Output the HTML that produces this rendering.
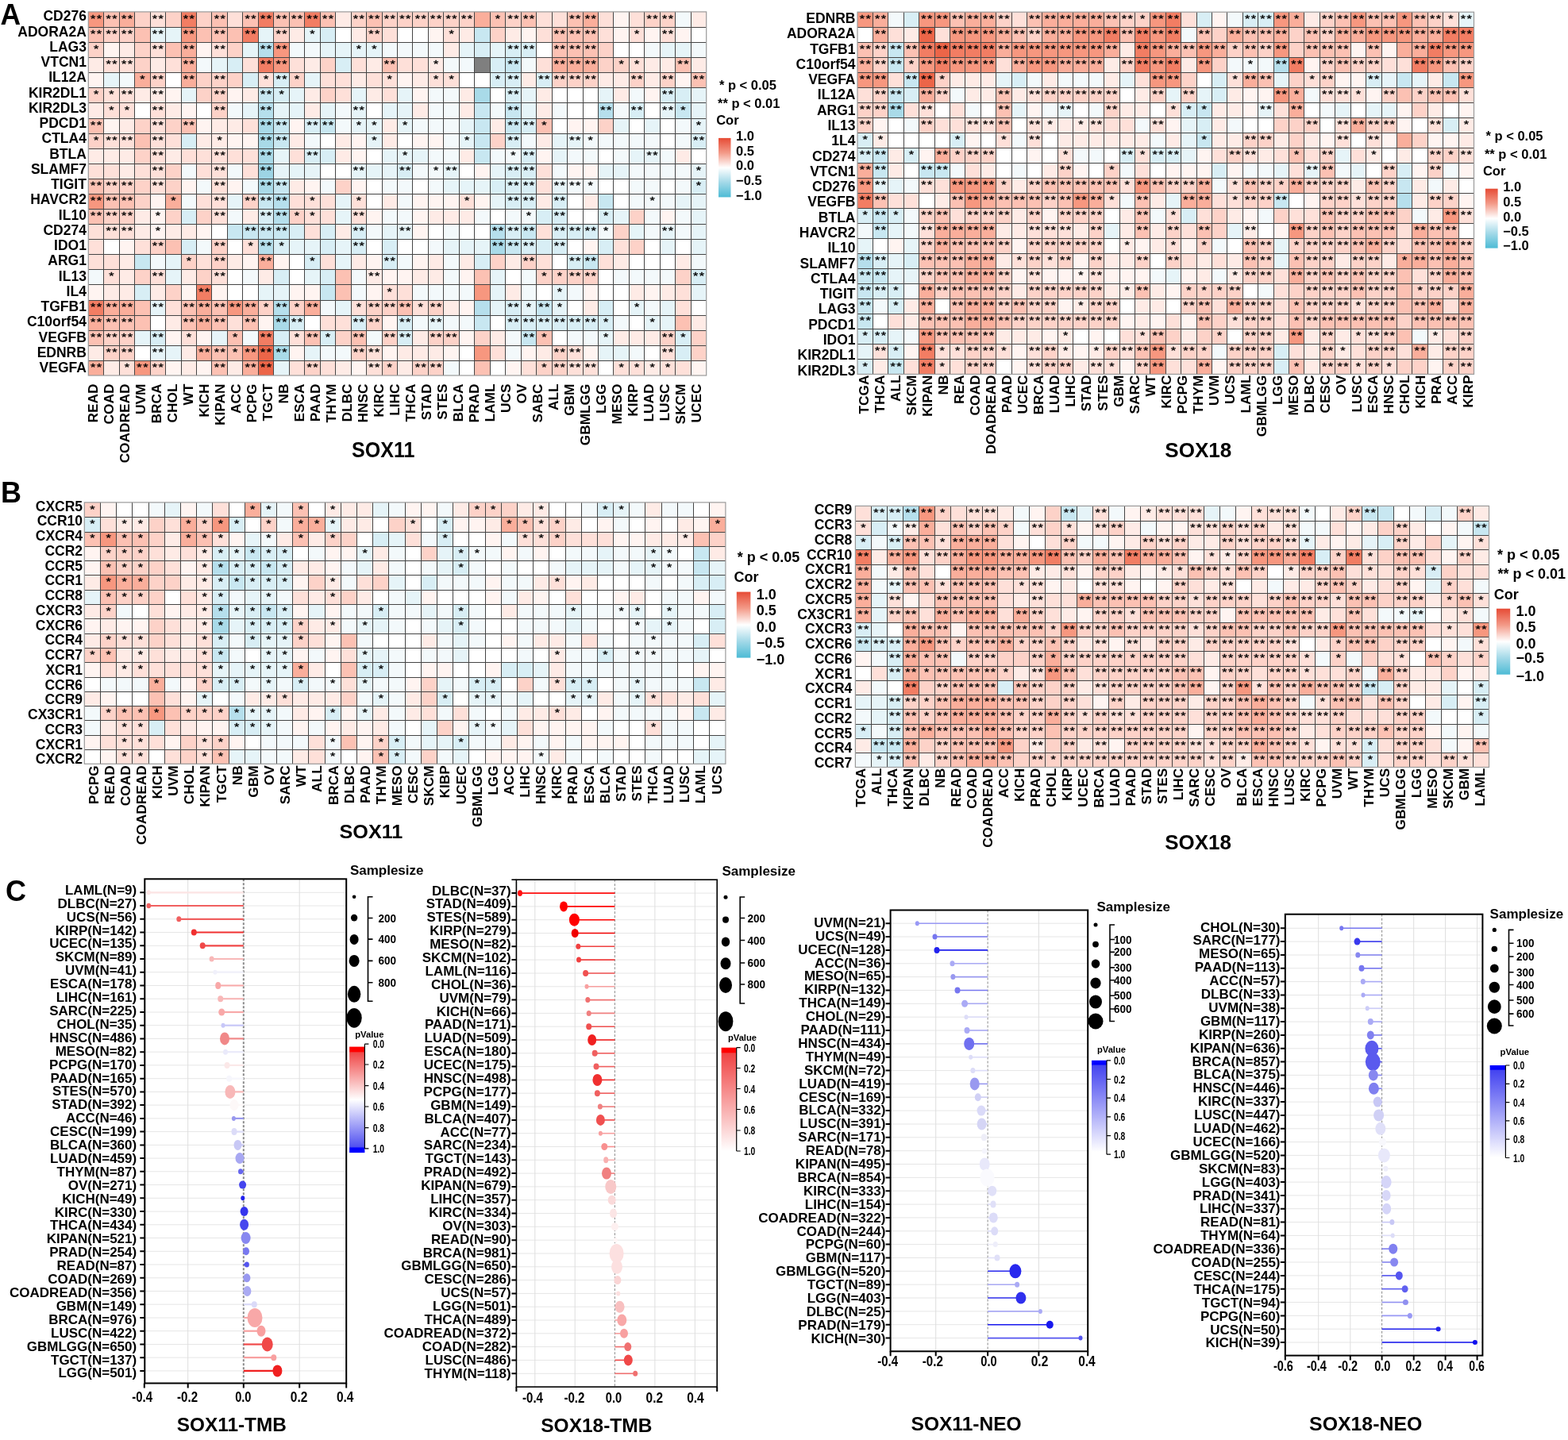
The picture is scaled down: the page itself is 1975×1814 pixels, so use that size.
<!DOCTYPE html>
<html><head><meta charset="utf-8"><title>Figure</title>
<style>html,body{margin:0;padding:0;background:#fff;}body{width:1975px;height:1814px;overflow:hidden;}svg{display:block;}text{font-family:'Liberation Sans', Arial, sans-serif;fill:#000;}</style>
</head><body>
<svg width="1975" height="1814" viewBox="0 0 1975 1814">
<rect width="1975" height="1814" fill="#fff"/>
<text x="0.5" y="30.5" font-size="36" font-weight="bold" textLength="25.6" lengthAdjust="spacingAndGlyphs">A</text>
<text x="1.0" y="633.0" font-size="36" font-weight="bold">B</text>
<text x="7.0" y="1134.5" font-size="36" font-weight="bold">C</text>
<g shape-rendering="crispEdges"><path fill="#F7977F" d="M111.3 14.9h19.8v19.4h-19.8zM228.1 34.0h19.8v19.4h-19.8zM344.8 53.1h19.8v19.4h-19.8zM344.8 72.2h19.8v19.4h-19.8zM111.3 244.0h19.8v19.4h-19.8zM597.8 358.5h19.8v19.4h-19.8zM286.4 377.6h19.8v19.4h-19.8zM305.9 434.8h19.8v19.4h-19.8zM597.8 434.8h19.8v19.4h-19.8zM169.7 453.9h19.8v19.4h-19.8z"/><path fill="#FCC1B3" d="M130.8 14.9h19.8v19.4h-19.8zM267.0 14.9h19.8v19.4h-19.8zM305.9 14.9h19.8v19.4h-19.8zM344.8 14.9h19.8v19.4h-19.8zM364.3 14.9h19.8v19.4h-19.8zM403.2 14.9h19.8v19.4h-19.8zM461.6 14.9h19.8v19.4h-19.8zM617.3 14.9h19.8v19.4h-19.8zM656.2 14.9h19.8v19.4h-19.8zM714.6 14.9h19.8v19.4h-19.8zM111.3 34.0h19.8v19.4h-19.8zM169.7 34.0h19.8v19.4h-19.8zM247.5 34.0h19.8v19.4h-19.8zM267.0 34.0h19.8v19.4h-19.8zM286.4 34.0h19.8v19.4h-19.8zM695.1 34.0h19.8v19.4h-19.8zM714.6 34.0h19.8v19.4h-19.8zM734.0 34.0h19.8v19.4h-19.8zM208.6 53.1h19.8v19.4h-19.8zM695.1 53.1h19.8v19.4h-19.8zM714.6 53.1h19.8v19.4h-19.8zM734.0 53.1h19.8v19.4h-19.8zM481.0 72.2h19.8v19.4h-19.8zM850.8 72.2h19.8v19.4h-19.8zM870.2 91.3h19.8v19.4h-19.8zM111.3 148.5h19.8v19.4h-19.8zM228.1 148.5h19.8v19.4h-19.8zM675.6 148.5h19.8v19.4h-19.8zM169.7 167.6h19.8v19.4h-19.8zM111.3 224.9h19.8v19.4h-19.8zM130.8 244.0h19.8v19.4h-19.8zM150.2 244.0h19.8v19.4h-19.8zM111.3 263.0h19.8v19.4h-19.8zM208.6 301.2h19.8v19.4h-19.8zM422.7 339.4h19.8v19.4h-19.8zM597.8 339.4h19.8v19.4h-19.8zM422.7 358.5h19.8v19.4h-19.8zM169.7 377.6h19.8v19.4h-19.8zM228.1 377.6h19.8v19.4h-19.8zM267.0 377.6h19.8v19.4h-19.8zM500.5 377.6h19.8v19.4h-19.8zM130.8 396.7h19.8v19.4h-19.8zM150.2 396.7h19.8v19.4h-19.8zM169.7 396.7h19.8v19.4h-19.8zM228.1 396.7h19.8v19.4h-19.8zM267.0 396.7h19.8v19.4h-19.8zM305.9 396.7h19.8v19.4h-19.8zM850.8 396.7h19.8v19.4h-19.8zM111.3 415.7h19.8v19.4h-19.8zM286.4 415.7h19.8v19.4h-19.8zM383.7 415.7h19.8v19.4h-19.8zM442.1 415.7h19.8v19.4h-19.8zM675.6 415.7h19.8v19.4h-19.8zM267.0 434.8h19.8v19.4h-19.8zM286.4 434.8h19.8v19.4h-19.8zM267.0 453.9h19.8v19.4h-19.8zM597.8 453.9h19.8v19.4h-19.8z"/><path fill="#FAAE9B" d="M150.2 14.9h19.8v19.4h-19.8zM597.8 14.9h19.8v19.4h-19.8zM734.0 14.9h19.8v19.4h-19.8zM228.1 53.1h19.8v19.4h-19.8zM228.1 72.2h19.8v19.4h-19.8zM695.1 72.2h19.8v19.4h-19.8zM714.6 72.2h19.8v19.4h-19.8zM734.0 72.2h19.8v19.4h-19.8zM169.7 91.3h19.8v19.4h-19.8zM228.1 91.3h19.8v19.4h-19.8zM208.6 244.0h19.8v19.4h-19.8zM325.4 320.3h19.8v19.4h-19.8zM130.8 377.6h19.8v19.4h-19.8zM150.2 377.6h19.8v19.4h-19.8zM247.5 377.6h19.8v19.4h-19.8zM305.9 377.6h19.8v19.4h-19.8zM383.7 377.6h19.8v19.4h-19.8zM111.3 396.7h19.8v19.4h-19.8zM247.5 396.7h19.8v19.4h-19.8zM247.5 434.8h19.8v19.4h-19.8zM111.3 453.9h19.8v19.4h-19.8zM305.9 453.9h19.8v19.4h-19.8z"/><path fill="#FDD2C8" d="M169.7 14.9h19.8v19.4h-19.8zM208.6 14.9h19.8v19.4h-19.8zM247.5 14.9h19.8v19.4h-19.8zM442.1 14.9h19.8v19.4h-19.8zM481.0 14.9h19.8v19.4h-19.8zM500.5 14.9h19.8v19.4h-19.8zM520.0 14.9h19.8v19.4h-19.8zM539.4 14.9h19.8v19.4h-19.8zM558.9 14.9h19.8v19.4h-19.8zM578.3 14.9h19.8v19.4h-19.8zM636.7 14.9h19.8v19.4h-19.8zM811.9 14.9h19.8v19.4h-19.8zM831.3 14.9h19.8v19.4h-19.8zM130.8 34.0h19.8v19.4h-19.8zM150.2 34.0h19.8v19.4h-19.8zM344.8 34.0h19.8v19.4h-19.8zM461.6 34.0h19.8v19.4h-19.8zM617.3 34.0h19.8v19.4h-19.8zM111.3 53.1h19.8v19.4h-19.8zM169.7 53.1h19.8v19.4h-19.8zM286.4 53.1h19.8v19.4h-19.8zM753.5 53.1h19.8v19.4h-19.8zM169.7 72.2h19.8v19.4h-19.8zM403.2 72.2h19.8v19.4h-19.8zM753.5 72.2h19.8v19.4h-19.8zM772.9 72.2h19.8v19.4h-19.8zM189.1 91.3h19.8v19.4h-19.8zM247.5 91.3h19.8v19.4h-19.8zM267.0 91.3h19.8v19.4h-19.8zM286.4 91.3h19.8v19.4h-19.8zM364.3 91.3h19.8v19.4h-19.8zM695.1 91.3h19.8v19.4h-19.8zM714.6 91.3h19.8v19.4h-19.8zM734.0 91.3h19.8v19.4h-19.8zM792.4 91.3h19.8v19.4h-19.8zM831.3 91.3h19.8v19.4h-19.8zM111.3 110.3h19.8v19.4h-19.8zM247.5 110.3h19.8v19.4h-19.8zM267.0 110.3h19.8v19.4h-19.8zM403.2 110.3h19.8v19.4h-19.8zM267.0 129.4h19.8v19.4h-19.8zM169.7 148.5h19.8v19.4h-19.8zM208.6 148.5h19.8v19.4h-19.8zM753.5 148.5h19.8v19.4h-19.8zM111.3 167.6h19.8v19.4h-19.8zM617.3 167.6h19.8v19.4h-19.8zM169.7 186.7h19.8v19.4h-19.8zM208.6 205.8h19.8v19.4h-19.8zM130.8 224.9h19.8v19.4h-19.8zM150.2 224.9h19.8v19.4h-19.8zM169.7 224.9h19.8v19.4h-19.8zM208.6 224.9h19.8v19.4h-19.8zM422.7 224.9h19.8v19.4h-19.8zM169.7 244.0h19.8v19.4h-19.8zM305.9 244.0h19.8v19.4h-19.8zM130.8 263.0h19.8v19.4h-19.8zM150.2 263.0h19.8v19.4h-19.8zM208.6 263.0h19.8v19.4h-19.8zM247.5 263.0h19.8v19.4h-19.8zM364.3 263.0h19.8v19.4h-19.8zM792.4 263.0h19.8v19.4h-19.8zM772.9 282.1h19.8v19.4h-19.8zM189.1 301.2h19.8v19.4h-19.8zM267.0 301.2h19.8v19.4h-19.8zM792.4 301.2h19.8v19.4h-19.8zM228.1 320.3h19.8v19.4h-19.8zM267.0 320.3h19.8v19.4h-19.8zM617.3 320.3h19.8v19.4h-19.8zM656.2 320.3h19.8v19.4h-19.8zM169.7 339.4h19.8v19.4h-19.8zM247.5 339.4h19.8v19.4h-19.8zM675.6 339.4h19.8v19.4h-19.8zM695.1 339.4h19.8v19.4h-19.8zM714.6 339.4h19.8v19.4h-19.8zM734.0 339.4h19.8v19.4h-19.8zM850.8 339.4h19.8v19.4h-19.8zM208.6 358.5h19.8v19.4h-19.8zM325.4 377.6h19.8v19.4h-19.8zM364.3 377.6h19.8v19.4h-19.8zM461.6 377.6h19.8v19.4h-19.8zM481.0 377.6h19.8v19.4h-19.8zM539.4 377.6h19.8v19.4h-19.8zM461.6 396.7h19.8v19.4h-19.8zM130.8 415.7h19.8v19.4h-19.8zM150.2 415.7h19.8v19.4h-19.8zM422.7 415.7h19.8v19.4h-19.8zM481.0 415.7h19.8v19.4h-19.8zM539.4 415.7h19.8v19.4h-19.8zM558.9 415.7h19.8v19.4h-19.8zM597.8 415.7h19.8v19.4h-19.8zM831.3 415.7h19.8v19.4h-19.8zM870.2 415.7h19.8v19.4h-19.8zM130.8 434.8h19.8v19.4h-19.8zM150.2 434.8h19.8v19.4h-19.8zM442.1 434.8h19.8v19.4h-19.8zM695.1 434.8h19.8v19.4h-19.8zM870.2 434.8h19.8v19.4h-19.8zM189.1 453.9h19.8v19.4h-19.8zM383.7 453.9h19.8v19.4h-19.8zM481.0 453.9h19.8v19.4h-19.8zM520.0 453.9h19.8v19.4h-19.8zM539.4 453.9h19.8v19.4h-19.8zM675.6 453.9h19.8v19.4h-19.8zM695.1 453.9h19.8v19.4h-19.8z"/><path fill="#FEE0D9" d="M189.1 14.9h19.8v19.4h-19.8zM286.4 14.9h19.8v19.4h-19.8zM675.6 14.9h19.8v19.4h-19.8zM695.1 14.9h19.8v19.4h-19.8zM753.5 14.9h19.8v19.4h-19.8zM792.4 14.9h19.8v19.4h-19.8zM481.0 34.0h19.8v19.4h-19.8zM558.9 34.0h19.8v19.4h-19.8zM675.6 34.0h19.8v19.4h-19.8zM753.5 34.0h19.8v19.4h-19.8zM792.4 34.0h19.8v19.4h-19.8zM831.3 34.0h19.8v19.4h-19.8zM189.1 53.1h19.8v19.4h-19.8zM267.0 53.1h19.8v19.4h-19.8zM130.8 72.2h19.8v19.4h-19.8zM150.2 72.2h19.8v19.4h-19.8zM208.6 72.2h19.8v19.4h-19.8zM305.9 72.2h19.8v19.4h-19.8zM364.3 72.2h19.8v19.4h-19.8zM442.1 72.2h19.8v19.4h-19.8zM500.5 72.2h19.8v19.4h-19.8zM520.0 72.2h19.8v19.4h-19.8zM675.6 72.2h19.8v19.4h-19.8zM792.4 72.2h19.8v19.4h-19.8zM325.4 91.3h19.8v19.4h-19.8zM403.2 91.3h19.8v19.4h-19.8zM422.7 91.3h19.8v19.4h-19.8zM461.6 91.3h19.8v19.4h-19.8zM481.0 91.3h19.8v19.4h-19.8zM539.4 91.3h19.8v19.4h-19.8zM558.9 91.3h19.8v19.4h-19.8zM130.8 110.3h19.8v19.4h-19.8zM150.2 110.3h19.8v19.4h-19.8zM422.7 110.3h19.8v19.4h-19.8zM481.0 110.3h19.8v19.4h-19.8zM130.8 129.4h19.8v19.4h-19.8zM150.2 129.4h19.8v19.4h-19.8zM189.1 129.4h19.8v19.4h-19.8zM189.1 148.5h19.8v19.4h-19.8zM305.9 148.5h19.8v19.4h-19.8zM130.8 167.6h19.8v19.4h-19.8zM150.2 167.6h19.8v19.4h-19.8zM189.1 167.6h19.8v19.4h-19.8zM208.6 167.6h19.8v19.4h-19.8zM189.1 186.7h19.8v19.4h-19.8zM228.1 186.7h19.8v19.4h-19.8zM247.5 186.7h19.8v19.4h-19.8zM267.0 186.7h19.8v19.4h-19.8zM286.4 186.7h19.8v19.4h-19.8zM305.9 186.7h19.8v19.4h-19.8zM364.3 186.7h19.8v19.4h-19.8zM111.3 205.8h19.8v19.4h-19.8zM130.8 205.8h19.8v19.4h-19.8zM169.7 205.8h19.8v19.4h-19.8zM189.1 205.8h19.8v19.4h-19.8zM247.5 205.8h19.8v19.4h-19.8zM267.0 205.8h19.8v19.4h-19.8zM305.9 205.8h19.8v19.4h-19.8zM675.6 205.8h19.8v19.4h-19.8zM189.1 224.9h19.8v19.4h-19.8zM267.0 224.9h19.8v19.4h-19.8zM675.6 224.9h19.8v19.4h-19.8zM247.5 244.0h19.8v19.4h-19.8zM267.0 244.0h19.8v19.4h-19.8zM364.3 244.0h19.8v19.4h-19.8zM383.7 244.0h19.8v19.4h-19.8zM403.2 244.0h19.8v19.4h-19.8zM442.1 244.0h19.8v19.4h-19.8zM578.3 244.0h19.8v19.4h-19.8zM267.0 263.0h19.8v19.4h-19.8zM383.7 263.0h19.8v19.4h-19.8zM403.2 263.0h19.8v19.4h-19.8zM442.1 263.0h19.8v19.4h-19.8zM111.3 282.1h19.8v19.4h-19.8zM130.8 282.1h19.8v19.4h-19.8zM150.2 282.1h19.8v19.4h-19.8zM383.7 282.1h19.8v19.4h-19.8zM675.6 282.1h19.8v19.4h-19.8zM111.3 301.2h19.8v19.4h-19.8zM169.7 301.2h19.8v19.4h-19.8zM305.9 301.2h19.8v19.4h-19.8zM772.9 301.2h19.8v19.4h-19.8zM111.3 320.3h19.8v19.4h-19.8zM130.8 320.3h19.8v19.4h-19.8zM247.5 320.3h19.8v19.4h-19.8zM403.2 320.3h19.8v19.4h-19.8zM675.6 320.3h19.8v19.4h-19.8zM753.5 320.3h19.8v19.4h-19.8zM130.8 339.4h19.8v19.4h-19.8zM189.1 339.4h19.8v19.4h-19.8zM267.0 339.4h19.8v19.4h-19.8zM481.0 358.5h19.8v19.4h-19.8zM500.5 358.5h19.8v19.4h-19.8zM850.8 358.5h19.8v19.4h-19.8zM208.6 377.6h19.8v19.4h-19.8zM442.1 377.6h19.8v19.4h-19.8zM520.0 377.6h19.8v19.4h-19.8zM850.8 377.6h19.8v19.4h-19.8zM286.4 396.7h19.8v19.4h-19.8zM403.2 396.7h19.8v19.4h-19.8zM422.7 396.7h19.8v19.4h-19.8zM228.1 415.7h19.8v19.4h-19.8zM364.3 415.7h19.8v19.4h-19.8zM461.6 434.8h19.8v19.4h-19.8zM617.3 434.8h19.8v19.4h-19.8zM714.6 434.8h19.8v19.4h-19.8zM831.3 434.8h19.8v19.4h-19.8zM150.2 453.9h19.8v19.4h-19.8zM364.3 453.9h19.8v19.4h-19.8zM403.2 453.9h19.8v19.4h-19.8zM461.6 453.9h19.8v19.4h-19.8zM656.2 453.9h19.8v19.4h-19.8zM714.6 453.9h19.8v19.4h-19.8zM734.0 453.9h19.8v19.4h-19.8zM772.9 453.9h19.8v19.4h-19.8zM792.4 453.9h19.8v19.4h-19.8zM831.3 453.9h19.8v19.4h-19.8zM850.8 453.9h19.8v19.4h-19.8z"/><path fill="#F27D63" d="M228.1 14.9h19.8v19.4h-19.8zM325.4 14.9h19.8v19.4h-19.8zM383.7 14.9h19.8v19.4h-19.8zM305.9 34.0h19.8v19.4h-19.8zM325.4 72.2h19.8v19.4h-19.8zM247.5 358.5h19.8v19.4h-19.8zM111.3 377.6h19.8v19.4h-19.8zM325.4 415.7h19.8v19.4h-19.8z"/><path fill="#FEEBE6" d="M422.7 14.9h19.8v19.4h-19.8zM870.2 14.9h19.8v19.4h-19.8zM364.3 34.0h19.8v19.4h-19.8zM442.1 34.0h19.8v19.4h-19.8zM578.3 34.0h19.8v19.4h-19.8zM636.7 34.0h19.8v19.4h-19.8zM150.2 53.1h19.8v19.4h-19.8zM558.9 53.1h19.8v19.4h-19.8zM111.3 72.2h19.8v19.4h-19.8zM189.1 72.2h19.8v19.4h-19.8zM383.7 72.2h19.8v19.4h-19.8zM461.6 72.2h19.8v19.4h-19.8zM539.4 72.2h19.8v19.4h-19.8zM811.9 72.2h19.8v19.4h-19.8zM831.3 72.2h19.8v19.4h-19.8zM870.2 72.2h19.8v19.4h-19.8zM442.1 91.3h19.8v19.4h-19.8zM520.0 91.3h19.8v19.4h-19.8zM656.2 91.3h19.8v19.4h-19.8zM753.5 91.3h19.8v19.4h-19.8zM772.9 91.3h19.8v19.4h-19.8zM811.9 91.3h19.8v19.4h-19.8zM169.7 110.3h19.8v19.4h-19.8zM189.1 110.3h19.8v19.4h-19.8zM305.9 110.3h19.8v19.4h-19.8zM383.7 110.3h19.8v19.4h-19.8zM461.6 110.3h19.8v19.4h-19.8zM578.3 110.3h19.8v19.4h-19.8zM675.6 110.3h19.8v19.4h-19.8zM772.9 110.3h19.8v19.4h-19.8zM111.3 129.4h19.8v19.4h-19.8zM208.6 129.4h19.8v19.4h-19.8zM383.7 129.4h19.8v19.4h-19.8zM520.0 129.4h19.8v19.4h-19.8zM578.3 129.4h19.8v19.4h-19.8zM675.6 129.4h19.8v19.4h-19.8zM150.2 148.5h19.8v19.4h-19.8zM267.0 148.5h19.8v19.4h-19.8zM286.4 148.5h19.8v19.4h-19.8zM481.0 148.5h19.8v19.4h-19.8zM617.3 148.5h19.8v19.4h-19.8zM247.5 167.6h19.8v19.4h-19.8zM267.0 167.6h19.8v19.4h-19.8zM364.3 167.6h19.8v19.4h-19.8zM422.7 167.6h19.8v19.4h-19.8zM481.0 167.6h19.8v19.4h-19.8zM675.6 167.6h19.8v19.4h-19.8zM111.3 186.7h19.8v19.4h-19.8zM130.8 186.7h19.8v19.4h-19.8zM150.2 186.7h19.8v19.4h-19.8zM208.6 186.7h19.8v19.4h-19.8zM422.7 186.7h19.8v19.4h-19.8zM578.3 186.7h19.8v19.4h-19.8zM850.8 186.7h19.8v19.4h-19.8zM150.2 205.8h19.8v19.4h-19.8zM364.3 224.9h19.8v19.4h-19.8zM481.0 244.0h19.8v19.4h-19.8zM675.6 244.0h19.8v19.4h-19.8zM734.0 244.0h19.8v19.4h-19.8zM169.7 263.0h19.8v19.4h-19.8zM305.9 263.0h19.8v19.4h-19.8zM539.4 263.0h19.8v19.4h-19.8zM558.9 263.0h19.8v19.4h-19.8zM578.3 263.0h19.8v19.4h-19.8zM169.7 282.1h19.8v19.4h-19.8zM208.6 282.1h19.8v19.4h-19.8zM228.1 282.1h19.8v19.4h-19.8zM422.7 282.1h19.8v19.4h-19.8zM150.2 320.3h19.8v19.4h-19.8zM286.4 320.3h19.8v19.4h-19.8zM442.1 320.3h19.8v19.4h-19.8zM539.4 320.3h19.8v19.4h-19.8zM578.3 320.3h19.8v19.4h-19.8zM636.7 320.3h19.8v19.4h-19.8zM772.9 320.3h19.8v19.4h-19.8zM850.8 320.3h19.8v19.4h-19.8zM150.2 339.4h19.8v19.4h-19.8zM228.1 339.4h19.8v19.4h-19.8zM325.4 339.4h19.8v19.4h-19.8zM461.6 339.4h19.8v19.4h-19.8zM520.0 339.4h19.8v19.4h-19.8zM539.4 339.4h19.8v19.4h-19.8zM130.8 358.5h19.8v19.4h-19.8zM150.2 358.5h19.8v19.4h-19.8zM189.1 358.5h19.8v19.4h-19.8zM636.7 358.5h19.8v19.4h-19.8zM792.4 358.5h19.8v19.4h-19.8zM831.3 358.5h19.8v19.4h-19.8zM558.9 377.6h19.8v19.4h-19.8zM734.0 377.6h19.8v19.4h-19.8zM208.6 396.7h19.8v19.4h-19.8zM870.2 396.7h19.8v19.4h-19.8zM520.0 415.7h19.8v19.4h-19.8zM617.3 415.7h19.8v19.4h-19.8zM772.9 415.7h19.8v19.4h-19.8zM792.4 415.7h19.8v19.4h-19.8zM811.9 415.7h19.8v19.4h-19.8zM111.3 434.8h19.8v19.4h-19.8zM228.1 434.8h19.8v19.4h-19.8zM500.5 434.8h19.8v19.4h-19.8zM520.0 434.8h19.8v19.4h-19.8zM539.4 434.8h19.8v19.4h-19.8zM675.6 434.8h19.8v19.4h-19.8zM130.8 453.9h19.8v19.4h-19.8zM228.1 453.9h19.8v19.4h-19.8zM286.4 453.9h19.8v19.4h-19.8zM422.7 453.9h19.8v19.4h-19.8zM500.5 453.9h19.8v19.4h-19.8zM811.9 453.9h19.8v19.4h-19.8z"/><path fill="#FFF4F1" d="M772.9 14.9h19.8v19.4h-19.8zM539.4 34.0h19.8v19.4h-19.8zM656.2 34.0h19.8v19.4h-19.8zM772.9 34.0h19.8v19.4h-19.8zM811.9 34.0h19.8v19.4h-19.8zM850.8 34.0h19.8v19.4h-19.8zM130.8 53.1h19.8v19.4h-19.8zM247.5 53.1h19.8v19.4h-19.8zM111.3 91.3h19.8v19.4h-19.8zM500.5 91.3h19.8v19.4h-19.8zM850.8 91.3h19.8v19.4h-19.8zM208.6 110.3h19.8v19.4h-19.8zM286.4 110.3h19.8v19.4h-19.8zM520.0 110.3h19.8v19.4h-19.8zM811.9 110.3h19.8v19.4h-19.8zM228.1 129.4h19.8v19.4h-19.8zM130.8 148.5h19.8v19.4h-19.8zM247.5 148.5h19.8v19.4h-19.8zM364.3 148.5h19.8v19.4h-19.8zM714.6 148.5h19.8v19.4h-19.8zM734.0 148.5h19.8v19.4h-19.8zM286.4 167.6h19.8v19.4h-19.8zM305.9 167.6h19.8v19.4h-19.8zM442.1 167.6h19.8v19.4h-19.8zM520.0 167.6h19.8v19.4h-19.8zM539.4 167.6h19.8v19.4h-19.8zM442.1 186.7h19.8v19.4h-19.8zM675.6 186.7h19.8v19.4h-19.8zM597.8 205.8h19.8v19.4h-19.8zM714.6 205.8h19.8v19.4h-19.8zM734.0 205.8h19.8v19.4h-19.8zM228.1 224.9h19.8v19.4h-19.8zM286.4 224.9h19.8v19.4h-19.8zM383.7 224.9h19.8v19.4h-19.8zM442.1 224.9h19.8v19.4h-19.8zM189.1 244.0h19.8v19.4h-19.8zM520.0 244.0h19.8v19.4h-19.8zM539.4 244.0h19.8v19.4h-19.8zM558.9 244.0h19.8v19.4h-19.8zM597.8 244.0h19.8v19.4h-19.8zM189.1 263.0h19.8v19.4h-19.8zM461.6 263.0h19.8v19.4h-19.8zM520.0 263.0h19.8v19.4h-19.8zM831.3 263.0h19.8v19.4h-19.8zM189.1 282.1h19.8v19.4h-19.8zM247.5 282.1h19.8v19.4h-19.8zM520.0 282.1h19.8v19.4h-19.8zM150.2 301.2h19.8v19.4h-19.8zM734.0 301.2h19.8v19.4h-19.8zM305.9 320.3h19.8v19.4h-19.8zM344.8 320.3h19.8v19.4h-19.8zM461.6 320.3h19.8v19.4h-19.8zM520.0 320.3h19.8v19.4h-19.8zM481.0 339.4h19.8v19.4h-19.8zM500.5 339.4h19.8v19.4h-19.8zM578.3 339.4h19.8v19.4h-19.8zM111.3 358.5h19.8v19.4h-19.8zM228.1 358.5h19.8v19.4h-19.8zM267.0 358.5h19.8v19.4h-19.8zM364.3 358.5h19.8v19.4h-19.8zM383.7 358.5h19.8v19.4h-19.8zM461.6 358.5h19.8v19.4h-19.8zM734.0 358.5h19.8v19.4h-19.8zM811.9 358.5h19.8v19.4h-19.8zM578.3 377.6h19.8v19.4h-19.8zM325.4 396.7h19.8v19.4h-19.8zM481.0 396.7h19.8v19.4h-19.8zM208.6 415.7h19.8v19.4h-19.8zM247.5 415.7h19.8v19.4h-19.8zM578.3 415.7h19.8v19.4h-19.8zM364.3 434.8h19.8v19.4h-19.8zM481.0 434.8h19.8v19.4h-19.8zM558.9 434.8h19.8v19.4h-19.8zM656.2 434.8h19.8v19.4h-19.8zM734.0 434.8h19.8v19.4h-19.8zM208.6 453.9h19.8v19.4h-19.8zM247.5 453.9h19.8v19.4h-19.8zM442.1 453.9h19.8v19.4h-19.8zM636.7 453.9h19.8v19.4h-19.8zM870.2 453.9h19.8v19.4h-19.8z"/><path fill="#F3F9FB" d="M850.8 14.9h19.8v19.4h-19.8zM364.3 53.1h19.8v19.4h-19.8zM383.7 53.1h19.8v19.4h-19.8zM481.0 53.1h19.8v19.4h-19.8zM500.5 53.1h19.8v19.4h-19.8zM520.0 53.1h19.8v19.4h-19.8zM539.4 53.1h19.8v19.4h-19.8zM811.9 53.1h19.8v19.4h-19.8zM870.2 53.1h19.8v19.4h-19.8zM247.5 72.2h19.8v19.4h-19.8zM558.9 72.2h19.8v19.4h-19.8zM578.3 72.2h19.8v19.4h-19.8zM656.2 72.2h19.8v19.4h-19.8zM150.2 91.3h19.8v19.4h-19.8zM539.4 110.3h19.8v19.4h-19.8zM558.9 110.3h19.8v19.4h-19.8zM792.4 110.3h19.8v19.4h-19.8zM286.4 129.4h19.8v19.4h-19.8zM422.7 129.4h19.8v19.4h-19.8zM539.4 129.4h19.8v19.4h-19.8zM558.9 129.4h19.8v19.4h-19.8zM617.3 129.4h19.8v19.4h-19.8zM695.1 129.4h19.8v19.4h-19.8zM772.9 129.4h19.8v19.4h-19.8zM422.7 148.5h19.8v19.4h-19.8zM520.0 148.5h19.8v19.4h-19.8zM539.4 148.5h19.8v19.4h-19.8zM558.9 148.5h19.8v19.4h-19.8zM850.8 148.5h19.8v19.4h-19.8zM383.7 167.6h19.8v19.4h-19.8zM558.9 167.6h19.8v19.4h-19.8zM656.2 167.6h19.8v19.4h-19.8zM734.0 167.6h19.8v19.4h-19.8zM753.5 167.6h19.8v19.4h-19.8zM772.9 167.6h19.8v19.4h-19.8zM792.4 167.6h19.8v19.4h-19.8zM811.9 167.6h19.8v19.4h-19.8zM850.8 167.6h19.8v19.4h-19.8zM539.4 186.7h19.8v19.4h-19.8zM558.9 186.7h19.8v19.4h-19.8zM617.3 186.7h19.8v19.4h-19.8zM636.7 186.7h19.8v19.4h-19.8zM714.6 186.7h19.8v19.4h-19.8zM734.0 186.7h19.8v19.4h-19.8zM772.9 186.7h19.8v19.4h-19.8zM831.3 186.7h19.8v19.4h-19.8zM228.1 205.8h19.8v19.4h-19.8zM286.4 205.8h19.8v19.4h-19.8zM520.0 205.8h19.8v19.4h-19.8zM539.4 205.8h19.8v19.4h-19.8zM695.1 205.8h19.8v19.4h-19.8zM792.4 205.8h19.8v19.4h-19.8zM811.9 205.8h19.8v19.4h-19.8zM831.3 205.8h19.8v19.4h-19.8zM850.8 205.8h19.8v19.4h-19.8zM247.5 224.9h19.8v19.4h-19.8zM305.9 224.9h19.8v19.4h-19.8zM403.2 224.9h19.8v19.4h-19.8zM481.0 224.9h19.8v19.4h-19.8zM500.5 224.9h19.8v19.4h-19.8zM539.4 224.9h19.8v19.4h-19.8zM714.6 224.9h19.8v19.4h-19.8zM734.0 224.9h19.8v19.4h-19.8zM792.4 224.9h19.8v19.4h-19.8zM811.9 224.9h19.8v19.4h-19.8zM850.8 224.9h19.8v19.4h-19.8zM228.1 244.0h19.8v19.4h-19.8zM500.5 244.0h19.8v19.4h-19.8zM792.4 244.0h19.8v19.4h-19.8zM811.9 244.0h19.8v19.4h-19.8zM831.3 244.0h19.8v19.4h-19.8zM286.4 263.0h19.8v19.4h-19.8zM481.0 263.0h19.8v19.4h-19.8zM500.5 263.0h19.8v19.4h-19.8zM597.8 263.0h19.8v19.4h-19.8zM636.7 263.0h19.8v19.4h-19.8zM656.2 263.0h19.8v19.4h-19.8zM811.9 263.0h19.8v19.4h-19.8zM850.8 263.0h19.8v19.4h-19.8zM461.6 282.1h19.8v19.4h-19.8zM558.9 282.1h19.8v19.4h-19.8zM753.5 282.1h19.8v19.4h-19.8zM811.9 282.1h19.8v19.4h-19.8zM850.8 282.1h19.8v19.4h-19.8zM247.5 301.2h19.8v19.4h-19.8zM539.4 301.2h19.8v19.4h-19.8zM189.1 320.3h19.8v19.4h-19.8zM500.5 320.3h19.8v19.4h-19.8zM558.9 320.3h19.8v19.4h-19.8zM870.2 320.3h19.8v19.4h-19.8zM111.3 339.4h19.8v19.4h-19.8zM305.9 339.4h19.8v19.4h-19.8zM442.1 339.4h19.8v19.4h-19.8zM558.9 339.4h19.8v19.4h-19.8zM656.2 339.4h19.8v19.4h-19.8zM772.9 339.4h19.8v19.4h-19.8zM792.4 339.4h19.8v19.4h-19.8zM811.9 339.4h19.8v19.4h-19.8zM831.3 339.4h19.8v19.4h-19.8zM442.1 358.5h19.8v19.4h-19.8zM520.0 358.5h19.8v19.4h-19.8zM539.4 358.5h19.8v19.4h-19.8zM558.9 358.5h19.8v19.4h-19.8zM578.3 358.5h19.8v19.4h-19.8zM656.2 358.5h19.8v19.4h-19.8zM714.6 358.5h19.8v19.4h-19.8zM403.2 377.6h19.8v19.4h-19.8zM811.9 377.6h19.8v19.4h-19.8zM520.0 396.7h19.8v19.4h-19.8zM558.9 396.7h19.8v19.4h-19.8zM578.3 396.7h19.8v19.4h-19.8zM772.9 396.7h19.8v19.4h-19.8zM305.9 415.7h19.8v19.4h-19.8zM461.6 415.7h19.8v19.4h-19.8zM636.7 415.7h19.8v19.4h-19.8zM714.6 415.7h19.8v19.4h-19.8zM734.0 415.7h19.8v19.4h-19.8zM403.2 434.8h19.8v19.4h-19.8zM422.7 434.8h19.8v19.4h-19.8zM636.7 434.8h19.8v19.4h-19.8zM792.4 434.8h19.8v19.4h-19.8zM558.9 453.9h19.8v19.4h-19.8z"/><path fill="#E6F4F8" d="M189.1 34.0h19.8v19.4h-19.8zM208.6 34.0h19.8v19.4h-19.8zM325.4 34.0h19.8v19.4h-19.8zM383.7 34.0h19.8v19.4h-19.8zM305.9 53.1h19.8v19.4h-19.8zM403.2 53.1h19.8v19.4h-19.8zM422.7 53.1h19.8v19.4h-19.8zM442.1 53.1h19.8v19.4h-19.8zM461.6 53.1h19.8v19.4h-19.8zM578.3 53.1h19.8v19.4h-19.8zM617.3 53.1h19.8v19.4h-19.8zM831.3 53.1h19.8v19.4h-19.8zM850.8 53.1h19.8v19.4h-19.8zM267.0 72.2h19.8v19.4h-19.8zM130.8 91.3h19.8v19.4h-19.8zM383.7 91.3h19.8v19.4h-19.8zM228.1 110.3h19.8v19.4h-19.8zM364.3 110.3h19.8v19.4h-19.8zM442.1 110.3h19.8v19.4h-19.8zM500.5 110.3h19.8v19.4h-19.8zM656.2 110.3h19.8v19.4h-19.8zM753.5 110.3h19.8v19.4h-19.8zM870.2 110.3h19.8v19.4h-19.8zM305.9 129.4h19.8v19.4h-19.8zM344.8 129.4h19.8v19.4h-19.8zM364.3 129.4h19.8v19.4h-19.8zM403.2 129.4h19.8v19.4h-19.8zM442.1 129.4h19.8v19.4h-19.8zM481.0 129.4h19.8v19.4h-19.8zM500.5 129.4h19.8v19.4h-19.8zM656.2 129.4h19.8v19.4h-19.8zM831.3 129.4h19.8v19.4h-19.8zM870.2 129.4h19.8v19.4h-19.8zM442.1 148.5h19.8v19.4h-19.8zM461.6 148.5h19.8v19.4h-19.8zM500.5 148.5h19.8v19.4h-19.8zM578.3 148.5h19.8v19.4h-19.8zM772.9 148.5h19.8v19.4h-19.8zM811.9 148.5h19.8v19.4h-19.8zM870.2 148.5h19.8v19.4h-19.8zM461.6 167.6h19.8v19.4h-19.8zM578.3 167.6h19.8v19.4h-19.8zM695.1 167.6h19.8v19.4h-19.8zM714.6 167.6h19.8v19.4h-19.8zM344.8 186.7h19.8v19.4h-19.8zM481.0 186.7h19.8v19.4h-19.8zM500.5 186.7h19.8v19.4h-19.8zM520.0 186.7h19.8v19.4h-19.8zM695.1 186.7h19.8v19.4h-19.8zM792.4 186.7h19.8v19.4h-19.8zM811.9 186.7h19.8v19.4h-19.8zM344.8 205.8h19.8v19.4h-19.8zM364.3 205.8h19.8v19.4h-19.8zM383.7 205.8h19.8v19.4h-19.8zM442.1 205.8h19.8v19.4h-19.8zM461.6 205.8h19.8v19.4h-19.8zM481.0 205.8h19.8v19.4h-19.8zM558.9 205.8h19.8v19.4h-19.8zM617.3 205.8h19.8v19.4h-19.8zM753.5 205.8h19.8v19.4h-19.8zM772.9 205.8h19.8v19.4h-19.8zM870.2 205.8h19.8v19.4h-19.8zM558.9 224.9h19.8v19.4h-19.8zM578.3 224.9h19.8v19.4h-19.8zM597.8 224.9h19.8v19.4h-19.8zM695.1 224.9h19.8v19.4h-19.8zM286.4 244.0h19.8v19.4h-19.8zM422.7 244.0h19.8v19.4h-19.8zM617.3 244.0h19.8v19.4h-19.8zM850.8 244.0h19.8v19.4h-19.8zM870.2 244.0h19.8v19.4h-19.8zM422.7 263.0h19.8v19.4h-19.8zM772.9 263.0h19.8v19.4h-19.8zM870.2 263.0h19.8v19.4h-19.8zM481.0 282.1h19.8v19.4h-19.8zM500.5 282.1h19.8v19.4h-19.8zM792.4 282.1h19.8v19.4h-19.8zM831.3 282.1h19.8v19.4h-19.8zM870.2 282.1h19.8v19.4h-19.8zM364.3 301.2h19.8v19.4h-19.8zM383.7 301.2h19.8v19.4h-19.8zM422.7 301.2h19.8v19.4h-19.8zM558.9 301.2h19.8v19.4h-19.8zM578.3 301.2h19.8v19.4h-19.8zM597.8 301.2h19.8v19.4h-19.8zM831.3 301.2h19.8v19.4h-19.8zM870.2 301.2h19.8v19.4h-19.8zM208.6 320.3h19.8v19.4h-19.8zM422.7 320.3h19.8v19.4h-19.8zM208.6 339.4h19.8v19.4h-19.8zM383.7 339.4h19.8v19.4h-19.8zM617.3 339.4h19.8v19.4h-19.8zM325.4 358.5h19.8v19.4h-19.8zM344.8 358.5h19.8v19.4h-19.8zM617.3 358.5h19.8v19.4h-19.8zM695.1 358.5h19.8v19.4h-19.8zM870.2 358.5h19.8v19.4h-19.8zM189.1 377.6h19.8v19.4h-19.8zM422.7 377.6h19.8v19.4h-19.8zM617.3 377.6h19.8v19.4h-19.8zM656.2 377.6h19.8v19.4h-19.8zM695.1 377.6h19.8v19.4h-19.8zM792.4 377.6h19.8v19.4h-19.8zM831.3 377.6h19.8v19.4h-19.8zM539.4 396.7h19.8v19.4h-19.8zM811.9 396.7h19.8v19.4h-19.8zM831.3 396.7h19.8v19.4h-19.8zM169.7 415.7h19.8v19.4h-19.8zM267.0 415.7h19.8v19.4h-19.8zM753.5 415.7h19.8v19.4h-19.8zM189.1 434.8h19.8v19.4h-19.8zM208.6 434.8h19.8v19.4h-19.8zM383.7 434.8h19.8v19.4h-19.8zM753.5 434.8h19.8v19.4h-19.8zM772.9 434.8h19.8v19.4h-19.8zM344.8 453.9h19.8v19.4h-19.8z"/><path fill="#D8EEF5" d="M403.2 34.0h19.8v19.4h-19.8zM597.8 53.1h19.8v19.4h-19.8zM636.7 53.1h19.8v19.4h-19.8zM656.2 53.1h19.8v19.4h-19.8zM286.4 72.2h19.8v19.4h-19.8zM422.7 72.2h19.8v19.4h-19.8zM617.3 72.2h19.8v19.4h-19.8zM305.9 91.3h19.8v19.4h-19.8zM344.8 91.3h19.8v19.4h-19.8zM617.3 91.3h19.8v19.4h-19.8zM636.7 91.3h19.8v19.4h-19.8zM675.6 91.3h19.8v19.4h-19.8zM344.8 110.3h19.8v19.4h-19.8zM636.7 110.3h19.8v19.4h-19.8zM831.3 110.3h19.8v19.4h-19.8zM850.8 110.3h19.8v19.4h-19.8zM792.4 129.4h19.8v19.4h-19.8zM383.7 148.5h19.8v19.4h-19.8zM656.2 148.5h19.8v19.4h-19.8zM228.1 167.6h19.8v19.4h-19.8zM636.7 167.6h19.8v19.4h-19.8zM870.2 167.6h19.8v19.4h-19.8zM383.7 186.7h19.8v19.4h-19.8zM403.2 186.7h19.8v19.4h-19.8zM656.2 186.7h19.8v19.4h-19.8zM500.5 205.8h19.8v19.4h-19.8zM636.7 205.8h19.8v19.4h-19.8zM656.2 205.8h19.8v19.4h-19.8zM617.3 224.9h19.8v19.4h-19.8zM636.7 224.9h19.8v19.4h-19.8zM656.2 224.9h19.8v19.4h-19.8zM870.2 224.9h19.8v19.4h-19.8zM636.7 244.0h19.8v19.4h-19.8zM656.2 244.0h19.8v19.4h-19.8zM695.1 244.0h19.8v19.4h-19.8zM228.1 263.0h19.8v19.4h-19.8zM325.4 263.0h19.8v19.4h-19.8zM675.6 263.0h19.8v19.4h-19.8zM695.1 263.0h19.8v19.4h-19.8zM753.5 263.0h19.8v19.4h-19.8zM364.3 282.1h19.8v19.4h-19.8zM403.2 282.1h19.8v19.4h-19.8zM442.1 282.1h19.8v19.4h-19.8zM636.7 282.1h19.8v19.4h-19.8zM695.1 282.1h19.8v19.4h-19.8zM714.6 282.1h19.8v19.4h-19.8zM734.0 282.1h19.8v19.4h-19.8zM228.1 301.2h19.8v19.4h-19.8zM344.8 301.2h19.8v19.4h-19.8zM403.2 301.2h19.8v19.4h-19.8zM442.1 301.2h19.8v19.4h-19.8zM481.0 301.2h19.8v19.4h-19.8zM656.2 301.2h19.8v19.4h-19.8zM675.6 301.2h19.8v19.4h-19.8zM695.1 301.2h19.8v19.4h-19.8zM753.5 301.2h19.8v19.4h-19.8zM383.7 320.3h19.8v19.4h-19.8zM481.0 320.3h19.8v19.4h-19.8zM597.8 320.3h19.8v19.4h-19.8zM714.6 320.3h19.8v19.4h-19.8zM344.8 339.4h19.8v19.4h-19.8zM403.2 339.4h19.8v19.4h-19.8zM870.2 339.4h19.8v19.4h-19.8zM169.7 358.5h19.8v19.4h-19.8zM636.7 377.6h19.8v19.4h-19.8zM753.5 377.6h19.8v19.4h-19.8zM364.3 396.7h19.8v19.4h-19.8zM442.1 396.7h19.8v19.4h-19.8zM500.5 396.7h19.8v19.4h-19.8zM636.7 396.7h19.8v19.4h-19.8zM656.2 396.7h19.8v19.4h-19.8zM675.6 396.7h19.8v19.4h-19.8zM695.1 396.7h19.8v19.4h-19.8zM714.6 396.7h19.8v19.4h-19.8zM734.0 396.7h19.8v19.4h-19.8zM753.5 396.7h19.8v19.4h-19.8zM189.1 415.7h19.8v19.4h-19.8zM344.8 415.7h19.8v19.4h-19.8zM403.2 415.7h19.8v19.4h-19.8zM500.5 415.7h19.8v19.4h-19.8zM850.8 415.7h19.8v19.4h-19.8zM850.8 434.8h19.8v19.4h-19.8z"/><path fill="#C8E7F1" d="M597.8 34.0h19.8v19.4h-19.8zM636.7 72.2h19.8v19.4h-19.8zM325.4 110.3h19.8v19.4h-19.8zM597.8 129.4h19.8v19.4h-19.8zM636.7 129.4h19.8v19.4h-19.8zM850.8 129.4h19.8v19.4h-19.8zM344.8 148.5h19.8v19.4h-19.8zM403.2 148.5h19.8v19.4h-19.8zM597.8 148.5h19.8v19.4h-19.8zM636.7 148.5h19.8v19.4h-19.8zM344.8 167.6h19.8v19.4h-19.8zM597.8 167.6h19.8v19.4h-19.8zM597.8 186.7h19.8v19.4h-19.8zM344.8 224.9h19.8v19.4h-19.8zM325.4 244.0h19.8v19.4h-19.8zM753.5 244.0h19.8v19.4h-19.8zM286.4 282.1h19.8v19.4h-19.8zM305.9 282.1h19.8v19.4h-19.8zM325.4 282.1h19.8v19.4h-19.8zM344.8 282.1h19.8v19.4h-19.8zM656.2 282.1h19.8v19.4h-19.8zM636.7 301.2h19.8v19.4h-19.8zM169.7 320.3h19.8v19.4h-19.8zM734.0 320.3h19.8v19.4h-19.8zM403.2 358.5h19.8v19.4h-19.8zM675.6 377.6h19.8v19.4h-19.8zM597.8 396.7h19.8v19.4h-19.8zM656.2 415.7h19.8v19.4h-19.8z"/><path fill="#B6DFEC" d="M325.4 53.1h19.8v19.4h-19.8zM325.4 129.4h19.8v19.4h-19.8zM753.5 129.4h19.8v19.4h-19.8zM344.8 244.0h19.8v19.4h-19.8zM344.8 263.0h19.8v19.4h-19.8zM617.3 282.1h19.8v19.4h-19.8zM325.4 301.2h19.8v19.4h-19.8zM344.8 377.6h19.8v19.4h-19.8zM597.8 377.6h19.8v19.4h-19.8z"/><path fill="#7F7F7F" d="M597.8 72.2h19.8v19.4h-19.8z"/><path fill="#A9DAE8" d="M597.8 110.3h19.8v19.4h-19.8zM325.4 148.5h19.8v19.4h-19.8zM325.4 167.6h19.8v19.4h-19.8zM325.4 186.7h19.8v19.4h-19.8zM325.4 224.9h19.8v19.4h-19.8zM617.3 301.2h19.8v19.4h-19.8zM344.8 396.7h19.8v19.4h-19.8zM344.8 434.8h19.8v19.4h-19.8z"/><path fill="#9DD4E4" d="M325.4 205.8h19.8v19.4h-19.8z"/><path fill="#EC6548" d="M325.4 434.8h19.8v19.4h-19.8zM325.4 453.9h19.8v19.4h-19.8z"/></g>
<path d="M130.5 14.9V473.0M150.5 14.9V473.0M169.5 14.9V473.0M189.5 14.9V473.0M208.5 14.9V473.0M228.5 14.9V473.0M247.5 14.9V473.0M266.5 14.9V473.0M286.5 14.9V473.0M305.5 14.9V473.0M325.5 14.9V473.0M344.5 14.9V473.0M364.5 14.9V473.0M383.5 14.9V473.0M403.5 14.9V473.0M422.5 14.9V473.0M442.5 14.9V473.0M461.5 14.9V473.0M481.5 14.9V473.0M500.5 14.9V473.0M519.5 14.9V473.0M539.5 14.9V473.0M558.5 14.9V473.0M578.5 14.9V473.0M597.5 14.9V473.0M617.5 14.9V473.0M636.5 14.9V473.0M656.5 14.9V473.0M675.5 14.9V473.0M695.5 14.9V473.0M714.5 14.9V473.0M734.5 14.9V473.0M753.5 14.9V473.0M772.5 14.9V473.0M792.5 14.9V473.0M811.5 14.9V473.0M831.5 14.9V473.0M850.5 14.9V473.0M870.5 14.9V473.0M111.3 34.5H889.7M111.3 53.5H889.7M111.3 72.5H889.7M111.3 91.5H889.7M111.3 110.5H889.7M111.3 129.5H889.7M111.3 149.5H889.7M111.3 168.5H889.7M111.3 187.5H889.7M111.3 206.5H889.7M111.3 225.5H889.7M111.3 244.5H889.7M111.3 263.5H889.7M111.3 282.5H889.7M111.3 301.5H889.7M111.3 320.5H889.7M111.3 339.5H889.7M111.3 358.5H889.7M111.3 378.5H889.7M111.3 397.5H889.7M111.3 416.5H889.7M111.3 435.5H889.7M111.3 454.5H889.7" stroke="#454545" stroke-width="1" fill="none"/>
<rect x="111.30" y="14.90" width="778.40" height="458.10" fill="none" stroke="#9a9a9a" stroke-width="1.2"/>
<g font-size="17" text-anchor="middle" stroke="#000" stroke-width="0.45" transform="scale(0.95,0.8)"><text x="123.3" y="35.0">*</text><text x="131.5" y="35.0">*</text><text x="143.8" y="35.0">*</text><text x="152.0" y="35.0">*</text><text x="164.3" y="35.0">*</text><text x="172.5" y="35.0">*</text><text x="205.2" y="35.0">*</text><text x="213.4" y="35.0">*</text><text x="246.2" y="35.0">*</text><text x="254.4" y="35.0">*</text><text x="287.2" y="35.0">*</text><text x="295.4" y="35.0">*</text><text x="328.1" y="35.0">*</text><text x="336.3" y="35.0">*</text><text x="348.6" y="35.0">*</text><text x="356.8" y="35.0">*</text><text x="369.1" y="35.0">*</text><text x="377.3" y="35.0">*</text><text x="389.6" y="35.0">*</text><text x="397.8" y="35.0">*</text><text x="410.1" y="35.0">*</text><text x="418.3" y="35.0">*</text><text x="430.6" y="35.0">*</text><text x="438.8" y="35.0">*</text><text x="471.5" y="35.0">*</text><text x="479.7" y="35.0">*</text><text x="492.0" y="35.0">*</text><text x="500.2" y="35.0">*</text><text x="512.5" y="35.0">*</text><text x="520.7" y="35.0">*</text><text x="533.0" y="35.0">*</text><text x="541.2" y="35.0">*</text><text x="553.5" y="35.0">*</text><text x="561.7" y="35.0">*</text><text x="573.9" y="35.0">*</text><text x="582.2" y="35.0">*</text><text x="594.4" y="35.0">*</text><text x="602.6" y="35.0">*</text><text x="614.9" y="35.0">*</text><text x="623.1" y="35.0">*</text><text x="660.0" y="35.0">*</text><text x="676.4" y="35.0">*</text><text x="684.6" y="35.0">*</text><text x="696.9" y="35.0">*</text><text x="705.1" y="35.0">*</text><text x="758.3" y="35.0">*</text><text x="766.5" y="35.0">*</text><text x="778.8" y="35.0">*</text><text x="787.0" y="35.0">*</text><text x="860.7" y="35.0">*</text><text x="868.9" y="35.0">*</text><text x="881.2" y="35.0">*</text><text x="889.4" y="35.0">*</text><text x="123.3" y="58.9">*</text><text x="131.5" y="58.9">*</text><text x="143.8" y="58.9">*</text><text x="152.0" y="58.9">*</text><text x="164.3" y="58.9">*</text><text x="172.5" y="58.9">*</text><text x="205.2" y="58.9">*</text><text x="213.4" y="58.9">*</text><text x="246.2" y="58.9">*</text><text x="254.4" y="58.9">*</text><text x="287.2" y="58.9">*</text><text x="295.4" y="58.9">*</text><text x="328.1" y="58.9">*</text><text x="336.3" y="58.9">*</text><text x="369.1" y="58.9">*</text><text x="377.3" y="58.9">*</text><text x="414.2" y="58.9">*</text><text x="492.0" y="58.9">*</text><text x="500.2" y="58.9">*</text><text x="598.5" y="58.9">*</text><text x="737.8" y="58.9">*</text><text x="746.0" y="58.9">*</text><text x="758.3" y="58.9">*</text><text x="766.5" y="58.9">*</text><text x="778.8" y="58.9">*</text><text x="787.0" y="58.9">*</text><text x="844.3" y="58.9">*</text><text x="881.2" y="58.9">*</text><text x="889.4" y="58.9">*</text><text x="127.4" y="82.8">*</text><text x="205.2" y="82.8">*</text><text x="213.4" y="82.8">*</text><text x="246.2" y="82.8">*</text><text x="254.4" y="82.8">*</text><text x="287.2" y="82.8">*</text><text x="295.4" y="82.8">*</text><text x="348.6" y="82.8">*</text><text x="356.8" y="82.8">*</text><text x="369.1" y="82.8">*</text><text x="377.3" y="82.8">*</text><text x="475.6" y="82.8">*</text><text x="496.1" y="82.8">*</text><text x="676.4" y="82.8">*</text><text x="684.6" y="82.8">*</text><text x="696.9" y="82.8">*</text><text x="705.1" y="82.8">*</text><text x="737.8" y="82.8">*</text><text x="746.0" y="82.8">*</text><text x="758.3" y="82.8">*</text><text x="766.5" y="82.8">*</text><text x="778.8" y="82.8">*</text><text x="787.0" y="82.8">*</text><text x="143.8" y="106.6">*</text><text x="152.0" y="106.6">*</text><text x="164.3" y="106.6">*</text><text x="172.5" y="106.6">*</text><text x="246.2" y="106.6">*</text><text x="254.4" y="106.6">*</text><text x="348.6" y="106.6">*</text><text x="356.8" y="106.6">*</text><text x="369.1" y="106.6">*</text><text x="377.3" y="106.6">*</text><text x="512.5" y="106.6">*</text><text x="520.7" y="106.6">*</text><text x="578.1" y="106.6">*</text><text x="676.4" y="106.6">*</text><text x="684.6" y="106.6">*</text><text x="737.8" y="106.6">*</text><text x="746.0" y="106.6">*</text><text x="758.3" y="106.6">*</text><text x="766.5" y="106.6">*</text><text x="778.8" y="106.6">*</text><text x="787.0" y="106.6">*</text><text x="823.9" y="106.6">*</text><text x="844.3" y="106.6">*</text><text x="901.7" y="106.6">*</text><text x="909.9" y="106.6">*</text><text x="188.9" y="130.5">*</text><text x="205.2" y="130.5">*</text><text x="213.4" y="130.5">*</text><text x="246.2" y="130.5">*</text><text x="254.4" y="130.5">*</text><text x="287.2" y="130.5">*</text><text x="295.4" y="130.5">*</text><text x="352.7" y="130.5">*</text><text x="369.1" y="130.5">*</text><text x="377.3" y="130.5">*</text><text x="393.7" y="130.5">*</text><text x="516.6" y="130.5">*</text><text x="578.1" y="130.5">*</text><text x="598.5" y="130.5">*</text><text x="660.0" y="130.5">*</text><text x="676.4" y="130.5">*</text><text x="684.6" y="130.5">*</text><text x="717.3" y="130.5">*</text><text x="725.5" y="130.5">*</text><text x="737.8" y="130.5">*</text><text x="746.0" y="130.5">*</text><text x="758.3" y="130.5">*</text><text x="766.5" y="130.5">*</text><text x="778.8" y="130.5">*</text><text x="787.0" y="130.5">*</text><text x="840.2" y="130.5">*</text><text x="848.5" y="130.5">*</text><text x="881.2" y="130.5">*</text><text x="889.4" y="130.5">*</text><text x="922.2" y="130.5">*</text><text x="930.4" y="130.5">*</text><text x="127.4" y="154.3">*</text><text x="147.9" y="154.3">*</text><text x="164.3" y="154.3">*</text><text x="172.5" y="154.3">*</text><text x="205.2" y="154.3">*</text><text x="213.4" y="154.3">*</text><text x="287.2" y="154.3">*</text><text x="295.4" y="154.3">*</text><text x="348.6" y="154.3">*</text><text x="356.8" y="154.3">*</text><text x="373.2" y="154.3">*</text><text x="676.4" y="154.3">*</text><text x="684.6" y="154.3">*</text><text x="881.2" y="154.3">*</text><text x="889.4" y="154.3">*</text><text x="147.9" y="178.2">*</text><text x="168.4" y="178.2">*</text><text x="205.2" y="178.2">*</text><text x="213.4" y="178.2">*</text><text x="287.2" y="178.2">*</text><text x="295.4" y="178.2">*</text><text x="348.6" y="178.2">*</text><text x="356.8" y="178.2">*</text><text x="471.5" y="178.2">*</text><text x="479.7" y="178.2">*</text><text x="676.4" y="178.2">*</text><text x="684.6" y="178.2">*</text><text x="799.3" y="178.2">*</text><text x="807.5" y="178.2">*</text><text x="840.2" y="178.2">*</text><text x="848.5" y="178.2">*</text><text x="881.2" y="178.2">*</text><text x="889.4" y="178.2">*</text><text x="905.8" y="178.2">*</text><text x="123.3" y="202.1">*</text><text x="131.5" y="202.1">*</text><text x="205.2" y="202.1">*</text><text x="213.4" y="202.1">*</text><text x="246.2" y="202.1">*</text><text x="254.4" y="202.1">*</text><text x="348.6" y="202.1">*</text><text x="356.8" y="202.1">*</text><text x="369.1" y="202.1">*</text><text x="377.3" y="202.1">*</text><text x="410.1" y="202.1">*</text><text x="418.3" y="202.1">*</text><text x="430.6" y="202.1">*</text><text x="438.8" y="202.1">*</text><text x="475.6" y="202.1">*</text><text x="496.1" y="202.1">*</text><text x="537.1" y="202.1">*</text><text x="676.4" y="202.1">*</text><text x="684.6" y="202.1">*</text><text x="696.9" y="202.1">*</text><text x="705.1" y="202.1">*</text><text x="721.4" y="202.1">*</text><text x="926.3" y="202.1">*</text><text x="127.4" y="225.9">*</text><text x="143.8" y="225.9">*</text><text x="152.0" y="225.9">*</text><text x="164.3" y="225.9">*</text><text x="172.5" y="225.9">*</text><text x="205.2" y="225.9">*</text><text x="213.4" y="225.9">*</text><text x="291.3" y="225.9">*</text><text x="348.6" y="225.9">*</text><text x="356.8" y="225.9">*</text><text x="369.1" y="225.9">*</text><text x="377.3" y="225.9">*</text><text x="496.1" y="225.9">*</text><text x="619.0" y="225.9">*</text><text x="676.4" y="225.9">*</text><text x="684.6" y="225.9">*</text><text x="758.3" y="225.9">*</text><text x="766.5" y="225.9">*</text><text x="782.9" y="225.9">*</text><text x="922.2" y="225.9">*</text><text x="930.4" y="225.9">*</text><text x="205.2" y="249.8">*</text><text x="213.4" y="249.8">*</text><text x="287.2" y="249.8">*</text><text x="295.4" y="249.8">*</text><text x="348.6" y="249.8">*</text><text x="356.8" y="249.8">*</text><text x="410.1" y="249.8">*</text><text x="418.3" y="249.8">*</text><text x="537.1" y="249.8">*</text><text x="680.5" y="249.8">*</text><text x="696.9" y="249.8">*</text><text x="705.1" y="249.8">*</text><text x="860.7" y="249.8">*</text><text x="868.9" y="249.8">*</text><text x="205.2" y="273.6">*</text><text x="213.4" y="273.6">*</text><text x="287.2" y="273.6">*</text><text x="295.4" y="273.6">*</text><text x="348.6" y="273.6">*</text><text x="356.8" y="273.6">*</text><text x="471.5" y="273.6">*</text><text x="479.7" y="273.6">*</text><text x="533.0" y="273.6">*</text><text x="541.2" y="273.6">*</text><text x="578.1" y="273.6">*</text><text x="594.4" y="273.6">*</text><text x="602.6" y="273.6">*</text><text x="676.4" y="273.6">*</text><text x="684.6" y="273.6">*</text><text x="696.9" y="273.6">*</text><text x="705.1" y="273.6">*</text><text x="926.3" y="273.6">*</text><text x="123.3" y="297.5">*</text><text x="131.5" y="297.5">*</text><text x="143.8" y="297.5">*</text><text x="152.0" y="297.5">*</text><text x="164.3" y="297.5">*</text><text x="172.5" y="297.5">*</text><text x="205.2" y="297.5">*</text><text x="213.4" y="297.5">*</text><text x="287.2" y="297.5">*</text><text x="295.4" y="297.5">*</text><text x="348.6" y="297.5">*</text><text x="356.8" y="297.5">*</text><text x="369.1" y="297.5">*</text><text x="377.3" y="297.5">*</text><text x="676.4" y="297.5">*</text><text x="684.6" y="297.5">*</text><text x="696.9" y="297.5">*</text><text x="705.1" y="297.5">*</text><text x="737.8" y="297.5">*</text><text x="746.0" y="297.5">*</text><text x="758.3" y="297.5">*</text><text x="766.5" y="297.5">*</text><text x="782.9" y="297.5">*</text><text x="926.3" y="297.5">*</text><text x="123.3" y="321.3">*</text><text x="131.5" y="321.3">*</text><text x="143.8" y="321.3">*</text><text x="152.0" y="321.3">*</text><text x="164.3" y="321.3">*</text><text x="172.5" y="321.3">*</text><text x="229.8" y="321.3">*</text><text x="287.2" y="321.3">*</text><text x="295.4" y="321.3">*</text><text x="328.1" y="321.3">*</text><text x="336.3" y="321.3">*</text><text x="348.6" y="321.3">*</text><text x="356.8" y="321.3">*</text><text x="369.1" y="321.3">*</text><text x="377.3" y="321.3">*</text><text x="414.2" y="321.3">*</text><text x="475.6" y="321.3">*</text><text x="619.0" y="321.3">*</text><text x="676.4" y="321.3">*</text><text x="684.6" y="321.3">*</text><text x="696.9" y="321.3">*</text><text x="705.1" y="321.3">*</text><text x="737.8" y="321.3">*</text><text x="746.0" y="321.3">*</text><text x="864.8" y="321.3">*</text><text x="123.3" y="345.2">*</text><text x="131.5" y="345.2">*</text><text x="143.8" y="345.2">*</text><text x="152.0" y="345.2">*</text><text x="164.3" y="345.2">*</text><text x="172.5" y="345.2">*</text><text x="209.3" y="345.2">*</text><text x="287.2" y="345.2">*</text><text x="295.4" y="345.2">*</text><text x="348.6" y="345.2">*</text><text x="356.8" y="345.2">*</text><text x="369.1" y="345.2">*</text><text x="377.3" y="345.2">*</text><text x="393.7" y="345.2">*</text><text x="414.2" y="345.2">*</text><text x="471.5" y="345.2">*</text><text x="479.7" y="345.2">*</text><text x="701.0" y="345.2">*</text><text x="737.8" y="345.2">*</text><text x="746.0" y="345.2">*</text><text x="803.4" y="345.2">*</text><text x="143.8" y="369.1">*</text><text x="152.0" y="369.1">*</text><text x="164.3" y="369.1">*</text><text x="172.5" y="369.1">*</text><text x="209.3" y="369.1">*</text><text x="328.1" y="369.1">*</text><text x="336.3" y="369.1">*</text><text x="348.6" y="369.1">*</text><text x="356.8" y="369.1">*</text><text x="369.1" y="369.1">*</text><text x="377.3" y="369.1">*</text><text x="471.5" y="369.1">*</text><text x="479.7" y="369.1">*</text><text x="533.0" y="369.1">*</text><text x="541.2" y="369.1">*</text><text x="655.9" y="369.1">*</text><text x="664.1" y="369.1">*</text><text x="676.4" y="369.1">*</text><text x="684.6" y="369.1">*</text><text x="696.9" y="369.1">*</text><text x="705.1" y="369.1">*</text><text x="737.8" y="369.1">*</text><text x="746.0" y="369.1">*</text><text x="758.3" y="369.1">*</text><text x="766.5" y="369.1">*</text><text x="778.8" y="369.1">*</text><text x="787.0" y="369.1">*</text><text x="803.4" y="369.1">*</text><text x="881.2" y="369.1">*</text><text x="889.4" y="369.1">*</text><text x="205.2" y="392.9">*</text><text x="213.4" y="392.9">*</text><text x="287.2" y="392.9">*</text><text x="295.4" y="392.9">*</text><text x="332.2" y="392.9">*</text><text x="348.6" y="392.9">*</text><text x="356.8" y="392.9">*</text><text x="373.2" y="392.9">*</text><text x="471.5" y="392.9">*</text><text x="479.7" y="392.9">*</text><text x="655.9" y="392.9">*</text><text x="664.1" y="392.9">*</text><text x="676.4" y="392.9">*</text><text x="684.6" y="392.9">*</text><text x="696.9" y="392.9">*</text><text x="705.1" y="392.9">*</text><text x="737.8" y="392.9">*</text><text x="746.0" y="392.9">*</text><text x="250.3" y="416.8">*</text><text x="287.2" y="416.8">*</text><text x="295.4" y="416.8">*</text><text x="348.6" y="416.8">*</text><text x="356.8" y="416.8">*</text><text x="414.2" y="416.8">*</text><text x="512.5" y="416.8">*</text><text x="520.7" y="416.8">*</text><text x="696.9" y="416.8">*</text><text x="705.1" y="416.8">*</text><text x="758.3" y="416.8">*</text><text x="766.5" y="416.8">*</text><text x="778.8" y="416.8">*</text><text x="787.0" y="416.8">*</text><text x="147.9" y="440.6">*</text><text x="205.2" y="440.6">*</text><text x="213.4" y="440.6">*</text><text x="287.2" y="440.6">*</text><text x="295.4" y="440.6">*</text><text x="492.0" y="440.6">*</text><text x="500.2" y="440.6">*</text><text x="721.4" y="440.6">*</text><text x="741.9" y="440.6">*</text><text x="758.3" y="440.6">*</text><text x="766.5" y="440.6">*</text><text x="778.8" y="440.6">*</text><text x="787.0" y="440.6">*</text><text x="922.2" y="440.6">*</text><text x="930.4" y="440.6">*</text><text x="266.7" y="464.5">*</text><text x="274.9" y="464.5">*</text><text x="516.6" y="464.5">*</text><text x="741.9" y="464.5">*</text><text x="123.3" y="488.4">*</text><text x="131.5" y="488.4">*</text><text x="143.8" y="488.4">*</text><text x="152.0" y="488.4">*</text><text x="164.3" y="488.4">*</text><text x="172.5" y="488.4">*</text><text x="205.2" y="488.4">*</text><text x="213.4" y="488.4">*</text><text x="246.2" y="488.4">*</text><text x="254.4" y="488.4">*</text><text x="266.7" y="488.4">*</text><text x="274.9" y="488.4">*</text><text x="287.2" y="488.4">*</text><text x="295.4" y="488.4">*</text><text x="307.7" y="488.4">*</text><text x="315.9" y="488.4">*</text><text x="328.1" y="488.4">*</text><text x="336.3" y="488.4">*</text><text x="352.7" y="488.4">*</text><text x="369.1" y="488.4">*</text><text x="377.3" y="488.4">*</text><text x="393.7" y="488.4">*</text><text x="410.1" y="488.4">*</text><text x="418.3" y="488.4">*</text><text x="475.6" y="488.4">*</text><text x="492.0" y="488.4">*</text><text x="500.2" y="488.4">*</text><text x="512.5" y="488.4">*</text><text x="520.7" y="488.4">*</text><text x="533.0" y="488.4">*</text><text x="541.2" y="488.4">*</text><text x="557.6" y="488.4">*</text><text x="573.9" y="488.4">*</text><text x="582.2" y="488.4">*</text><text x="676.4" y="488.4">*</text><text x="684.6" y="488.4">*</text><text x="701.0" y="488.4">*</text><text x="717.3" y="488.4">*</text><text x="725.5" y="488.4">*</text><text x="741.9" y="488.4">*</text><text x="844.3" y="488.4">*</text><text x="123.3" y="512.2">*</text><text x="131.5" y="512.2">*</text><text x="143.8" y="512.2">*</text><text x="152.0" y="512.2">*</text><text x="164.3" y="512.2">*</text><text x="172.5" y="512.2">*</text><text x="246.2" y="512.2">*</text><text x="254.4" y="512.2">*</text><text x="266.7" y="512.2">*</text><text x="274.9" y="512.2">*</text><text x="287.2" y="512.2">*</text><text x="295.4" y="512.2">*</text><text x="328.1" y="512.2">*</text><text x="336.3" y="512.2">*</text><text x="369.1" y="512.2">*</text><text x="377.3" y="512.2">*</text><text x="389.6" y="512.2">*</text><text x="397.8" y="512.2">*</text><text x="471.5" y="512.2">*</text><text x="479.7" y="512.2">*</text><text x="492.0" y="512.2">*</text><text x="500.2" y="512.2">*</text><text x="533.0" y="512.2">*</text><text x="541.2" y="512.2">*</text><text x="573.9" y="512.2">*</text><text x="582.2" y="512.2">*</text><text x="676.4" y="512.2">*</text><text x="684.6" y="512.2">*</text><text x="696.9" y="512.2">*</text><text x="705.1" y="512.2">*</text><text x="717.3" y="512.2">*</text><text x="725.5" y="512.2">*</text><text x="737.8" y="512.2">*</text><text x="746.0" y="512.2">*</text><text x="758.3" y="512.2">*</text><text x="766.5" y="512.2">*</text><text x="778.8" y="512.2">*</text><text x="787.0" y="512.2">*</text><text x="803.4" y="512.2">*</text><text x="864.8" y="512.2">*</text><text x="123.3" y="536.1">*</text><text x="131.5" y="536.1">*</text><text x="143.8" y="536.1">*</text><text x="152.0" y="536.1">*</text><text x="164.3" y="536.1">*</text><text x="172.5" y="536.1">*</text><text x="205.2" y="536.1">*</text><text x="213.4" y="536.1">*</text><text x="250.3" y="536.1">*</text><text x="311.8" y="536.1">*</text><text x="348.6" y="536.1">*</text><text x="356.8" y="536.1">*</text><text x="393.7" y="536.1">*</text><text x="410.1" y="536.1">*</text><text x="418.3" y="536.1">*</text><text x="434.7" y="536.1">*</text><text x="471.5" y="536.1">*</text><text x="479.7" y="536.1">*</text><text x="512.5" y="536.1">*</text><text x="520.7" y="536.1">*</text><text x="533.0" y="536.1">*</text><text x="541.2" y="536.1">*</text><text x="573.9" y="536.1">*</text><text x="582.2" y="536.1">*</text><text x="594.4" y="536.1">*</text><text x="602.6" y="536.1">*</text><text x="696.9" y="536.1">*</text><text x="705.1" y="536.1">*</text><text x="721.4" y="536.1">*</text><text x="803.4" y="536.1">*</text><text x="881.2" y="536.1">*</text><text x="889.4" y="536.1">*</text><text x="905.8" y="536.1">*</text><text x="143.8" y="559.9">*</text><text x="152.0" y="559.9">*</text><text x="164.3" y="559.9">*</text><text x="172.5" y="559.9">*</text><text x="205.2" y="559.9">*</text><text x="213.4" y="559.9">*</text><text x="266.7" y="559.9">*</text><text x="274.9" y="559.9">*</text><text x="287.2" y="559.9">*</text><text x="295.4" y="559.9">*</text><text x="311.8" y="559.9">*</text><text x="328.1" y="559.9">*</text><text x="336.3" y="559.9">*</text><text x="348.6" y="559.9">*</text><text x="356.8" y="559.9">*</text><text x="369.1" y="559.9">*</text><text x="377.3" y="559.9">*</text><text x="471.5" y="559.9">*</text><text x="479.7" y="559.9">*</text><text x="492.0" y="559.9">*</text><text x="500.2" y="559.9">*</text><text x="737.8" y="559.9">*</text><text x="746.0" y="559.9">*</text><text x="758.3" y="559.9">*</text><text x="766.5" y="559.9">*</text><text x="881.2" y="559.9">*</text><text x="889.4" y="559.9">*</text><text x="123.3" y="583.8">*</text><text x="131.5" y="583.8">*</text><text x="168.4" y="583.8">*</text><text x="184.7" y="583.8">*</text><text x="193.0" y="583.8">*</text><text x="205.2" y="583.8">*</text><text x="213.4" y="583.8">*</text><text x="287.2" y="583.8">*</text><text x="295.4" y="583.8">*</text><text x="328.1" y="583.8">*</text><text x="336.3" y="583.8">*</text><text x="348.6" y="583.8">*</text><text x="356.8" y="583.8">*</text><text x="410.1" y="583.8">*</text><text x="418.3" y="583.8">*</text><text x="492.0" y="583.8">*</text><text x="500.2" y="583.8">*</text><text x="516.6" y="583.8">*</text><text x="553.5" y="583.8">*</text><text x="561.7" y="583.8">*</text><text x="573.9" y="583.8">*</text><text x="582.2" y="583.8">*</text><text x="721.4" y="583.8">*</text><text x="737.8" y="583.8">*</text><text x="746.0" y="583.8">*</text><text x="758.3" y="583.8">*</text><text x="766.5" y="583.8">*</text><text x="778.8" y="583.8">*</text><text x="787.0" y="583.8">*</text><text x="823.9" y="583.8">*</text><text x="844.3" y="583.8">*</text><text x="864.8" y="583.8">*</text><text x="885.3" y="583.8">*</text></g>
<text x="108.9" y="26.4" font-size="17.5" font-weight="bold" text-anchor="end">CD276</text>
<text x="108.9" y="45.6" font-size="17.5" font-weight="bold" text-anchor="end">ADORA2A</text>
<text x="108.9" y="64.9" font-size="17.5" font-weight="bold" text-anchor="end">LAG3</text>
<text x="108.9" y="84.1" font-size="17.5" font-weight="bold" text-anchor="end">VTCN1</text>
<text x="108.9" y="103.4" font-size="17.5" font-weight="bold" text-anchor="end">IL12A</text>
<text x="108.9" y="122.6" font-size="17.5" font-weight="bold" text-anchor="end">KIR2DL1</text>
<text x="108.9" y="141.9" font-size="17.5" font-weight="bold" text-anchor="end">KIR2DL3</text>
<text x="108.9" y="161.2" font-size="17.5" font-weight="bold" text-anchor="end">PDCD1</text>
<text x="108.9" y="180.4" font-size="17.5" font-weight="bold" text-anchor="end">CTLA4</text>
<text x="108.9" y="199.7" font-size="17.5" font-weight="bold" text-anchor="end">BTLA</text>
<text x="108.9" y="218.9" font-size="17.5" font-weight="bold" text-anchor="end">SLAMF7</text>
<text x="108.9" y="238.2" font-size="17.5" font-weight="bold" text-anchor="end">TIGIT</text>
<text x="108.9" y="257.4" font-size="17.5" font-weight="bold" text-anchor="end">HAVCR2</text>
<text x="108.9" y="276.7" font-size="17.5" font-weight="bold" text-anchor="end">IL10</text>
<text x="108.9" y="295.9" font-size="17.5" font-weight="bold" text-anchor="end">CD274</text>
<text x="108.9" y="315.2" font-size="17.5" font-weight="bold" text-anchor="end">IDO1</text>
<text x="108.9" y="334.4" font-size="17.5" font-weight="bold" text-anchor="end">ARG1</text>
<text x="108.9" y="353.7" font-size="17.5" font-weight="bold" text-anchor="end">IL13</text>
<text x="108.9" y="372.9" font-size="17.5" font-weight="bold" text-anchor="end">IL4</text>
<text x="108.9" y="392.2" font-size="17.5" font-weight="bold" text-anchor="end">TGFB1</text>
<text x="108.9" y="411.4" font-size="17.5" font-weight="bold" text-anchor="end">C10orf54</text>
<text x="108.9" y="430.7" font-size="17.5" font-weight="bold" text-anchor="end">VEGFB</text>
<text x="108.9" y="449.9" font-size="17.5" font-weight="bold" text-anchor="end">EDNRB</text>
<text x="108.9" y="469.2" font-size="17.5" font-weight="bold" text-anchor="end">VEGFA</text>
<text transform="translate(123.3,483.5) rotate(-90)" font-size="17.3" font-weight="bold" text-anchor="end">READ</text>
<text transform="translate(143.3,483.5) rotate(-90)" font-size="17.3" font-weight="bold" text-anchor="end">COAD</text>
<text transform="translate(163.3,483.5) rotate(-90)" font-size="17.3" font-weight="bold" text-anchor="end">COADREAD</text>
<text transform="translate(183.3,483.5) rotate(-90)" font-size="17.3" font-weight="bold" text-anchor="end">UVM</text>
<text transform="translate(203.3,483.5) rotate(-90)" font-size="17.3" font-weight="bold" text-anchor="end">BRCA</text>
<text transform="translate(223.3,483.5) rotate(-90)" font-size="17.3" font-weight="bold" text-anchor="end">CHOL</text>
<text transform="translate(243.3,483.5) rotate(-90)" font-size="17.3" font-weight="bold" text-anchor="end">WT</text>
<text transform="translate(263.3,483.5) rotate(-90)" font-size="17.3" font-weight="bold" text-anchor="end">KICH</text>
<text transform="translate(283.3,483.5) rotate(-90)" font-size="17.3" font-weight="bold" text-anchor="end">KIPAN</text>
<text transform="translate(303.3,483.5) rotate(-90)" font-size="17.3" font-weight="bold" text-anchor="end">ACC</text>
<text transform="translate(323.3,483.5) rotate(-90)" font-size="17.3" font-weight="bold" text-anchor="end">PCPG</text>
<text transform="translate(343.3,483.5) rotate(-90)" font-size="17.3" font-weight="bold" text-anchor="end">TGCT</text>
<text transform="translate(363.3,483.5) rotate(-90)" font-size="17.3" font-weight="bold" text-anchor="end">NB</text>
<text transform="translate(383.3,483.5) rotate(-90)" font-size="17.3" font-weight="bold" text-anchor="end">ESCA</text>
<text transform="translate(403.3,483.5) rotate(-90)" font-size="17.3" font-weight="bold" text-anchor="end">PAAD</text>
<text transform="translate(423.3,483.5) rotate(-90)" font-size="17.3" font-weight="bold" text-anchor="end">THYM</text>
<text transform="translate(443.3,483.5) rotate(-90)" font-size="17.3" font-weight="bold" text-anchor="end">DLBC</text>
<text transform="translate(463.3,483.5) rotate(-90)" font-size="17.3" font-weight="bold" text-anchor="end">HNSC</text>
<text transform="translate(483.3,483.5) rotate(-90)" font-size="17.3" font-weight="bold" text-anchor="end">KIRC</text>
<text transform="translate(503.3,483.5) rotate(-90)" font-size="17.3" font-weight="bold" text-anchor="end">LIHC</text>
<text transform="translate(523.3,483.5) rotate(-90)" font-size="17.3" font-weight="bold" text-anchor="end">THCA</text>
<text transform="translate(543.3,483.5) rotate(-90)" font-size="17.3" font-weight="bold" text-anchor="end">STAD</text>
<text transform="translate(563.3,483.5) rotate(-90)" font-size="17.3" font-weight="bold" text-anchor="end">STES</text>
<text transform="translate(583.3,483.5) rotate(-90)" font-size="17.3" font-weight="bold" text-anchor="end">BLCA</text>
<text transform="translate(603.3,483.5) rotate(-90)" font-size="17.3" font-weight="bold" text-anchor="end">PRAD</text>
<text transform="translate(623.3,483.5) rotate(-90)" font-size="17.3" font-weight="bold" text-anchor="end">LAML</text>
<text transform="translate(643.3,483.5) rotate(-90)" font-size="17.3" font-weight="bold" text-anchor="end">UCS</text>
<text transform="translate(663.3,483.5) rotate(-90)" font-size="17.3" font-weight="bold" text-anchor="end">OV</text>
<text transform="translate(683.3,483.5) rotate(-90)" font-size="17.3" font-weight="bold" text-anchor="end">SABC</text>
<text transform="translate(703.3,483.5) rotate(-90)" font-size="17.3" font-weight="bold" text-anchor="end">ALL</text>
<text transform="translate(723.3,483.5) rotate(-90)" font-size="17.3" font-weight="bold" text-anchor="end">GBM</text>
<text transform="translate(743.3,483.5) rotate(-90)" font-size="17.3" font-weight="bold" text-anchor="end">GBMLGG</text>
<text transform="translate(763.3,483.5) rotate(-90)" font-size="17.3" font-weight="bold" text-anchor="end">LGG</text>
<text transform="translate(783.3,483.5) rotate(-90)" font-size="17.3" font-weight="bold" text-anchor="end">MESO</text>
<text transform="translate(803.3,483.5) rotate(-90)" font-size="17.3" font-weight="bold" text-anchor="end">KIRP</text>
<text transform="translate(823.3,483.5) rotate(-90)" font-size="17.3" font-weight="bold" text-anchor="end">LUAD</text>
<text transform="translate(843.3,483.5) rotate(-90)" font-size="17.3" font-weight="bold" text-anchor="end">LUSC</text>
<text transform="translate(863.3,483.5) rotate(-90)" font-size="17.3" font-weight="bold" text-anchor="end">SKCM</text>
<text transform="translate(883.3,483.5) rotate(-90)" font-size="17.3" font-weight="bold" text-anchor="end">UCEC</text>
<text x="905.9" y="113.0" font-size="16.5" font-weight="bold">* p &lt; 0.05</text>
<text x="904.0" y="135.9" font-size="16.5" font-weight="bold">** p &lt; 0.01</text>
<text x="902.2" y="156.5" font-size="16.5" font-weight="bold">Cor</text>
<defs><linearGradient id="ga1" x1="0" y1="0" x2="0" y2="1"><stop offset="0" stop-color="#E64B35"/><stop offset="0.25" stop-color="#F39A88"/><stop offset="0.5" stop-color="#FFFFFF"/><stop offset="0.75" stop-color="#A3D9E8"/><stop offset="1" stop-color="#4DBBD5"/></linearGradient></defs>
<rect x="905.0" y="173.9" width="15.5" height="74.5" fill="url(#ga1)"/>
<text x="927.0" y="177.2" font-size="16.5" font-weight="bold">1.0</text>
<text x="927.0" y="195.9" font-size="16.5" font-weight="bold">0.5</text>
<text x="927.0" y="214.2" font-size="16.5" font-weight="bold">0.0</text>
<text x="927.0" y="232.9" font-size="16.5" font-weight="bold">−0.5</text>
<text x="927.0" y="251.7" font-size="16.5" font-weight="bold">−1.0</text>
<text x="443.0" y="576.3" font-size="27" font-weight="bold" textLength="79.5" lengthAdjust="spacingAndGlyphs">SOX11</text>
<g shape-rendering="crispEdges"><path fill="#F7977F" d="M1080.0 15.2h19.7v19.3h-19.7zM1157.7 15.2h19.7v19.3h-19.7zM1177.1 15.2h19.7v19.3h-19.7zM1448.8 15.2h19.7v19.3h-19.7zM1604.1 15.2h19.7v19.3h-19.7zM1701.2 15.2h19.7v19.3h-19.7zM1759.4 15.2h19.7v19.3h-19.7zM1196.5 34.2h19.7v19.3h-19.7zM1215.9 34.2h19.7v19.3h-19.7zM1235.3 34.2h19.7v19.3h-19.7zM1351.8 34.2h19.7v19.3h-19.7zM1371.2 34.2h19.7v19.3h-19.7zM1448.8 34.2h19.7v19.3h-19.7zM1720.6 34.2h19.7v19.3h-19.7zM1740.0 34.2h19.7v19.3h-19.7zM1759.4 34.2h19.7v19.3h-19.7zM1274.1 53.2h19.7v19.3h-19.7zM1293.5 53.2h19.7v19.3h-19.7zM1313.0 53.2h19.7v19.3h-19.7zM1332.4 53.2h19.7v19.3h-19.7zM1351.8 53.2h19.7v19.3h-19.7zM1371.2 53.2h19.7v19.3h-19.7zM1448.8 53.2h19.7v19.3h-19.7zM1507.1 53.2h19.7v19.3h-19.7zM1604.1 53.2h19.7v19.3h-19.7zM1817.7 53.2h19.7v19.3h-19.7zM1837.1 53.2h19.7v19.3h-19.7zM1157.7 72.2h19.7v19.3h-19.7zM1196.5 72.2h19.7v19.3h-19.7zM1215.9 72.2h19.7v19.3h-19.7zM1235.3 72.2h19.7v19.3h-19.7zM1293.5 72.2h19.7v19.3h-19.7zM1313.0 72.2h19.7v19.3h-19.7zM1448.8 72.2h19.7v19.3h-19.7zM1507.1 72.2h19.7v19.3h-19.7zM1798.3 72.2h19.7v19.3h-19.7zM1080.0 91.2h19.7v19.3h-19.7zM1099.4 91.2h19.7v19.3h-19.7zM1448.8 91.2h19.7v19.3h-19.7zM1468.2 91.2h19.7v19.3h-19.7zM1837.1 91.2h19.7v19.3h-19.7zM1604.1 110.2h19.7v19.3h-19.7zM1080.0 224.3h19.7v19.3h-19.7zM1196.5 224.3h19.7v19.3h-19.7zM1215.9 224.3h19.7v19.3h-19.7zM1235.3 224.3h19.7v19.3h-19.7zM1429.4 224.3h19.7v19.3h-19.7zM1215.9 243.3h19.7v19.3h-19.7zM1351.8 243.3h19.7v19.3h-19.7zM1817.7 262.3h19.7v19.3h-19.7zM1623.6 281.3h19.7v19.3h-19.7zM1157.7 414.4h19.7v19.3h-19.7zM1623.6 414.4h19.7v19.3h-19.7zM1448.8 433.4h19.7v19.3h-19.7zM1448.8 452.4h19.7v19.3h-19.7z"/><path fill="#FAAE9B" d="M1099.4 15.2h19.7v19.3h-19.7zM1215.9 15.2h19.7v19.3h-19.7zM1235.3 15.2h19.7v19.3h-19.7zM1313.0 15.2h19.7v19.3h-19.7zM1332.4 15.2h19.7v19.3h-19.7zM1351.8 15.2h19.7v19.3h-19.7zM1371.2 15.2h19.7v19.3h-19.7zM1623.6 15.2h19.7v19.3h-19.7zM1099.4 34.2h19.7v19.3h-19.7zM1254.7 34.2h19.7v19.3h-19.7zM1313.0 34.2h19.7v19.3h-19.7zM1332.4 34.2h19.7v19.3h-19.7zM1545.9 34.2h19.7v19.3h-19.7zM1604.1 34.2h19.7v19.3h-19.7zM1681.8 34.2h19.7v19.3h-19.7zM1701.2 34.2h19.7v19.3h-19.7zM1778.8 34.2h19.7v19.3h-19.7zM1798.3 34.2h19.7v19.3h-19.7zM1254.7 53.2h19.7v19.3h-19.7zM1390.6 53.2h19.7v19.3h-19.7zM1468.2 53.2h19.7v19.3h-19.7zM1526.5 53.2h19.7v19.3h-19.7zM1759.4 53.2h19.7v19.3h-19.7zM1778.8 53.2h19.7v19.3h-19.7zM1080.0 72.2h19.7v19.3h-19.7zM1274.1 72.2h19.7v19.3h-19.7zM1332.4 72.2h19.7v19.3h-19.7zM1351.8 72.2h19.7v19.3h-19.7zM1371.2 72.2h19.7v19.3h-19.7zM1565.3 91.2h19.7v19.3h-19.7zM1157.7 110.2h19.7v19.3h-19.7zM1623.6 110.2h19.7v19.3h-19.7zM1623.6 129.2h19.7v19.3h-19.7zM1701.2 148.3h19.7v19.3h-19.7zM1759.4 167.3h19.7v19.3h-19.7zM1177.1 186.3h19.7v19.3h-19.7zM1080.0 205.3h19.7v19.3h-19.7zM1507.1 224.3h19.7v19.3h-19.7zM1623.6 224.3h19.7v19.3h-19.7zM1235.3 243.3h19.7v19.3h-19.7zM1371.2 243.3h19.7v19.3h-19.7zM1487.7 243.3h19.7v19.3h-19.7zM1507.1 243.3h19.7v19.3h-19.7zM1177.1 281.3h19.7v19.3h-19.7zM1196.5 281.3h19.7v19.3h-19.7zM1215.9 281.3h19.7v19.3h-19.7zM1235.3 281.3h19.7v19.3h-19.7zM1778.8 281.3h19.7v19.3h-19.7zM1177.1 300.3h19.7v19.3h-19.7zM1720.6 300.3h19.7v19.3h-19.7zM1817.7 300.3h19.7v19.3h-19.7zM1215.9 319.3h19.7v19.3h-19.7zM1235.3 319.3h19.7v19.3h-19.7zM1759.4 319.3h19.7v19.3h-19.7zM1778.8 319.3h19.7v19.3h-19.7zM1817.7 319.3h19.7v19.3h-19.7zM1215.9 338.3h19.7v19.3h-19.7zM1235.3 338.3h19.7v19.3h-19.7zM1623.6 338.3h19.7v19.3h-19.7zM1817.7 338.3h19.7v19.3h-19.7zM1157.7 357.3h19.7v19.3h-19.7zM1837.1 357.3h19.7v19.3h-19.7zM1157.7 376.4h19.7v19.3h-19.7zM1215.9 376.4h19.7v19.3h-19.7zM1235.3 376.4h19.7v19.3h-19.7zM1545.9 376.4h19.7v19.3h-19.7zM1798.3 376.4h19.7v19.3h-19.7zM1837.1 376.4h19.7v19.3h-19.7zM1215.9 395.4h19.7v19.3h-19.7zM1235.3 395.4h19.7v19.3h-19.7zM1778.8 433.4h19.7v19.3h-19.7zM1507.1 452.4h19.7v19.3h-19.7z"/><path fill="#F3F9FB" d="M1118.8 15.2h19.7v19.3h-19.7zM1545.9 15.2h19.7v19.3h-19.7zM1487.7 34.2h19.7v19.3h-19.7zM1545.9 72.2h19.7v19.3h-19.7zM1565.3 72.2h19.7v19.3h-19.7zM1584.7 72.2h19.7v19.3h-19.7zM1293.5 91.2h19.7v19.3h-19.7zM1332.4 91.2h19.7v19.3h-19.7zM1351.8 91.2h19.7v19.3h-19.7zM1371.2 91.2h19.7v19.3h-19.7zM1196.5 110.2h19.7v19.3h-19.7zM1643.0 110.2h19.7v19.3h-19.7zM1215.9 129.2h19.7v19.3h-19.7zM1313.0 129.2h19.7v19.3h-19.7zM1371.2 129.2h19.7v19.3h-19.7zM1662.4 129.2h19.7v19.3h-19.7zM1138.2 148.3h19.7v19.3h-19.7zM1429.4 148.3h19.7v19.3h-19.7zM1545.9 148.3h19.7v19.3h-19.7zM1274.1 167.3h19.7v19.3h-19.7zM1448.8 167.3h19.7v19.3h-19.7zM1351.8 186.3h19.7v19.3h-19.7zM1371.2 186.3h19.7v19.3h-19.7zM1196.5 205.3h19.7v19.3h-19.7zM1274.1 205.3h19.7v19.3h-19.7zM1410.0 205.3h19.7v19.3h-19.7zM1565.3 205.3h19.7v19.3h-19.7zM1584.7 205.3h19.7v19.3h-19.7zM1681.8 205.3h19.7v19.3h-19.7zM1817.7 205.3h19.7v19.3h-19.7zM1138.2 224.3h19.7v19.3h-19.7zM1526.5 224.3h19.7v19.3h-19.7zM1798.3 224.3h19.7v19.3h-19.7zM1410.0 243.3h19.7v19.3h-19.7zM1138.2 262.3h19.7v19.3h-19.7zM1448.8 262.3h19.7v19.3h-19.7zM1584.7 262.3h19.7v19.3h-19.7zM1778.8 262.3h19.7v19.3h-19.7zM1080.0 281.3h19.7v19.3h-19.7zM1138.2 281.3h19.7v19.3h-19.7zM1526.5 300.3h19.7v19.3h-19.7zM1448.8 338.3h19.7v19.3h-19.7zM1526.5 338.3h19.7v19.3h-19.7zM1138.2 357.3h19.7v19.3h-19.7zM1584.7 357.3h19.7v19.3h-19.7zM1099.4 376.4h19.7v19.3h-19.7zM1138.2 414.4h19.7v19.3h-19.7zM1778.8 414.4h19.7v19.3h-19.7zM1526.5 433.4h19.7v19.3h-19.7z"/><path fill="#D8EEF5" d="M1138.2 15.2h19.7v19.3h-19.7zM1507.1 15.2h19.7v19.3h-19.7zM1565.3 15.2h19.7v19.3h-19.7zM1584.7 15.2h19.7v19.3h-19.7zM1274.1 91.2h19.7v19.3h-19.7zM1526.5 91.2h19.7v19.3h-19.7zM1720.6 91.2h19.7v19.3h-19.7zM1138.2 110.2h19.7v19.3h-19.7zM1526.5 110.2h19.7v19.3h-19.7zM1487.7 129.2h19.7v19.3h-19.7zM1507.1 148.3h19.7v19.3h-19.7zM1817.7 148.3h19.7v19.3h-19.7zM1080.0 167.3h19.7v19.3h-19.7zM1196.5 167.3h19.7v19.3h-19.7zM1080.0 186.3h19.7v19.3h-19.7zM1138.2 186.3h19.7v19.3h-19.7zM1410.0 186.3h19.7v19.3h-19.7zM1448.8 186.3h19.7v19.3h-19.7zM1468.2 186.3h19.7v19.3h-19.7zM1526.5 205.3h19.7v19.3h-19.7zM1759.4 205.3h19.7v19.3h-19.7zM1080.0 262.3h19.7v19.3h-19.7zM1118.8 262.3h19.7v19.3h-19.7zM1487.7 262.3h19.7v19.3h-19.7zM1099.4 319.3h19.7v19.3h-19.7zM1138.2 319.3h19.7v19.3h-19.7zM1099.4 357.3h19.7v19.3h-19.7zM1118.8 357.3h19.7v19.3h-19.7zM1118.8 376.4h19.7v19.3h-19.7zM1080.0 414.4h19.7v19.3h-19.7zM1099.4 414.4h19.7v19.3h-19.7zM1118.8 433.4h19.7v19.3h-19.7zM1604.1 433.4h19.7v19.3h-19.7zM1080.0 452.4h19.7v19.3h-19.7zM1604.1 452.4h19.7v19.3h-19.7z"/><path fill="#FCC1B3" d="M1196.5 15.2h19.7v19.3h-19.7zM1293.5 15.2h19.7v19.3h-19.7zM1390.6 15.2h19.7v19.3h-19.7zM1681.8 15.2h19.7v19.3h-19.7zM1720.6 15.2h19.7v19.3h-19.7zM1740.0 15.2h19.7v19.3h-19.7zM1778.8 15.2h19.7v19.3h-19.7zM1274.1 34.2h19.7v19.3h-19.7zM1410.0 34.2h19.7v19.3h-19.7zM1507.1 34.2h19.7v19.3h-19.7zM1565.3 34.2h19.7v19.3h-19.7zM1584.7 34.2h19.7v19.3h-19.7zM1643.0 34.2h19.7v19.3h-19.7zM1080.0 53.2h19.7v19.3h-19.7zM1138.2 53.2h19.7v19.3h-19.7zM1487.7 53.2h19.7v19.3h-19.7zM1565.3 53.2h19.7v19.3h-19.7zM1643.0 53.2h19.7v19.3h-19.7zM1662.4 53.2h19.7v19.3h-19.7zM1681.8 53.2h19.7v19.3h-19.7zM1720.6 53.2h19.7v19.3h-19.7zM1681.8 72.2h19.7v19.3h-19.7zM1817.7 72.2h19.7v19.3h-19.7zM1584.7 91.2h19.7v19.3h-19.7zM1254.7 110.2h19.7v19.3h-19.7zM1759.4 110.2h19.7v19.3h-19.7zM1798.3 110.2h19.7v19.3h-19.7zM1817.7 110.2h19.7v19.3h-19.7zM1254.7 129.2h19.7v19.3h-19.7zM1254.7 148.3h19.7v19.3h-19.7zM1623.6 186.3h19.7v19.3h-19.7zM1662.4 205.3h19.7v19.3h-19.7zM1313.0 224.3h19.7v19.3h-19.7zM1332.4 224.3h19.7v19.3h-19.7zM1351.8 224.3h19.7v19.3h-19.7zM1371.2 224.3h19.7v19.3h-19.7zM1390.6 224.3h19.7v19.3h-19.7zM1448.8 224.3h19.7v19.3h-19.7zM1565.3 224.3h19.7v19.3h-19.7zM1720.6 224.3h19.7v19.3h-19.7zM1099.4 243.3h19.7v19.3h-19.7zM1196.5 243.3h19.7v19.3h-19.7zM1254.7 243.3h19.7v19.3h-19.7zM1274.1 243.3h19.7v19.3h-19.7zM1293.5 243.3h19.7v19.3h-19.7zM1332.4 243.3h19.7v19.3h-19.7zM1429.4 243.3h19.7v19.3h-19.7zM1177.1 262.3h19.7v19.3h-19.7zM1429.4 262.3h19.7v19.3h-19.7zM1662.4 262.3h19.7v19.3h-19.7zM1720.6 262.3h19.7v19.3h-19.7zM1740.0 262.3h19.7v19.3h-19.7zM1429.4 281.3h19.7v19.3h-19.7zM1507.1 281.3h19.7v19.3h-19.7zM1662.4 281.3h19.7v19.3h-19.7zM1701.2 281.3h19.7v19.3h-19.7zM1720.6 281.3h19.7v19.3h-19.7zM1740.0 281.3h19.7v19.3h-19.7zM1798.3 281.3h19.7v19.3h-19.7zM1817.7 281.3h19.7v19.3h-19.7zM1196.5 300.3h19.7v19.3h-19.7zM1215.9 300.3h19.7v19.3h-19.7zM1235.3 300.3h19.7v19.3h-19.7zM1565.3 300.3h19.7v19.3h-19.7zM1701.2 300.3h19.7v19.3h-19.7zM1778.8 300.3h19.7v19.3h-19.7zM1798.3 300.3h19.7v19.3h-19.7zM1157.7 319.3h19.7v19.3h-19.7zM1177.1 319.3h19.7v19.3h-19.7zM1196.5 319.3h19.7v19.3h-19.7zM1565.3 319.3h19.7v19.3h-19.7zM1623.6 319.3h19.7v19.3h-19.7zM1798.3 319.3h19.7v19.3h-19.7zM1837.1 319.3h19.7v19.3h-19.7zM1177.1 338.3h19.7v19.3h-19.7zM1196.5 338.3h19.7v19.3h-19.7zM1662.4 338.3h19.7v19.3h-19.7zM1701.2 338.3h19.7v19.3h-19.7zM1759.4 338.3h19.7v19.3h-19.7zM1837.1 338.3h19.7v19.3h-19.7zM1196.5 357.3h19.7v19.3h-19.7zM1215.9 357.3h19.7v19.3h-19.7zM1235.3 357.3h19.7v19.3h-19.7zM1429.4 357.3h19.7v19.3h-19.7zM1701.2 357.3h19.7v19.3h-19.7zM1759.4 357.3h19.7v19.3h-19.7zM1196.5 376.4h19.7v19.3h-19.7zM1274.1 376.4h19.7v19.3h-19.7zM1507.1 376.4h19.7v19.3h-19.7zM1623.6 376.4h19.7v19.3h-19.7zM1759.4 376.4h19.7v19.3h-19.7zM1778.8 376.4h19.7v19.3h-19.7zM1157.7 395.4h19.7v19.3h-19.7zM1177.1 395.4h19.7v19.3h-19.7zM1196.5 395.4h19.7v19.3h-19.7zM1254.7 395.4h19.7v19.3h-19.7zM1507.1 395.4h19.7v19.3h-19.7zM1623.6 395.4h19.7v19.3h-19.7zM1662.4 395.4h19.7v19.3h-19.7zM1681.8 395.4h19.7v19.3h-19.7zM1701.2 395.4h19.7v19.3h-19.7zM1720.6 395.4h19.7v19.3h-19.7zM1740.0 395.4h19.7v19.3h-19.7zM1778.8 395.4h19.7v19.3h-19.7zM1798.3 395.4h19.7v19.3h-19.7zM1817.7 395.4h19.7v19.3h-19.7zM1837.1 395.4h19.7v19.3h-19.7zM1177.1 414.4h19.7v19.3h-19.7zM1196.5 414.4h19.7v19.3h-19.7zM1215.9 414.4h19.7v19.3h-19.7zM1235.3 414.4h19.7v19.3h-19.7zM1448.8 414.4h19.7v19.3h-19.7zM1759.4 414.4h19.7v19.3h-19.7zM1429.4 433.4h19.7v19.3h-19.7zM1623.6 452.4h19.7v19.3h-19.7z"/><path fill="#FDD2C8" d="M1254.7 15.2h19.7v19.3h-19.7zM1410.0 15.2h19.7v19.3h-19.7zM1429.4 15.2h19.7v19.3h-19.7zM1662.4 15.2h19.7v19.3h-19.7zM1798.3 15.2h19.7v19.3h-19.7zM1293.5 34.2h19.7v19.3h-19.7zM1526.5 34.2h19.7v19.3h-19.7zM1623.6 34.2h19.7v19.3h-19.7zM1662.4 34.2h19.7v19.3h-19.7zM1099.4 53.2h19.7v19.3h-19.7zM1545.9 53.2h19.7v19.3h-19.7zM1584.7 53.2h19.7v19.3h-19.7zM1623.6 53.2h19.7v19.3h-19.7zM1099.4 72.2h19.7v19.3h-19.7zM1138.2 72.2h19.7v19.3h-19.7zM1410.0 72.2h19.7v19.3h-19.7zM1526.5 72.2h19.7v19.3h-19.7zM1662.4 72.2h19.7v19.3h-19.7zM1701.2 72.2h19.7v19.3h-19.7zM1720.6 72.2h19.7v19.3h-19.7zM1837.1 72.2h19.7v19.3h-19.7zM1177.1 91.2h19.7v19.3h-19.7zM1487.7 91.2h19.7v19.3h-19.7zM1623.6 91.2h19.7v19.3h-19.7zM1662.4 91.2h19.7v19.3h-19.7zM1099.4 110.2h19.7v19.3h-19.7zM1177.1 110.2h19.7v19.3h-19.7zM1313.0 110.2h19.7v19.3h-19.7zM1332.4 110.2h19.7v19.3h-19.7zM1351.8 110.2h19.7v19.3h-19.7zM1371.2 110.2h19.7v19.3h-19.7zM1390.6 110.2h19.7v19.3h-19.7zM1448.8 110.2h19.7v19.3h-19.7zM1487.7 110.2h19.7v19.3h-19.7zM1740.0 110.2h19.7v19.3h-19.7zM1778.8 110.2h19.7v19.3h-19.7zM1080.0 129.2h19.7v19.3h-19.7zM1099.4 129.2h19.7v19.3h-19.7zM1390.6 129.2h19.7v19.3h-19.7zM1778.8 129.2h19.7v19.3h-19.7zM1080.0 148.3h19.7v19.3h-19.7zM1157.7 148.3h19.7v19.3h-19.7zM1604.1 148.3h19.7v19.3h-19.7zM1623.6 148.3h19.7v19.3h-19.7zM1643.0 148.3h19.7v19.3h-19.7zM1720.6 148.3h19.7v19.3h-19.7zM1740.0 148.3h19.7v19.3h-19.7zM1565.3 167.3h19.7v19.3h-19.7zM1584.7 167.3h19.7v19.3h-19.7zM1623.6 167.3h19.7v19.3h-19.7zM1778.8 167.3h19.7v19.3h-19.7zM1196.5 186.3h19.7v19.3h-19.7zM1215.9 186.3h19.7v19.3h-19.7zM1235.3 186.3h19.7v19.3h-19.7zM1545.9 186.3h19.7v19.3h-19.7zM1662.4 186.3h19.7v19.3h-19.7zM1798.3 186.3h19.7v19.3h-19.7zM1817.7 186.3h19.7v19.3h-19.7zM1332.4 205.3h19.7v19.3h-19.7zM1390.6 205.3h19.7v19.3h-19.7zM1740.0 205.3h19.7v19.3h-19.7zM1798.3 205.3h19.7v19.3h-19.7zM1254.7 224.3h19.7v19.3h-19.7zM1293.5 224.3h19.7v19.3h-19.7zM1468.2 224.3h19.7v19.3h-19.7zM1487.7 224.3h19.7v19.3h-19.7zM1584.7 224.3h19.7v19.3h-19.7zM1604.1 224.3h19.7v19.3h-19.7zM1643.0 224.3h19.7v19.3h-19.7zM1662.4 224.3h19.7v19.3h-19.7zM1681.8 224.3h19.7v19.3h-19.7zM1740.0 224.3h19.7v19.3h-19.7zM1313.0 243.3h19.7v19.3h-19.7zM1565.3 243.3h19.7v19.3h-19.7zM1584.7 243.3h19.7v19.3h-19.7zM1662.4 243.3h19.7v19.3h-19.7zM1681.8 243.3h19.7v19.3h-19.7zM1720.6 243.3h19.7v19.3h-19.7zM1740.0 243.3h19.7v19.3h-19.7zM1798.3 243.3h19.7v19.3h-19.7zM1817.7 243.3h19.7v19.3h-19.7zM1157.7 262.3h19.7v19.3h-19.7zM1215.9 262.3h19.7v19.3h-19.7zM1235.3 262.3h19.7v19.3h-19.7zM1254.7 262.3h19.7v19.3h-19.7zM1293.5 262.3h19.7v19.3h-19.7zM1332.4 262.3h19.7v19.3h-19.7zM1351.8 262.3h19.7v19.3h-19.7zM1371.2 262.3h19.7v19.3h-19.7zM1526.5 262.3h19.7v19.3h-19.7zM1604.1 262.3h19.7v19.3h-19.7zM1681.8 262.3h19.7v19.3h-19.7zM1701.2 262.3h19.7v19.3h-19.7zM1759.4 262.3h19.7v19.3h-19.7zM1371.2 281.3h19.7v19.3h-19.7zM1468.2 281.3h19.7v19.3h-19.7zM1526.5 281.3h19.7v19.3h-19.7zM1643.0 281.3h19.7v19.3h-19.7zM1681.8 281.3h19.7v19.3h-19.7zM1157.7 300.3h19.7v19.3h-19.7zM1254.7 300.3h19.7v19.3h-19.7zM1293.5 300.3h19.7v19.3h-19.7zM1313.0 300.3h19.7v19.3h-19.7zM1332.4 300.3h19.7v19.3h-19.7zM1351.8 300.3h19.7v19.3h-19.7zM1371.2 300.3h19.7v19.3h-19.7zM1507.1 300.3h19.7v19.3h-19.7zM1584.7 300.3h19.7v19.3h-19.7zM1623.6 300.3h19.7v19.3h-19.7zM1643.0 300.3h19.7v19.3h-19.7zM1662.4 300.3h19.7v19.3h-19.7zM1681.8 300.3h19.7v19.3h-19.7zM1740.0 300.3h19.7v19.3h-19.7zM1837.1 300.3h19.7v19.3h-19.7zM1293.5 319.3h19.7v19.3h-19.7zM1332.4 319.3h19.7v19.3h-19.7zM1371.2 319.3h19.7v19.3h-19.7zM1429.4 319.3h19.7v19.3h-19.7zM1468.2 319.3h19.7v19.3h-19.7zM1584.7 319.3h19.7v19.3h-19.7zM1643.0 319.3h19.7v19.3h-19.7zM1662.4 319.3h19.7v19.3h-19.7zM1701.2 319.3h19.7v19.3h-19.7zM1720.6 319.3h19.7v19.3h-19.7zM1157.7 338.3h19.7v19.3h-19.7zM1254.7 338.3h19.7v19.3h-19.7zM1565.3 338.3h19.7v19.3h-19.7zM1584.7 338.3h19.7v19.3h-19.7zM1643.0 338.3h19.7v19.3h-19.7zM1681.8 338.3h19.7v19.3h-19.7zM1720.6 338.3h19.7v19.3h-19.7zM1740.0 338.3h19.7v19.3h-19.7zM1798.3 338.3h19.7v19.3h-19.7zM1177.1 357.3h19.7v19.3h-19.7zM1254.7 357.3h19.7v19.3h-19.7zM1293.5 357.3h19.7v19.3h-19.7zM1313.0 357.3h19.7v19.3h-19.7zM1332.4 357.3h19.7v19.3h-19.7zM1351.8 357.3h19.7v19.3h-19.7zM1371.2 357.3h19.7v19.3h-19.7zM1487.7 357.3h19.7v19.3h-19.7zM1507.1 357.3h19.7v19.3h-19.7zM1526.5 357.3h19.7v19.3h-19.7zM1545.9 357.3h19.7v19.3h-19.7zM1623.6 357.3h19.7v19.3h-19.7zM1643.0 357.3h19.7v19.3h-19.7zM1662.4 357.3h19.7v19.3h-19.7zM1681.8 357.3h19.7v19.3h-19.7zM1720.6 357.3h19.7v19.3h-19.7zM1740.0 357.3h19.7v19.3h-19.7zM1778.8 357.3h19.7v19.3h-19.7zM1798.3 357.3h19.7v19.3h-19.7zM1817.7 357.3h19.7v19.3h-19.7zM1254.7 376.4h19.7v19.3h-19.7zM1293.5 376.4h19.7v19.3h-19.7zM1313.0 376.4h19.7v19.3h-19.7zM1371.2 376.4h19.7v19.3h-19.7zM1390.6 376.4h19.7v19.3h-19.7zM1487.7 376.4h19.7v19.3h-19.7zM1565.3 376.4h19.7v19.3h-19.7zM1584.7 376.4h19.7v19.3h-19.7zM1643.0 376.4h19.7v19.3h-19.7zM1662.4 376.4h19.7v19.3h-19.7zM1681.8 376.4h19.7v19.3h-19.7zM1720.6 376.4h19.7v19.3h-19.7zM1740.0 376.4h19.7v19.3h-19.7zM1274.1 395.4h19.7v19.3h-19.7zM1293.5 395.4h19.7v19.3h-19.7zM1313.0 395.4h19.7v19.3h-19.7zM1332.4 395.4h19.7v19.3h-19.7zM1351.8 395.4h19.7v19.3h-19.7zM1371.2 395.4h19.7v19.3h-19.7zM1390.6 395.4h19.7v19.3h-19.7zM1526.5 395.4h19.7v19.3h-19.7zM1565.3 395.4h19.7v19.3h-19.7zM1584.7 395.4h19.7v19.3h-19.7zM1643.0 395.4h19.7v19.3h-19.7zM1759.4 395.4h19.7v19.3h-19.7zM1468.2 414.4h19.7v19.3h-19.7zM1507.1 414.4h19.7v19.3h-19.7zM1526.5 414.4h19.7v19.3h-19.7zM1565.3 414.4h19.7v19.3h-19.7zM1584.7 414.4h19.7v19.3h-19.7zM1662.4 414.4h19.7v19.3h-19.7zM1740.0 414.4h19.7v19.3h-19.7zM1837.1 414.4h19.7v19.3h-19.7zM1215.9 433.4h19.7v19.3h-19.7zM1235.3 433.4h19.7v19.3h-19.7zM1313.0 433.4h19.7v19.3h-19.7zM1390.6 433.4h19.7v19.3h-19.7zM1487.7 433.4h19.7v19.3h-19.7zM1507.1 433.4h19.7v19.3h-19.7zM1545.9 433.4h19.7v19.3h-19.7zM1565.3 433.4h19.7v19.3h-19.7zM1584.7 433.4h19.7v19.3h-19.7zM1662.4 433.4h19.7v19.3h-19.7zM1720.6 433.4h19.7v19.3h-19.7zM1740.0 433.4h19.7v19.3h-19.7zM1817.7 433.4h19.7v19.3h-19.7zM1837.1 433.4h19.7v19.3h-19.7zM1215.9 452.4h19.7v19.3h-19.7zM1235.3 452.4h19.7v19.3h-19.7zM1313.0 452.4h19.7v19.3h-19.7zM1332.4 452.4h19.7v19.3h-19.7zM1429.4 452.4h19.7v19.3h-19.7zM1545.9 452.4h19.7v19.3h-19.7zM1565.3 452.4h19.7v19.3h-19.7zM1584.7 452.4h19.7v19.3h-19.7zM1662.4 452.4h19.7v19.3h-19.7zM1681.8 452.4h19.7v19.3h-19.7zM1720.6 452.4h19.7v19.3h-19.7zM1759.4 452.4h19.7v19.3h-19.7zM1778.8 452.4h19.7v19.3h-19.7zM1817.7 452.4h19.7v19.3h-19.7zM1837.1 452.4h19.7v19.3h-19.7z"/><path fill="#FEE0D9" d="M1274.1 15.2h19.7v19.3h-19.7zM1487.7 15.2h19.7v19.3h-19.7zM1817.7 15.2h19.7v19.3h-19.7zM1118.8 34.2h19.7v19.3h-19.7zM1177.1 34.2h19.7v19.3h-19.7zM1254.7 72.2h19.7v19.3h-19.7zM1740.0 72.2h19.7v19.3h-19.7zM1759.4 72.2h19.7v19.3h-19.7zM1118.8 91.2h19.7v19.3h-19.7zM1429.4 91.2h19.7v19.3h-19.7zM1545.9 91.2h19.7v19.3h-19.7zM1643.0 91.2h19.7v19.3h-19.7zM1080.0 110.2h19.7v19.3h-19.7zM1293.5 110.2h19.7v19.3h-19.7zM1662.4 110.2h19.7v19.3h-19.7zM1681.8 110.2h19.7v19.3h-19.7zM1701.2 110.2h19.7v19.3h-19.7zM1837.1 110.2h19.7v19.3h-19.7zM1138.2 129.2h19.7v19.3h-19.7zM1157.7 129.2h19.7v19.3h-19.7zM1196.5 129.2h19.7v19.3h-19.7zM1468.2 129.2h19.7v19.3h-19.7zM1604.1 129.2h19.7v19.3h-19.7zM1177.1 148.3h19.7v19.3h-19.7zM1196.5 148.3h19.7v19.3h-19.7zM1215.9 148.3h19.7v19.3h-19.7zM1235.3 148.3h19.7v19.3h-19.7zM1293.5 148.3h19.7v19.3h-19.7zM1371.2 148.3h19.7v19.3h-19.7zM1390.6 148.3h19.7v19.3h-19.7zM1410.0 148.3h19.7v19.3h-19.7zM1448.8 148.3h19.7v19.3h-19.7zM1681.8 148.3h19.7v19.3h-19.7zM1798.3 148.3h19.7v19.3h-19.7zM1254.7 167.3h19.7v19.3h-19.7zM1293.5 167.3h19.7v19.3h-19.7zM1681.8 167.3h19.7v19.3h-19.7zM1720.6 167.3h19.7v19.3h-19.7zM1332.4 186.3h19.7v19.3h-19.7zM1429.4 186.3h19.7v19.3h-19.7zM1526.5 186.3h19.7v19.3h-19.7zM1565.3 186.3h19.7v19.3h-19.7zM1604.1 186.3h19.7v19.3h-19.7zM1643.0 186.3h19.7v19.3h-19.7zM1701.2 186.3h19.7v19.3h-19.7zM1837.1 186.3h19.7v19.3h-19.7zM1215.9 205.3h19.7v19.3h-19.7zM1429.4 205.3h19.7v19.3h-19.7zM1623.6 205.3h19.7v19.3h-19.7zM1157.7 224.3h19.7v19.3h-19.7zM1177.1 224.3h19.7v19.3h-19.7zM1410.0 224.3h19.7v19.3h-19.7zM1545.9 224.3h19.7v19.3h-19.7zM1118.8 243.3h19.7v19.3h-19.7zM1138.2 243.3h19.7v19.3h-19.7zM1390.6 243.3h19.7v19.3h-19.7zM1526.5 243.3h19.7v19.3h-19.7zM1545.9 243.3h19.7v19.3h-19.7zM1701.2 243.3h19.7v19.3h-19.7zM1196.5 262.3h19.7v19.3h-19.7zM1468.2 262.3h19.7v19.3h-19.7zM1507.1 262.3h19.7v19.3h-19.7zM1623.6 262.3h19.7v19.3h-19.7zM1643.0 262.3h19.7v19.3h-19.7zM1837.1 262.3h19.7v19.3h-19.7zM1157.7 281.3h19.7v19.3h-19.7zM1293.5 281.3h19.7v19.3h-19.7zM1313.0 281.3h19.7v19.3h-19.7zM1332.4 281.3h19.7v19.3h-19.7zM1487.7 281.3h19.7v19.3h-19.7zM1759.4 281.3h19.7v19.3h-19.7zM1468.2 300.3h19.7v19.3h-19.7zM1759.4 300.3h19.7v19.3h-19.7zM1274.1 319.3h19.7v19.3h-19.7zM1313.0 319.3h19.7v19.3h-19.7zM1487.7 319.3h19.7v19.3h-19.7zM1526.5 319.3h19.7v19.3h-19.7zM1293.5 338.3h19.7v19.3h-19.7zM1371.2 338.3h19.7v19.3h-19.7zM1604.1 338.3h19.7v19.3h-19.7zM1778.8 338.3h19.7v19.3h-19.7zM1604.1 357.3h19.7v19.3h-19.7zM1526.5 376.4h19.7v19.3h-19.7zM1604.1 376.4h19.7v19.3h-19.7zM1701.2 376.4h19.7v19.3h-19.7zM1817.7 376.4h19.7v19.3h-19.7zM1118.8 395.4h19.7v19.3h-19.7zM1468.2 395.4h19.7v19.3h-19.7zM1545.9 395.4h19.7v19.3h-19.7zM1604.1 395.4h19.7v19.3h-19.7zM1410.0 414.4h19.7v19.3h-19.7zM1429.4 414.4h19.7v19.3h-19.7zM1701.2 414.4h19.7v19.3h-19.7zM1720.6 414.4h19.7v19.3h-19.7zM1817.7 414.4h19.7v19.3h-19.7zM1099.4 433.4h19.7v19.3h-19.7zM1177.1 433.4h19.7v19.3h-19.7zM1196.5 433.4h19.7v19.3h-19.7zM1254.7 433.4h19.7v19.3h-19.7zM1293.5 433.4h19.7v19.3h-19.7zM1410.0 433.4h19.7v19.3h-19.7zM1468.2 433.4h19.7v19.3h-19.7zM1623.6 433.4h19.7v19.3h-19.7zM1701.2 433.4h19.7v19.3h-19.7zM1759.4 433.4h19.7v19.3h-19.7zM1138.2 452.4h19.7v19.3h-19.7zM1177.1 452.4h19.7v19.3h-19.7zM1196.5 452.4h19.7v19.3h-19.7zM1293.5 452.4h19.7v19.3h-19.7zM1371.2 452.4h19.7v19.3h-19.7zM1390.6 452.4h19.7v19.3h-19.7zM1468.2 452.4h19.7v19.3h-19.7zM1487.7 452.4h19.7v19.3h-19.7zM1701.2 452.4h19.7v19.3h-19.7zM1740.0 452.4h19.7v19.3h-19.7z"/><path fill="#F27D63" d="M1468.2 15.2h19.7v19.3h-19.7zM1390.6 34.2h19.7v19.3h-19.7zM1429.4 34.2h19.7v19.3h-19.7zM1468.2 34.2h19.7v19.3h-19.7zM1817.7 34.2h19.7v19.3h-19.7zM1837.1 34.2h19.7v19.3h-19.7zM1157.7 53.2h19.7v19.3h-19.7zM1196.5 53.2h19.7v19.3h-19.7zM1215.9 53.2h19.7v19.3h-19.7zM1235.3 53.2h19.7v19.3h-19.7zM1429.4 53.2h19.7v19.3h-19.7zM1798.3 53.2h19.7v19.3h-19.7zM1177.1 72.2h19.7v19.3h-19.7zM1429.4 72.2h19.7v19.3h-19.7zM1468.2 72.2h19.7v19.3h-19.7zM1623.6 72.2h19.7v19.3h-19.7zM1778.8 72.2h19.7v19.3h-19.7zM1080.0 243.3h19.7v19.3h-19.7zM1157.7 433.4h19.7v19.3h-19.7zM1157.7 452.4h19.7v19.3h-19.7z"/><path fill="#FFF4F1" d="M1526.5 15.2h19.7v19.3h-19.7zM1701.2 53.2h19.7v19.3h-19.7zM1740.0 53.2h19.7v19.3h-19.7zM1643.0 72.2h19.7v19.3h-19.7zM1681.8 91.2h19.7v19.3h-19.7zM1701.2 91.2h19.7v19.3h-19.7zM1565.3 110.2h19.7v19.3h-19.7zM1584.7 110.2h19.7v19.3h-19.7zM1720.6 110.2h19.7v19.3h-19.7zM1293.5 129.2h19.7v19.3h-19.7zM1565.3 129.2h19.7v19.3h-19.7zM1759.4 129.2h19.7v19.3h-19.7zM1837.1 129.2h19.7v19.3h-19.7zM1099.4 148.3h19.7v19.3h-19.7zM1468.2 148.3h19.7v19.3h-19.7zM1759.4 148.3h19.7v19.3h-19.7zM1215.9 167.3h19.7v19.3h-19.7zM1662.4 167.3h19.7v19.3h-19.7zM1740.0 167.3h19.7v19.3h-19.7zM1798.3 167.3h19.7v19.3h-19.7zM1817.7 167.3h19.7v19.3h-19.7zM1157.7 186.3h19.7v19.3h-19.7zM1293.5 186.3h19.7v19.3h-19.7zM1507.1 186.3h19.7v19.3h-19.7zM1351.8 205.3h19.7v19.3h-19.7zM1468.2 205.3h19.7v19.3h-19.7zM1487.7 205.3h19.7v19.3h-19.7zM1507.1 205.3h19.7v19.3h-19.7zM1545.9 205.3h19.7v19.3h-19.7zM1778.8 205.3h19.7v19.3h-19.7zM1837.1 205.3h19.7v19.3h-19.7zM1643.0 243.3h19.7v19.3h-19.7zM1837.1 243.3h19.7v19.3h-19.7zM1313.0 262.3h19.7v19.3h-19.7zM1565.3 262.3h19.7v19.3h-19.7zM1604.1 281.3h19.7v19.3h-19.7zM1118.8 300.3h19.7v19.3h-19.7zM1274.1 300.3h19.7v19.3h-19.7zM1429.4 300.3h19.7v19.3h-19.7zM1487.7 300.3h19.7v19.3h-19.7zM1351.8 319.3h19.7v19.3h-19.7zM1274.1 338.3h19.7v19.3h-19.7zM1313.0 338.3h19.7v19.3h-19.7zM1332.4 338.3h19.7v19.3h-19.7zM1351.8 338.3h19.7v19.3h-19.7zM1390.6 338.3h19.7v19.3h-19.7zM1410.0 338.3h19.7v19.3h-19.7zM1429.4 338.3h19.7v19.3h-19.7zM1487.7 338.3h19.7v19.3h-19.7zM1468.2 357.3h19.7v19.3h-19.7zM1332.4 376.4h19.7v19.3h-19.7zM1410.0 395.4h19.7v19.3h-19.7zM1448.8 395.4h19.7v19.3h-19.7zM1487.7 395.4h19.7v19.3h-19.7zM1313.0 414.4h19.7v19.3h-19.7zM1371.2 414.4h19.7v19.3h-19.7zM1138.2 433.4h19.7v19.3h-19.7zM1274.1 433.4h19.7v19.3h-19.7zM1351.8 433.4h19.7v19.3h-19.7zM1274.1 452.4h19.7v19.3h-19.7zM1410.0 452.4h19.7v19.3h-19.7zM1526.5 452.4h19.7v19.3h-19.7zM1798.3 452.4h19.7v19.3h-19.7z"/><path fill="#FEEBE6" d="M1643.0 15.2h19.7v19.3h-19.7zM1138.2 34.2h19.7v19.3h-19.7zM1410.0 53.2h19.7v19.3h-19.7zM1390.6 72.2h19.7v19.3h-19.7zM1487.7 72.2h19.7v19.3h-19.7zM1196.5 91.2h19.7v19.3h-19.7zM1215.9 91.2h19.7v19.3h-19.7zM1235.3 91.2h19.7v19.3h-19.7zM1313.0 91.2h19.7v19.3h-19.7zM1390.6 91.2h19.7v19.3h-19.7zM1798.3 91.2h19.7v19.3h-19.7zM1215.9 110.2h19.7v19.3h-19.7zM1235.3 110.2h19.7v19.3h-19.7zM1274.1 110.2h19.7v19.3h-19.7zM1429.4 110.2h19.7v19.3h-19.7zM1545.9 110.2h19.7v19.3h-19.7zM1410.0 129.2h19.7v19.3h-19.7zM1429.4 129.2h19.7v19.3h-19.7zM1526.5 129.2h19.7v19.3h-19.7zM1545.9 129.2h19.7v19.3h-19.7zM1798.3 129.2h19.7v19.3h-19.7zM1313.0 148.3h19.7v19.3h-19.7zM1332.4 148.3h19.7v19.3h-19.7zM1351.8 148.3h19.7v19.3h-19.7zM1526.5 148.3h19.7v19.3h-19.7zM1837.1 148.3h19.7v19.3h-19.7zM1099.4 167.3h19.7v19.3h-19.7zM1332.4 167.3h19.7v19.3h-19.7zM1351.8 167.3h19.7v19.3h-19.7zM1371.2 167.3h19.7v19.3h-19.7zM1390.6 167.3h19.7v19.3h-19.7zM1410.0 167.3h19.7v19.3h-19.7zM1429.4 167.3h19.7v19.3h-19.7zM1468.2 167.3h19.7v19.3h-19.7zM1526.5 167.3h19.7v19.3h-19.7zM1545.9 167.3h19.7v19.3h-19.7zM1604.1 167.3h19.7v19.3h-19.7zM1643.0 167.3h19.7v19.3h-19.7zM1837.1 167.3h19.7v19.3h-19.7zM1118.8 186.3h19.7v19.3h-19.7zM1584.7 186.3h19.7v19.3h-19.7zM1720.6 186.3h19.7v19.3h-19.7zM1759.4 186.3h19.7v19.3h-19.7zM1118.8 205.3h19.7v19.3h-19.7zM1235.3 205.3h19.7v19.3h-19.7zM1313.0 205.3h19.7v19.3h-19.7zM1274.1 224.3h19.7v19.3h-19.7zM1701.2 224.3h19.7v19.3h-19.7zM1778.8 224.3h19.7v19.3h-19.7zM1817.7 224.3h19.7v19.3h-19.7zM1177.1 243.3h19.7v19.3h-19.7zM1448.8 243.3h19.7v19.3h-19.7zM1778.8 243.3h19.7v19.3h-19.7zM1274.1 262.3h19.7v19.3h-19.7zM1410.0 262.3h19.7v19.3h-19.7zM1545.9 262.3h19.7v19.3h-19.7zM1798.3 262.3h19.7v19.3h-19.7zM1254.7 281.3h19.7v19.3h-19.7zM1274.1 281.3h19.7v19.3h-19.7zM1351.8 281.3h19.7v19.3h-19.7zM1410.0 281.3h19.7v19.3h-19.7zM1448.8 281.3h19.7v19.3h-19.7zM1565.3 281.3h19.7v19.3h-19.7zM1410.0 300.3h19.7v19.3h-19.7zM1448.8 300.3h19.7v19.3h-19.7zM1254.7 319.3h19.7v19.3h-19.7zM1390.6 319.3h19.7v19.3h-19.7zM1410.0 319.3h19.7v19.3h-19.7zM1507.1 319.3h19.7v19.3h-19.7zM1545.9 319.3h19.7v19.3h-19.7zM1681.8 319.3h19.7v19.3h-19.7zM1740.0 319.3h19.7v19.3h-19.7zM1507.1 338.3h19.7v19.3h-19.7zM1545.9 338.3h19.7v19.3h-19.7zM1274.1 357.3h19.7v19.3h-19.7zM1390.6 357.3h19.7v19.3h-19.7zM1410.0 357.3h19.7v19.3h-19.7zM1448.8 357.3h19.7v19.3h-19.7zM1138.2 376.4h19.7v19.3h-19.7zM1351.8 376.4h19.7v19.3h-19.7zM1429.4 376.4h19.7v19.3h-19.7zM1448.8 376.4h19.7v19.3h-19.7zM1138.2 395.4h19.7v19.3h-19.7zM1429.4 395.4h19.7v19.3h-19.7zM1254.7 414.4h19.7v19.3h-19.7zM1274.1 414.4h19.7v19.3h-19.7zM1293.5 414.4h19.7v19.3h-19.7zM1332.4 414.4h19.7v19.3h-19.7zM1487.7 414.4h19.7v19.3h-19.7zM1604.1 414.4h19.7v19.3h-19.7zM1643.0 414.4h19.7v19.3h-19.7zM1681.8 414.4h19.7v19.3h-19.7zM1798.3 414.4h19.7v19.3h-19.7zM1332.4 433.4h19.7v19.3h-19.7zM1371.2 433.4h19.7v19.3h-19.7zM1643.0 433.4h19.7v19.3h-19.7zM1681.8 433.4h19.7v19.3h-19.7zM1798.3 433.4h19.7v19.3h-19.7zM1099.4 452.4h19.7v19.3h-19.7zM1351.8 452.4h19.7v19.3h-19.7zM1643.0 452.4h19.7v19.3h-19.7z"/><path fill="#E6F4F8" d="M1837.1 15.2h19.7v19.3h-19.7zM1254.7 91.2h19.7v19.3h-19.7zM1410.0 91.2h19.7v19.3h-19.7zM1604.1 91.2h19.7v19.3h-19.7zM1740.0 91.2h19.7v19.3h-19.7zM1778.8 91.2h19.7v19.3h-19.7zM1468.2 110.2h19.7v19.3h-19.7zM1507.1 110.2h19.7v19.3h-19.7zM1274.1 129.2h19.7v19.3h-19.7zM1332.4 129.2h19.7v19.3h-19.7zM1584.7 129.2h19.7v19.3h-19.7zM1681.8 129.2h19.7v19.3h-19.7zM1720.6 129.2h19.7v19.3h-19.7zM1740.0 129.2h19.7v19.3h-19.7zM1487.7 148.3h19.7v19.3h-19.7zM1487.7 167.3h19.7v19.3h-19.7zM1487.7 186.3h19.7v19.3h-19.7zM1681.8 186.3h19.7v19.3h-19.7zM1604.1 205.3h19.7v19.3h-19.7zM1643.0 205.3h19.7v19.3h-19.7zM1701.2 205.3h19.7v19.3h-19.7zM1099.4 224.3h19.7v19.3h-19.7zM1118.8 224.3h19.7v19.3h-19.7zM1468.2 243.3h19.7v19.3h-19.7zM1118.8 281.3h19.7v19.3h-19.7zM1390.6 281.3h19.7v19.3h-19.7zM1545.9 281.3h19.7v19.3h-19.7zM1080.0 300.3h19.7v19.3h-19.7zM1138.2 300.3h19.7v19.3h-19.7zM1604.1 300.3h19.7v19.3h-19.7zM1118.8 319.3h19.7v19.3h-19.7zM1604.1 319.3h19.7v19.3h-19.7zM1118.8 338.3h19.7v19.3h-19.7zM1138.2 338.3h19.7v19.3h-19.7zM1468.2 338.3h19.7v19.3h-19.7zM1118.8 414.4h19.7v19.3h-19.7zM1080.0 433.4h19.7v19.3h-19.7z"/><path fill="#EC6548" d="M1157.7 34.2h19.7v19.3h-19.7zM1177.1 53.2h19.7v19.3h-19.7zM1157.7 91.2h19.7v19.3h-19.7z"/><path fill="#C8E7F1" d="M1118.8 53.2h19.7v19.3h-19.7zM1118.8 72.2h19.7v19.3h-19.7zM1138.2 91.2h19.7v19.3h-19.7zM1759.4 91.2h19.7v19.3h-19.7zM1817.7 91.2h19.7v19.3h-19.7zM1118.8 110.2h19.7v19.3h-19.7zM1507.1 129.2h19.7v19.3h-19.7zM1507.1 167.3h19.7v19.3h-19.7zM1099.4 186.3h19.7v19.3h-19.7zM1099.4 205.3h19.7v19.3h-19.7zM1157.7 205.3h19.7v19.3h-19.7zM1177.1 205.3h19.7v19.3h-19.7zM1759.4 224.3h19.7v19.3h-19.7zM1604.1 243.3h19.7v19.3h-19.7zM1099.4 262.3h19.7v19.3h-19.7zM1099.4 281.3h19.7v19.3h-19.7zM1080.0 338.3h19.7v19.3h-19.7zM1099.4 338.3h19.7v19.3h-19.7zM1080.0 357.3h19.7v19.3h-19.7zM1080.0 376.4h19.7v19.3h-19.7zM1080.0 395.4h19.7v19.3h-19.7zM1118.8 452.4h19.7v19.3h-19.7z"/><path fill="#B6DFEC" d="M1604.1 72.2h19.7v19.3h-19.7zM1759.4 243.3h19.7v19.3h-19.7zM1080.0 319.3h19.7v19.3h-19.7z"/><path fill="#A9DAE8" d="M1118.8 129.2h19.7v19.3h-19.7z"/></g>
<path d="M1099.5 15.2V471.4M1118.5 15.2V471.4M1138.5 15.2V471.4M1157.5 15.2V471.4M1177.5 15.2V471.4M1196.5 15.2V471.4M1215.5 15.2V471.4M1235.5 15.2V471.4M1254.5 15.2V471.4M1274.5 15.2V471.4M1293.5 15.2V471.4M1312.5 15.2V471.4M1332.5 15.2V471.4M1351.5 15.2V471.4M1371.5 15.2V471.4M1390.5 15.2V471.4M1410.5 15.2V471.4M1429.5 15.2V471.4M1448.5 15.2V471.4M1468.5 15.2V471.4M1487.5 15.2V471.4M1507.5 15.2V471.4M1526.5 15.2V471.4M1545.5 15.2V471.4M1565.5 15.2V471.4M1584.5 15.2V471.4M1604.5 15.2V471.4M1623.5 15.2V471.4M1642.5 15.2V471.4M1662.5 15.2V471.4M1681.5 15.2V471.4M1701.5 15.2V471.4M1720.5 15.2V471.4M1740.5 15.2V471.4M1759.5 15.2V471.4M1778.5 15.2V471.4M1798.5 15.2V471.4M1817.5 15.2V471.4M1837.5 15.2V471.4M1080.0 34.5H1856.5M1080.0 53.5H1856.5M1080.0 72.5H1856.5M1080.0 91.5H1856.5M1080.0 110.5H1856.5M1080.0 129.5H1856.5M1080.0 148.5H1856.5M1080.0 167.5H1856.5M1080.0 186.5H1856.5M1080.0 205.5H1856.5M1080.0 224.5H1856.5M1080.0 243.5H1856.5M1080.0 262.5H1856.5M1080.0 281.5H1856.5M1080.0 300.5H1856.5M1080.0 319.5H1856.5M1080.0 338.5H1856.5M1080.0 357.5H1856.5M1080.0 376.5H1856.5M1080.0 395.5H1856.5M1080.0 414.5H1856.5M1080.0 433.5H1856.5M1080.0 452.5H1856.5" stroke="#454545" stroke-width="1" fill="none"/>
<rect x="1080.00" y="15.20" width="776.50" height="456.20" fill="none" stroke="#9a9a9a" stroke-width="1.2"/>
<g font-size="17" text-anchor="middle" stroke="#000" stroke-width="0.45" transform="scale(0.95,0.8)"><text x="1143.0" y="35.4">*</text><text x="1151.2" y="35.4">*</text><text x="1163.4" y="35.4">*</text><text x="1171.6" y="35.4">*</text><text x="1224.7" y="35.4">*</text><text x="1232.9" y="35.4">*</text><text x="1245.1" y="35.4">*</text><text x="1253.3" y="35.4">*</text><text x="1265.6" y="35.4">*</text><text x="1273.8" y="35.4">*</text><text x="1286.0" y="35.4">*</text><text x="1294.2" y="35.4">*</text><text x="1306.4" y="35.4">*</text><text x="1314.6" y="35.4">*</text><text x="1326.9" y="35.4">*</text><text x="1335.1" y="35.4">*</text><text x="1367.7" y="35.4">*</text><text x="1375.9" y="35.4">*</text><text x="1388.2" y="35.4">*</text><text x="1396.4" y="35.4">*</text><text x="1408.6" y="35.4">*</text><text x="1416.8" y="35.4">*</text><text x="1429.0" y="35.4">*</text><text x="1437.2" y="35.4">*</text><text x="1449.5" y="35.4">*</text><text x="1457.7" y="35.4">*</text><text x="1469.9" y="35.4">*</text><text x="1478.1" y="35.4">*</text><text x="1490.3" y="35.4">*</text><text x="1498.5" y="35.4">*</text><text x="1514.9" y="35.4">*</text><text x="1531.2" y="35.4">*</text><text x="1539.4" y="35.4">*</text><text x="1551.6" y="35.4">*</text><text x="1559.8" y="35.4">*</text><text x="1653.8" y="35.4">*</text><text x="1662.0" y="35.4">*</text><text x="1674.2" y="35.4">*</text><text x="1682.5" y="35.4">*</text><text x="1694.7" y="35.4">*</text><text x="1702.9" y="35.4">*</text><text x="1719.2" y="35.4">*</text><text x="1756.0" y="35.4">*</text><text x="1764.2" y="35.4">*</text><text x="1776.4" y="35.4">*</text><text x="1784.6" y="35.4">*</text><text x="1796.8" y="35.4">*</text><text x="1805.1" y="35.4">*</text><text x="1817.3" y="35.4">*</text><text x="1825.5" y="35.4">*</text><text x="1837.7" y="35.4">*</text><text x="1845.9" y="35.4">*</text><text x="1862.3" y="35.4">*</text><text x="1878.6" y="35.4">*</text><text x="1886.8" y="35.4">*</text><text x="1899.0" y="35.4">*</text><text x="1907.2" y="35.4">*</text><text x="1923.6" y="35.4">*</text><text x="1939.9" y="35.4">*</text><text x="1948.1" y="35.4">*</text><text x="1163.4" y="59.1">*</text><text x="1171.6" y="59.1">*</text><text x="1224.7" y="59.1">*</text><text x="1232.9" y="59.1">*</text><text x="1265.6" y="59.1">*</text><text x="1273.8" y="59.1">*</text><text x="1286.0" y="59.1">*</text><text x="1294.2" y="59.1">*</text><text x="1306.4" y="59.1">*</text><text x="1314.6" y="59.1">*</text><text x="1326.9" y="59.1">*</text><text x="1335.1" y="59.1">*</text><text x="1347.3" y="59.1">*</text><text x="1355.5" y="59.1">*</text><text x="1367.7" y="59.1">*</text><text x="1375.9" y="59.1">*</text><text x="1388.2" y="59.1">*</text><text x="1396.4" y="59.1">*</text><text x="1408.6" y="59.1">*</text><text x="1416.8" y="59.1">*</text><text x="1429.0" y="59.1">*</text><text x="1437.2" y="59.1">*</text><text x="1449.5" y="59.1">*</text><text x="1457.7" y="59.1">*</text><text x="1469.9" y="59.1">*</text><text x="1478.1" y="59.1">*</text><text x="1490.3" y="59.1">*</text><text x="1498.5" y="59.1">*</text><text x="1510.8" y="59.1">*</text><text x="1519.0" y="59.1">*</text><text x="1531.2" y="59.1">*</text><text x="1539.4" y="59.1">*</text><text x="1551.6" y="59.1">*</text><text x="1559.8" y="59.1">*</text><text x="1592.5" y="59.1">*</text><text x="1600.7" y="59.1">*</text><text x="1633.4" y="59.1">*</text><text x="1641.6" y="59.1">*</text><text x="1653.8" y="59.1">*</text><text x="1662.0" y="59.1">*</text><text x="1674.2" y="59.1">*</text><text x="1682.5" y="59.1">*</text><text x="1694.7" y="59.1">*</text><text x="1702.9" y="59.1">*</text><text x="1735.5" y="59.1">*</text><text x="1743.8" y="59.1">*</text><text x="1756.0" y="59.1">*</text><text x="1764.2" y="59.1">*</text><text x="1776.4" y="59.1">*</text><text x="1784.6" y="59.1">*</text><text x="1796.8" y="59.1">*</text><text x="1805.1" y="59.1">*</text><text x="1817.3" y="59.1">*</text><text x="1825.5" y="59.1">*</text><text x="1837.7" y="59.1">*</text><text x="1845.9" y="59.1">*</text><text x="1858.2" y="59.1">*</text><text x="1866.4" y="59.1">*</text><text x="1878.6" y="59.1">*</text><text x="1886.8" y="59.1">*</text><text x="1899.0" y="59.1">*</text><text x="1907.2" y="59.1">*</text><text x="1919.5" y="59.1">*</text><text x="1927.7" y="59.1">*</text><text x="1939.9" y="59.1">*</text><text x="1948.1" y="59.1">*</text><text x="1143.0" y="82.9">*</text><text x="1151.2" y="82.9">*</text><text x="1163.4" y="82.9">*</text><text x="1171.6" y="82.9">*</text><text x="1183.8" y="82.9">*</text><text x="1192.0" y="82.9">*</text><text x="1204.3" y="82.9">*</text><text x="1212.5" y="82.9">*</text><text x="1224.7" y="82.9">*</text><text x="1232.9" y="82.9">*</text><text x="1245.1" y="82.9">*</text><text x="1253.3" y="82.9">*</text><text x="1265.6" y="82.9">*</text><text x="1273.8" y="82.9">*</text><text x="1286.0" y="82.9">*</text><text x="1294.2" y="82.9">*</text><text x="1306.4" y="82.9">*</text><text x="1314.6" y="82.9">*</text><text x="1326.9" y="82.9">*</text><text x="1335.1" y="82.9">*</text><text x="1347.3" y="82.9">*</text><text x="1355.5" y="82.9">*</text><text x="1367.7" y="82.9">*</text><text x="1375.9" y="82.9">*</text><text x="1388.2" y="82.9">*</text><text x="1396.4" y="82.9">*</text><text x="1408.6" y="82.9">*</text><text x="1416.8" y="82.9">*</text><text x="1429.0" y="82.9">*</text><text x="1437.2" y="82.9">*</text><text x="1449.5" y="82.9">*</text><text x="1457.7" y="82.9">*</text><text x="1469.9" y="82.9">*</text><text x="1478.1" y="82.9">*</text><text x="1510.8" y="82.9">*</text><text x="1519.0" y="82.9">*</text><text x="1531.2" y="82.9">*</text><text x="1539.4" y="82.9">*</text><text x="1551.6" y="82.9">*</text><text x="1559.8" y="82.9">*</text><text x="1572.1" y="82.9">*</text><text x="1580.3" y="82.9">*</text><text x="1592.5" y="82.9">*</text><text x="1600.7" y="82.9">*</text><text x="1612.9" y="82.9">*</text><text x="1621.2" y="82.9">*</text><text x="1637.5" y="82.9">*</text><text x="1653.8" y="82.9">*</text><text x="1662.0" y="82.9">*</text><text x="1674.2" y="82.9">*</text><text x="1682.5" y="82.9">*</text><text x="1694.7" y="82.9">*</text><text x="1702.9" y="82.9">*</text><text x="1735.5" y="82.9">*</text><text x="1743.8" y="82.9">*</text><text x="1756.0" y="82.9">*</text><text x="1764.2" y="82.9">*</text><text x="1776.4" y="82.9">*</text><text x="1784.6" y="82.9">*</text><text x="1817.3" y="82.9">*</text><text x="1825.5" y="82.9">*</text><text x="1878.6" y="82.9">*</text><text x="1886.8" y="82.9">*</text><text x="1899.0" y="82.9">*</text><text x="1907.2" y="82.9">*</text><text x="1919.5" y="82.9">*</text><text x="1927.7" y="82.9">*</text><text x="1939.9" y="82.9">*</text><text x="1948.1" y="82.9">*</text><text x="1143.0" y="106.7">*</text><text x="1151.2" y="106.7">*</text><text x="1163.4" y="106.7">*</text><text x="1171.6" y="106.7">*</text><text x="1183.8" y="106.7">*</text><text x="1192.0" y="106.7">*</text><text x="1208.4" y="106.7">*</text><text x="1224.7" y="106.7">*</text><text x="1232.9" y="106.7">*</text><text x="1245.1" y="106.7">*</text><text x="1253.3" y="106.7">*</text><text x="1265.6" y="106.7">*</text><text x="1273.8" y="106.7">*</text><text x="1286.0" y="106.7">*</text><text x="1294.2" y="106.7">*</text><text x="1306.4" y="106.7">*</text><text x="1314.6" y="106.7">*</text><text x="1347.3" y="106.7">*</text><text x="1355.5" y="106.7">*</text><text x="1367.7" y="106.7">*</text><text x="1375.9" y="106.7">*</text><text x="1388.2" y="106.7">*</text><text x="1396.4" y="106.7">*</text><text x="1408.6" y="106.7">*</text><text x="1416.8" y="106.7">*</text><text x="1429.0" y="106.7">*</text><text x="1437.2" y="106.7">*</text><text x="1449.5" y="106.7">*</text><text x="1457.7" y="106.7">*</text><text x="1490.3" y="106.7">*</text><text x="1498.5" y="106.7">*</text><text x="1510.8" y="106.7">*</text><text x="1519.0" y="106.7">*</text><text x="1531.2" y="106.7">*</text><text x="1539.4" y="106.7">*</text><text x="1551.6" y="106.7">*</text><text x="1559.8" y="106.7">*</text><text x="1592.5" y="106.7">*</text><text x="1600.7" y="106.7">*</text><text x="1657.9" y="106.7">*</text><text x="1694.7" y="106.7">*</text><text x="1702.9" y="106.7">*</text><text x="1715.1" y="106.7">*</text><text x="1723.3" y="106.7">*</text><text x="1756.0" y="106.7">*</text><text x="1764.2" y="106.7">*</text><text x="1776.4" y="106.7">*</text><text x="1784.6" y="106.7">*</text><text x="1796.8" y="106.7">*</text><text x="1805.1" y="106.7">*</text><text x="1817.3" y="106.7">*</text><text x="1825.5" y="106.7">*</text><text x="1878.6" y="106.7">*</text><text x="1886.8" y="106.7">*</text><text x="1899.0" y="106.7">*</text><text x="1907.2" y="106.7">*</text><text x="1919.5" y="106.7">*</text><text x="1927.7" y="106.7">*</text><text x="1939.9" y="106.7">*</text><text x="1948.1" y="106.7">*</text><text x="1143.0" y="130.4">*</text><text x="1151.2" y="130.4">*</text><text x="1163.4" y="130.4">*</text><text x="1171.6" y="130.4">*</text><text x="1204.3" y="130.4">*</text><text x="1212.5" y="130.4">*</text><text x="1224.7" y="130.4">*</text><text x="1232.9" y="130.4">*</text><text x="1249.2" y="130.4">*</text><text x="1531.2" y="130.4">*</text><text x="1539.4" y="130.4">*</text><text x="1551.6" y="130.4">*</text><text x="1559.8" y="130.4">*</text><text x="1637.5" y="130.4">*</text><text x="1653.8" y="130.4">*</text><text x="1662.0" y="130.4">*</text><text x="1674.2" y="130.4">*</text><text x="1682.5" y="130.4">*</text><text x="1739.7" y="130.4">*</text><text x="1756.0" y="130.4">*</text><text x="1764.2" y="130.4">*</text><text x="1817.3" y="130.4">*</text><text x="1825.5" y="130.4">*</text><text x="1939.9" y="130.4">*</text><text x="1948.1" y="130.4">*</text><text x="1163.4" y="154.2">*</text><text x="1171.6" y="154.2">*</text><text x="1183.8" y="154.2">*</text><text x="1192.0" y="154.2">*</text><text x="1224.7" y="154.2">*</text><text x="1232.9" y="154.2">*</text><text x="1245.1" y="154.2">*</text><text x="1253.3" y="154.2">*</text><text x="1326.9" y="154.2">*</text><text x="1335.1" y="154.2">*</text><text x="1367.7" y="154.2">*</text><text x="1375.9" y="154.2">*</text><text x="1388.2" y="154.2">*</text><text x="1396.4" y="154.2">*</text><text x="1408.6" y="154.2">*</text><text x="1416.8" y="154.2">*</text><text x="1429.0" y="154.2">*</text><text x="1437.2" y="154.2">*</text><text x="1449.5" y="154.2">*</text><text x="1457.7" y="154.2">*</text><text x="1469.9" y="154.2">*</text><text x="1478.1" y="154.2">*</text><text x="1531.2" y="154.2">*</text><text x="1539.4" y="154.2">*</text><text x="1572.1" y="154.2">*</text><text x="1580.3" y="154.2">*</text><text x="1694.7" y="154.2">*</text><text x="1702.9" y="154.2">*</text><text x="1719.2" y="154.2">*</text><text x="1756.0" y="154.2">*</text><text x="1764.2" y="154.2">*</text><text x="1776.4" y="154.2">*</text><text x="1784.6" y="154.2">*</text><text x="1801.0" y="154.2">*</text><text x="1837.7" y="154.2">*</text><text x="1845.9" y="154.2">*</text><text x="1882.7" y="154.2">*</text><text x="1899.0" y="154.2">*</text><text x="1907.2" y="154.2">*</text><text x="1919.5" y="154.2">*</text><text x="1927.7" y="154.2">*</text><text x="1944.0" y="154.2">*</text><text x="1143.0" y="177.9">*</text><text x="1151.2" y="177.9">*</text><text x="1163.4" y="177.9">*</text><text x="1171.6" y="177.9">*</text><text x="1183.8" y="177.9">*</text><text x="1192.0" y="177.9">*</text><text x="1224.7" y="177.9">*</text><text x="1232.9" y="177.9">*</text><text x="1326.9" y="177.9">*</text><text x="1335.1" y="177.9">*</text><text x="1408.6" y="177.9">*</text><text x="1416.8" y="177.9">*</text><text x="1469.9" y="177.9">*</text><text x="1478.1" y="177.9">*</text><text x="1555.7" y="177.9">*</text><text x="1576.2" y="177.9">*</text><text x="1596.6" y="177.9">*</text><text x="1674.2" y="177.9">*</text><text x="1682.5" y="177.9">*</text><text x="1715.1" y="177.9">*</text><text x="1723.3" y="177.9">*</text><text x="1143.0" y="201.7">*</text><text x="1151.2" y="201.7">*</text><text x="1224.7" y="201.7">*</text><text x="1232.9" y="201.7">*</text><text x="1286.0" y="201.7">*</text><text x="1294.2" y="201.7">*</text><text x="1306.4" y="201.7">*</text><text x="1314.6" y="201.7">*</text><text x="1326.9" y="201.7">*</text><text x="1335.1" y="201.7">*</text><text x="1367.7" y="201.7">*</text><text x="1375.9" y="201.7">*</text><text x="1392.3" y="201.7">*</text><text x="1433.1" y="201.7">*</text><text x="1449.5" y="201.7">*</text><text x="1457.7" y="201.7">*</text><text x="1531.2" y="201.7">*</text><text x="1539.4" y="201.7">*</text><text x="1735.5" y="201.7">*</text><text x="1743.8" y="201.7">*</text><text x="1776.4" y="201.7">*</text><text x="1784.6" y="201.7">*</text><text x="1796.8" y="201.7">*</text><text x="1805.1" y="201.7">*</text><text x="1817.3" y="201.7">*</text><text x="1825.5" y="201.7">*</text><text x="1837.7" y="201.7">*</text><text x="1845.9" y="201.7">*</text><text x="1899.0" y="201.7">*</text><text x="1907.2" y="201.7">*</text><text x="1944.0" y="201.7">*</text><text x="1147.1" y="225.5">*</text><text x="1167.5" y="225.5">*</text><text x="1269.7" y="225.5">*</text><text x="1331.0" y="225.5">*</text><text x="1367.7" y="225.5">*</text><text x="1375.9" y="225.5">*</text><text x="1596.6" y="225.5">*</text><text x="1653.8" y="225.5">*</text><text x="1662.0" y="225.5">*</text><text x="1674.2" y="225.5">*</text><text x="1682.5" y="225.5">*</text><text x="1776.4" y="225.5">*</text><text x="1784.6" y="225.5">*</text><text x="1817.3" y="225.5">*</text><text x="1825.5" y="225.5">*</text><text x="1143.0" y="249.2">*</text><text x="1151.2" y="249.2">*</text><text x="1163.4" y="249.2">*</text><text x="1171.6" y="249.2">*</text><text x="1208.4" y="249.2">*</text><text x="1245.1" y="249.2">*</text><text x="1253.3" y="249.2">*</text><text x="1269.7" y="249.2">*</text><text x="1286.0" y="249.2">*</text><text x="1294.2" y="249.2">*</text><text x="1306.4" y="249.2">*</text><text x="1314.6" y="249.2">*</text><text x="1412.7" y="249.2">*</text><text x="1490.3" y="249.2">*</text><text x="1498.5" y="249.2">*</text><text x="1514.9" y="249.2">*</text><text x="1531.2" y="249.2">*</text><text x="1539.4" y="249.2">*</text><text x="1551.6" y="249.2">*</text><text x="1559.8" y="249.2">*</text><text x="1633.4" y="249.2">*</text><text x="1641.6" y="249.2">*</text><text x="1653.8" y="249.2">*</text><text x="1662.0" y="249.2">*</text><text x="1719.2" y="249.2">*</text><text x="1756.0" y="249.2">*</text><text x="1764.2" y="249.2">*</text><text x="1821.4" y="249.2">*</text><text x="1899.0" y="249.2">*</text><text x="1907.2" y="249.2">*</text><text x="1923.6" y="249.2">*</text><text x="1939.9" y="249.2">*</text><text x="1948.1" y="249.2">*</text><text x="1143.0" y="273.0">*</text><text x="1151.2" y="273.0">*</text><text x="1163.4" y="273.0">*</text><text x="1171.6" y="273.0">*</text><text x="1224.7" y="273.0">*</text><text x="1232.9" y="273.0">*</text><text x="1245.1" y="273.0">*</text><text x="1253.3" y="273.0">*</text><text x="1408.6" y="273.0">*</text><text x="1416.8" y="273.0">*</text><text x="1474.0" y="273.0">*</text><text x="1735.5" y="273.0">*</text><text x="1743.8" y="273.0">*</text><text x="1756.0" y="273.0">*</text><text x="1764.2" y="273.0">*</text><text x="1837.7" y="273.0">*</text><text x="1845.9" y="273.0">*</text><text x="1899.0" y="273.0">*</text><text x="1907.2" y="273.0">*</text><text x="1143.0" y="296.7">*</text><text x="1151.2" y="296.7">*</text><text x="1163.4" y="296.7">*</text><text x="1171.6" y="296.7">*</text><text x="1224.7" y="296.7">*</text><text x="1232.9" y="296.7">*</text><text x="1265.6" y="296.7">*</text><text x="1273.8" y="296.7">*</text><text x="1286.0" y="296.7">*</text><text x="1294.2" y="296.7">*</text><text x="1306.4" y="296.7">*</text><text x="1314.6" y="296.7">*</text><text x="1331.0" y="296.7">*</text><text x="1367.7" y="296.7">*</text><text x="1375.9" y="296.7">*</text><text x="1388.2" y="296.7">*</text><text x="1396.4" y="296.7">*</text><text x="1408.6" y="296.7">*</text><text x="1416.8" y="296.7">*</text><text x="1429.0" y="296.7">*</text><text x="1437.2" y="296.7">*</text><text x="1449.5" y="296.7">*</text><text x="1457.7" y="296.7">*</text><text x="1469.9" y="296.7">*</text><text x="1478.1" y="296.7">*</text><text x="1494.4" y="296.7">*</text><text x="1510.8" y="296.7">*</text><text x="1519.0" y="296.7">*</text><text x="1531.2" y="296.7">*</text><text x="1539.4" y="296.7">*</text><text x="1551.6" y="296.7">*</text><text x="1559.8" y="296.7">*</text><text x="1572.1" y="296.7">*</text><text x="1580.3" y="296.7">*</text><text x="1592.5" y="296.7">*</text><text x="1600.7" y="296.7">*</text><text x="1637.5" y="296.7">*</text><text x="1653.8" y="296.7">*</text><text x="1662.0" y="296.7">*</text><text x="1674.2" y="296.7">*</text><text x="1682.5" y="296.7">*</text><text x="1698.8" y="296.7">*</text><text x="1715.1" y="296.7">*</text><text x="1723.3" y="296.7">*</text><text x="1735.5" y="296.7">*</text><text x="1743.8" y="296.7">*</text><text x="1756.0" y="296.7">*</text><text x="1764.2" y="296.7">*</text><text x="1776.4" y="296.7">*</text><text x="1784.6" y="296.7">*</text><text x="1817.3" y="296.7">*</text><text x="1825.5" y="296.7">*</text><text x="1837.7" y="296.7">*</text><text x="1845.9" y="296.7">*</text><text x="1143.0" y="320.5">*</text><text x="1151.2" y="320.5">*</text><text x="1163.4" y="320.5">*</text><text x="1171.6" y="320.5">*</text><text x="1265.6" y="320.5">*</text><text x="1273.8" y="320.5">*</text><text x="1286.0" y="320.5">*</text><text x="1294.2" y="320.5">*</text><text x="1306.4" y="320.5">*</text><text x="1314.6" y="320.5">*</text><text x="1326.9" y="320.5">*</text><text x="1335.1" y="320.5">*</text><text x="1347.3" y="320.5">*</text><text x="1355.5" y="320.5">*</text><text x="1367.7" y="320.5">*</text><text x="1375.9" y="320.5">*</text><text x="1388.2" y="320.5">*</text><text x="1396.4" y="320.5">*</text><text x="1408.6" y="320.5">*</text><text x="1416.8" y="320.5">*</text><text x="1429.0" y="320.5">*</text><text x="1437.2" y="320.5">*</text><text x="1449.5" y="320.5">*</text><text x="1457.7" y="320.5">*</text><text x="1474.0" y="320.5">*</text><text x="1510.8" y="320.5">*</text><text x="1519.0" y="320.5">*</text><text x="1572.1" y="320.5">*</text><text x="1580.3" y="320.5">*</text><text x="1592.5" y="320.5">*</text><text x="1600.7" y="320.5">*</text><text x="1637.5" y="320.5">*</text><text x="1653.8" y="320.5">*</text><text x="1662.0" y="320.5">*</text><text x="1674.2" y="320.5">*</text><text x="1682.5" y="320.5">*</text><text x="1694.7" y="320.5">*</text><text x="1702.9" y="320.5">*</text><text x="1756.0" y="320.5">*</text><text x="1764.2" y="320.5">*</text><text x="1776.4" y="320.5">*</text><text x="1784.6" y="320.5">*</text><text x="1801.0" y="320.5">*</text><text x="1817.3" y="320.5">*</text><text x="1825.5" y="320.5">*</text><text x="1837.7" y="320.5">*</text><text x="1845.9" y="320.5">*</text><text x="1899.0" y="320.5">*</text><text x="1907.2" y="320.5">*</text><text x="1923.6" y="320.5">*</text><text x="1147.1" y="344.3">*</text><text x="1163.4" y="344.3">*</text><text x="1171.6" y="344.3">*</text><text x="1187.9" y="344.3">*</text><text x="1224.7" y="344.3">*</text><text x="1232.9" y="344.3">*</text><text x="1245.1" y="344.3">*</text><text x="1253.3" y="344.3">*</text><text x="1286.0" y="344.3">*</text><text x="1294.2" y="344.3">*</text><text x="1306.4" y="344.3">*</text><text x="1314.6" y="344.3">*</text><text x="1326.9" y="344.3">*</text><text x="1335.1" y="344.3">*</text><text x="1367.7" y="344.3">*</text><text x="1375.9" y="344.3">*</text><text x="1408.6" y="344.3">*</text><text x="1416.8" y="344.3">*</text><text x="1429.0" y="344.3">*</text><text x="1437.2" y="344.3">*</text><text x="1449.5" y="344.3">*</text><text x="1457.7" y="344.3">*</text><text x="1510.8" y="344.3">*</text><text x="1519.0" y="344.3">*</text><text x="1555.7" y="344.3">*</text><text x="1756.0" y="344.3">*</text><text x="1764.2" y="344.3">*</text><text x="1776.4" y="344.3">*</text><text x="1784.6" y="344.3">*</text><text x="1796.8" y="344.3">*</text><text x="1805.1" y="344.3">*</text><text x="1817.3" y="344.3">*</text><text x="1825.5" y="344.3">*</text><text x="1837.7" y="344.3">*</text><text x="1845.9" y="344.3">*</text><text x="1919.5" y="344.3">*</text><text x="1927.7" y="344.3">*</text><text x="1939.9" y="344.3">*</text><text x="1948.1" y="344.3">*</text><text x="1163.4" y="368.0">*</text><text x="1171.6" y="368.0">*</text><text x="1224.7" y="368.0">*</text><text x="1232.9" y="368.0">*</text><text x="1245.1" y="368.0">*</text><text x="1253.3" y="368.0">*</text><text x="1265.6" y="368.0">*</text><text x="1273.8" y="368.0">*</text><text x="1286.0" y="368.0">*</text><text x="1294.2" y="368.0">*</text><text x="1306.4" y="368.0">*</text><text x="1314.6" y="368.0">*</text><text x="1367.7" y="368.0">*</text><text x="1375.9" y="368.0">*</text><text x="1388.2" y="368.0">*</text><text x="1396.4" y="368.0">*</text><text x="1408.6" y="368.0">*</text><text x="1416.8" y="368.0">*</text><text x="1449.5" y="368.0">*</text><text x="1457.7" y="368.0">*</text><text x="1510.8" y="368.0">*</text><text x="1519.0" y="368.0">*</text><text x="1551.6" y="368.0">*</text><text x="1559.8" y="368.0">*</text><text x="1592.5" y="368.0">*</text><text x="1600.7" y="368.0">*</text><text x="1653.8" y="368.0">*</text><text x="1662.0" y="368.0">*</text><text x="1715.1" y="368.0">*</text><text x="1723.3" y="368.0">*</text><text x="1735.5" y="368.0">*</text><text x="1743.8" y="368.0">*</text><text x="1756.0" y="368.0">*</text><text x="1764.2" y="368.0">*</text><text x="1776.4" y="368.0">*</text><text x="1784.6" y="368.0">*</text><text x="1796.8" y="368.0">*</text><text x="1805.1" y="368.0">*</text><text x="1817.3" y="368.0">*</text><text x="1825.5" y="368.0">*</text><text x="1837.7" y="368.0">*</text><text x="1845.9" y="368.0">*</text><text x="1878.6" y="368.0">*</text><text x="1886.8" y="368.0">*</text><text x="1899.0" y="368.0">*</text><text x="1907.2" y="368.0">*</text><text x="1919.5" y="368.0">*</text><text x="1927.7" y="368.0">*</text><text x="1224.7" y="391.8">*</text><text x="1232.9" y="391.8">*</text><text x="1245.1" y="391.8">*</text><text x="1253.3" y="391.8">*</text><text x="1265.6" y="391.8">*</text><text x="1273.8" y="391.8">*</text><text x="1286.0" y="391.8">*</text><text x="1294.2" y="391.8">*</text><text x="1306.4" y="391.8">*</text><text x="1314.6" y="391.8">*</text><text x="1326.9" y="391.8">*</text><text x="1335.1" y="391.8">*</text><text x="1367.7" y="391.8">*</text><text x="1375.9" y="391.8">*</text><text x="1388.2" y="391.8">*</text><text x="1396.4" y="391.8">*</text><text x="1408.6" y="391.8">*</text><text x="1416.8" y="391.8">*</text><text x="1429.0" y="391.8">*</text><text x="1437.2" y="391.8">*</text><text x="1449.5" y="391.8">*</text><text x="1457.7" y="391.8">*</text><text x="1494.4" y="391.8">*</text><text x="1555.7" y="391.8">*</text><text x="1596.6" y="391.8">*</text><text x="1653.8" y="391.8">*</text><text x="1662.0" y="391.8">*</text><text x="1674.2" y="391.8">*</text><text x="1682.5" y="391.8">*</text><text x="1719.2" y="391.8">*</text><text x="1735.5" y="391.8">*</text><text x="1743.8" y="391.8">*</text><text x="1756.0" y="391.8">*</text><text x="1764.2" y="391.8">*</text><text x="1776.4" y="391.8">*</text><text x="1784.6" y="391.8">*</text><text x="1796.8" y="391.8">*</text><text x="1805.1" y="391.8">*</text><text x="1817.3" y="391.8">*</text><text x="1825.5" y="391.8">*</text><text x="1837.7" y="391.8">*</text><text x="1845.9" y="391.8">*</text><text x="1878.6" y="391.8">*</text><text x="1886.8" y="391.8">*</text><text x="1899.0" y="391.8">*</text><text x="1907.2" y="391.8">*</text><text x="1919.5" y="391.8">*</text><text x="1927.7" y="391.8">*</text><text x="1939.9" y="391.8">*</text><text x="1948.1" y="391.8">*</text><text x="1143.0" y="415.5">*</text><text x="1151.2" y="415.5">*</text><text x="1163.4" y="415.5">*</text><text x="1171.6" y="415.5">*</text><text x="1224.7" y="415.5">*</text><text x="1232.9" y="415.5">*</text><text x="1245.1" y="415.5">*</text><text x="1253.3" y="415.5">*</text><text x="1265.6" y="415.5">*</text><text x="1273.8" y="415.5">*</text><text x="1286.0" y="415.5">*</text><text x="1294.2" y="415.5">*</text><text x="1306.4" y="415.5">*</text><text x="1314.6" y="415.5">*</text><text x="1351.4" y="415.5">*</text><text x="1367.7" y="415.5">*</text><text x="1375.9" y="415.5">*</text><text x="1392.3" y="415.5">*</text><text x="1408.6" y="415.5">*</text><text x="1416.8" y="415.5">*</text><text x="1449.5" y="415.5">*</text><text x="1457.7" y="415.5">*</text><text x="1510.8" y="415.5">*</text><text x="1519.0" y="415.5">*</text><text x="1551.6" y="415.5">*</text><text x="1559.8" y="415.5">*</text><text x="1653.8" y="415.5">*</text><text x="1662.0" y="415.5">*</text><text x="1674.2" y="415.5">*</text><text x="1682.5" y="415.5">*</text><text x="1719.2" y="415.5">*</text><text x="1735.5" y="415.5">*</text><text x="1743.8" y="415.5">*</text><text x="1756.0" y="415.5">*</text><text x="1764.2" y="415.5">*</text><text x="1796.8" y="415.5">*</text><text x="1805.1" y="415.5">*</text><text x="1817.3" y="415.5">*</text><text x="1825.5" y="415.5">*</text><text x="1862.3" y="415.5">*</text><text x="1878.6" y="415.5">*</text><text x="1886.8" y="415.5">*</text><text x="1899.0" y="415.5">*</text><text x="1907.2" y="415.5">*</text><text x="1919.5" y="415.5">*</text><text x="1927.7" y="415.5">*</text><text x="1939.9" y="415.5">*</text><text x="1948.1" y="415.5">*</text><text x="1143.0" y="439.3">*</text><text x="1151.2" y="439.3">*</text><text x="1163.4" y="439.3">*</text><text x="1171.6" y="439.3">*</text><text x="1224.7" y="439.3">*</text><text x="1232.9" y="439.3">*</text><text x="1245.1" y="439.3">*</text><text x="1253.3" y="439.3">*</text><text x="1265.6" y="439.3">*</text><text x="1273.8" y="439.3">*</text><text x="1286.0" y="439.3">*</text><text x="1294.2" y="439.3">*</text><text x="1306.4" y="439.3">*</text><text x="1314.6" y="439.3">*</text><text x="1326.9" y="439.3">*</text><text x="1335.1" y="439.3">*</text><text x="1367.7" y="439.3">*</text><text x="1375.9" y="439.3">*</text><text x="1433.1" y="439.3">*</text><text x="1449.5" y="439.3">*</text><text x="1457.7" y="439.3">*</text><text x="1637.5" y="439.3">*</text><text x="1653.8" y="439.3">*</text><text x="1662.0" y="439.3">*</text><text x="1674.2" y="439.3">*</text><text x="1682.5" y="439.3">*</text><text x="1715.1" y="439.3">*</text><text x="1723.3" y="439.3">*</text><text x="1735.5" y="439.3">*</text><text x="1743.8" y="439.3">*</text><text x="1756.0" y="439.3">*</text><text x="1764.2" y="439.3">*</text><text x="1776.4" y="439.3">*</text><text x="1784.6" y="439.3">*</text><text x="1796.8" y="439.3">*</text><text x="1805.1" y="439.3">*</text><text x="1817.3" y="439.3">*</text><text x="1825.5" y="439.3">*</text><text x="1837.7" y="439.3">*</text><text x="1845.9" y="439.3">*</text><text x="1899.0" y="439.3">*</text><text x="1907.2" y="439.3">*</text><text x="1919.5" y="439.3">*</text><text x="1927.7" y="439.3">*</text><text x="1939.9" y="439.3">*</text><text x="1948.1" y="439.3">*</text><text x="1143.0" y="463.1">*</text><text x="1151.2" y="463.1">*</text><text x="1163.4" y="463.1">*</text><text x="1171.6" y="463.1">*</text><text x="1187.9" y="463.1">*</text><text x="1224.7" y="463.1">*</text><text x="1232.9" y="463.1">*</text><text x="1245.1" y="463.1">*</text><text x="1253.3" y="463.1">*</text><text x="1265.6" y="463.1">*</text><text x="1273.8" y="463.1">*</text><text x="1286.0" y="463.1">*</text><text x="1294.2" y="463.1">*</text><text x="1306.4" y="463.1">*</text><text x="1314.6" y="463.1">*</text><text x="1326.9" y="463.1">*</text><text x="1335.1" y="463.1">*</text><text x="1367.7" y="463.1">*</text><text x="1375.9" y="463.1">*</text><text x="1388.2" y="463.1">*</text><text x="1396.4" y="463.1">*</text><text x="1408.6" y="463.1">*</text><text x="1416.8" y="463.1">*</text><text x="1429.0" y="463.1">*</text><text x="1437.2" y="463.1">*</text><text x="1449.5" y="463.1">*</text><text x="1457.7" y="463.1">*</text><text x="1494.4" y="463.1">*</text><text x="1510.8" y="463.1">*</text><text x="1519.0" y="463.1">*</text><text x="1576.2" y="463.1">*</text><text x="1596.6" y="463.1">*</text><text x="1617.0" y="463.1">*</text><text x="1633.4" y="463.1">*</text><text x="1641.6" y="463.1">*</text><text x="1735.5" y="463.1">*</text><text x="1743.8" y="463.1">*</text><text x="1756.0" y="463.1">*</text><text x="1764.2" y="463.1">*</text><text x="1776.4" y="463.1">*</text><text x="1784.6" y="463.1">*</text><text x="1796.8" y="463.1">*</text><text x="1805.1" y="463.1">*</text><text x="1817.3" y="463.1">*</text><text x="1825.5" y="463.1">*</text><text x="1837.7" y="463.1">*</text><text x="1845.9" y="463.1">*</text><text x="1882.7" y="463.1">*</text><text x="1899.0" y="463.1">*</text><text x="1907.2" y="463.1">*</text><text x="1923.6" y="463.1">*</text><text x="1939.9" y="463.1">*</text><text x="1948.1" y="463.1">*</text><text x="1143.0" y="486.8">*</text><text x="1151.2" y="486.8">*</text><text x="1187.9" y="486.8">*</text><text x="1224.7" y="486.8">*</text><text x="1232.9" y="486.8">*</text><text x="1265.6" y="486.8">*</text><text x="1273.8" y="486.8">*</text><text x="1286.0" y="486.8">*</text><text x="1294.2" y="486.8">*</text><text x="1306.4" y="486.8">*</text><text x="1314.6" y="486.8">*</text><text x="1326.9" y="486.8">*</text><text x="1335.1" y="486.8">*</text><text x="1347.3" y="486.8">*</text><text x="1355.5" y="486.8">*</text><text x="1367.7" y="486.8">*</text><text x="1375.9" y="486.8">*</text><text x="1388.2" y="486.8">*</text><text x="1396.4" y="486.8">*</text><text x="1433.1" y="486.8">*</text><text x="1449.5" y="486.8">*</text><text x="1457.7" y="486.8">*</text><text x="1469.9" y="486.8">*</text><text x="1478.1" y="486.8">*</text><text x="1572.1" y="486.8">*</text><text x="1580.3" y="486.8">*</text><text x="1592.5" y="486.8">*</text><text x="1600.7" y="486.8">*</text><text x="1633.4" y="486.8">*</text><text x="1641.6" y="486.8">*</text><text x="1653.8" y="486.8">*</text><text x="1662.0" y="486.8">*</text><text x="1674.2" y="486.8">*</text><text x="1682.5" y="486.8">*</text><text x="1719.2" y="486.8">*</text><text x="1735.5" y="486.8">*</text><text x="1743.8" y="486.8">*</text><text x="1756.0" y="486.8">*</text><text x="1764.2" y="486.8">*</text><text x="1776.4" y="486.8">*</text><text x="1784.6" y="486.8">*</text><text x="1801.0" y="486.8">*</text><text x="1817.3" y="486.8">*</text><text x="1825.5" y="486.8">*</text><text x="1837.7" y="486.8">*</text><text x="1845.9" y="486.8">*</text><text x="1878.6" y="486.8">*</text><text x="1886.8" y="486.8">*</text><text x="1899.0" y="486.8">*</text><text x="1907.2" y="486.8">*</text><text x="1939.9" y="486.8">*</text><text x="1948.1" y="486.8">*</text><text x="1143.0" y="510.6">*</text><text x="1151.2" y="510.6">*</text><text x="1224.7" y="510.6">*</text><text x="1232.9" y="510.6">*</text><text x="1245.1" y="510.6">*</text><text x="1253.3" y="510.6">*</text><text x="1265.6" y="510.6">*</text><text x="1273.8" y="510.6">*</text><text x="1286.0" y="510.6">*</text><text x="1294.2" y="510.6">*</text><text x="1306.4" y="510.6">*</text><text x="1314.6" y="510.6">*</text><text x="1326.9" y="510.6">*</text><text x="1335.1" y="510.6">*</text><text x="1347.3" y="510.6">*</text><text x="1355.5" y="510.6">*</text><text x="1367.7" y="510.6">*</text><text x="1375.9" y="510.6">*</text><text x="1388.2" y="510.6">*</text><text x="1396.4" y="510.6">*</text><text x="1408.6" y="510.6">*</text><text x="1416.8" y="510.6">*</text><text x="1429.0" y="510.6">*</text><text x="1437.2" y="510.6">*</text><text x="1449.5" y="510.6">*</text><text x="1457.7" y="510.6">*</text><text x="1469.9" y="510.6">*</text><text x="1478.1" y="510.6">*</text><text x="1592.5" y="510.6">*</text><text x="1600.7" y="510.6">*</text><text x="1637.5" y="510.6">*</text><text x="1653.8" y="510.6">*</text><text x="1662.0" y="510.6">*</text><text x="1674.2" y="510.6">*</text><text x="1682.5" y="510.6">*</text><text x="1719.2" y="510.6">*</text><text x="1735.5" y="510.6">*</text><text x="1743.8" y="510.6">*</text><text x="1756.0" y="510.6">*</text><text x="1764.2" y="510.6">*</text><text x="1776.4" y="510.6">*</text><text x="1784.6" y="510.6">*</text><text x="1796.8" y="510.6">*</text><text x="1805.1" y="510.6">*</text><text x="1817.3" y="510.6">*</text><text x="1825.5" y="510.6">*</text><text x="1837.7" y="510.6">*</text><text x="1845.9" y="510.6">*</text><text x="1878.6" y="510.6">*</text><text x="1886.8" y="510.6">*</text><text x="1899.0" y="510.6">*</text><text x="1907.2" y="510.6">*</text><text x="1919.5" y="510.6">*</text><text x="1927.7" y="510.6">*</text><text x="1939.9" y="510.6">*</text><text x="1948.1" y="510.6">*</text><text x="1147.1" y="534.3">*</text><text x="1163.4" y="534.3">*</text><text x="1171.6" y="534.3">*</text><text x="1224.7" y="534.3">*</text><text x="1232.9" y="534.3">*</text><text x="1245.1" y="534.3">*</text><text x="1253.3" y="534.3">*</text><text x="1265.6" y="534.3">*</text><text x="1273.8" y="534.3">*</text><text x="1286.0" y="534.3">*</text><text x="1294.2" y="534.3">*</text><text x="1306.4" y="534.3">*</text><text x="1314.6" y="534.3">*</text><text x="1412.7" y="534.3">*</text><text x="1514.9" y="534.3">*</text><text x="1531.2" y="534.3">*</text><text x="1539.4" y="534.3">*</text><text x="1617.0" y="534.3">*</text><text x="1653.8" y="534.3">*</text><text x="1662.0" y="534.3">*</text><text x="1674.2" y="534.3">*</text><text x="1682.5" y="534.3">*</text><text x="1715.1" y="534.3">*</text><text x="1723.3" y="534.3">*</text><text x="1756.0" y="534.3">*</text><text x="1764.2" y="534.3">*</text><text x="1801.0" y="534.3">*</text><text x="1817.3" y="534.3">*</text><text x="1825.5" y="534.3">*</text><text x="1837.7" y="534.3">*</text><text x="1845.9" y="534.3">*</text><text x="1903.1" y="534.3">*</text><text x="1939.9" y="534.3">*</text><text x="1948.1" y="534.3">*</text><text x="1163.4" y="558.1">*</text><text x="1171.6" y="558.1">*</text><text x="1187.9" y="558.1">*</text><text x="1224.7" y="558.1">*</text><text x="1232.9" y="558.1">*</text><text x="1249.2" y="558.1">*</text><text x="1269.7" y="558.1">*</text><text x="1286.0" y="558.1">*</text><text x="1294.2" y="558.1">*</text><text x="1306.4" y="558.1">*</text><text x="1314.6" y="558.1">*</text><text x="1331.0" y="558.1">*</text><text x="1367.7" y="558.1">*</text><text x="1375.9" y="558.1">*</text><text x="1388.2" y="558.1">*</text><text x="1396.4" y="558.1">*</text><text x="1412.7" y="558.1">*</text><text x="1453.6" y="558.1">*</text><text x="1469.9" y="558.1">*</text><text x="1478.1" y="558.1">*</text><text x="1490.3" y="558.1">*</text><text x="1498.5" y="558.1">*</text><text x="1510.8" y="558.1">*</text><text x="1519.0" y="558.1">*</text><text x="1531.2" y="558.1">*</text><text x="1539.4" y="558.1">*</text><text x="1555.7" y="558.1">*</text><text x="1572.1" y="558.1">*</text><text x="1580.3" y="558.1">*</text><text x="1596.6" y="558.1">*</text><text x="1633.4" y="558.1">*</text><text x="1641.6" y="558.1">*</text><text x="1653.8" y="558.1">*</text><text x="1662.0" y="558.1">*</text><text x="1674.2" y="558.1">*</text><text x="1682.5" y="558.1">*</text><text x="1756.0" y="558.1">*</text><text x="1764.2" y="558.1">*</text><text x="1780.5" y="558.1">*</text><text x="1817.3" y="558.1">*</text><text x="1825.5" y="558.1">*</text><text x="1837.7" y="558.1">*</text><text x="1845.9" y="558.1">*</text><text x="1878.6" y="558.1">*</text><text x="1886.8" y="558.1">*</text><text x="1919.5" y="558.1">*</text><text x="1927.7" y="558.1">*</text><text x="1939.9" y="558.1">*</text><text x="1948.1" y="558.1">*</text><text x="1147.1" y="581.9">*</text><text x="1183.8" y="581.9">*</text><text x="1192.0" y="581.9">*</text><text x="1224.7" y="581.9">*</text><text x="1232.9" y="581.9">*</text><text x="1249.2" y="581.9">*</text><text x="1286.0" y="581.9">*</text><text x="1294.2" y="581.9">*</text><text x="1306.4" y="581.9">*</text><text x="1314.6" y="581.9">*</text><text x="1367.7" y="581.9">*</text><text x="1375.9" y="581.9">*</text><text x="1388.2" y="581.9">*</text><text x="1396.4" y="581.9">*</text><text x="1408.6" y="581.9">*</text><text x="1416.8" y="581.9">*</text><text x="1449.5" y="581.9">*</text><text x="1457.7" y="581.9">*</text><text x="1474.0" y="581.9">*</text><text x="1510.8" y="581.9">*</text><text x="1519.0" y="581.9">*</text><text x="1531.2" y="581.9">*</text><text x="1539.4" y="581.9">*</text><text x="1592.5" y="581.9">*</text><text x="1600.7" y="581.9">*</text><text x="1633.4" y="581.9">*</text><text x="1641.6" y="581.9">*</text><text x="1653.8" y="581.9">*</text><text x="1662.0" y="581.9">*</text><text x="1674.2" y="581.9">*</text><text x="1682.5" y="581.9">*</text><text x="1719.2" y="581.9">*</text><text x="1756.0" y="581.9">*</text><text x="1764.2" y="581.9">*</text><text x="1776.4" y="581.9">*</text><text x="1784.6" y="581.9">*</text><text x="1801.0" y="581.9">*</text><text x="1817.3" y="581.9">*</text><text x="1825.5" y="581.9">*</text><text x="1841.8" y="581.9">*</text><text x="1923.6" y="581.9">*</text><text x="1939.9" y="581.9">*</text><text x="1948.1" y="581.9">*</text></g>
<text x="1077.5" y="28.9" font-size="17.5" font-weight="bold" text-anchor="end">EDNRB</text>
<text x="1077.5" y="48.2" font-size="17.5" font-weight="bold" text-anchor="end">ADORA2A</text>
<text x="1077.5" y="67.5" font-size="17.5" font-weight="bold" text-anchor="end">TGFB1</text>
<text x="1077.5" y="86.8" font-size="17.5" font-weight="bold" text-anchor="end">C10orf54</text>
<text x="1077.5" y="106.1" font-size="17.5" font-weight="bold" text-anchor="end">VEGFA</text>
<text x="1077.5" y="125.3" font-size="17.5" font-weight="bold" text-anchor="end">IL12A</text>
<text x="1077.5" y="144.6" font-size="17.5" font-weight="bold" text-anchor="end">ARG1</text>
<text x="1077.5" y="163.9" font-size="17.5" font-weight="bold" text-anchor="end">IL13</text>
<text x="1077.5" y="183.2" font-size="17.5" font-weight="bold" text-anchor="end">1L4</text>
<text x="1077.5" y="202.5" font-size="17.5" font-weight="bold" text-anchor="end">CD274</text>
<text x="1077.5" y="221.8" font-size="17.5" font-weight="bold" text-anchor="end">VTCN1</text>
<text x="1077.5" y="241.1" font-size="17.5" font-weight="bold" text-anchor="end">CD276</text>
<text x="1077.5" y="260.4" font-size="17.5" font-weight="bold" text-anchor="end">VEGFB</text>
<text x="1077.5" y="279.7" font-size="17.5" font-weight="bold" text-anchor="end">BTLA</text>
<text x="1077.5" y="299.0" font-size="17.5" font-weight="bold" text-anchor="end">HAVCR2</text>
<text x="1077.5" y="318.2" font-size="17.5" font-weight="bold" text-anchor="end">IL10</text>
<text x="1077.5" y="337.5" font-size="17.5" font-weight="bold" text-anchor="end">SLAMF7</text>
<text x="1077.5" y="356.8" font-size="17.5" font-weight="bold" text-anchor="end">CTLA4</text>
<text x="1077.5" y="376.1" font-size="17.5" font-weight="bold" text-anchor="end">TIGIT</text>
<text x="1077.5" y="395.4" font-size="17.5" font-weight="bold" text-anchor="end">LAG3</text>
<text x="1077.5" y="414.7" font-size="17.5" font-weight="bold" text-anchor="end">PDCD1</text>
<text x="1077.5" y="434.0" font-size="17.5" font-weight="bold" text-anchor="end">IDO1</text>
<text x="1077.5" y="453.3" font-size="17.5" font-weight="bold" text-anchor="end">KIR2DL1</text>
<text x="1077.5" y="472.6" font-size="17.5" font-weight="bold" text-anchor="end">KIR2DL3</text>
<text transform="translate(1094.3,472.5) rotate(-90)" font-size="17.3" font-weight="bold" text-anchor="end">TCGA</text>
<text transform="translate(1114.3,472.5) rotate(-90)" font-size="17.3" font-weight="bold" text-anchor="end">THCA</text>
<text transform="translate(1134.3,472.5) rotate(-90)" font-size="17.3" font-weight="bold" text-anchor="end">ALL</text>
<text transform="translate(1154.3,472.5) rotate(-90)" font-size="17.3" font-weight="bold" text-anchor="end">SKCM</text>
<text transform="translate(1174.3,472.5) rotate(-90)" font-size="17.3" font-weight="bold" text-anchor="end">KIPAN</text>
<text transform="translate(1194.3,472.5) rotate(-90)" font-size="17.3" font-weight="bold" text-anchor="end">NB</text>
<text transform="translate(1214.4,472.5) rotate(-90)" font-size="17.3" font-weight="bold" text-anchor="end">REA</text>
<text transform="translate(1234.4,472.5) rotate(-90)" font-size="17.3" font-weight="bold" text-anchor="end">COAD</text>
<text transform="translate(1254.4,472.5) rotate(-90)" font-size="17.3" font-weight="bold" text-anchor="end">DOADREAD</text>
<text transform="translate(1274.4,472.5) rotate(-90)" font-size="17.3" font-weight="bold" text-anchor="end">PAAD</text>
<text transform="translate(1294.4,472.5) rotate(-90)" font-size="17.3" font-weight="bold" text-anchor="end">UCEC</text>
<text transform="translate(1314.4,472.5) rotate(-90)" font-size="17.3" font-weight="bold" text-anchor="end">BRCA</text>
<text transform="translate(1334.4,472.5) rotate(-90)" font-size="17.3" font-weight="bold" text-anchor="end">LUAD</text>
<text transform="translate(1354.4,472.5) rotate(-90)" font-size="17.3" font-weight="bold" text-anchor="end">LIHC</text>
<text transform="translate(1374.4,472.5) rotate(-90)" font-size="17.3" font-weight="bold" text-anchor="end">STAD</text>
<text transform="translate(1394.5,472.5) rotate(-90)" font-size="17.3" font-weight="bold" text-anchor="end">STES</text>
<text transform="translate(1414.5,472.5) rotate(-90)" font-size="17.3" font-weight="bold" text-anchor="end">GBM</text>
<text transform="translate(1434.5,472.5) rotate(-90)" font-size="17.3" font-weight="bold" text-anchor="end">SARC</text>
<text transform="translate(1454.5,472.5) rotate(-90)" font-size="17.3" font-weight="bold" text-anchor="end">WT</text>
<text transform="translate(1474.5,472.5) rotate(-90)" font-size="17.3" font-weight="bold" text-anchor="end">KIRC</text>
<text transform="translate(1494.5,472.5) rotate(-90)" font-size="17.3" font-weight="bold" text-anchor="end">PCPG</text>
<text transform="translate(1514.5,472.5) rotate(-90)" font-size="17.3" font-weight="bold" text-anchor="end">THYM</text>
<text transform="translate(1534.5,472.5) rotate(-90)" font-size="17.3" font-weight="bold" text-anchor="end">UVM</text>
<text transform="translate(1554.5,472.5) rotate(-90)" font-size="17.3" font-weight="bold" text-anchor="end">UCS</text>
<text transform="translate(1574.5,472.5) rotate(-90)" font-size="17.3" font-weight="bold" text-anchor="end">LAML</text>
<text transform="translate(1594.5,472.5) rotate(-90)" font-size="17.3" font-weight="bold" text-anchor="end">GBMLGG</text>
<text transform="translate(1614.6,472.5) rotate(-90)" font-size="17.3" font-weight="bold" text-anchor="end">LGG</text>
<text transform="translate(1634.6,472.5) rotate(-90)" font-size="17.3" font-weight="bold" text-anchor="end">MESO</text>
<text transform="translate(1654.6,472.5) rotate(-90)" font-size="17.3" font-weight="bold" text-anchor="end">DLBC</text>
<text transform="translate(1674.6,472.5) rotate(-90)" font-size="17.3" font-weight="bold" text-anchor="end">CESC</text>
<text transform="translate(1694.6,472.5) rotate(-90)" font-size="17.3" font-weight="bold" text-anchor="end">OV</text>
<text transform="translate(1714.6,472.5) rotate(-90)" font-size="17.3" font-weight="bold" text-anchor="end">LUSC</text>
<text transform="translate(1734.6,472.5) rotate(-90)" font-size="17.3" font-weight="bold" text-anchor="end">ESCA</text>
<text transform="translate(1754.6,472.5) rotate(-90)" font-size="17.3" font-weight="bold" text-anchor="end">HNSC</text>
<text transform="translate(1774.6,472.5) rotate(-90)" font-size="17.3" font-weight="bold" text-anchor="end">CHOL</text>
<text transform="translate(1794.7,472.5) rotate(-90)" font-size="17.3" font-weight="bold" text-anchor="end">KICH</text>
<text transform="translate(1814.7,472.5) rotate(-90)" font-size="17.3" font-weight="bold" text-anchor="end">PRA</text>
<text transform="translate(1834.7,472.5) rotate(-90)" font-size="17.3" font-weight="bold" text-anchor="end">ACC</text>
<text transform="translate(1854.7,472.5) rotate(-90)" font-size="17.3" font-weight="bold" text-anchor="end">KIRP</text>
<text x="1871.5" y="176.9" font-size="16.5" font-weight="bold">* p &lt; 0.05</text>
<text x="1869.9" y="199.6" font-size="16.5" font-weight="bold">** p &lt; 0.01</text>
<text x="1867.9" y="220.5" font-size="16.5" font-weight="bold">Cor</text>
<defs><linearGradient id="ga2" x1="0" y1="0" x2="0" y2="1"><stop offset="0" stop-color="#E64B35"/><stop offset="0.25" stop-color="#F39A88"/><stop offset="0.5" stop-color="#FFFFFF"/><stop offset="0.75" stop-color="#A3D9E8"/><stop offset="1" stop-color="#4DBBD5"/></linearGradient></defs>
<rect x="1870.9" y="237.7" width="15.7" height="74.9" fill="url(#ga2)"/>
<text x="1893.2" y="240.8" font-size="16.5" font-weight="bold">1.0</text>
<text x="1893.2" y="259.7" font-size="16.5" font-weight="bold">0.5</text>
<text x="1893.2" y="278.5" font-size="16.5" font-weight="bold">0.0</text>
<text x="1893.2" y="296.9" font-size="16.5" font-weight="bold">−0.5</text>
<text x="1893.2" y="315.3" font-size="16.5" font-weight="bold">−1.0</text>
<text x="1467.3" y="576.3" font-size="26.5" font-weight="bold" textLength="84.0" lengthAdjust="spacingAndGlyphs">SOX18</text>
<g shape-rendering="crispEdges"><path fill="#FDD2C8" d="M106.3 632.9h20.5v18.6h-20.5zM590.9 632.9h20.5v18.6h-20.5zM611.1 632.9h20.5v18.6h-20.5zM631.2 632.9h20.5v18.6h-20.5zM187.1 651.2h20.5v18.6h-20.5zM247.6 651.2h20.5v18.6h-20.5zM328.4 651.2h20.5v18.6h-20.5zM489.9 651.2h20.5v18.6h-20.5zM691.8 651.2h20.5v18.6h-20.5zM187.1 669.5h20.5v18.6h-20.5zM409.2 669.5h20.5v18.6h-20.5zM429.3 669.5h20.5v18.6h-20.5zM691.8 669.5h20.5v18.6h-20.5zM893.7 669.5h20.5v18.6h-20.5zM126.5 687.8h20.5v18.6h-20.5zM146.7 687.8h20.5v18.6h-20.5zM166.9 687.8h20.5v18.6h-20.5zM530.3 687.8h20.5v18.6h-20.5zM146.7 706.1h20.5v18.6h-20.5zM166.9 706.1h20.5v18.6h-20.5zM187.1 706.1h20.5v18.6h-20.5zM187.1 724.4h20.5v18.6h-20.5zM207.2 724.4h20.5v18.6h-20.5zM389.0 724.4h20.5v18.6h-20.5zM469.7 724.4h20.5v18.6h-20.5zM146.7 742.7h20.5v18.6h-20.5zM166.9 742.7h20.5v18.6h-20.5zM187.1 742.7h20.5v18.6h-20.5zM429.3 742.7h20.5v18.6h-20.5zM126.5 761.0h20.5v18.6h-20.5zM187.1 779.3h20.5v18.6h-20.5zM368.8 779.3h20.5v18.6h-20.5zM126.5 797.6h20.5v18.6h-20.5zM187.1 797.6h20.5v18.6h-20.5zM368.8 797.6h20.5v18.6h-20.5zM106.3 815.9h20.5v18.6h-20.5zM247.6 852.5h20.5v18.6h-20.5zM530.3 852.5h20.5v18.6h-20.5zM651.4 852.5h20.5v18.6h-20.5zM429.3 870.8h20.5v18.6h-20.5zM530.3 870.8h20.5v18.6h-20.5zM126.5 889.1h20.5v18.6h-20.5zM227.4 889.1h20.5v18.6h-20.5zM247.6 889.1h20.5v18.6h-20.5zM267.8 889.1h20.5v18.6h-20.5zM550.5 907.4h20.5v18.6h-20.5zM227.4 925.7h20.5v18.6h-20.5zM267.8 925.7h20.5v18.6h-20.5zM469.7 925.7h20.5v18.6h-20.5zM227.4 944.0h20.5v18.6h-20.5zM530.3 944.0h20.5v18.6h-20.5z"/><path fill="#FFF4F1" d="M126.5 632.9h20.5v18.6h-20.5zM227.4 632.9h20.5v18.6h-20.5zM510.1 632.9h20.5v18.6h-20.5zM530.3 632.9h20.5v18.6h-20.5zM893.7 632.9h20.5v18.6h-20.5zM570.7 651.2h20.5v18.6h-20.5zM590.9 651.2h20.5v18.6h-20.5zM752.4 651.2h20.5v18.6h-20.5zM813.0 651.2h20.5v18.6h-20.5zM873.5 651.2h20.5v18.6h-20.5zM288.0 669.5h20.5v18.6h-20.5zM611.1 669.5h20.5v18.6h-20.5zM772.6 669.5h20.5v18.6h-20.5zM792.8 669.5h20.5v18.6h-20.5zM106.3 687.8h20.5v18.6h-20.5zM409.2 687.8h20.5v18.6h-20.5zM429.3 687.8h20.5v18.6h-20.5zM631.2 687.8h20.5v18.6h-20.5zM671.6 687.8h20.5v18.6h-20.5zM106.3 706.1h20.5v18.6h-20.5zM227.4 706.1h20.5v18.6h-20.5zM409.2 706.1h20.5v18.6h-20.5zM368.8 724.4h20.5v18.6h-20.5zM611.1 724.4h20.5v18.6h-20.5zM712.0 724.4h20.5v18.6h-20.5zM530.3 742.7h20.5v18.6h-20.5zM611.1 742.7h20.5v18.6h-20.5zM671.6 742.7h20.5v18.6h-20.5zM772.6 742.7h20.5v18.6h-20.5zM873.5 742.7h20.5v18.6h-20.5zM207.2 761.0h20.5v18.6h-20.5zM368.8 761.0h20.5v18.6h-20.5zM409.2 761.0h20.5v18.6h-20.5zM106.3 779.3h20.5v18.6h-20.5zM146.7 779.3h20.5v18.6h-20.5zM166.9 779.3h20.5v18.6h-20.5zM409.2 797.6h20.5v18.6h-20.5zM631.2 797.6h20.5v18.6h-20.5zM368.8 815.9h20.5v18.6h-20.5zM409.2 815.9h20.5v18.6h-20.5zM106.3 834.2h20.5v18.6h-20.5zM530.3 834.2h20.5v18.6h-20.5zM550.5 834.2h20.5v18.6h-20.5zM611.1 834.2h20.5v18.6h-20.5zM873.5 834.2h20.5v18.6h-20.5zM893.7 834.2h20.5v18.6h-20.5zM227.4 852.5h20.5v18.6h-20.5zM510.1 852.5h20.5v18.6h-20.5zM126.5 870.8h20.5v18.6h-20.5zM227.4 870.8h20.5v18.6h-20.5zM389.0 889.1h20.5v18.6h-20.5zM429.3 889.1h20.5v18.6h-20.5zM752.4 889.1h20.5v18.6h-20.5zM853.3 889.1h20.5v18.6h-20.5zM247.6 907.4h20.5v18.6h-20.5zM267.8 907.4h20.5v18.6h-20.5zM368.8 907.4h20.5v18.6h-20.5zM409.2 907.4h20.5v18.6h-20.5zM449.5 907.4h20.5v18.6h-20.5zM570.7 907.4h20.5v18.6h-20.5zM671.6 907.4h20.5v18.6h-20.5zM691.8 907.4h20.5v18.6h-20.5zM712.0 907.4h20.5v18.6h-20.5zM732.2 907.4h20.5v18.6h-20.5zM106.3 925.7h20.5v18.6h-20.5zM207.2 925.7h20.5v18.6h-20.5zM288.0 925.7h20.5v18.6h-20.5zM449.5 925.7h20.5v18.6h-20.5zM651.4 925.7h20.5v18.6h-20.5zM691.8 925.7h20.5v18.6h-20.5zM732.2 925.7h20.5v18.6h-20.5zM752.4 925.7h20.5v18.6h-20.5zM772.6 925.7h20.5v18.6h-20.5zM126.5 944.0h20.5v18.6h-20.5zM449.5 944.0h20.5v18.6h-20.5zM611.1 944.0h20.5v18.6h-20.5zM631.2 944.0h20.5v18.6h-20.5zM651.4 944.0h20.5v18.6h-20.5z"/><path fill="#F3F9FB" d="M187.1 632.9h20.5v18.6h-20.5zM247.6 632.9h20.5v18.6h-20.5zM348.6 632.9h20.5v18.6h-20.5zM489.9 632.9h20.5v18.6h-20.5zM550.5 632.9h20.5v18.6h-20.5zM732.2 632.9h20.5v18.6h-20.5zM792.8 632.9h20.5v18.6h-20.5zM833.1 632.9h20.5v18.6h-20.5zM853.3 632.9h20.5v18.6h-20.5zM348.6 651.2h20.5v18.6h-20.5zM772.6 651.2h20.5v18.6h-20.5zM328.4 669.5h20.5v18.6h-20.5zM530.3 669.5h20.5v18.6h-20.5zM631.2 669.5h20.5v18.6h-20.5zM389.0 687.8h20.5v18.6h-20.5zM489.9 687.8h20.5v18.6h-20.5zM590.9 687.8h20.5v18.6h-20.5zM611.1 687.8h20.5v18.6h-20.5zM651.4 687.8h20.5v18.6h-20.5zM712.0 687.8h20.5v18.6h-20.5zM732.2 687.8h20.5v18.6h-20.5zM772.6 687.8h20.5v18.6h-20.5zM792.8 687.8h20.5v18.6h-20.5zM833.1 687.8h20.5v18.6h-20.5zM429.3 706.1h20.5v18.6h-20.5zM489.9 706.1h20.5v18.6h-20.5zM530.3 706.1h20.5v18.6h-20.5zM590.9 706.1h20.5v18.6h-20.5zM631.2 706.1h20.5v18.6h-20.5zM691.8 706.1h20.5v18.6h-20.5zM772.6 706.1h20.5v18.6h-20.5zM833.1 706.1h20.5v18.6h-20.5zM853.3 706.1h20.5v18.6h-20.5zM429.3 724.4h20.5v18.6h-20.5zM550.5 724.4h20.5v18.6h-20.5zM570.7 724.4h20.5v18.6h-20.5zM590.9 724.4h20.5v18.6h-20.5zM631.2 724.4h20.5v18.6h-20.5zM651.4 724.4h20.5v18.6h-20.5zM813.0 724.4h20.5v18.6h-20.5zM853.3 724.4h20.5v18.6h-20.5zM288.0 742.7h20.5v18.6h-20.5zM348.6 742.7h20.5v18.6h-20.5zM489.9 742.7h20.5v18.6h-20.5zM631.2 742.7h20.5v18.6h-20.5zM833.1 742.7h20.5v18.6h-20.5zM853.3 742.7h20.5v18.6h-20.5zM893.7 742.7h20.5v18.6h-20.5zM146.7 761.0h20.5v18.6h-20.5zM429.3 761.0h20.5v18.6h-20.5zM449.5 761.0h20.5v18.6h-20.5zM489.9 761.0h20.5v18.6h-20.5zM510.1 761.0h20.5v18.6h-20.5zM550.5 761.0h20.5v18.6h-20.5zM590.9 761.0h20.5v18.6h-20.5zM651.4 761.0h20.5v18.6h-20.5zM671.6 761.0h20.5v18.6h-20.5zM691.8 761.0h20.5v18.6h-20.5zM732.2 761.0h20.5v18.6h-20.5zM752.4 761.0h20.5v18.6h-20.5zM772.6 761.0h20.5v18.6h-20.5zM853.3 761.0h20.5v18.6h-20.5zM873.5 761.0h20.5v18.6h-20.5zM429.3 779.3h20.5v18.6h-20.5zM489.9 779.3h20.5v18.6h-20.5zM530.3 779.3h20.5v18.6h-20.5zM590.9 779.3h20.5v18.6h-20.5zM651.4 779.3h20.5v18.6h-20.5zM671.6 779.3h20.5v18.6h-20.5zM691.8 779.3h20.5v18.6h-20.5zM732.2 779.3h20.5v18.6h-20.5zM792.8 779.3h20.5v18.6h-20.5zM853.3 779.3h20.5v18.6h-20.5zM288.0 797.6h20.5v18.6h-20.5zM449.5 797.6h20.5v18.6h-20.5zM550.5 797.6h20.5v18.6h-20.5zM590.9 797.6h20.5v18.6h-20.5zM651.4 797.6h20.5v18.6h-20.5zM712.0 797.6h20.5v18.6h-20.5zM752.4 797.6h20.5v18.6h-20.5zM792.8 797.6h20.5v18.6h-20.5zM813.0 797.6h20.5v18.6h-20.5zM833.1 797.6h20.5v18.6h-20.5zM853.3 797.6h20.5v18.6h-20.5zM288.0 815.9h20.5v18.6h-20.5zM389.0 815.9h20.5v18.6h-20.5zM489.9 815.9h20.5v18.6h-20.5zM530.3 815.9h20.5v18.6h-20.5zM550.5 815.9h20.5v18.6h-20.5zM651.4 815.9h20.5v18.6h-20.5zM712.0 815.9h20.5v18.6h-20.5zM732.2 815.9h20.5v18.6h-20.5zM772.6 815.9h20.5v18.6h-20.5zM792.8 815.9h20.5v18.6h-20.5zM813.0 815.9h20.5v18.6h-20.5zM833.1 815.9h20.5v18.6h-20.5zM853.3 815.9h20.5v18.6h-20.5zM489.9 834.2h20.5v18.6h-20.5zM712.0 834.2h20.5v18.6h-20.5zM732.2 834.2h20.5v18.6h-20.5zM752.4 834.2h20.5v18.6h-20.5zM772.6 834.2h20.5v18.6h-20.5zM792.8 834.2h20.5v18.6h-20.5zM813.0 834.2h20.5v18.6h-20.5zM833.1 834.2h20.5v18.6h-20.5zM126.5 852.5h20.5v18.6h-20.5zM146.7 852.5h20.5v18.6h-20.5zM166.9 852.5h20.5v18.6h-20.5zM207.2 852.5h20.5v18.6h-20.5zM308.2 852.5h20.5v18.6h-20.5zM348.6 852.5h20.5v18.6h-20.5zM389.0 852.5h20.5v18.6h-20.5zM409.2 852.5h20.5v18.6h-20.5zM469.7 852.5h20.5v18.6h-20.5zM489.9 852.5h20.5v18.6h-20.5zM570.7 852.5h20.5v18.6h-20.5zM671.6 852.5h20.5v18.6h-20.5zM772.6 852.5h20.5v18.6h-20.5zM813.0 852.5h20.5v18.6h-20.5zM833.1 852.5h20.5v18.6h-20.5zM853.3 852.5h20.5v18.6h-20.5zM288.0 870.8h20.5v18.6h-20.5zM449.5 870.8h20.5v18.6h-20.5zM489.9 870.8h20.5v18.6h-20.5zM631.2 870.8h20.5v18.6h-20.5zM772.6 870.8h20.5v18.6h-20.5zM106.3 889.1h20.5v18.6h-20.5zM348.6 889.1h20.5v18.6h-20.5zM489.9 889.1h20.5v18.6h-20.5zM550.5 889.1h20.5v18.6h-20.5zM590.9 889.1h20.5v18.6h-20.5zM631.2 889.1h20.5v18.6h-20.5zM772.6 889.1h20.5v18.6h-20.5zM792.8 889.1h20.5v18.6h-20.5zM813.0 889.1h20.5v18.6h-20.5zM833.1 889.1h20.5v18.6h-20.5zM106.3 907.4h20.5v18.6h-20.5zM348.6 907.4h20.5v18.6h-20.5zM389.0 907.4h20.5v18.6h-20.5zM489.9 907.4h20.5v18.6h-20.5zM611.1 907.4h20.5v18.6h-20.5zM752.4 907.4h20.5v18.6h-20.5zM833.1 907.4h20.5v18.6h-20.5zM853.3 907.4h20.5v18.6h-20.5zM328.4 925.7h20.5v18.6h-20.5zM348.6 925.7h20.5v18.6h-20.5zM368.8 925.7h20.5v18.6h-20.5zM409.2 925.7h20.5v18.6h-20.5zM510.1 925.7h20.5v18.6h-20.5zM590.9 925.7h20.5v18.6h-20.5zM611.1 925.7h20.5v18.6h-20.5zM671.6 925.7h20.5v18.6h-20.5zM712.0 925.7h20.5v18.6h-20.5zM813.0 925.7h20.5v18.6h-20.5zM833.1 925.7h20.5v18.6h-20.5zM853.3 925.7h20.5v18.6h-20.5zM328.4 944.0h20.5v18.6h-20.5zM348.6 944.0h20.5v18.6h-20.5zM409.2 944.0h20.5v18.6h-20.5zM510.1 944.0h20.5v18.6h-20.5zM550.5 944.0h20.5v18.6h-20.5zM671.6 944.0h20.5v18.6h-20.5zM712.0 944.0h20.5v18.6h-20.5zM752.4 944.0h20.5v18.6h-20.5zM813.0 944.0h20.5v18.6h-20.5z"/><path fill="#E6F4F8" d="M207.2 632.9h20.5v18.6h-20.5zM328.4 632.9h20.5v18.6h-20.5zM469.7 632.9h20.5v18.6h-20.5zM772.6 632.9h20.5v18.6h-20.5zM409.2 651.2h20.5v18.6h-20.5zM308.2 669.5h20.5v18.6h-20.5zM489.9 669.5h20.5v18.6h-20.5zM288.0 687.8h20.5v18.6h-20.5zM449.5 687.8h20.5v18.6h-20.5zM550.5 687.8h20.5v18.6h-20.5zM752.4 687.8h20.5v18.6h-20.5zM813.0 687.8h20.5v18.6h-20.5zM449.5 706.1h20.5v18.6h-20.5zM550.5 706.1h20.5v18.6h-20.5zM712.0 706.1h20.5v18.6h-20.5zM732.2 706.1h20.5v18.6h-20.5zM752.4 706.1h20.5v18.6h-20.5zM792.8 706.1h20.5v18.6h-20.5zM813.0 706.1h20.5v18.6h-20.5zM893.7 706.1h20.5v18.6h-20.5zM489.9 724.4h20.5v18.6h-20.5zM106.3 742.7h20.5v18.6h-20.5zM308.2 742.7h20.5v18.6h-20.5zM328.4 742.7h20.5v18.6h-20.5zM510.1 742.7h20.5v18.6h-20.5zM288.0 761.0h20.5v18.6h-20.5zM389.0 761.0h20.5v18.6h-20.5zM530.3 761.0h20.5v18.6h-20.5zM712.0 761.0h20.5v18.6h-20.5zM792.8 761.0h20.5v18.6h-20.5zM833.1 761.0h20.5v18.6h-20.5zM288.0 779.3h20.5v18.6h-20.5zM449.5 779.3h20.5v18.6h-20.5zM469.7 779.3h20.5v18.6h-20.5zM550.5 779.3h20.5v18.6h-20.5zM712.0 779.3h20.5v18.6h-20.5zM813.0 779.3h20.5v18.6h-20.5zM833.1 779.3h20.5v18.6h-20.5zM328.4 797.6h20.5v18.6h-20.5zM348.6 797.6h20.5v18.6h-20.5zM570.7 797.6h20.5v18.6h-20.5zM328.4 815.9h20.5v18.6h-20.5zM348.6 815.9h20.5v18.6h-20.5zM449.5 815.9h20.5v18.6h-20.5zM469.7 815.9h20.5v18.6h-20.5zM570.7 815.9h20.5v18.6h-20.5zM873.5 815.9h20.5v18.6h-20.5zM267.8 834.2h20.5v18.6h-20.5zM288.0 834.2h20.5v18.6h-20.5zM308.2 834.2h20.5v18.6h-20.5zM328.4 834.2h20.5v18.6h-20.5zM348.6 834.2h20.5v18.6h-20.5zM671.6 834.2h20.5v18.6h-20.5zM328.4 852.5h20.5v18.6h-20.5zM449.5 852.5h20.5v18.6h-20.5zM550.5 852.5h20.5v18.6h-20.5zM792.8 852.5h20.5v18.6h-20.5zM247.6 870.8h20.5v18.6h-20.5zM469.7 870.8h20.5v18.6h-20.5zM590.9 870.8h20.5v18.6h-20.5zM611.1 870.8h20.5v18.6h-20.5zM651.4 870.8h20.5v18.6h-20.5zM712.0 870.8h20.5v18.6h-20.5zM732.2 870.8h20.5v18.6h-20.5zM792.8 870.8h20.5v18.6h-20.5zM893.7 870.8h20.5v18.6h-20.5zM308.2 889.1h20.5v18.6h-20.5zM328.4 889.1h20.5v18.6h-20.5zM449.5 889.1h20.5v18.6h-20.5zM328.4 907.4h20.5v18.6h-20.5zM530.3 907.4h20.5v18.6h-20.5zM590.9 907.4h20.5v18.6h-20.5zM631.2 907.4h20.5v18.6h-20.5zM530.3 925.7h20.5v18.6h-20.5zM550.5 925.7h20.5v18.6h-20.5zM893.7 925.7h20.5v18.6h-20.5zM288.0 944.0h20.5v18.6h-20.5zM308.2 944.0h20.5v18.6h-20.5zM570.7 944.0h20.5v18.6h-20.5zM873.5 944.0h20.5v18.6h-20.5zM893.7 944.0h20.5v18.6h-20.5z"/><path fill="#FEE0D9" d="M267.8 632.9h20.5v18.6h-20.5zM126.5 651.2h20.5v18.6h-20.5zM207.2 651.2h20.5v18.6h-20.5zM510.1 651.2h20.5v18.6h-20.5zM671.6 651.2h20.5v18.6h-20.5zM267.8 669.5h20.5v18.6h-20.5zM510.1 669.5h20.5v18.6h-20.5zM651.4 669.5h20.5v18.6h-20.5zM671.6 669.5h20.5v18.6h-20.5zM712.0 669.5h20.5v18.6h-20.5zM732.2 669.5h20.5v18.6h-20.5zM752.4 669.5h20.5v18.6h-20.5zM187.1 687.8h20.5v18.6h-20.5zM227.4 687.8h20.5v18.6h-20.5zM207.2 706.1h20.5v18.6h-20.5zM449.5 724.4h20.5v18.6h-20.5zM691.8 724.4h20.5v18.6h-20.5zM227.4 742.7h20.5v18.6h-20.5zM368.8 742.7h20.5v18.6h-20.5zM409.2 742.7h20.5v18.6h-20.5zM712.0 742.7h20.5v18.6h-20.5zM187.1 761.0h20.5v18.6h-20.5zM207.2 779.3h20.5v18.6h-20.5zM146.7 797.6h20.5v18.6h-20.5zM166.9 797.6h20.5v18.6h-20.5zM207.2 797.6h20.5v18.6h-20.5zM247.6 797.6h20.5v18.6h-20.5zM389.0 797.6h20.5v18.6h-20.5zM732.2 797.6h20.5v18.6h-20.5zM893.7 797.6h20.5v18.6h-20.5zM187.1 815.9h20.5v18.6h-20.5zM247.6 815.9h20.5v18.6h-20.5zM429.3 815.9h20.5v18.6h-20.5zM126.5 834.2h20.5v18.6h-20.5zM166.9 834.2h20.5v18.6h-20.5zM187.1 834.2h20.5v18.6h-20.5zM207.2 834.2h20.5v18.6h-20.5zM227.4 834.2h20.5v18.6h-20.5zM247.6 834.2h20.5v18.6h-20.5zM429.3 852.5h20.5v18.6h-20.5zM691.8 852.5h20.5v18.6h-20.5zM207.2 870.8h20.5v18.6h-20.5zM348.6 870.8h20.5v18.6h-20.5zM813.0 870.8h20.5v18.6h-20.5zM833.1 870.8h20.5v18.6h-20.5zM873.5 870.8h20.5v18.6h-20.5zM530.3 889.1h20.5v18.6h-20.5zM570.7 889.1h20.5v18.6h-20.5zM691.8 889.1h20.5v18.6h-20.5zM146.7 907.4h20.5v18.6h-20.5zM166.9 907.4h20.5v18.6h-20.5zM207.2 907.4h20.5v18.6h-20.5zM651.4 907.4h20.5v18.6h-20.5zM813.0 907.4h20.5v18.6h-20.5zM126.5 925.7h20.5v18.6h-20.5zM146.7 925.7h20.5v18.6h-20.5zM166.9 925.7h20.5v18.6h-20.5zM187.1 925.7h20.5v18.6h-20.5zM247.6 925.7h20.5v18.6h-20.5zM389.0 925.7h20.5v18.6h-20.5zM146.7 944.0h20.5v18.6h-20.5zM166.9 944.0h20.5v18.6h-20.5zM207.2 944.0h20.5v18.6h-20.5zM247.6 944.0h20.5v18.6h-20.5zM389.0 944.0h20.5v18.6h-20.5z"/><path fill="#FAAE9B" d="M308.2 632.9h20.5v18.6h-20.5zM227.4 651.2h20.5v18.6h-20.5zM368.8 651.2h20.5v18.6h-20.5zM389.0 651.2h20.5v18.6h-20.5zM631.2 651.2h20.5v18.6h-20.5zM893.7 651.2h20.5v18.6h-20.5zM227.4 669.5h20.5v18.6h-20.5zM146.7 724.4h20.5v18.6h-20.5zM166.9 724.4h20.5v18.6h-20.5zM368.8 834.2h20.5v18.6h-20.5zM187.1 852.5h20.5v18.6h-20.5z"/><path fill="#FCC1B3" d="M368.8 632.9h20.5v18.6h-20.5zM651.4 651.2h20.5v18.6h-20.5zM106.3 669.5h20.5v18.6h-20.5zM146.7 669.5h20.5v18.6h-20.5zM166.9 669.5h20.5v18.6h-20.5zM247.6 669.5h20.5v18.6h-20.5zM368.8 669.5h20.5v18.6h-20.5zM873.5 669.5h20.5v18.6h-20.5zM126.5 706.1h20.5v18.6h-20.5zM126.5 742.7h20.5v18.6h-20.5zM429.3 797.6h20.5v18.6h-20.5zM126.5 815.9h20.5v18.6h-20.5zM429.3 834.2h20.5v18.6h-20.5zM187.1 870.8h20.5v18.6h-20.5zM146.7 889.1h20.5v18.6h-20.5zM166.9 889.1h20.5v18.6h-20.5zM207.2 889.1h20.5v18.6h-20.5zM429.3 925.7h20.5v18.6h-20.5zM267.8 944.0h20.5v18.6h-20.5zM469.7 944.0h20.5v18.6h-20.5z"/><path fill="#FEEBE6" d="M409.2 632.9h20.5v18.6h-20.5zM429.3 632.9h20.5v18.6h-20.5zM449.5 632.9h20.5v18.6h-20.5zM570.7 632.9h20.5v18.6h-20.5zM651.4 632.9h20.5v18.6h-20.5zM671.6 632.9h20.5v18.6h-20.5zM813.0 632.9h20.5v18.6h-20.5zM146.7 651.2h20.5v18.6h-20.5zM166.9 651.2h20.5v18.6h-20.5zM429.3 651.2h20.5v18.6h-20.5zM449.5 651.2h20.5v18.6h-20.5zM611.1 651.2h20.5v18.6h-20.5zM712.0 651.2h20.5v18.6h-20.5zM853.3 651.2h20.5v18.6h-20.5zM207.2 669.5h20.5v18.6h-20.5zM348.6 669.5h20.5v18.6h-20.5zM389.0 669.5h20.5v18.6h-20.5zM813.0 669.5h20.5v18.6h-20.5zM833.1 669.5h20.5v18.6h-20.5zM853.3 669.5h20.5v18.6h-20.5zM207.2 687.8h20.5v18.6h-20.5zM247.6 687.8h20.5v18.6h-20.5zM469.7 687.8h20.5v18.6h-20.5zM893.7 687.8h20.5v18.6h-20.5zM247.6 706.1h20.5v18.6h-20.5zM368.8 706.1h20.5v18.6h-20.5zM389.0 706.1h20.5v18.6h-20.5zM469.7 706.1h20.5v18.6h-20.5zM106.3 724.4h20.5v18.6h-20.5zM227.4 724.4h20.5v18.6h-20.5zM247.6 724.4h20.5v18.6h-20.5zM409.2 724.4h20.5v18.6h-20.5zM671.6 724.4h20.5v18.6h-20.5zM732.2 724.4h20.5v18.6h-20.5zM247.6 742.7h20.5v18.6h-20.5zM389.0 742.7h20.5v18.6h-20.5zM449.5 742.7h20.5v18.6h-20.5zM651.4 742.7h20.5v18.6h-20.5zM792.8 742.7h20.5v18.6h-20.5zM106.3 761.0h20.5v18.6h-20.5zM227.4 761.0h20.5v18.6h-20.5zM247.6 761.0h20.5v18.6h-20.5zM631.2 761.0h20.5v18.6h-20.5zM126.5 779.3h20.5v18.6h-20.5zM227.4 779.3h20.5v18.6h-20.5zM247.6 779.3h20.5v18.6h-20.5zM389.0 779.3h20.5v18.6h-20.5zM409.2 779.3h20.5v18.6h-20.5zM106.3 797.6h20.5v18.6h-20.5zM227.4 797.6h20.5v18.6h-20.5zM530.3 797.6h20.5v18.6h-20.5zM671.6 797.6h20.5v18.6h-20.5zM691.8 797.6h20.5v18.6h-20.5zM146.7 815.9h20.5v18.6h-20.5zM166.9 815.9h20.5v18.6h-20.5zM207.2 815.9h20.5v18.6h-20.5zM227.4 815.9h20.5v18.6h-20.5zM691.8 815.9h20.5v18.6h-20.5zM146.7 834.2h20.5v18.6h-20.5zM389.0 834.2h20.5v18.6h-20.5zM691.8 834.2h20.5v18.6h-20.5zM893.7 852.5h20.5v18.6h-20.5zM106.3 870.8h20.5v18.6h-20.5zM308.2 870.8h20.5v18.6h-20.5zM328.4 870.8h20.5v18.6h-20.5zM368.8 870.8h20.5v18.6h-20.5zM389.0 870.8h20.5v18.6h-20.5zM409.2 870.8h20.5v18.6h-20.5zM510.1 870.8h20.5v18.6h-20.5zM752.4 870.8h20.5v18.6h-20.5zM853.3 870.8h20.5v18.6h-20.5zM368.8 889.1h20.5v18.6h-20.5zM469.7 889.1h20.5v18.6h-20.5zM510.1 889.1h20.5v18.6h-20.5zM651.4 889.1h20.5v18.6h-20.5zM671.6 889.1h20.5v18.6h-20.5zM712.0 889.1h20.5v18.6h-20.5zM893.7 889.1h20.5v18.6h-20.5zM126.5 907.4h20.5v18.6h-20.5zM227.4 907.4h20.5v18.6h-20.5zM429.3 907.4h20.5v18.6h-20.5zM469.7 907.4h20.5v18.6h-20.5zM631.2 925.7h20.5v18.6h-20.5zM368.8 944.0h20.5v18.6h-20.5zM691.8 944.0h20.5v18.6h-20.5z"/><path fill="#D8EEF5" d="M752.4 632.9h20.5v18.6h-20.5zM106.3 651.2h20.5v18.6h-20.5zM288.0 651.2h20.5v18.6h-20.5zM550.5 651.2h20.5v18.6h-20.5zM469.7 669.5h20.5v18.6h-20.5zM550.5 669.5h20.5v18.6h-20.5zM267.8 687.8h20.5v18.6h-20.5zM328.4 687.8h20.5v18.6h-20.5zM348.6 687.8h20.5v18.6h-20.5zM570.7 687.8h20.5v18.6h-20.5zM288.0 706.1h20.5v18.6h-20.5zM308.2 706.1h20.5v18.6h-20.5zM348.6 706.1h20.5v18.6h-20.5zM570.7 706.1h20.5v18.6h-20.5zM267.8 724.4h20.5v18.6h-20.5zM308.2 724.4h20.5v18.6h-20.5zM328.4 724.4h20.5v18.6h-20.5zM348.6 724.4h20.5v18.6h-20.5zM530.3 724.4h20.5v18.6h-20.5zM873.5 724.4h20.5v18.6h-20.5zM893.7 724.4h20.5v18.6h-20.5zM267.8 742.7h20.5v18.6h-20.5zM308.2 761.0h20.5v18.6h-20.5zM348.6 761.0h20.5v18.6h-20.5zM469.7 761.0h20.5v18.6h-20.5zM570.7 761.0h20.5v18.6h-20.5zM893.7 761.0h20.5v18.6h-20.5zM308.2 779.3h20.5v18.6h-20.5zM328.4 779.3h20.5v18.6h-20.5zM348.6 779.3h20.5v18.6h-20.5zM570.7 779.3h20.5v18.6h-20.5zM893.7 779.3h20.5v18.6h-20.5zM267.8 797.6h20.5v18.6h-20.5zM308.2 797.6h20.5v18.6h-20.5zM873.5 797.6h20.5v18.6h-20.5zM752.4 815.9h20.5v18.6h-20.5zM449.5 834.2h20.5v18.6h-20.5zM469.7 834.2h20.5v18.6h-20.5zM631.2 834.2h20.5v18.6h-20.5zM651.4 834.2h20.5v18.6h-20.5zM267.8 852.5h20.5v18.6h-20.5zM288.0 852.5h20.5v18.6h-20.5zM368.8 852.5h20.5v18.6h-20.5zM590.9 852.5h20.5v18.6h-20.5zM611.1 852.5h20.5v18.6h-20.5zM712.0 852.5h20.5v18.6h-20.5zM732.2 852.5h20.5v18.6h-20.5zM550.5 870.8h20.5v18.6h-20.5zM409.2 889.1h20.5v18.6h-20.5zM187.1 907.4h20.5v18.6h-20.5zM288.0 907.4h20.5v18.6h-20.5zM308.2 907.4h20.5v18.6h-20.5zM489.9 925.7h20.5v18.6h-20.5zM570.7 925.7h20.5v18.6h-20.5zM489.9 944.0h20.5v18.6h-20.5z"/><path fill="#F7977F" d="M267.8 651.2h20.5v18.6h-20.5zM126.5 669.5h20.5v18.6h-20.5zM126.5 724.4h20.5v18.6h-20.5zM187.1 889.1h20.5v18.6h-20.5z"/><path fill="#C8E7F1" d="M308.2 687.8h20.5v18.6h-20.5zM873.5 687.8h20.5v18.6h-20.5zM328.4 706.1h20.5v18.6h-20.5zM873.5 706.1h20.5v18.6h-20.5zM288.0 724.4h20.5v18.6h-20.5zM328.4 761.0h20.5v18.6h-20.5zM267.8 815.9h20.5v18.6h-20.5zM873.5 852.5h20.5v18.6h-20.5zM873.5 889.1h20.5v18.6h-20.5z"/><path fill="#B6DFEC" d="M267.8 706.1h20.5v18.6h-20.5zM267.8 761.0h20.5v18.6h-20.5zM288.0 889.1h20.5v18.6h-20.5z"/><path fill="#A9DAE8" d="M267.8 779.3h20.5v18.6h-20.5z"/></g>
<path d="M126.5 632.9V962.3M146.5 632.9V962.3M166.5 632.9V962.3M187.5 632.9V962.3M207.5 632.9V962.3M227.5 632.9V962.3M247.5 632.9V962.3M267.5 632.9V962.3M288.5 632.9V962.3M308.5 632.9V962.3M328.5 632.9V962.3M348.5 632.9V962.3M368.5 632.9V962.3M388.5 632.9V962.3M409.5 632.9V962.3M429.5 632.9V962.3M449.5 632.9V962.3M469.5 632.9V962.3M489.5 632.9V962.3M510.5 632.9V962.3M530.5 632.9V962.3M550.5 632.9V962.3M570.5 632.9V962.3M590.5 632.9V962.3M611.5 632.9V962.3M631.5 632.9V962.3M651.5 632.9V962.3M671.5 632.9V962.3M691.5 632.9V962.3M712.5 632.9V962.3M732.5 632.9V962.3M752.5 632.9V962.3M772.5 632.9V962.3M792.5 632.9V962.3M812.5 632.9V962.3M833.5 632.9V962.3M853.5 632.9V962.3M873.5 632.9V962.3M893.5 632.9V962.3M106.3 651.5H913.9M106.3 670.5H913.9M106.3 688.5H913.9M106.3 706.5H913.9M106.3 724.5H913.9M106.3 743.5H913.9M106.3 761.5H913.9M106.3 779.5H913.9M106.3 798.5H913.9M106.3 816.5H913.9M106.3 834.5H913.9M106.3 853.5H913.9M106.3 871.5H913.9M106.3 889.5H913.9M106.3 907.5H913.9M106.3 926.5H913.9M106.3 944.5H913.9" stroke="#454545" stroke-width="1" fill="none"/>
<rect x="106.30" y="632.90" width="807.60" height="329.40" fill="none" stroke="#9a9a9a" stroke-width="1.2"/>
<g font-size="17" text-anchor="middle" stroke="#000" stroke-width="0.45" transform="scale(0.95,0.8)"><text x="122.5" y="807.2">*</text><text x="335.0" y="807.2">*</text><text x="356.3" y="807.2">*</text><text x="398.8" y="807.2">*</text><text x="441.3" y="807.2">*</text><text x="632.6" y="807.2">*</text><text x="653.8" y="807.2">*</text><text x="717.6" y="807.2">*</text><text x="802.6" y="807.2">*</text><text x="823.9" y="807.2">*</text><text x="122.5" y="830.1">*</text><text x="165.0" y="830.1">*</text><text x="186.3" y="830.1">*</text><text x="250.0" y="830.1">*</text><text x="271.3" y="830.1">*</text><text x="292.5" y="830.1">*</text><text x="313.8" y="830.1">*</text><text x="356.3" y="830.1">*</text><text x="398.8" y="830.1">*</text><text x="420.1" y="830.1">*</text><text x="441.3" y="830.1">*</text><text x="547.6" y="830.1">*</text><text x="590.1" y="830.1">*</text><text x="675.1" y="830.1">*</text><text x="696.3" y="830.1">*</text><text x="717.6" y="830.1">*</text><text x="738.8" y="830.1">*</text><text x="951.4" y="830.1">*</text><text x="122.5" y="853.0">*</text><text x="143.8" y="853.0">*</text><text x="165.0" y="853.0">*</text><text x="186.3" y="853.0">*</text><text x="250.0" y="853.0">*</text><text x="271.3" y="853.0">*</text><text x="292.5" y="853.0">*</text><text x="356.3" y="853.0">*</text><text x="398.8" y="853.0">*</text><text x="441.3" y="853.0">*</text><text x="590.1" y="853.0">*</text><text x="696.3" y="853.0">*</text><text x="717.6" y="853.0">*</text><text x="738.8" y="853.0">*</text><text x="908.9" y="853.0">*</text><text x="143.8" y="875.8">*</text><text x="165.0" y="875.8">*</text><text x="186.3" y="875.8">*</text><text x="271.3" y="875.8">*</text><text x="292.5" y="875.8">*</text><text x="313.8" y="875.8">*</text><text x="335.0" y="875.8">*</text><text x="356.3" y="875.8">*</text><text x="377.6" y="875.8">*</text><text x="483.8" y="875.8">*</text><text x="611.3" y="875.8">*</text><text x="632.6" y="875.8">*</text><text x="866.4" y="875.8">*</text><text x="887.6" y="875.8">*</text><text x="143.8" y="898.7">*</text><text x="165.0" y="898.7">*</text><text x="186.3" y="898.7">*</text><text x="271.3" y="898.7">*</text><text x="292.5" y="898.7">*</text><text x="313.8" y="898.7">*</text><text x="335.0" y="898.7">*</text><text x="356.3" y="898.7">*</text><text x="377.6" y="898.7">*</text><text x="611.3" y="898.7">*</text><text x="866.4" y="898.7">*</text><text x="887.6" y="898.7">*</text><text x="143.8" y="921.6">*</text><text x="165.0" y="921.6">*</text><text x="186.3" y="921.6">*</text><text x="271.3" y="921.6">*</text><text x="292.5" y="921.6">*</text><text x="313.8" y="921.6">*</text><text x="335.0" y="921.6">*</text><text x="356.3" y="921.6">*</text><text x="377.6" y="921.6">*</text><text x="441.3" y="921.6">*</text><text x="738.8" y="921.6">*</text><text x="143.8" y="944.5">*</text><text x="165.0" y="944.5">*</text><text x="186.3" y="944.5">*</text><text x="271.3" y="944.5">*</text><text x="292.5" y="944.5">*</text><text x="356.3" y="944.5">*</text><text x="441.3" y="944.5">*</text><text x="143.8" y="967.3">*</text><text x="271.3" y="967.3">*</text><text x="292.5" y="967.3">*</text><text x="313.8" y="967.3">*</text><text x="335.0" y="967.3">*</text><text x="356.3" y="967.3">*</text><text x="377.6" y="967.3">*</text><text x="505.1" y="967.3">*</text><text x="611.3" y="967.3">*</text><text x="760.1" y="967.3">*</text><text x="823.9" y="967.3">*</text><text x="845.1" y="967.3">*</text><text x="887.6" y="967.3">*</text><text x="271.3" y="990.2">*</text><text x="292.5" y="990.2">*</text><text x="335.0" y="990.2">*</text><text x="356.3" y="990.2">*</text><text x="377.6" y="990.2">*</text><text x="398.8" y="990.2">*</text><text x="441.3" y="990.2">*</text><text x="483.8" y="990.2">*</text><text x="611.3" y="990.2">*</text><text x="845.1" y="990.2">*</text><text x="887.6" y="990.2">*</text><text x="143.8" y="1013.1">*</text><text x="165.0" y="1013.1">*</text><text x="186.3" y="1013.1">*</text><text x="271.3" y="1013.1">*</text><text x="292.5" y="1013.1">*</text><text x="335.0" y="1013.1">*</text><text x="356.3" y="1013.1">*</text><text x="377.6" y="1013.1">*</text><text x="398.8" y="1013.1">*</text><text x="866.4" y="1013.1">*</text><text x="122.5" y="1036.0">*</text><text x="143.8" y="1036.0">*</text><text x="186.3" y="1036.0">*</text><text x="271.3" y="1036.0">*</text><text x="292.5" y="1036.0">*</text><text x="356.3" y="1036.0">*</text><text x="377.6" y="1036.0">*</text><text x="483.8" y="1036.0">*</text><text x="738.8" y="1036.0">*</text><text x="802.6" y="1036.0">*</text><text x="845.1" y="1036.0">*</text><text x="866.4" y="1036.0">*</text><text x="165.0" y="1058.8">*</text><text x="186.3" y="1058.8">*</text><text x="271.3" y="1058.8">*</text><text x="292.5" y="1058.8">*</text><text x="335.0" y="1058.8">*</text><text x="356.3" y="1058.8">*</text><text x="377.6" y="1058.8">*</text><text x="398.8" y="1058.8">*</text><text x="483.8" y="1058.8">*</text><text x="505.1" y="1058.8">*</text><text x="207.5" y="1081.7">*</text><text x="271.3" y="1081.7">*</text><text x="292.5" y="1081.7">*</text><text x="313.8" y="1081.7">*</text><text x="356.3" y="1081.7">*</text><text x="398.8" y="1081.7">*</text><text x="441.3" y="1081.7">*</text><text x="483.8" y="1081.7">*</text><text x="632.6" y="1081.7">*</text><text x="653.8" y="1081.7">*</text><text x="738.8" y="1081.7">*</text><text x="760.1" y="1081.7">*</text><text x="781.4" y="1081.7">*</text><text x="845.1" y="1081.7">*</text><text x="271.3" y="1104.6">*</text><text x="356.3" y="1104.6">*</text><text x="377.6" y="1104.6">*</text><text x="505.1" y="1104.6">*</text><text x="590.1" y="1104.6">*</text><text x="632.6" y="1104.6">*</text><text x="653.8" y="1104.6">*</text><text x="760.1" y="1104.6">*</text><text x="781.4" y="1104.6">*</text><text x="845.1" y="1104.6">*</text><text x="866.4" y="1104.6">*</text><text x="143.8" y="1127.5">*</text><text x="165.0" y="1127.5">*</text><text x="186.3" y="1127.5">*</text><text x="207.5" y="1127.5">*</text><text x="250.0" y="1127.5">*</text><text x="271.3" y="1127.5">*</text><text x="292.5" y="1127.5">*</text><text x="313.8" y="1127.5">*</text><text x="335.0" y="1127.5">*</text><text x="356.3" y="1127.5">*</text><text x="441.3" y="1127.5">*</text><text x="483.8" y="1127.5">*</text><text x="738.8" y="1127.5">*</text><text x="165.0" y="1150.3">*</text><text x="186.3" y="1150.3">*</text><text x="313.8" y="1150.3">*</text><text x="335.0" y="1150.3">*</text><text x="356.3" y="1150.3">*</text><text x="632.6" y="1150.3">*</text><text x="653.8" y="1150.3">*</text><text x="866.4" y="1150.3">*</text><text x="165.0" y="1173.2">*</text><text x="186.3" y="1173.2">*</text><text x="271.3" y="1173.2">*</text><text x="292.5" y="1173.2">*</text><text x="441.3" y="1173.2">*</text><text x="505.1" y="1173.2">*</text><text x="526.3" y="1173.2">*</text><text x="611.3" y="1173.2">*</text><text x="165.0" y="1196.1">*</text><text x="186.3" y="1196.1">*</text><text x="271.3" y="1196.1">*</text><text x="292.5" y="1196.1">*</text><text x="441.3" y="1196.1">*</text><text x="505.1" y="1196.1">*</text><text x="526.3" y="1196.1">*</text><text x="717.6" y="1196.1">*</text></g>
<text x="104.1" y="643.6" font-size="17.5" font-weight="bold" text-anchor="end">CXCR5</text>
<text x="104.1" y="662.4" font-size="17.5" font-weight="bold" text-anchor="end">CCR10</text>
<text x="104.1" y="681.1" font-size="17.5" font-weight="bold" text-anchor="end">CXCR4</text>
<text x="104.1" y="699.9" font-size="17.5" font-weight="bold" text-anchor="end">CCR2</text>
<text x="104.1" y="718.6" font-size="17.5" font-weight="bold" text-anchor="end">CCR5</text>
<text x="104.1" y="737.4" font-size="17.5" font-weight="bold" text-anchor="end">CCR1</text>
<text x="104.1" y="756.1" font-size="17.5" font-weight="bold" text-anchor="end">CCR8</text>
<text x="104.1" y="774.9" font-size="17.5" font-weight="bold" text-anchor="end">CXCR3</text>
<text x="104.1" y="793.6" font-size="17.5" font-weight="bold" text-anchor="end">CXCR6</text>
<text x="104.1" y="812.4" font-size="17.5" font-weight="bold" text-anchor="end">CCR4</text>
<text x="104.1" y="831.1" font-size="17.5" font-weight="bold" text-anchor="end">CCR7</text>
<text x="104.1" y="849.9" font-size="17.5" font-weight="bold" text-anchor="end">XCR1</text>
<text x="104.1" y="868.6" font-size="17.5" font-weight="bold" text-anchor="end">CCR6</text>
<text x="104.1" y="887.4" font-size="17.5" font-weight="bold" text-anchor="end">CCR9</text>
<text x="104.1" y="906.1" font-size="17.5" font-weight="bold" text-anchor="end">CX3CR1</text>
<text x="104.1" y="924.9" font-size="17.5" font-weight="bold" text-anchor="end">CCR3</text>
<text x="104.1" y="943.6" font-size="17.5" font-weight="bold" text-anchor="end">CXCR1</text>
<text x="104.1" y="962.4" font-size="17.5" font-weight="bold" text-anchor="end">CXCR2</text>
<text transform="translate(123.5,964.3) rotate(-90)" font-size="17.3" font-weight="bold" text-anchor="end">PCPG</text>
<text transform="translate(143.6,964.3) rotate(-90)" font-size="17.3" font-weight="bold" text-anchor="end">READ</text>
<text transform="translate(163.8,964.3) rotate(-90)" font-size="17.3" font-weight="bold" text-anchor="end">COAD</text>
<text transform="translate(183.9,964.3) rotate(-90)" font-size="17.3" font-weight="bold" text-anchor="end">COADREAD</text>
<text transform="translate(204.0,964.3) rotate(-90)" font-size="17.3" font-weight="bold" text-anchor="end">KICH</text>
<text transform="translate(224.2,964.3) rotate(-90)" font-size="17.3" font-weight="bold" text-anchor="end">UVM</text>
<text transform="translate(244.3,964.3) rotate(-90)" font-size="17.3" font-weight="bold" text-anchor="end">CHOL</text>
<text transform="translate(264.4,964.3) rotate(-90)" font-size="17.3" font-weight="bold" text-anchor="end">KIPAN</text>
<text transform="translate(284.5,964.3) rotate(-90)" font-size="17.3" font-weight="bold" text-anchor="end">TGCT</text>
<text transform="translate(304.7,964.3) rotate(-90)" font-size="17.3" font-weight="bold" text-anchor="end">NB</text>
<text transform="translate(324.8,964.3) rotate(-90)" font-size="17.3" font-weight="bold" text-anchor="end">GBM</text>
<text transform="translate(344.9,964.3) rotate(-90)" font-size="17.3" font-weight="bold" text-anchor="end">OV</text>
<text transform="translate(365.1,964.3) rotate(-90)" font-size="17.3" font-weight="bold" text-anchor="end">SARC</text>
<text transform="translate(385.2,964.3) rotate(-90)" font-size="17.3" font-weight="bold" text-anchor="end">WT</text>
<text transform="translate(405.3,964.3) rotate(-90)" font-size="17.3" font-weight="bold" text-anchor="end">ALL</text>
<text transform="translate(425.5,964.3) rotate(-90)" font-size="17.3" font-weight="bold" text-anchor="end">BRCA</text>
<text transform="translate(445.6,964.3) rotate(-90)" font-size="17.3" font-weight="bold" text-anchor="end">DLBC</text>
<text transform="translate(465.7,964.3) rotate(-90)" font-size="17.3" font-weight="bold" text-anchor="end">PAAD</text>
<text transform="translate(485.8,964.3) rotate(-90)" font-size="17.3" font-weight="bold" text-anchor="end">THYM</text>
<text transform="translate(506.0,964.3) rotate(-90)" font-size="17.3" font-weight="bold" text-anchor="end">MESO</text>
<text transform="translate(526.1,964.3) rotate(-90)" font-size="17.3" font-weight="bold" text-anchor="end">CESC</text>
<text transform="translate(546.2,964.3) rotate(-90)" font-size="17.3" font-weight="bold" text-anchor="end">SKCM</text>
<text transform="translate(566.4,964.3) rotate(-90)" font-size="17.3" font-weight="bold" text-anchor="end">KIBP</text>
<text transform="translate(586.5,964.3) rotate(-90)" font-size="17.3" font-weight="bold" text-anchor="end">UCEC</text>
<text transform="translate(606.6,964.3) rotate(-90)" font-size="17.3" font-weight="bold" text-anchor="end">GBMLGG</text>
<text transform="translate(626.8,964.3) rotate(-90)" font-size="17.3" font-weight="bold" text-anchor="end">LGG</text>
<text transform="translate(646.9,964.3) rotate(-90)" font-size="17.3" font-weight="bold" text-anchor="end">ACC</text>
<text transform="translate(667.0,964.3) rotate(-90)" font-size="17.3" font-weight="bold" text-anchor="end">LIHC</text>
<text transform="translate(687.1,964.3) rotate(-90)" font-size="17.3" font-weight="bold" text-anchor="end">HNSC</text>
<text transform="translate(707.3,964.3) rotate(-90)" font-size="17.3" font-weight="bold" text-anchor="end">KIRC</text>
<text transform="translate(727.4,964.3) rotate(-90)" font-size="17.3" font-weight="bold" text-anchor="end">PRAD</text>
<text transform="translate(747.5,964.3) rotate(-90)" font-size="17.3" font-weight="bold" text-anchor="end">ESCA</text>
<text transform="translate(767.7,964.3) rotate(-90)" font-size="17.3" font-weight="bold" text-anchor="end">BLCA</text>
<text transform="translate(787.8,964.3) rotate(-90)" font-size="17.3" font-weight="bold" text-anchor="end">STAD</text>
<text transform="translate(807.9,964.3) rotate(-90)" font-size="17.3" font-weight="bold" text-anchor="end">STES</text>
<text transform="translate(828.0,964.3) rotate(-90)" font-size="17.3" font-weight="bold" text-anchor="end">THCA</text>
<text transform="translate(848.2,964.3) rotate(-90)" font-size="17.3" font-weight="bold" text-anchor="end">LUAD</text>
<text transform="translate(868.3,964.3) rotate(-90)" font-size="17.3" font-weight="bold" text-anchor="end">LUSC</text>
<text transform="translate(888.4,964.3) rotate(-90)" font-size="17.3" font-weight="bold" text-anchor="end">LAML</text>
<text transform="translate(908.6,964.3) rotate(-90)" font-size="17.3" font-weight="bold" text-anchor="end">UCS</text>
<text x="928.8" y="708.1" font-size="18" font-weight="bold">* p &lt; 0.05</text>
<text x="924.5" y="733.4" font-size="18" font-weight="bold">Cor</text>
<defs><linearGradient id="gb1" x1="0" y1="0" x2="0" y2="1"><stop offset="0" stop-color="#E64B35"/><stop offset="0.25" stop-color="#F39A88"/><stop offset="0.5" stop-color="#FFFFFF"/><stop offset="0.75" stop-color="#A3D9E8"/><stop offset="1" stop-color="#4DBBD5"/></linearGradient></defs>
<rect x="927.8" y="745.6" width="17.6" height="83.0" fill="url(#gb1)"/>
<text x="952.7" y="754.5" font-size="18" font-weight="bold">1.0</text>
<text x="952.7" y="775.2" font-size="18" font-weight="bold">0.5</text>
<text x="952.7" y="795.8" font-size="18" font-weight="bold">0.0</text>
<text x="952.7" y="816.4" font-size="18" font-weight="bold">−0.5</text>
<text x="952.7" y="837.0" font-size="18" font-weight="bold">−1.0</text>
<text x="427.5" y="1056.1" font-size="24.8" font-weight="bold" textLength="79.8" lengthAdjust="spacingAndGlyphs">SOX11</text>
<g shape-rendering="crispEdges"><path fill="#FEE0D9" d="M1077.4 637.4h20.3v18.6h-20.3zM1197.1 637.4h20.3v18.6h-20.3zM1217.1 637.4h20.3v18.6h-20.3zM1237.0 637.4h20.3v18.6h-20.3zM1376.7 637.4h20.3v18.6h-20.3zM1456.5 637.4h20.3v18.6h-20.3zM1476.5 637.4h20.3v18.6h-20.3zM1496.4 637.4h20.3v18.6h-20.3zM1576.2 637.4h20.3v18.6h-20.3zM1596.2 637.4h20.3v18.6h-20.3zM1616.1 637.4h20.3v18.6h-20.3zM1077.4 655.7h20.3v18.6h-20.3zM1177.2 655.7h20.3v18.6h-20.3zM1296.9 655.7h20.3v18.6h-20.3zM1336.8 655.7h20.3v18.6h-20.3zM1376.7 655.7h20.3v18.6h-20.3zM1496.4 655.7h20.3v18.6h-20.3zM1516.4 655.7h20.3v18.6h-20.3zM1556.3 655.7h20.3v18.6h-20.3zM1616.1 655.7h20.3v18.6h-20.3zM1676.0 655.7h20.3v18.6h-20.3zM1177.2 674.0h20.3v18.6h-20.3zM1257.0 674.0h20.3v18.6h-20.3zM1316.8 674.0h20.3v18.6h-20.3zM1456.5 674.0h20.3v18.6h-20.3zM1556.3 674.0h20.3v18.6h-20.3zM1616.1 674.0h20.3v18.6h-20.3zM1855.5 674.0h20.3v18.6h-20.3zM1157.2 692.2h20.3v18.6h-20.3zM1516.4 692.2h20.3v18.6h-20.3zM1715.9 692.2h20.3v18.6h-20.3zM1795.7 692.2h20.3v18.6h-20.3zM1157.2 710.5h20.3v18.6h-20.3zM1336.8 710.5h20.3v18.6h-20.3zM1476.5 710.5h20.3v18.6h-20.3zM1536.3 710.5h20.3v18.6h-20.3zM1695.9 710.5h20.3v18.6h-20.3zM1715.9 710.5h20.3v18.6h-20.3zM1735.8 710.5h20.3v18.6h-20.3zM1775.7 710.5h20.3v18.6h-20.3zM1835.6 710.5h20.3v18.6h-20.3zM1855.5 710.5h20.3v18.6h-20.3zM1177.2 728.8h20.3v18.6h-20.3zM1257.0 728.8h20.3v18.6h-20.3zM1276.9 728.8h20.3v18.6h-20.3zM1296.9 728.8h20.3v18.6h-20.3zM1376.7 728.8h20.3v18.6h-20.3zM1396.6 728.8h20.3v18.6h-20.3zM1496.4 728.8h20.3v18.6h-20.3zM1536.3 728.8h20.3v18.6h-20.3zM1735.8 728.8h20.3v18.6h-20.3zM1835.6 728.8h20.3v18.6h-20.3zM1117.3 747.1h20.3v18.6h-20.3zM1157.2 747.1h20.3v18.6h-20.3zM1257.0 747.1h20.3v18.6h-20.3zM1296.9 747.1h20.3v18.6h-20.3zM1316.8 747.1h20.3v18.6h-20.3zM1336.8 747.1h20.3v18.6h-20.3zM1496.4 747.1h20.3v18.6h-20.3zM1576.2 747.1h20.3v18.6h-20.3zM1676.0 747.1h20.3v18.6h-20.3zM1855.5 747.1h20.3v18.6h-20.3zM1157.2 765.4h20.3v18.6h-20.3zM1257.0 765.4h20.3v18.6h-20.3zM1316.8 765.4h20.3v18.6h-20.3zM1416.6 765.4h20.3v18.6h-20.3zM1676.0 765.4h20.3v18.6h-20.3zM1715.9 765.4h20.3v18.6h-20.3zM1835.6 765.4h20.3v18.6h-20.3zM1496.4 783.7h20.3v18.6h-20.3zM1795.7 783.7h20.3v18.6h-20.3zM1815.6 783.7h20.3v18.6h-20.3zM1835.6 783.7h20.3v18.6h-20.3zM1376.7 802.0h20.3v18.6h-20.3zM1416.6 802.0h20.3v18.6h-20.3zM1616.1 802.0h20.3v18.6h-20.3zM1855.5 802.0h20.3v18.6h-20.3zM1496.4 820.2h20.3v18.6h-20.3zM1636.1 820.2h20.3v18.6h-20.3zM1735.8 820.2h20.3v18.6h-20.3zM1755.8 820.2h20.3v18.6h-20.3zM1835.6 820.2h20.3v18.6h-20.3zM1097.4 838.5h20.3v18.6h-20.3zM1296.9 838.5h20.3v18.6h-20.3zM1356.7 838.5h20.3v18.6h-20.3zM1576.2 838.5h20.3v18.6h-20.3zM1636.1 838.5h20.3v18.6h-20.3zM1656.0 838.5h20.3v18.6h-20.3zM1676.0 838.5h20.3v18.6h-20.3zM1376.7 856.8h20.3v18.6h-20.3zM1576.2 856.8h20.3v18.6h-20.3zM1356.7 875.1h20.3v18.6h-20.3zM1656.0 875.1h20.3v18.6h-20.3zM1715.9 875.1h20.3v18.6h-20.3zM1356.7 893.4h20.3v18.6h-20.3zM1396.6 893.4h20.3v18.6h-20.3zM1416.6 893.4h20.3v18.6h-20.3zM1496.4 893.4h20.3v18.6h-20.3zM1636.1 893.4h20.3v18.6h-20.3zM1656.0 893.4h20.3v18.6h-20.3zM1695.9 893.4h20.3v18.6h-20.3zM1715.9 893.4h20.3v18.6h-20.3zM1735.8 893.4h20.3v18.6h-20.3zM1656.0 911.6h20.3v18.6h-20.3zM1376.7 929.9h20.3v18.6h-20.3zM1496.4 929.9h20.3v18.6h-20.3zM1516.4 929.9h20.3v18.6h-20.3zM1636.1 929.9h20.3v18.6h-20.3zM1676.0 929.9h20.3v18.6h-20.3zM1695.9 929.9h20.3v18.6h-20.3zM1735.8 929.9h20.3v18.6h-20.3zM1795.7 929.9h20.3v18.6h-20.3zM1516.4 948.2h20.3v18.6h-20.3zM1735.8 948.2h20.3v18.6h-20.3zM1795.7 948.2h20.3v18.6h-20.3zM1835.6 948.2h20.3v18.6h-20.3zM1855.5 948.2h20.3v18.6h-20.3z"/><path fill="#D8EEF5" d="M1097.4 637.4h20.3v18.6h-20.3zM1117.3 637.4h20.3v18.6h-20.3zM1795.7 637.4h20.3v18.6h-20.3zM1097.4 655.7h20.3v18.6h-20.3zM1077.4 674.0h20.3v18.6h-20.3zM1117.3 674.0h20.3v18.6h-20.3zM1735.8 674.0h20.3v18.6h-20.3zM1656.0 692.2h20.3v18.6h-20.3zM1795.7 710.5h20.3v18.6h-20.3zM1077.4 783.7h20.3v18.6h-20.3zM1097.4 802.0h20.3v18.6h-20.3zM1117.3 802.0h20.3v18.6h-20.3zM1117.3 820.2h20.3v18.6h-20.3zM1117.3 838.5h20.3v18.6h-20.3zM1257.0 856.8h20.3v18.6h-20.3zM1735.8 856.8h20.3v18.6h-20.3zM1855.5 856.8h20.3v18.6h-20.3zM1117.3 875.1h20.3v18.6h-20.3zM1815.6 875.1h20.3v18.6h-20.3zM1855.5 875.1h20.3v18.6h-20.3zM1117.3 893.4h20.3v18.6h-20.3zM1855.5 893.4h20.3v18.6h-20.3zM1077.4 911.6h20.3v18.6h-20.3zM1117.3 911.6h20.3v18.6h-20.3zM1715.9 929.9h20.3v18.6h-20.3zM1117.3 948.2h20.3v18.6h-20.3zM1715.9 948.2h20.3v18.6h-20.3z"/><path fill="#B6DFEC" d="M1137.3 637.4h20.3v18.6h-20.3z"/><path fill="#F7977F" d="M1157.2 637.4h20.3v18.6h-20.3zM1137.3 692.2h20.3v18.6h-20.3zM1217.1 692.2h20.3v18.6h-20.3zM1237.0 692.2h20.3v18.6h-20.3zM1296.9 692.2h20.3v18.6h-20.3zM1576.2 692.2h20.3v18.6h-20.3zM1596.2 692.2h20.3v18.6h-20.3zM1336.8 783.7h20.3v18.6h-20.3zM1676.0 783.7h20.3v18.6h-20.3zM1855.5 783.7h20.3v18.6h-20.3zM1157.2 802.0h20.3v18.6h-20.3zM1316.8 838.5h20.3v18.6h-20.3zM1556.3 856.8h20.3v18.6h-20.3zM1257.0 929.9h20.3v18.6h-20.3z"/><path fill="#FDD2C8" d="M1177.2 637.4h20.3v18.6h-20.3zM1316.8 637.4h20.3v18.6h-20.3zM1695.9 637.4h20.3v18.6h-20.3zM1835.6 637.4h20.3v18.6h-20.3zM1217.1 655.7h20.3v18.6h-20.3zM1257.0 655.7h20.3v18.6h-20.3zM1316.8 655.7h20.3v18.6h-20.3zM1396.6 655.7h20.3v18.6h-20.3zM1536.3 655.7h20.3v18.6h-20.3zM1576.2 655.7h20.3v18.6h-20.3zM1735.8 655.7h20.3v18.6h-20.3zM1755.8 655.7h20.3v18.6h-20.3zM1336.8 674.0h20.3v18.6h-20.3zM1436.5 674.0h20.3v18.6h-20.3zM1476.5 674.0h20.3v18.6h-20.3zM1536.3 674.0h20.3v18.6h-20.3zM1576.2 674.0h20.3v18.6h-20.3zM1596.2 674.0h20.3v18.6h-20.3zM1755.8 674.0h20.3v18.6h-20.3zM1795.7 674.0h20.3v18.6h-20.3zM1177.2 692.2h20.3v18.6h-20.3zM1356.7 692.2h20.3v18.6h-20.3zM1556.3 692.2h20.3v18.6h-20.3zM1676.0 692.2h20.3v18.6h-20.3zM1735.8 692.2h20.3v18.6h-20.3zM1835.6 692.2h20.3v18.6h-20.3zM1376.7 710.5h20.3v18.6h-20.3zM1396.6 710.5h20.3v18.6h-20.3zM1516.4 710.5h20.3v18.6h-20.3zM1576.2 710.5h20.3v18.6h-20.3zM1636.1 710.5h20.3v18.6h-20.3zM1656.0 710.5h20.3v18.6h-20.3zM1755.8 710.5h20.3v18.6h-20.3zM1815.6 710.5h20.3v18.6h-20.3zM1476.5 728.8h20.3v18.6h-20.3zM1656.0 728.8h20.3v18.6h-20.3zM1695.9 728.8h20.3v18.6h-20.3zM1755.8 728.8h20.3v18.6h-20.3zM1815.6 728.8h20.3v18.6h-20.3zM1456.5 747.1h20.3v18.6h-20.3zM1476.5 747.1h20.3v18.6h-20.3zM1516.4 747.1h20.3v18.6h-20.3zM1536.3 747.1h20.3v18.6h-20.3zM1556.3 747.1h20.3v18.6h-20.3zM1596.2 747.1h20.3v18.6h-20.3zM1636.1 747.1h20.3v18.6h-20.3zM1656.0 747.1h20.3v18.6h-20.3zM1735.8 747.1h20.3v18.6h-20.3zM1755.8 747.1h20.3v18.6h-20.3zM1775.7 747.1h20.3v18.6h-20.3zM1815.6 747.1h20.3v18.6h-20.3zM1117.3 765.4h20.3v18.6h-20.3zM1296.9 765.4h20.3v18.6h-20.3zM1376.7 765.4h20.3v18.6h-20.3zM1396.6 765.4h20.3v18.6h-20.3zM1496.4 765.4h20.3v18.6h-20.3zM1516.4 765.4h20.3v18.6h-20.3zM1316.8 783.7h20.3v18.6h-20.3zM1356.7 783.7h20.3v18.6h-20.3zM1376.7 783.7h20.3v18.6h-20.3zM1416.6 783.7h20.3v18.6h-20.3zM1436.5 783.7h20.3v18.6h-20.3zM1456.5 783.7h20.3v18.6h-20.3zM1476.5 783.7h20.3v18.6h-20.3zM1516.4 783.7h20.3v18.6h-20.3zM1576.2 783.7h20.3v18.6h-20.3zM1596.2 783.7h20.3v18.6h-20.3zM1636.1 783.7h20.3v18.6h-20.3zM1656.0 783.7h20.3v18.6h-20.3zM1197.1 802.0h20.3v18.6h-20.3zM1276.9 802.0h20.3v18.6h-20.3zM1296.9 802.0h20.3v18.6h-20.3zM1336.8 802.0h20.3v18.6h-20.3zM1456.5 802.0h20.3v18.6h-20.3zM1476.5 802.0h20.3v18.6h-20.3zM1516.4 802.0h20.3v18.6h-20.3zM1536.3 802.0h20.3v18.6h-20.3zM1556.3 802.0h20.3v18.6h-20.3zM1576.2 802.0h20.3v18.6h-20.3zM1596.2 802.0h20.3v18.6h-20.3zM1676.0 802.0h20.3v18.6h-20.3zM1735.8 802.0h20.3v18.6h-20.3zM1755.8 802.0h20.3v18.6h-20.3zM1775.7 802.0h20.3v18.6h-20.3zM1217.1 820.2h20.3v18.6h-20.3zM1237.0 820.2h20.3v18.6h-20.3zM1257.0 820.2h20.3v18.6h-20.3zM1276.9 820.2h20.3v18.6h-20.3zM1296.9 820.2h20.3v18.6h-20.3zM1336.8 820.2h20.3v18.6h-20.3zM1356.7 820.2h20.3v18.6h-20.3zM1376.7 820.2h20.3v18.6h-20.3zM1396.6 820.2h20.3v18.6h-20.3zM1416.6 820.2h20.3v18.6h-20.3zM1436.5 820.2h20.3v18.6h-20.3zM1456.5 820.2h20.3v18.6h-20.3zM1476.5 820.2h20.3v18.6h-20.3zM1536.3 820.2h20.3v18.6h-20.3zM1556.3 820.2h20.3v18.6h-20.3zM1576.2 820.2h20.3v18.6h-20.3zM1596.2 820.2h20.3v18.6h-20.3zM1616.1 820.2h20.3v18.6h-20.3zM1676.0 820.2h20.3v18.6h-20.3zM1715.9 820.2h20.3v18.6h-20.3zM1815.6 820.2h20.3v18.6h-20.3zM1855.5 820.2h20.3v18.6h-20.3zM1257.0 838.5h20.3v18.6h-20.3zM1376.7 838.5h20.3v18.6h-20.3zM1396.6 838.5h20.3v18.6h-20.3zM1416.6 838.5h20.3v18.6h-20.3zM1436.5 838.5h20.3v18.6h-20.3zM1456.5 838.5h20.3v18.6h-20.3zM1536.3 838.5h20.3v18.6h-20.3zM1556.3 838.5h20.3v18.6h-20.3zM1596.2 838.5h20.3v18.6h-20.3zM1616.1 838.5h20.3v18.6h-20.3zM1695.9 838.5h20.3v18.6h-20.3zM1755.8 838.5h20.3v18.6h-20.3zM1815.6 838.5h20.3v18.6h-20.3zM1157.2 856.8h20.3v18.6h-20.3zM1177.2 856.8h20.3v18.6h-20.3zM1296.9 856.8h20.3v18.6h-20.3zM1316.8 856.8h20.3v18.6h-20.3zM1336.8 856.8h20.3v18.6h-20.3zM1396.6 856.8h20.3v18.6h-20.3zM1416.6 856.8h20.3v18.6h-20.3zM1436.5 856.8h20.3v18.6h-20.3zM1456.5 856.8h20.3v18.6h-20.3zM1536.3 856.8h20.3v18.6h-20.3zM1616.1 856.8h20.3v18.6h-20.3zM1695.9 856.8h20.3v18.6h-20.3zM1755.8 856.8h20.3v18.6h-20.3zM1137.3 875.1h20.3v18.6h-20.3zM1157.2 875.1h20.3v18.6h-20.3zM1296.9 875.1h20.3v18.6h-20.3zM1316.8 875.1h20.3v18.6h-20.3zM1336.8 875.1h20.3v18.6h-20.3zM1396.6 875.1h20.3v18.6h-20.3zM1436.5 875.1h20.3v18.6h-20.3zM1456.5 875.1h20.3v18.6h-20.3zM1476.5 875.1h20.3v18.6h-20.3zM1516.4 875.1h20.3v18.6h-20.3zM1536.3 875.1h20.3v18.6h-20.3zM1616.1 875.1h20.3v18.6h-20.3zM1755.8 875.1h20.3v18.6h-20.3zM1157.2 893.4h20.3v18.6h-20.3zM1276.9 893.4h20.3v18.6h-20.3zM1296.9 893.4h20.3v18.6h-20.3zM1336.8 893.4h20.3v18.6h-20.3zM1376.7 893.4h20.3v18.6h-20.3zM1436.5 893.4h20.3v18.6h-20.3zM1456.5 893.4h20.3v18.6h-20.3zM1476.5 893.4h20.3v18.6h-20.3zM1516.4 893.4h20.3v18.6h-20.3zM1536.3 893.4h20.3v18.6h-20.3zM1616.1 893.4h20.3v18.6h-20.3zM1676.0 893.4h20.3v18.6h-20.3zM1755.8 893.4h20.3v18.6h-20.3zM1775.7 893.4h20.3v18.6h-20.3zM1276.9 911.6h20.3v18.6h-20.3zM1296.9 911.6h20.3v18.6h-20.3zM1336.8 911.6h20.3v18.6h-20.3zM1356.7 911.6h20.3v18.6h-20.3zM1376.7 911.6h20.3v18.6h-20.3zM1396.6 911.6h20.3v18.6h-20.3zM1416.6 911.6h20.3v18.6h-20.3zM1436.5 911.6h20.3v18.6h-20.3zM1456.5 911.6h20.3v18.6h-20.3zM1476.5 911.6h20.3v18.6h-20.3zM1516.4 911.6h20.3v18.6h-20.3zM1536.3 911.6h20.3v18.6h-20.3zM1616.1 911.6h20.3v18.6h-20.3zM1676.0 911.6h20.3v18.6h-20.3zM1695.9 911.6h20.3v18.6h-20.3zM1715.9 911.6h20.3v18.6h-20.3zM1755.8 911.6h20.3v18.6h-20.3zM1775.7 911.6h20.3v18.6h-20.3zM1157.2 929.9h20.3v18.6h-20.3zM1177.2 929.9h20.3v18.6h-20.3zM1276.9 929.9h20.3v18.6h-20.3zM1316.8 929.9h20.3v18.6h-20.3zM1336.8 929.9h20.3v18.6h-20.3zM1416.6 929.9h20.3v18.6h-20.3zM1436.5 929.9h20.3v18.6h-20.3zM1456.5 929.9h20.3v18.6h-20.3zM1476.5 929.9h20.3v18.6h-20.3zM1536.3 929.9h20.3v18.6h-20.3zM1556.3 929.9h20.3v18.6h-20.3zM1616.1 929.9h20.3v18.6h-20.3zM1755.8 929.9h20.3v18.6h-20.3zM1775.7 929.9h20.3v18.6h-20.3zM1177.2 948.2h20.3v18.6h-20.3zM1276.9 948.2h20.3v18.6h-20.3zM1296.9 948.2h20.3v18.6h-20.3zM1316.8 948.2h20.3v18.6h-20.3zM1336.8 948.2h20.3v18.6h-20.3zM1356.7 948.2h20.3v18.6h-20.3zM1376.7 948.2h20.3v18.6h-20.3zM1396.6 948.2h20.3v18.6h-20.3zM1416.6 948.2h20.3v18.6h-20.3zM1436.5 948.2h20.3v18.6h-20.3zM1456.5 948.2h20.3v18.6h-20.3zM1476.5 948.2h20.3v18.6h-20.3zM1496.4 948.2h20.3v18.6h-20.3zM1536.3 948.2h20.3v18.6h-20.3zM1616.1 948.2h20.3v18.6h-20.3zM1636.1 948.2h20.3v18.6h-20.3zM1656.0 948.2h20.3v18.6h-20.3zM1695.9 948.2h20.3v18.6h-20.3zM1755.8 948.2h20.3v18.6h-20.3zM1775.7 948.2h20.3v18.6h-20.3zM1815.6 948.2h20.3v18.6h-20.3z"/><path fill="#FEEBE6" d="M1257.0 637.4h20.3v18.6h-20.3zM1436.5 637.4h20.3v18.6h-20.3zM1676.0 637.4h20.3v18.6h-20.3zM1855.5 637.4h20.3v18.6h-20.3zM1137.3 655.7h20.3v18.6h-20.3zM1416.6 655.7h20.3v18.6h-20.3zM1596.2 655.7h20.3v18.6h-20.3zM1715.9 655.7h20.3v18.6h-20.3zM1775.7 655.7h20.3v18.6h-20.3zM1416.6 674.0h20.3v18.6h-20.3zM1496.4 674.0h20.3v18.6h-20.3zM1516.4 674.0h20.3v18.6h-20.3zM1656.0 674.0h20.3v18.6h-20.3zM1695.9 674.0h20.3v18.6h-20.3zM1775.7 674.0h20.3v18.6h-20.3zM1097.4 692.2h20.3v18.6h-20.3zM1536.3 692.2h20.3v18.6h-20.3zM1855.5 692.2h20.3v18.6h-20.3zM1117.3 710.5h20.3v18.6h-20.3zM1296.9 710.5h20.3v18.6h-20.3zM1316.8 710.5h20.3v18.6h-20.3zM1416.6 710.5h20.3v18.6h-20.3zM1456.5 710.5h20.3v18.6h-20.3zM1616.1 710.5h20.3v18.6h-20.3zM1336.8 728.8h20.3v18.6h-20.3zM1516.4 728.8h20.3v18.6h-20.3zM1576.2 728.8h20.3v18.6h-20.3zM1616.1 728.8h20.3v18.6h-20.3zM1636.1 728.8h20.3v18.6h-20.3zM1715.9 728.8h20.3v18.6h-20.3zM1276.9 747.1h20.3v18.6h-20.3zM1795.7 747.1h20.3v18.6h-20.3zM1336.8 765.4h20.3v18.6h-20.3zM1656.0 765.4h20.3v18.6h-20.3zM1815.6 765.4h20.3v18.6h-20.3zM1356.7 802.0h20.3v18.6h-20.3zM1436.5 802.0h20.3v18.6h-20.3zM1496.4 802.0h20.3v18.6h-20.3zM1656.0 802.0h20.3v18.6h-20.3zM1516.4 820.2h20.3v18.6h-20.3zM1276.9 838.5h20.3v18.6h-20.3zM1775.7 838.5h20.3v18.6h-20.3zM1795.7 838.5h20.3v18.6h-20.3zM1855.5 838.5h20.3v18.6h-20.3zM1077.4 856.8h20.3v18.6h-20.3zM1356.7 856.8h20.3v18.6h-20.3zM1775.7 856.8h20.3v18.6h-20.3zM1795.7 856.8h20.3v18.6h-20.3zM1416.6 875.1h20.3v18.6h-20.3zM1496.4 875.1h20.3v18.6h-20.3zM1795.7 875.1h20.3v18.6h-20.3zM1636.1 911.6h20.3v18.6h-20.3zM1077.4 929.9h20.3v18.6h-20.3zM1296.9 929.9h20.3v18.6h-20.3zM1356.7 929.9h20.3v18.6h-20.3zM1157.2 948.2h20.3v18.6h-20.3zM1556.3 948.2h20.3v18.6h-20.3z"/><path fill="#F3F9FB" d="M1276.9 637.4h20.3v18.6h-20.3zM1396.6 637.4h20.3v18.6h-20.3zM1536.3 637.4h20.3v18.6h-20.3zM1636.1 637.4h20.3v18.6h-20.3zM1775.7 637.4h20.3v18.6h-20.3zM1815.6 637.4h20.3v18.6h-20.3zM1117.3 655.7h20.3v18.6h-20.3zM1276.9 655.7h20.3v18.6h-20.3zM1436.5 655.7h20.3v18.6h-20.3zM1636.1 655.7h20.3v18.6h-20.3zM1656.0 655.7h20.3v18.6h-20.3zM1835.6 655.7h20.3v18.6h-20.3zM1097.4 674.0h20.3v18.6h-20.3zM1356.7 674.0h20.3v18.6h-20.3zM1376.7 674.0h20.3v18.6h-20.3zM1097.4 710.5h20.3v18.6h-20.3zM1097.4 728.8h20.3v18.6h-20.3zM1596.2 728.8h20.3v18.6h-20.3zM1855.5 728.8h20.3v18.6h-20.3zM1735.8 765.4h20.3v18.6h-20.3zM1755.8 765.4h20.3v18.6h-20.3zM1855.5 765.4h20.3v18.6h-20.3zM1835.6 802.0h20.3v18.6h-20.3zM1097.4 820.2h20.3v18.6h-20.3zM1197.1 820.2h20.3v18.6h-20.3zM1656.0 820.2h20.3v18.6h-20.3zM1695.9 820.2h20.3v18.6h-20.3zM1715.9 838.5h20.3v18.6h-20.3zM1097.4 856.8h20.3v18.6h-20.3zM1636.1 875.1h20.3v18.6h-20.3zM1077.4 893.4h20.3v18.6h-20.3zM1795.7 893.4h20.3v18.6h-20.3zM1097.4 911.6h20.3v18.6h-20.3zM1815.6 911.6h20.3v18.6h-20.3zM1855.5 911.6h20.3v18.6h-20.3zM1815.6 929.9h20.3v18.6h-20.3zM1077.4 948.2h20.3v18.6h-20.3z"/><path fill="#FFF4F1" d="M1296.9 637.4h20.3v18.6h-20.3zM1416.6 637.4h20.3v18.6h-20.3zM1556.3 637.4h20.3v18.6h-20.3zM1356.7 655.7h20.3v18.6h-20.3zM1456.5 655.7h20.3v18.6h-20.3zM1476.5 655.7h20.3v18.6h-20.3zM1695.9 655.7h20.3v18.6h-20.3zM1815.6 655.7h20.3v18.6h-20.3zM1276.9 674.0h20.3v18.6h-20.3zM1396.6 674.0h20.3v18.6h-20.3zM1676.0 674.0h20.3v18.6h-20.3zM1835.6 674.0h20.3v18.6h-20.3zM1496.4 692.2h20.3v18.6h-20.3zM1815.6 692.2h20.3v18.6h-20.3zM1356.7 710.5h20.3v18.6h-20.3zM1436.5 710.5h20.3v18.6h-20.3zM1316.8 728.8h20.3v18.6h-20.3zM1416.6 728.8h20.3v18.6h-20.3zM1456.5 728.8h20.3v18.6h-20.3zM1775.7 728.8h20.3v18.6h-20.3zM1137.3 747.1h20.3v18.6h-20.3zM1356.7 765.4h20.3v18.6h-20.3zM1536.3 765.4h20.3v18.6h-20.3zM1197.1 783.7h20.3v18.6h-20.3zM1396.6 802.0h20.3v18.6h-20.3zM1815.6 802.0h20.3v18.6h-20.3zM1077.4 820.2h20.3v18.6h-20.3zM1516.4 838.5h20.3v18.6h-20.3zM1835.6 838.5h20.3v18.6h-20.3zM1516.4 856.8h20.3v18.6h-20.3zM1376.7 875.1h20.3v18.6h-20.3zM1835.6 875.1h20.3v18.6h-20.3zM1496.4 911.6h20.3v18.6h-20.3zM1795.7 911.6h20.3v18.6h-20.3zM1835.6 911.6h20.3v18.6h-20.3zM1396.6 929.9h20.3v18.6h-20.3zM1656.0 929.9h20.3v18.6h-20.3zM1835.6 929.9h20.3v18.6h-20.3z"/><path fill="#C8E7F1" d="M1336.8 637.4h20.3v18.6h-20.3zM1715.9 637.4h20.3v18.6h-20.3zM1735.8 637.4h20.3v18.6h-20.3zM1855.5 655.7h20.3v18.6h-20.3zM1077.4 802.0h20.3v18.6h-20.3zM1715.9 856.8h20.3v18.6h-20.3zM1097.4 929.9h20.3v18.6h-20.3zM1117.3 929.9h20.3v18.6h-20.3z"/><path fill="#E6F4F8" d="M1356.7 637.4h20.3v18.6h-20.3zM1516.4 637.4h20.3v18.6h-20.3zM1636.1 674.0h20.3v18.6h-20.3zM1715.9 674.0h20.3v18.6h-20.3zM1815.6 674.0h20.3v18.6h-20.3zM1117.3 728.8h20.3v18.6h-20.3zM1795.7 728.8h20.3v18.6h-20.3zM1097.4 747.1h20.3v18.6h-20.3zM1097.4 765.4h20.3v18.6h-20.3zM1775.7 765.4h20.3v18.6h-20.3zM1097.4 783.7h20.3v18.6h-20.3zM1815.6 856.8h20.3v18.6h-20.3zM1077.4 875.1h20.3v18.6h-20.3zM1097.4 875.1h20.3v18.6h-20.3zM1097.4 893.4h20.3v18.6h-20.3zM1097.4 948.2h20.3v18.6h-20.3z"/><path fill="#FAAE9B" d="M1157.2 655.7h20.3v18.6h-20.3zM1197.1 674.0h20.3v18.6h-20.3zM1217.1 674.0h20.3v18.6h-20.3zM1237.0 674.0h20.3v18.6h-20.3zM1117.3 692.2h20.3v18.6h-20.3zM1197.1 692.2h20.3v18.6h-20.3zM1257.0 692.2h20.3v18.6h-20.3zM1276.9 692.2h20.3v18.6h-20.3zM1376.7 692.2h20.3v18.6h-20.3zM1436.5 692.2h20.3v18.6h-20.3zM1456.5 692.2h20.3v18.6h-20.3zM1616.1 692.2h20.3v18.6h-20.3zM1077.4 710.5h20.3v18.6h-20.3zM1197.1 710.5h20.3v18.6h-20.3zM1217.1 710.5h20.3v18.6h-20.3zM1237.0 710.5h20.3v18.6h-20.3zM1077.4 728.8h20.3v18.6h-20.3zM1077.4 747.1h20.3v18.6h-20.3zM1356.7 747.1h20.3v18.6h-20.3zM1077.4 765.4h20.3v18.6h-20.3zM1177.2 765.4h20.3v18.6h-20.3zM1217.1 765.4h20.3v18.6h-20.3zM1237.0 765.4h20.3v18.6h-20.3zM1276.9 765.4h20.3v18.6h-20.3zM1137.3 783.7h20.3v18.6h-20.3zM1137.3 802.0h20.3v18.6h-20.3zM1257.0 802.0h20.3v18.6h-20.3zM1137.3 820.2h20.3v18.6h-20.3zM1316.8 820.2h20.3v18.6h-20.3zM1137.3 838.5h20.3v18.6h-20.3zM1735.8 838.5h20.3v18.6h-20.3zM1496.4 856.8h20.3v18.6h-20.3zM1636.1 856.8h20.3v18.6h-20.3zM1197.1 875.1h20.3v18.6h-20.3zM1217.1 875.1h20.3v18.6h-20.3zM1237.0 875.1h20.3v18.6h-20.3zM1576.2 875.1h20.3v18.6h-20.3zM1197.1 893.4h20.3v18.6h-20.3zM1217.1 893.4h20.3v18.6h-20.3zM1237.0 893.4h20.3v18.6h-20.3zM1316.8 893.4h20.3v18.6h-20.3zM1576.2 893.4h20.3v18.6h-20.3zM1157.2 911.6h20.3v18.6h-20.3zM1237.0 911.6h20.3v18.6h-20.3zM1137.3 929.9h20.3v18.6h-20.3zM1576.2 929.9h20.3v18.6h-20.3zM1217.1 948.2h20.3v18.6h-20.3zM1237.0 948.2h20.3v18.6h-20.3z"/><path fill="#FCC1B3" d="M1197.1 655.7h20.3v18.6h-20.3zM1237.0 655.7h20.3v18.6h-20.3zM1137.3 674.0h20.3v18.6h-20.3zM1157.2 674.0h20.3v18.6h-20.3zM1336.8 692.2h20.3v18.6h-20.3zM1396.6 692.2h20.3v18.6h-20.3zM1476.5 692.2h20.3v18.6h-20.3zM1755.8 692.2h20.3v18.6h-20.3zM1775.7 692.2h20.3v18.6h-20.3zM1137.3 710.5h20.3v18.6h-20.3zM1257.0 710.5h20.3v18.6h-20.3zM1276.9 710.5h20.3v18.6h-20.3zM1496.4 710.5h20.3v18.6h-20.3zM1556.3 710.5h20.3v18.6h-20.3zM1676.0 710.5h20.3v18.6h-20.3zM1137.3 728.8h20.3v18.6h-20.3zM1157.2 728.8h20.3v18.6h-20.3zM1197.1 728.8h20.3v18.6h-20.3zM1217.1 728.8h20.3v18.6h-20.3zM1237.0 728.8h20.3v18.6h-20.3zM1676.0 728.8h20.3v18.6h-20.3zM1177.2 747.1h20.3v18.6h-20.3zM1197.1 747.1h20.3v18.6h-20.3zM1217.1 747.1h20.3v18.6h-20.3zM1237.0 747.1h20.3v18.6h-20.3zM1376.7 747.1h20.3v18.6h-20.3zM1396.6 747.1h20.3v18.6h-20.3zM1416.6 747.1h20.3v18.6h-20.3zM1436.5 747.1h20.3v18.6h-20.3zM1616.1 747.1h20.3v18.6h-20.3zM1695.9 747.1h20.3v18.6h-20.3zM1715.9 747.1h20.3v18.6h-20.3zM1835.6 747.1h20.3v18.6h-20.3zM1137.3 765.4h20.3v18.6h-20.3zM1197.1 765.4h20.3v18.6h-20.3zM1436.5 765.4h20.3v18.6h-20.3zM1456.5 765.4h20.3v18.6h-20.3zM1476.5 765.4h20.3v18.6h-20.3zM1556.3 765.4h20.3v18.6h-20.3zM1576.2 765.4h20.3v18.6h-20.3zM1596.2 765.4h20.3v18.6h-20.3zM1616.1 765.4h20.3v18.6h-20.3zM1636.1 765.4h20.3v18.6h-20.3zM1695.9 765.4h20.3v18.6h-20.3zM1157.2 783.7h20.3v18.6h-20.3zM1177.2 783.7h20.3v18.6h-20.3zM1217.1 783.7h20.3v18.6h-20.3zM1237.0 783.7h20.3v18.6h-20.3zM1257.0 783.7h20.3v18.6h-20.3zM1276.9 783.7h20.3v18.6h-20.3zM1296.9 783.7h20.3v18.6h-20.3zM1396.6 783.7h20.3v18.6h-20.3zM1536.3 783.7h20.3v18.6h-20.3zM1556.3 783.7h20.3v18.6h-20.3zM1616.1 783.7h20.3v18.6h-20.3zM1695.9 783.7h20.3v18.6h-20.3zM1715.9 783.7h20.3v18.6h-20.3zM1735.8 783.7h20.3v18.6h-20.3zM1755.8 783.7h20.3v18.6h-20.3zM1775.7 783.7h20.3v18.6h-20.3zM1177.2 802.0h20.3v18.6h-20.3zM1217.1 802.0h20.3v18.6h-20.3zM1237.0 802.0h20.3v18.6h-20.3zM1316.8 802.0h20.3v18.6h-20.3zM1695.9 802.0h20.3v18.6h-20.3zM1715.9 802.0h20.3v18.6h-20.3zM1157.2 820.2h20.3v18.6h-20.3zM1177.2 820.2h20.3v18.6h-20.3zM1795.7 820.2h20.3v18.6h-20.3zM1157.2 838.5h20.3v18.6h-20.3zM1177.2 838.5h20.3v18.6h-20.3zM1197.1 838.5h20.3v18.6h-20.3zM1217.1 838.5h20.3v18.6h-20.3zM1237.0 838.5h20.3v18.6h-20.3zM1336.8 838.5h20.3v18.6h-20.3zM1476.5 838.5h20.3v18.6h-20.3zM1496.4 838.5h20.3v18.6h-20.3zM1197.1 856.8h20.3v18.6h-20.3zM1217.1 856.8h20.3v18.6h-20.3zM1237.0 856.8h20.3v18.6h-20.3zM1276.9 856.8h20.3v18.6h-20.3zM1476.5 856.8h20.3v18.6h-20.3zM1596.2 856.8h20.3v18.6h-20.3zM1656.0 856.8h20.3v18.6h-20.3zM1676.0 856.8h20.3v18.6h-20.3zM1177.2 875.1h20.3v18.6h-20.3zM1257.0 875.1h20.3v18.6h-20.3zM1276.9 875.1h20.3v18.6h-20.3zM1556.3 875.1h20.3v18.6h-20.3zM1596.2 875.1h20.3v18.6h-20.3zM1676.0 875.1h20.3v18.6h-20.3zM1695.9 875.1h20.3v18.6h-20.3zM1735.8 875.1h20.3v18.6h-20.3zM1137.3 893.4h20.3v18.6h-20.3zM1177.2 893.4h20.3v18.6h-20.3zM1257.0 893.4h20.3v18.6h-20.3zM1556.3 893.4h20.3v18.6h-20.3zM1596.2 893.4h20.3v18.6h-20.3zM1137.3 911.6h20.3v18.6h-20.3zM1177.2 911.6h20.3v18.6h-20.3zM1197.1 911.6h20.3v18.6h-20.3zM1217.1 911.6h20.3v18.6h-20.3zM1257.0 911.6h20.3v18.6h-20.3zM1316.8 911.6h20.3v18.6h-20.3zM1556.3 911.6h20.3v18.6h-20.3zM1576.2 911.6h20.3v18.6h-20.3zM1596.2 911.6h20.3v18.6h-20.3zM1735.8 911.6h20.3v18.6h-20.3zM1197.1 929.9h20.3v18.6h-20.3zM1217.1 929.9h20.3v18.6h-20.3zM1237.0 929.9h20.3v18.6h-20.3zM1596.2 929.9h20.3v18.6h-20.3zM1855.5 929.9h20.3v18.6h-20.3zM1137.3 948.2h20.3v18.6h-20.3zM1197.1 948.2h20.3v18.6h-20.3zM1257.0 948.2h20.3v18.6h-20.3zM1576.2 948.2h20.3v18.6h-20.3zM1596.2 948.2h20.3v18.6h-20.3zM1676.0 948.2h20.3v18.6h-20.3z"/><path fill="#F27D63" d="M1077.4 692.2h20.3v18.6h-20.3zM1316.8 692.2h20.3v18.6h-20.3zM1416.6 692.2h20.3v18.6h-20.3zM1636.1 692.2h20.3v18.6h-20.3zM1695.9 692.2h20.3v18.6h-20.3zM1137.3 856.8h20.3v18.6h-20.3z"/></g>
<path d="M1097.5 637.4V966.5M1117.5 637.4V966.5M1137.5 637.4V966.5M1157.5 637.4V966.5M1177.5 637.4V966.5M1197.5 637.4V966.5M1217.5 637.4V966.5M1237.5 637.4V966.5M1256.5 637.4V966.5M1276.5 637.4V966.5M1296.5 637.4V966.5M1316.5 637.4V966.5M1336.5 637.4V966.5M1356.5 637.4V966.5M1376.5 637.4V966.5M1396.5 637.4V966.5M1416.5 637.4V966.5M1436.5 637.4V966.5M1456.5 637.4V966.5M1476.5 637.4V966.5M1496.5 637.4V966.5M1516.5 637.4V966.5M1536.5 637.4V966.5M1556.5 637.4V966.5M1576.5 637.4V966.5M1596.5 637.4V966.5M1616.5 637.4V966.5M1636.5 637.4V966.5M1656.5 637.4V966.5M1675.5 637.4V966.5M1695.5 637.4V966.5M1715.5 637.4V966.5M1735.5 637.4V966.5M1755.5 637.4V966.5M1775.5 637.4V966.5M1795.5 637.4V966.5M1815.5 637.4V966.5M1835.5 637.4V966.5M1855.5 637.4V966.5M1077.4 656.5H1875.5M1077.4 674.5H1875.5M1077.4 692.5H1875.5M1077.4 711.5H1875.5M1077.4 729.5H1875.5M1077.4 747.5H1875.5M1077.4 765.5H1875.5M1077.4 784.5H1875.5M1077.4 802.5H1875.5M1077.4 820.5H1875.5M1077.4 839.5H1875.5M1077.4 857.5H1875.5M1077.4 875.5H1875.5M1077.4 893.5H1875.5M1077.4 912.5H1875.5M1077.4 930.5H1875.5M1077.4 948.5H1875.5" stroke="#454545" stroke-width="1" fill="none"/>
<rect x="1077.40" y="637.40" width="798.10" height="329.10" fill="none" stroke="#9a9a9a" stroke-width="1.2"/>
<g font-size="17" text-anchor="middle" stroke="#000" stroke-width="0.45" transform="scale(0.95,0.8)"><text x="1161.5" y="812.8">*</text><text x="1169.7" y="812.8">*</text><text x="1182.5" y="812.8">*</text><text x="1190.7" y="812.8">*</text><text x="1203.5" y="812.8">*</text><text x="1211.7" y="812.8">*</text><text x="1224.5" y="812.8">*</text><text x="1232.7" y="812.8">*</text><text x="1249.6" y="812.8">*</text><text x="1287.5" y="812.8">*</text><text x="1295.7" y="812.8">*</text><text x="1308.5" y="812.8">*</text><text x="1316.7" y="812.8">*</text><text x="1413.5" y="812.8">*</text><text x="1421.7" y="812.8">*</text><text x="1455.5" y="812.8">*</text><text x="1463.8" y="812.8">*</text><text x="1522.7" y="812.8">*</text><text x="1539.6" y="812.8">*</text><text x="1547.8" y="812.8">*</text><text x="1560.6" y="812.8">*</text><text x="1568.8" y="812.8">*</text><text x="1581.6" y="812.8">*</text><text x="1589.8" y="812.8">*</text><text x="1669.7" y="812.8">*</text><text x="1686.6" y="812.8">*</text><text x="1694.8" y="812.8">*</text><text x="1707.6" y="812.8">*</text><text x="1715.8" y="812.8">*</text><text x="1732.7" y="812.8">*</text><text x="1791.6" y="812.8">*</text><text x="1799.8" y="812.8">*</text><text x="1812.6" y="812.8">*</text><text x="1820.8" y="812.8">*</text><text x="1938.6" y="812.8">*</text><text x="1946.8" y="812.8">*</text><text x="1144.6" y="835.7">*</text><text x="1186.6" y="835.7">*</text><text x="1203.5" y="835.7">*</text><text x="1211.7" y="835.7">*</text><text x="1228.6" y="835.7">*</text><text x="1266.5" y="835.7">*</text><text x="1274.7" y="835.7">*</text><text x="1287.5" y="835.7">*</text><text x="1295.7" y="835.7">*</text><text x="1308.5" y="835.7">*</text><text x="1316.7" y="835.7">*</text><text x="1333.6" y="835.7">*</text><text x="1371.5" y="835.7">*</text><text x="1379.7" y="835.7">*</text><text x="1417.6" y="835.7">*</text><text x="1455.5" y="835.7">*</text><text x="1463.8" y="835.7">*</text><text x="1476.5" y="835.7">*</text><text x="1484.8" y="835.7">*</text><text x="1581.6" y="835.7">*</text><text x="1589.8" y="835.7">*</text><text x="1602.6" y="835.7">*</text><text x="1610.8" y="835.7">*</text><text x="1623.6" y="835.7">*</text><text x="1631.8" y="835.7">*</text><text x="1644.6" y="835.7">*</text><text x="1652.8" y="835.7">*</text><text x="1665.6" y="835.7">*</text><text x="1673.8" y="835.7">*</text><text x="1707.6" y="835.7">*</text><text x="1715.8" y="835.7">*</text><text x="1854.6" y="835.7">*</text><text x="1862.8" y="835.7">*</text><text x="1959.6" y="835.7">*</text><text x="1967.8" y="835.7">*</text><text x="1144.6" y="858.5">*</text><text x="1182.5" y="858.5">*</text><text x="1190.7" y="858.5">*</text><text x="1203.5" y="858.5">*</text><text x="1211.7" y="858.5">*</text><text x="1228.6" y="858.5">*</text><text x="1249.6" y="858.5">*</text><text x="1266.5" y="858.5">*</text><text x="1274.7" y="858.5">*</text><text x="1287.5" y="858.5">*</text><text x="1295.7" y="858.5">*</text><text x="1308.5" y="858.5">*</text><text x="1316.7" y="858.5">*</text><text x="1413.5" y="858.5">*</text><text x="1421.7" y="858.5">*</text><text x="1518.5" y="858.5">*</text><text x="1526.8" y="858.5">*</text><text x="1539.6" y="858.5">*</text><text x="1547.8" y="858.5">*</text><text x="1560.6" y="858.5">*</text><text x="1568.8" y="858.5">*</text><text x="1623.6" y="858.5">*</text><text x="1631.8" y="858.5">*</text><text x="1644.6" y="858.5">*</text><text x="1652.8" y="858.5">*</text><text x="1665.6" y="858.5">*</text><text x="1673.8" y="858.5">*</text><text x="1686.6" y="858.5">*</text><text x="1694.8" y="858.5">*</text><text x="1707.6" y="858.5">*</text><text x="1715.8" y="858.5">*</text><text x="1732.7" y="858.5">*</text><text x="1854.6" y="858.5">*</text><text x="1862.8" y="858.5">*</text><text x="1963.7" y="858.5">*</text><text x="1140.5" y="881.4">*</text><text x="1148.7" y="881.4">*</text><text x="1182.5" y="881.4">*</text><text x="1190.7" y="881.4">*</text><text x="1203.5" y="881.4">*</text><text x="1211.7" y="881.4">*</text><text x="1228.6" y="881.4">*</text><text x="1245.5" y="881.4">*</text><text x="1253.7" y="881.4">*</text><text x="1266.5" y="881.4">*</text><text x="1274.7" y="881.4">*</text><text x="1287.5" y="881.4">*</text><text x="1295.7" y="881.4">*</text><text x="1308.5" y="881.4">*</text><text x="1316.7" y="881.4">*</text><text x="1329.5" y="881.4">*</text><text x="1337.7" y="881.4">*</text><text x="1350.5" y="881.4">*</text><text x="1358.7" y="881.4">*</text><text x="1371.5" y="881.4">*</text><text x="1379.7" y="881.4">*</text><text x="1392.5" y="881.4">*</text><text x="1400.7" y="881.4">*</text><text x="1413.5" y="881.4">*</text><text x="1421.7" y="881.4">*</text><text x="1434.5" y="881.4">*</text><text x="1442.7" y="881.4">*</text><text x="1455.5" y="881.4">*</text><text x="1463.8" y="881.4">*</text><text x="1476.5" y="881.4">*</text><text x="1484.8" y="881.4">*</text><text x="1497.5" y="881.4">*</text><text x="1505.8" y="881.4">*</text><text x="1518.5" y="881.4">*</text><text x="1526.8" y="881.4">*</text><text x="1539.6" y="881.4">*</text><text x="1547.8" y="881.4">*</text><text x="1560.6" y="881.4">*</text><text x="1568.8" y="881.4">*</text><text x="1606.7" y="881.4">*</text><text x="1627.7" y="881.4">*</text><text x="1644.6" y="881.4">*</text><text x="1652.8" y="881.4">*</text><text x="1665.6" y="881.4">*</text><text x="1673.8" y="881.4">*</text><text x="1686.6" y="881.4">*</text><text x="1694.8" y="881.4">*</text><text x="1707.6" y="881.4">*</text><text x="1715.8" y="881.4">*</text><text x="1728.6" y="881.4">*</text><text x="1736.8" y="881.4">*</text><text x="1774.7" y="881.4">*</text><text x="1791.6" y="881.4">*</text><text x="1799.8" y="881.4">*</text><text x="1816.7" y="881.4">*</text><text x="1854.6" y="881.4">*</text><text x="1862.8" y="881.4">*</text><text x="1875.6" y="881.4">*</text><text x="1883.8" y="881.4">*</text><text x="1938.6" y="881.4">*</text><text x="1946.8" y="881.4">*</text><text x="1140.5" y="904.3">*</text><text x="1148.7" y="904.3">*</text><text x="1186.6" y="904.3">*</text><text x="1203.5" y="904.3">*</text><text x="1211.7" y="904.3">*</text><text x="1266.5" y="904.3">*</text><text x="1274.7" y="904.3">*</text><text x="1287.5" y="904.3">*</text><text x="1295.7" y="904.3">*</text><text x="1308.5" y="904.3">*</text><text x="1316.7" y="904.3">*</text><text x="1329.5" y="904.3">*</text><text x="1337.7" y="904.3">*</text><text x="1350.5" y="904.3">*</text><text x="1358.7" y="904.3">*</text><text x="1375.6" y="904.3">*</text><text x="1413.5" y="904.3">*</text><text x="1421.7" y="904.3">*</text><text x="1455.5" y="904.3">*</text><text x="1463.8" y="904.3">*</text><text x="1476.5" y="904.3">*</text><text x="1484.8" y="904.3">*</text><text x="1543.7" y="904.3">*</text><text x="1564.7" y="904.3">*</text><text x="1581.6" y="904.3">*</text><text x="1589.8" y="904.3">*</text><text x="1602.6" y="904.3">*</text><text x="1610.8" y="904.3">*</text><text x="1627.7" y="904.3">*</text><text x="1644.6" y="904.3">*</text><text x="1652.8" y="904.3">*</text><text x="1665.6" y="904.3">*</text><text x="1673.8" y="904.3">*</text><text x="1711.7" y="904.3">*</text><text x="1728.6" y="904.3">*</text><text x="1736.8" y="904.3">*</text><text x="1749.6" y="904.3">*</text><text x="1757.8" y="904.3">*</text><text x="1770.6" y="904.3">*</text><text x="1778.8" y="904.3">*</text><text x="1816.7" y="904.3">*</text><text x="1854.6" y="904.3">*</text><text x="1862.8" y="904.3">*</text><text x="1879.7" y="904.3">*</text><text x="1900.7" y="904.3">*</text><text x="1140.5" y="927.1">*</text><text x="1148.7" y="927.1">*</text><text x="1182.5" y="927.1">*</text><text x="1190.7" y="927.1">*</text><text x="1203.5" y="927.1">*</text><text x="1211.7" y="927.1">*</text><text x="1228.6" y="927.1">*</text><text x="1249.6" y="927.1">*</text><text x="1266.5" y="927.1">*</text><text x="1274.7" y="927.1">*</text><text x="1287.5" y="927.1">*</text><text x="1295.7" y="927.1">*</text><text x="1308.5" y="927.1">*</text><text x="1316.7" y="927.1">*</text><text x="1354.6" y="927.1">*</text><text x="1371.5" y="927.1">*</text><text x="1379.7" y="927.1">*</text><text x="1455.5" y="927.1">*</text><text x="1463.8" y="927.1">*</text><text x="1476.5" y="927.1">*</text><text x="1484.8" y="927.1">*</text><text x="1560.6" y="927.1">*</text><text x="1568.8" y="927.1">*</text><text x="1623.6" y="927.1">*</text><text x="1631.8" y="927.1">*</text><text x="1749.6" y="927.1">*</text><text x="1757.8" y="927.1">*</text><text x="1770.6" y="927.1">*</text><text x="1778.8" y="927.1">*</text><text x="1795.7" y="927.1">*</text><text x="1854.6" y="927.1">*</text><text x="1862.8" y="927.1">*</text><text x="1921.7" y="927.1">*</text><text x="1140.5" y="950.0">*</text><text x="1148.7" y="950.0">*</text><text x="1182.5" y="950.0">*</text><text x="1190.7" y="950.0">*</text><text x="1245.5" y="950.0">*</text><text x="1253.7" y="950.0">*</text><text x="1266.5" y="950.0">*</text><text x="1274.7" y="950.0">*</text><text x="1287.5" y="950.0">*</text><text x="1295.7" y="950.0">*</text><text x="1308.5" y="950.0">*</text><text x="1316.7" y="950.0">*</text><text x="1371.5" y="950.0">*</text><text x="1379.7" y="950.0">*</text><text x="1434.5" y="950.0">*</text><text x="1442.7" y="950.0">*</text><text x="1455.5" y="950.0">*</text><text x="1463.8" y="950.0">*</text><text x="1476.5" y="950.0">*</text><text x="1484.8" y="950.0">*</text><text x="1497.5" y="950.0">*</text><text x="1505.8" y="950.0">*</text><text x="1518.5" y="950.0">*</text><text x="1526.8" y="950.0">*</text><text x="1539.6" y="950.0">*</text><text x="1547.8" y="950.0">*</text><text x="1560.6" y="950.0">*</text><text x="1568.8" y="950.0">*</text><text x="1585.7" y="950.0">*</text><text x="1602.6" y="950.0">*</text><text x="1610.8" y="950.0">*</text><text x="1623.6" y="950.0">*</text><text x="1631.8" y="950.0">*</text><text x="1644.6" y="950.0">*</text><text x="1652.8" y="950.0">*</text><text x="1686.6" y="950.0">*</text><text x="1694.8" y="950.0">*</text><text x="1707.6" y="950.0">*</text><text x="1715.8" y="950.0">*</text><text x="1728.6" y="950.0">*</text><text x="1736.8" y="950.0">*</text><text x="1749.6" y="950.0">*</text><text x="1757.8" y="950.0">*</text><text x="1774.7" y="950.0">*</text><text x="1791.6" y="950.0">*</text><text x="1799.8" y="950.0">*</text><text x="1812.6" y="950.0">*</text><text x="1820.8" y="950.0">*</text><text x="1854.6" y="950.0">*</text><text x="1862.8" y="950.0">*</text><text x="1875.6" y="950.0">*</text><text x="1883.8" y="950.0">*</text><text x="1921.7" y="950.0">*</text><text x="1938.6" y="950.0">*</text><text x="1946.8" y="950.0">*</text><text x="1963.7" y="950.0">*</text><text x="1140.5" y="972.8">*</text><text x="1148.7" y="972.8">*</text><text x="1182.5" y="972.8">*</text><text x="1190.7" y="972.8">*</text><text x="1203.5" y="972.8">*</text><text x="1211.7" y="972.8">*</text><text x="1245.5" y="972.8">*</text><text x="1253.7" y="972.8">*</text><text x="1266.5" y="972.8">*</text><text x="1274.7" y="972.8">*</text><text x="1287.5" y="972.8">*</text><text x="1295.7" y="972.8">*</text><text x="1308.5" y="972.8">*</text><text x="1316.7" y="972.8">*</text><text x="1350.5" y="972.8">*</text><text x="1358.7" y="972.8">*</text><text x="1371.5" y="972.8">*</text><text x="1379.7" y="972.8">*</text><text x="1455.5" y="972.8">*</text><text x="1463.8" y="972.8">*</text><text x="1476.5" y="972.8">*</text><text x="1484.8" y="972.8">*</text><text x="1501.7" y="972.8">*</text><text x="1518.5" y="972.8">*</text><text x="1526.8" y="972.8">*</text><text x="1539.6" y="972.8">*</text><text x="1547.8" y="972.8">*</text><text x="1560.6" y="972.8">*</text><text x="1568.8" y="972.8">*</text><text x="1581.6" y="972.8">*</text><text x="1589.8" y="972.8">*</text><text x="1602.6" y="972.8">*</text><text x="1610.8" y="972.8">*</text><text x="1644.6" y="972.8">*</text><text x="1652.8" y="972.8">*</text><text x="1665.6" y="972.8">*</text><text x="1673.8" y="972.8">*</text><text x="1686.6" y="972.8">*</text><text x="1694.8" y="972.8">*</text><text x="1707.6" y="972.8">*</text><text x="1715.8" y="972.8">*</text><text x="1728.6" y="972.8">*</text><text x="1736.8" y="972.8">*</text><text x="1791.6" y="972.8">*</text><text x="1799.8" y="972.8">*</text><text x="1858.7" y="972.8">*</text><text x="1875.6" y="972.8">*</text><text x="1883.8" y="972.8">*</text><text x="1942.7" y="972.8">*</text><text x="1140.5" y="995.7">*</text><text x="1148.7" y="995.7">*</text><text x="1203.5" y="995.7">*</text><text x="1211.7" y="995.7">*</text><text x="1224.5" y="995.7">*</text><text x="1232.7" y="995.7">*</text><text x="1245.5" y="995.7">*</text><text x="1253.7" y="995.7">*</text><text x="1287.5" y="995.7">*</text><text x="1295.7" y="995.7">*</text><text x="1308.5" y="995.7">*</text><text x="1316.7" y="995.7">*</text><text x="1329.5" y="995.7">*</text><text x="1337.7" y="995.7">*</text><text x="1350.5" y="995.7">*</text><text x="1358.7" y="995.7">*</text><text x="1371.5" y="995.7">*</text><text x="1379.7" y="995.7">*</text><text x="1396.6" y="995.7">*</text><text x="1413.5" y="995.7">*</text><text x="1421.7" y="995.7">*</text><text x="1434.5" y="995.7">*</text><text x="1442.7" y="995.7">*</text><text x="1455.5" y="995.7">*</text><text x="1463.8" y="995.7">*</text><text x="1476.5" y="995.7">*</text><text x="1484.8" y="995.7">*</text><text x="1497.5" y="995.7">*</text><text x="1505.8" y="995.7">*</text><text x="1518.5" y="995.7">*</text><text x="1526.8" y="995.7">*</text><text x="1539.6" y="995.7">*</text><text x="1547.8" y="995.7">*</text><text x="1560.6" y="995.7">*</text><text x="1568.8" y="995.7">*</text><text x="1585.7" y="995.7">*</text><text x="1602.6" y="995.7">*</text><text x="1610.8" y="995.7">*</text><text x="1623.6" y="995.7">*</text><text x="1631.8" y="995.7">*</text><text x="1644.6" y="995.7">*</text><text x="1652.8" y="995.7">*</text><text x="1665.6" y="995.7">*</text><text x="1673.8" y="995.7">*</text><text x="1686.6" y="995.7">*</text><text x="1694.8" y="995.7">*</text><text x="1707.6" y="995.7">*</text><text x="1715.8" y="995.7">*</text><text x="1728.6" y="995.7">*</text><text x="1736.8" y="995.7">*</text><text x="1749.6" y="995.7">*</text><text x="1757.8" y="995.7">*</text><text x="1770.6" y="995.7">*</text><text x="1778.8" y="995.7">*</text><text x="1791.6" y="995.7">*</text><text x="1799.8" y="995.7">*</text><text x="1812.6" y="995.7">*</text><text x="1820.8" y="995.7">*</text><text x="1833.6" y="995.7">*</text><text x="1841.8" y="995.7">*</text><text x="1854.6" y="995.7">*</text><text x="1862.8" y="995.7">*</text><text x="1875.6" y="995.7">*</text><text x="1883.8" y="995.7">*</text><text x="1921.7" y="995.7">*</text><text x="1959.6" y="995.7">*</text><text x="1967.8" y="995.7">*</text><text x="1140.5" y="1018.5">*</text><text x="1148.7" y="1018.5">*</text><text x="1161.5" y="1018.5">*</text><text x="1169.7" y="1018.5">*</text><text x="1182.5" y="1018.5">*</text><text x="1190.7" y="1018.5">*</text><text x="1203.5" y="1018.5">*</text><text x="1211.7" y="1018.5">*</text><text x="1224.5" y="1018.5">*</text><text x="1232.7" y="1018.5">*</text><text x="1245.5" y="1018.5">*</text><text x="1253.7" y="1018.5">*</text><text x="1270.6" y="1018.5">*</text><text x="1287.5" y="1018.5">*</text><text x="1295.7" y="1018.5">*</text><text x="1308.5" y="1018.5">*</text><text x="1316.7" y="1018.5">*</text><text x="1329.5" y="1018.5">*</text><text x="1337.7" y="1018.5">*</text><text x="1354.6" y="1018.5">*</text><text x="1371.5" y="1018.5">*</text><text x="1379.7" y="1018.5">*</text><text x="1396.6" y="1018.5">*</text><text x="1413.5" y="1018.5">*</text><text x="1421.7" y="1018.5">*</text><text x="1455.5" y="1018.5">*</text><text x="1463.8" y="1018.5">*</text><text x="1497.5" y="1018.5">*</text><text x="1505.8" y="1018.5">*</text><text x="1539.6" y="1018.5">*</text><text x="1547.8" y="1018.5">*</text><text x="1560.6" y="1018.5">*</text><text x="1568.8" y="1018.5">*</text><text x="1602.6" y="1018.5">*</text><text x="1610.8" y="1018.5">*</text><text x="1623.6" y="1018.5">*</text><text x="1631.8" y="1018.5">*</text><text x="1644.6" y="1018.5">*</text><text x="1652.8" y="1018.5">*</text><text x="1665.6" y="1018.5">*</text><text x="1673.8" y="1018.5">*</text><text x="1686.6" y="1018.5">*</text><text x="1694.8" y="1018.5">*</text><text x="1707.6" y="1018.5">*</text><text x="1715.8" y="1018.5">*</text><text x="1774.7" y="1018.5">*</text><text x="1791.6" y="1018.5">*</text><text x="1799.8" y="1018.5">*</text><text x="1812.6" y="1018.5">*</text><text x="1820.8" y="1018.5">*</text><text x="1854.6" y="1018.5">*</text><text x="1862.8" y="1018.5">*</text><text x="1875.6" y="1018.5">*</text><text x="1883.8" y="1018.5">*</text><text x="1963.7" y="1018.5">*</text><text x="1182.5" y="1041.4">*</text><text x="1190.7" y="1041.4">*</text><text x="1203.5" y="1041.4">*</text><text x="1211.7" y="1041.4">*</text><text x="1228.6" y="1041.4">*</text><text x="1245.5" y="1041.4">*</text><text x="1253.7" y="1041.4">*</text><text x="1287.5" y="1041.4">*</text><text x="1295.7" y="1041.4">*</text><text x="1308.5" y="1041.4">*</text><text x="1316.7" y="1041.4">*</text><text x="1371.5" y="1041.4">*</text><text x="1379.7" y="1041.4">*</text><text x="1396.6" y="1041.4">*</text><text x="1413.5" y="1041.4">*</text><text x="1421.7" y="1041.4">*</text><text x="1434.5" y="1041.4">*</text><text x="1442.7" y="1041.4">*</text><text x="1455.5" y="1041.4">*</text><text x="1463.8" y="1041.4">*</text><text x="1476.5" y="1041.4">*</text><text x="1484.8" y="1041.4">*</text><text x="1501.7" y="1041.4">*</text><text x="1518.5" y="1041.4">*</text><text x="1526.8" y="1041.4">*</text><text x="1539.6" y="1041.4">*</text><text x="1547.8" y="1041.4">*</text><text x="1560.6" y="1041.4">*</text><text x="1568.8" y="1041.4">*</text><text x="1623.6" y="1041.4">*</text><text x="1631.8" y="1041.4">*</text><text x="1644.6" y="1041.4">*</text><text x="1652.8" y="1041.4">*</text><text x="1665.6" y="1041.4">*</text><text x="1673.8" y="1041.4">*</text><text x="1686.6" y="1041.4">*</text><text x="1694.8" y="1041.4">*</text><text x="1707.6" y="1041.4">*</text><text x="1715.8" y="1041.4">*</text><text x="1732.7" y="1041.4">*</text><text x="1774.7" y="1041.4">*</text><text x="1858.7" y="1041.4">*</text><text x="1896.6" y="1041.4">*</text><text x="1904.8" y="1041.4">*</text><text x="1921.7" y="1041.4">*</text><text x="1963.7" y="1041.4">*</text><text x="1182.5" y="1064.2">*</text><text x="1190.7" y="1064.2">*</text><text x="1203.5" y="1064.2">*</text><text x="1211.7" y="1064.2">*</text><text x="1228.6" y="1064.2">*</text><text x="1245.5" y="1064.2">*</text><text x="1253.7" y="1064.2">*</text><text x="1266.5" y="1064.2">*</text><text x="1274.7" y="1064.2">*</text><text x="1287.5" y="1064.2">*</text><text x="1295.7" y="1064.2">*</text><text x="1308.5" y="1064.2">*</text><text x="1316.7" y="1064.2">*</text><text x="1333.6" y="1064.2">*</text><text x="1371.5" y="1064.2">*</text><text x="1379.7" y="1064.2">*</text><text x="1392.5" y="1064.2">*</text><text x="1400.7" y="1064.2">*</text><text x="1413.5" y="1064.2">*</text><text x="1421.7" y="1064.2">*</text><text x="1455.5" y="1064.2">*</text><text x="1463.8" y="1064.2">*</text><text x="1476.5" y="1064.2">*</text><text x="1484.8" y="1064.2">*</text><text x="1497.5" y="1064.2">*</text><text x="1505.8" y="1064.2">*</text><text x="1518.5" y="1064.2">*</text><text x="1526.8" y="1064.2">*</text><text x="1539.6" y="1064.2">*</text><text x="1547.8" y="1064.2">*</text><text x="1560.6" y="1064.2">*</text><text x="1568.8" y="1064.2">*</text><text x="1581.6" y="1064.2">*</text><text x="1589.8" y="1064.2">*</text><text x="1623.6" y="1064.2">*</text><text x="1631.8" y="1064.2">*</text><text x="1644.6" y="1064.2">*</text><text x="1652.8" y="1064.2">*</text><text x="1686.6" y="1064.2">*</text><text x="1694.8" y="1064.2">*</text><text x="1707.6" y="1064.2">*</text><text x="1715.8" y="1064.2">*</text><text x="1732.7" y="1064.2">*</text><text x="1791.6" y="1064.2">*</text><text x="1799.8" y="1064.2">*</text><text x="1833.6" y="1064.2">*</text><text x="1841.8" y="1064.2">*</text><text x="1854.6" y="1064.2">*</text><text x="1862.8" y="1064.2">*</text><text x="1203.5" y="1087.1">*</text><text x="1211.7" y="1087.1">*</text><text x="1245.5" y="1087.1">*</text><text x="1253.7" y="1087.1">*</text><text x="1266.5" y="1087.1">*</text><text x="1274.7" y="1087.1">*</text><text x="1287.5" y="1087.1">*</text><text x="1295.7" y="1087.1">*</text><text x="1308.5" y="1087.1">*</text><text x="1316.7" y="1087.1">*</text><text x="1350.5" y="1087.1">*</text><text x="1358.7" y="1087.1">*</text><text x="1371.5" y="1087.1">*</text><text x="1379.7" y="1087.1">*</text><text x="1413.5" y="1087.1">*</text><text x="1421.7" y="1087.1">*</text><text x="1455.5" y="1087.1">*</text><text x="1463.8" y="1087.1">*</text><text x="1476.5" y="1087.1">*</text><text x="1484.8" y="1087.1">*</text><text x="1497.5" y="1087.1">*</text><text x="1505.8" y="1087.1">*</text><text x="1518.5" y="1087.1">*</text><text x="1526.8" y="1087.1">*</text><text x="1539.6" y="1087.1">*</text><text x="1547.8" y="1087.1">*</text><text x="1560.6" y="1087.1">*</text><text x="1568.8" y="1087.1">*</text><text x="1581.6" y="1087.1">*</text><text x="1589.8" y="1087.1">*</text><text x="1623.6" y="1087.1">*</text><text x="1631.8" y="1087.1">*</text><text x="1644.6" y="1087.1">*</text><text x="1652.8" y="1087.1">*</text><text x="1669.7" y="1087.1">*</text><text x="1686.6" y="1087.1">*</text><text x="1694.8" y="1087.1">*</text><text x="1707.6" y="1087.1">*</text><text x="1715.8" y="1087.1">*</text><text x="1728.6" y="1087.1">*</text><text x="1736.8" y="1087.1">*</text><text x="1749.6" y="1087.1">*</text><text x="1757.8" y="1087.1">*</text><text x="1770.6" y="1087.1">*</text><text x="1778.8" y="1087.1">*</text><text x="1791.6" y="1087.1">*</text><text x="1799.8" y="1087.1">*</text><text x="1812.6" y="1087.1">*</text><text x="1820.8" y="1087.1">*</text><text x="1854.6" y="1087.1">*</text><text x="1862.8" y="1087.1">*</text><text x="1963.7" y="1087.1">*</text><text x="1182.5" y="1109.9">*</text><text x="1190.7" y="1109.9">*</text><text x="1203.5" y="1109.9">*</text><text x="1211.7" y="1109.9">*</text><text x="1228.6" y="1109.9">*</text><text x="1245.5" y="1109.9">*</text><text x="1253.7" y="1109.9">*</text><text x="1266.5" y="1109.9">*</text><text x="1274.7" y="1109.9">*</text><text x="1287.5" y="1109.9">*</text><text x="1295.7" y="1109.9">*</text><text x="1308.5" y="1109.9">*</text><text x="1316.7" y="1109.9">*</text><text x="1329.5" y="1109.9">*</text><text x="1337.7" y="1109.9">*</text><text x="1350.5" y="1109.9">*</text><text x="1358.7" y="1109.9">*</text><text x="1371.5" y="1109.9">*</text><text x="1379.7" y="1109.9">*</text><text x="1413.5" y="1109.9">*</text><text x="1421.7" y="1109.9">*</text><text x="1476.5" y="1109.9">*</text><text x="1484.8" y="1109.9">*</text><text x="1518.5" y="1109.9">*</text><text x="1526.8" y="1109.9">*</text><text x="1539.6" y="1109.9">*</text><text x="1547.8" y="1109.9">*</text><text x="1560.6" y="1109.9">*</text><text x="1568.8" y="1109.9">*</text><text x="1602.6" y="1109.9">*</text><text x="1610.8" y="1109.9">*</text><text x="1623.6" y="1109.9">*</text><text x="1631.8" y="1109.9">*</text><text x="1644.6" y="1109.9">*</text><text x="1652.8" y="1109.9">*</text><text x="1665.6" y="1109.9">*</text><text x="1673.8" y="1109.9">*</text><text x="1686.6" y="1109.9">*</text><text x="1694.8" y="1109.9">*</text><text x="1707.6" y="1109.9">*</text><text x="1715.8" y="1109.9">*</text><text x="1753.7" y="1109.9">*</text><text x="1770.6" y="1109.9">*</text><text x="1778.8" y="1109.9">*</text><text x="1791.6" y="1109.9">*</text><text x="1799.8" y="1109.9">*</text><text x="1833.6" y="1109.9">*</text><text x="1841.8" y="1109.9">*</text><text x="1854.6" y="1109.9">*</text><text x="1862.8" y="1109.9">*</text><text x="1959.6" y="1109.9">*</text><text x="1967.8" y="1109.9">*</text><text x="1182.5" y="1132.8">*</text><text x="1190.7" y="1132.8">*</text><text x="1203.5" y="1132.8">*</text><text x="1211.7" y="1132.8">*</text><text x="1228.6" y="1132.8">*</text><text x="1245.5" y="1132.8">*</text><text x="1253.7" y="1132.8">*</text><text x="1266.5" y="1132.8">*</text><text x="1274.7" y="1132.8">*</text><text x="1287.5" y="1132.8">*</text><text x="1295.7" y="1132.8">*</text><text x="1308.5" y="1132.8">*</text><text x="1316.7" y="1132.8">*</text><text x="1329.5" y="1132.8">*</text><text x="1337.7" y="1132.8">*</text><text x="1354.6" y="1132.8">*</text><text x="1371.5" y="1132.8">*</text><text x="1379.7" y="1132.8">*</text><text x="1392.5" y="1132.8">*</text><text x="1400.7" y="1132.8">*</text><text x="1413.5" y="1132.8">*</text><text x="1421.7" y="1132.8">*</text><text x="1438.6" y="1132.8">*</text><text x="1455.5" y="1132.8">*</text><text x="1463.8" y="1132.8">*</text><text x="1476.5" y="1132.8">*</text><text x="1484.8" y="1132.8">*</text><text x="1501.7" y="1132.8">*</text><text x="1518.5" y="1132.8">*</text><text x="1526.8" y="1132.8">*</text><text x="1539.6" y="1132.8">*</text><text x="1547.8" y="1132.8">*</text><text x="1560.6" y="1132.8">*</text><text x="1568.8" y="1132.8">*</text><text x="1602.6" y="1132.8">*</text><text x="1610.8" y="1132.8">*</text><text x="1623.6" y="1132.8">*</text><text x="1631.8" y="1132.8">*</text><text x="1644.6" y="1132.8">*</text><text x="1652.8" y="1132.8">*</text><text x="1665.6" y="1132.8">*</text><text x="1673.8" y="1132.8">*</text><text x="1686.6" y="1132.8">*</text><text x="1694.8" y="1132.8">*</text><text x="1707.6" y="1132.8">*</text><text x="1715.8" y="1132.8">*</text><text x="1728.6" y="1132.8">*</text><text x="1736.8" y="1132.8">*</text><text x="1749.6" y="1132.8">*</text><text x="1757.8" y="1132.8">*</text><text x="1770.6" y="1132.8">*</text><text x="1778.8" y="1132.8">*</text><text x="1854.6" y="1132.8">*</text><text x="1862.8" y="1132.8">*</text><text x="1875.6" y="1132.8">*</text><text x="1883.8" y="1132.8">*</text><text x="1963.7" y="1132.8">*</text><text x="1144.6" y="1155.7">*</text><text x="1182.5" y="1155.7">*</text><text x="1190.7" y="1155.7">*</text><text x="1203.5" y="1155.7">*</text><text x="1211.7" y="1155.7">*</text><text x="1224.5" y="1155.7">*</text><text x="1232.7" y="1155.7">*</text><text x="1245.5" y="1155.7">*</text><text x="1253.7" y="1155.7">*</text><text x="1266.5" y="1155.7">*</text><text x="1274.7" y="1155.7">*</text><text x="1287.5" y="1155.7">*</text><text x="1295.7" y="1155.7">*</text><text x="1308.5" y="1155.7">*</text><text x="1316.7" y="1155.7">*</text><text x="1329.5" y="1155.7">*</text><text x="1337.7" y="1155.7">*</text><text x="1350.5" y="1155.7">*</text><text x="1358.7" y="1155.7">*</text><text x="1371.5" y="1155.7">*</text><text x="1379.7" y="1155.7">*</text><text x="1413.5" y="1155.7">*</text><text x="1421.7" y="1155.7">*</text><text x="1438.6" y="1155.7">*</text><text x="1455.5" y="1155.7">*</text><text x="1463.8" y="1155.7">*</text><text x="1476.5" y="1155.7">*</text><text x="1484.8" y="1155.7">*</text><text x="1497.5" y="1155.7">*</text><text x="1505.8" y="1155.7">*</text><text x="1518.5" y="1155.7">*</text><text x="1526.8" y="1155.7">*</text><text x="1539.6" y="1155.7">*</text><text x="1547.8" y="1155.7">*</text><text x="1560.6" y="1155.7">*</text><text x="1568.8" y="1155.7">*</text><text x="1602.6" y="1155.7">*</text><text x="1610.8" y="1155.7">*</text><text x="1623.6" y="1155.7">*</text><text x="1631.8" y="1155.7">*</text><text x="1644.6" y="1155.7">*</text><text x="1652.8" y="1155.7">*</text><text x="1665.6" y="1155.7">*</text><text x="1673.8" y="1155.7">*</text><text x="1686.6" y="1155.7">*</text><text x="1694.8" y="1155.7">*</text><text x="1707.6" y="1155.7">*</text><text x="1715.8" y="1155.7">*</text><text x="1774.7" y="1155.7">*</text><text x="1791.6" y="1155.7">*</text><text x="1799.8" y="1155.7">*</text><text x="1812.6" y="1155.7">*</text><text x="1820.8" y="1155.7">*</text><text x="1837.7" y="1155.7">*</text><text x="1854.6" y="1155.7">*</text><text x="1862.8" y="1155.7">*</text><text x="1875.6" y="1155.7">*</text><text x="1883.8" y="1155.7">*</text><text x="1161.5" y="1178.5">*</text><text x="1169.7" y="1178.5">*</text><text x="1182.5" y="1178.5">*</text><text x="1190.7" y="1178.5">*</text><text x="1203.5" y="1178.5">*</text><text x="1211.7" y="1178.5">*</text><text x="1245.5" y="1178.5">*</text><text x="1253.7" y="1178.5">*</text><text x="1266.5" y="1178.5">*</text><text x="1274.7" y="1178.5">*</text><text x="1287.5" y="1178.5">*</text><text x="1295.7" y="1178.5">*</text><text x="1308.5" y="1178.5">*</text><text x="1316.7" y="1178.5">*</text><text x="1329.5" y="1178.5">*</text><text x="1337.7" y="1178.5">*</text><text x="1371.5" y="1178.5">*</text><text x="1379.7" y="1178.5">*</text><text x="1413.5" y="1178.5">*</text><text x="1421.7" y="1178.5">*</text><text x="1455.5" y="1178.5">*</text><text x="1463.8" y="1178.5">*</text><text x="1497.5" y="1178.5">*</text><text x="1505.8" y="1178.5">*</text><text x="1518.5" y="1178.5">*</text><text x="1526.8" y="1178.5">*</text><text x="1539.6" y="1178.5">*</text><text x="1547.8" y="1178.5">*</text><text x="1560.6" y="1178.5">*</text><text x="1568.8" y="1178.5">*</text><text x="1581.6" y="1178.5">*</text><text x="1589.8" y="1178.5">*</text><text x="1606.7" y="1178.5">*</text><text x="1623.6" y="1178.5">*</text><text x="1631.8" y="1178.5">*</text><text x="1644.6" y="1178.5">*</text><text x="1652.8" y="1178.5">*</text><text x="1665.6" y="1178.5">*</text><text x="1673.8" y="1178.5">*</text><text x="1686.6" y="1178.5">*</text><text x="1694.8" y="1178.5">*</text><text x="1707.6" y="1178.5">*</text><text x="1715.8" y="1178.5">*</text><text x="1732.7" y="1178.5">*</text><text x="1774.7" y="1178.5">*</text><text x="1795.7" y="1178.5">*</text><text x="1816.7" y="1178.5">*</text><text x="1854.6" y="1178.5">*</text><text x="1862.8" y="1178.5">*</text><text x="1875.6" y="1178.5">*</text><text x="1883.8" y="1178.5">*</text><text x="1959.6" y="1178.5">*</text><text x="1967.8" y="1178.5">*</text><text x="1165.6" y="1201.4">*</text><text x="1182.5" y="1201.4">*</text><text x="1190.7" y="1201.4">*</text><text x="1203.5" y="1201.4">*</text><text x="1211.7" y="1201.4">*</text><text x="1245.5" y="1201.4">*</text><text x="1253.7" y="1201.4">*</text><text x="1266.5" y="1201.4">*</text><text x="1274.7" y="1201.4">*</text><text x="1287.5" y="1201.4">*</text><text x="1295.7" y="1201.4">*</text><text x="1308.5" y="1201.4">*</text><text x="1316.7" y="1201.4">*</text><text x="1329.5" y="1201.4">*</text><text x="1337.7" y="1201.4">*</text><text x="1371.5" y="1201.4">*</text><text x="1379.7" y="1201.4">*</text><text x="1396.6" y="1201.4">*</text><text x="1413.5" y="1201.4">*</text><text x="1421.7" y="1201.4">*</text><text x="1434.5" y="1201.4">*</text><text x="1442.7" y="1201.4">*</text><text x="1455.5" y="1201.4">*</text><text x="1463.8" y="1201.4">*</text><text x="1476.5" y="1201.4">*</text><text x="1484.8" y="1201.4">*</text><text x="1497.5" y="1201.4">*</text><text x="1505.8" y="1201.4">*</text><text x="1518.5" y="1201.4">*</text><text x="1526.8" y="1201.4">*</text><text x="1539.6" y="1201.4">*</text><text x="1547.8" y="1201.4">*</text><text x="1560.6" y="1201.4">*</text><text x="1568.8" y="1201.4">*</text><text x="1581.6" y="1201.4">*</text><text x="1589.8" y="1201.4">*</text><text x="1606.7" y="1201.4">*</text><text x="1623.6" y="1201.4">*</text><text x="1631.8" y="1201.4">*</text><text x="1648.7" y="1201.4">*</text><text x="1665.6" y="1201.4">*</text><text x="1673.8" y="1201.4">*</text><text x="1686.6" y="1201.4">*</text><text x="1694.8" y="1201.4">*</text><text x="1707.6" y="1201.4">*</text><text x="1715.8" y="1201.4">*</text><text x="1728.6" y="1201.4">*</text><text x="1736.8" y="1201.4">*</text><text x="1749.6" y="1201.4">*</text><text x="1757.8" y="1201.4">*</text><text x="1770.6" y="1201.4">*</text><text x="1778.8" y="1201.4">*</text><text x="1791.6" y="1201.4">*</text><text x="1799.8" y="1201.4">*</text><text x="1816.7" y="1201.4">*</text><text x="1854.6" y="1201.4">*</text><text x="1862.8" y="1201.4">*</text><text x="1875.6" y="1201.4">*</text><text x="1883.8" y="1201.4">*</text><text x="1917.6" y="1201.4">*</text><text x="1925.8" y="1201.4">*</text><text x="1942.7" y="1201.4">*</text></g>
<text x="1073.3" y="648.2" font-size="17.5" font-weight="bold" text-anchor="end">CCR9</text>
<text x="1073.3" y="667.0" font-size="17.5" font-weight="bold" text-anchor="end">CCR3</text>
<text x="1073.3" y="685.7" font-size="17.5" font-weight="bold" text-anchor="end">CCR8</text>
<text x="1073.3" y="704.5" font-size="17.5" font-weight="bold" text-anchor="end">CCR10</text>
<text x="1073.3" y="723.2" font-size="17.5" font-weight="bold" text-anchor="end">CXCR1</text>
<text x="1073.3" y="742.0" font-size="17.5" font-weight="bold" text-anchor="end">CXCR2</text>
<text x="1073.3" y="760.7" font-size="17.5" font-weight="bold" text-anchor="end">CXCR5</text>
<text x="1073.3" y="779.5" font-size="17.5" font-weight="bold" text-anchor="end">CX3CR1</text>
<text x="1073.3" y="798.2" font-size="17.5" font-weight="bold" text-anchor="end">CXCR3</text>
<text x="1073.3" y="817.0" font-size="17.5" font-weight="bold" text-anchor="end">CXCR6</text>
<text x="1073.3" y="835.7" font-size="17.5" font-weight="bold" text-anchor="end">CCR6</text>
<text x="1073.3" y="854.5" font-size="17.5" font-weight="bold" text-anchor="end">XCR1</text>
<text x="1073.3" y="873.2" font-size="17.5" font-weight="bold" text-anchor="end">CXCR4</text>
<text x="1073.3" y="892.0" font-size="17.5" font-weight="bold" text-anchor="end">CCR1</text>
<text x="1073.3" y="910.7" font-size="17.5" font-weight="bold" text-anchor="end">CCR2</text>
<text x="1073.3" y="929.5" font-size="17.5" font-weight="bold" text-anchor="end">CCR5</text>
<text x="1073.3" y="948.2" font-size="17.5" font-weight="bold" text-anchor="end">CCR4</text>
<text x="1073.3" y="967.0" font-size="17.5" font-weight="bold" text-anchor="end">CCR7</text>
<text transform="translate(1089.5,967.8) rotate(-90)" font-size="17.3" font-weight="bold" text-anchor="end">TCGA</text>
<text transform="translate(1109.5,967.8) rotate(-90)" font-size="17.3" font-weight="bold" text-anchor="end">ALL</text>
<text transform="translate(1129.5,967.8) rotate(-90)" font-size="17.3" font-weight="bold" text-anchor="end">THCA</text>
<text transform="translate(1149.5,967.8) rotate(-90)" font-size="17.3" font-weight="bold" text-anchor="end">KIPAN</text>
<text transform="translate(1169.5,967.8) rotate(-90)" font-size="17.3" font-weight="bold" text-anchor="end">DLBC</text>
<text transform="translate(1189.5,967.8) rotate(-90)" font-size="17.3" font-weight="bold" text-anchor="end">NB</text>
<text transform="translate(1209.5,967.8) rotate(-90)" font-size="17.3" font-weight="bold" text-anchor="end">READ</text>
<text transform="translate(1229.5,967.8) rotate(-90)" font-size="17.3" font-weight="bold" text-anchor="end">COAD</text>
<text transform="translate(1249.5,967.8) rotate(-90)" font-size="17.3" font-weight="bold" text-anchor="end">COADREAD</text>
<text transform="translate(1269.5,967.8) rotate(-90)" font-size="17.3" font-weight="bold" text-anchor="end">ACC</text>
<text transform="translate(1289.5,967.8) rotate(-90)" font-size="17.3" font-weight="bold" text-anchor="end">KICH</text>
<text transform="translate(1309.5,967.8) rotate(-90)" font-size="17.3" font-weight="bold" text-anchor="end">PRAD</text>
<text transform="translate(1329.5,967.8) rotate(-90)" font-size="17.3" font-weight="bold" text-anchor="end">CHOL</text>
<text transform="translate(1349.5,967.8) rotate(-90)" font-size="17.3" font-weight="bold" text-anchor="end">KIRP</text>
<text transform="translate(1369.5,967.8) rotate(-90)" font-size="17.3" font-weight="bold" text-anchor="end">UCEC</text>
<text transform="translate(1389.5,967.8) rotate(-90)" font-size="17.3" font-weight="bold" text-anchor="end">BRCA</text>
<text transform="translate(1409.5,967.8) rotate(-90)" font-size="17.3" font-weight="bold" text-anchor="end">LUAD</text>
<text transform="translate(1429.5,967.8) rotate(-90)" font-size="17.3" font-weight="bold" text-anchor="end">PAAD</text>
<text transform="translate(1449.5,967.8) rotate(-90)" font-size="17.3" font-weight="bold" text-anchor="end">STAD</text>
<text transform="translate(1469.5,967.8) rotate(-90)" font-size="17.3" font-weight="bold" text-anchor="end">STES</text>
<text transform="translate(1489.5,967.8) rotate(-90)" font-size="17.3" font-weight="bold" text-anchor="end">LIHC</text>
<text transform="translate(1509.5,967.8) rotate(-90)" font-size="17.3" font-weight="bold" text-anchor="end">SARC</text>
<text transform="translate(1529.5,967.8) rotate(-90)" font-size="17.3" font-weight="bold" text-anchor="end">CESC</text>
<text transform="translate(1549.5,967.8) rotate(-90)" font-size="17.3" font-weight="bold" text-anchor="end">OV</text>
<text transform="translate(1569.5,967.8) rotate(-90)" font-size="17.3" font-weight="bold" text-anchor="end">BLCA</text>
<text transform="translate(1589.5,967.8) rotate(-90)" font-size="17.3" font-weight="bold" text-anchor="end">ESCA</text>
<text transform="translate(1609.5,967.8) rotate(-90)" font-size="17.3" font-weight="bold" text-anchor="end">HNSC</text>
<text transform="translate(1629.5,967.8) rotate(-90)" font-size="17.3" font-weight="bold" text-anchor="end">LUSC</text>
<text transform="translate(1649.5,967.8) rotate(-90)" font-size="17.3" font-weight="bold" text-anchor="end">KIRC</text>
<text transform="translate(1669.5,967.8) rotate(-90)" font-size="17.3" font-weight="bold" text-anchor="end">PCPG</text>
<text transform="translate(1689.5,967.8) rotate(-90)" font-size="17.3" font-weight="bold" text-anchor="end">UVM</text>
<text transform="translate(1709.5,967.8) rotate(-90)" font-size="17.3" font-weight="bold" text-anchor="end">WT</text>
<text transform="translate(1729.5,967.8) rotate(-90)" font-size="17.3" font-weight="bold" text-anchor="end">THYM</text>
<text transform="translate(1749.5,967.8) rotate(-90)" font-size="17.3" font-weight="bold" text-anchor="end">UCS</text>
<text transform="translate(1769.5,967.8) rotate(-90)" font-size="17.3" font-weight="bold" text-anchor="end">GBMLGG</text>
<text transform="translate(1789.5,967.8) rotate(-90)" font-size="17.3" font-weight="bold" text-anchor="end">LGG</text>
<text transform="translate(1809.5,967.8) rotate(-90)" font-size="17.3" font-weight="bold" text-anchor="end">MESO</text>
<text transform="translate(1829.5,967.8) rotate(-90)" font-size="17.3" font-weight="bold" text-anchor="end">SKCM</text>
<text transform="translate(1849.5,967.8) rotate(-90)" font-size="17.3" font-weight="bold" text-anchor="end">GBM</text>
<text transform="translate(1869.5,967.8) rotate(-90)" font-size="17.3" font-weight="bold" text-anchor="end">LAML</text>
<text x="1886.0" y="704.6" font-size="18" font-weight="bold">* p &lt; 0.05</text>
<text x="1886.5" y="729.2" font-size="18" font-weight="bold">** p &lt; 0.01</text>
<text x="1881.8" y="754.9" font-size="18" font-weight="bold">Cor</text>
<defs><linearGradient id="gb2" x1="0" y1="0" x2="0" y2="1"><stop offset="0" stop-color="#E64B35"/><stop offset="0.25" stop-color="#F39A88"/><stop offset="0.5" stop-color="#FFFFFF"/><stop offset="0.75" stop-color="#A3D9E8"/><stop offset="1" stop-color="#4DBBD5"/></linearGradient></defs>
<rect x="1884.9" y="766.7" width="17.3" height="83.0" fill="url(#gb2)"/>
<text x="1909.5" y="775.9" font-size="18" font-weight="bold">1.0</text>
<text x="1909.5" y="796.3" font-size="18" font-weight="bold">0.5</text>
<text x="1909.5" y="816.7" font-size="18" font-weight="bold">0.0</text>
<text x="1909.5" y="835.1" font-size="18" font-weight="bold">−0.5</text>
<text x="1909.5" y="858.1" font-size="18" font-weight="bold">−1.0</text>
<text x="1467.3" y="1070.0" font-size="26.5" font-weight="bold" textLength="83.6" lengthAdjust="spacingAndGlyphs">SOX18</text>
<line x1="182.3" y1="1124.3" x2="436.2" y2="1124.3" stroke="#e6e6e6" stroke-width="1"/><line x1="182.3" y1="1141.0" x2="436.2" y2="1141.0" stroke="#e6e6e6" stroke-width="1"/><line x1="182.3" y1="1157.8" x2="436.2" y2="1157.8" stroke="#e6e6e6" stroke-width="1"/><line x1="182.3" y1="1174.5" x2="436.2" y2="1174.5" stroke="#e6e6e6" stroke-width="1"/><line x1="182.3" y1="1191.3" x2="436.2" y2="1191.3" stroke="#e6e6e6" stroke-width="1"/><line x1="182.3" y1="1208.0" x2="436.2" y2="1208.0" stroke="#e6e6e6" stroke-width="1"/><line x1="182.3" y1="1224.7" x2="436.2" y2="1224.7" stroke="#e6e6e6" stroke-width="1"/><line x1="182.3" y1="1241.5" x2="436.2" y2="1241.5" stroke="#e6e6e6" stroke-width="1"/><line x1="182.3" y1="1258.2" x2="436.2" y2="1258.2" stroke="#e6e6e6" stroke-width="1"/><line x1="182.3" y1="1275.0" x2="436.2" y2="1275.0" stroke="#e6e6e6" stroke-width="1"/><line x1="182.3" y1="1291.7" x2="436.2" y2="1291.7" stroke="#e6e6e6" stroke-width="1"/><line x1="182.3" y1="1308.4" x2="436.2" y2="1308.4" stroke="#e6e6e6" stroke-width="1"/><line x1="182.3" y1="1325.2" x2="436.2" y2="1325.2" stroke="#e6e6e6" stroke-width="1"/><line x1="182.3" y1="1341.9" x2="436.2" y2="1341.9" stroke="#e6e6e6" stroke-width="1"/><line x1="182.3" y1="1358.7" x2="436.2" y2="1358.7" stroke="#e6e6e6" stroke-width="1"/><line x1="182.3" y1="1375.4" x2="436.2" y2="1375.4" stroke="#e6e6e6" stroke-width="1"/><line x1="182.3" y1="1392.1" x2="436.2" y2="1392.1" stroke="#e6e6e6" stroke-width="1"/><line x1="182.3" y1="1408.9" x2="436.2" y2="1408.9" stroke="#e6e6e6" stroke-width="1"/><line x1="182.3" y1="1425.6" x2="436.2" y2="1425.6" stroke="#e6e6e6" stroke-width="1"/><line x1="182.3" y1="1442.4" x2="436.2" y2="1442.4" stroke="#e6e6e6" stroke-width="1"/><line x1="182.3" y1="1459.1" x2="436.2" y2="1459.1" stroke="#e6e6e6" stroke-width="1"/><line x1="182.3" y1="1475.8" x2="436.2" y2="1475.8" stroke="#e6e6e6" stroke-width="1"/><line x1="182.3" y1="1492.6" x2="436.2" y2="1492.6" stroke="#e6e6e6" stroke-width="1"/><line x1="182.3" y1="1509.3" x2="436.2" y2="1509.3" stroke="#e6e6e6" stroke-width="1"/><line x1="182.3" y1="1526.1" x2="436.2" y2="1526.1" stroke="#e6e6e6" stroke-width="1"/><line x1="182.3" y1="1542.8" x2="436.2" y2="1542.8" stroke="#e6e6e6" stroke-width="1"/><line x1="182.3" y1="1559.5" x2="436.2" y2="1559.5" stroke="#e6e6e6" stroke-width="1"/><line x1="182.3" y1="1576.3" x2="436.2" y2="1576.3" stroke="#e6e6e6" stroke-width="1"/><line x1="182.3" y1="1593.0" x2="436.2" y2="1593.0" stroke="#e6e6e6" stroke-width="1"/><line x1="182.3" y1="1609.8" x2="436.2" y2="1609.8" stroke="#e6e6e6" stroke-width="1"/><line x1="182.3" y1="1626.5" x2="436.2" y2="1626.5" stroke="#e6e6e6" stroke-width="1"/><line x1="182.3" y1="1643.2" x2="436.2" y2="1643.2" stroke="#e6e6e6" stroke-width="1"/><line x1="182.3" y1="1660.0" x2="436.2" y2="1660.0" stroke="#e6e6e6" stroke-width="1"/><line x1="182.3" y1="1676.7" x2="436.2" y2="1676.7" stroke="#e6e6e6" stroke-width="1"/><line x1="182.3" y1="1693.5" x2="436.2" y2="1693.5" stroke="#e6e6e6" stroke-width="1"/><line x1="182.3" y1="1710.2" x2="436.2" y2="1710.2" stroke="#e6e6e6" stroke-width="1"/><line x1="182.3" y1="1726.9" x2="436.2" y2="1726.9" stroke="#e6e6e6" stroke-width="1"/><line x1="236.7" y1="1107.3" x2="236.7" y2="1742.5" stroke="#dedede" stroke-width="1"/><line x1="377.2" y1="1107.3" x2="377.2" y2="1742.5" stroke="#dedede" stroke-width="1"/><line x1="306.8" y1="1107.3" x2="306.8" y2="1742.5" stroke="#8a8a8a" stroke-width="2" stroke-dasharray="3,2"/>
<line x1="306.8" y1="1124.3" x2="187.3" y2="1124.3" stroke="#FCE4E4" stroke-width="2.2"/><line x1="306.8" y1="1141.0" x2="187.3" y2="1141.0" stroke="#F06060" stroke-width="2.2"/><line x1="306.8" y1="1157.8" x2="225.3" y2="1157.8" stroke="#F06060" stroke-width="2.2"/><line x1="306.8" y1="1174.5" x2="244.3" y2="1174.5" stroke="#F03030" stroke-width="2.2"/><line x1="306.8" y1="1191.3" x2="255.2" y2="1191.3" stroke="#F04848" stroke-width="2.2"/><line x1="306.8" y1="1208.0" x2="266.6" y2="1208.0" stroke="#F8B8B8" stroke-width="2.2"/><line x1="306.8" y1="1224.7" x2="270.9" y2="1224.7" stroke="#F0F0FA" stroke-width="2.2"/><line x1="306.8" y1="1241.5" x2="274.7" y2="1241.5" stroke="#F8A8A8" stroke-width="2.2"/><line x1="306.8" y1="1258.2" x2="277.7" y2="1258.2" stroke="#F8B8B8" stroke-width="2.2"/><line x1="306.8" y1="1275.0" x2="279.2" y2="1275.0" stroke="#F8A8A8" stroke-width="2.2"/><line x1="306.8" y1="1291.7" x2="281" y2="1291.7" stroke="#C8C8F8" stroke-width="2.2"/><line x1="306.8" y1="1308.4" x2="283" y2="1308.4" stroke="#F08888" stroke-width="2.2"/><line x1="306.8" y1="1325.2" x2="284" y2="1325.2" stroke="#EAEAFA" stroke-width="2.2"/><line x1="306.8" y1="1341.9" x2="286" y2="1341.9" stroke="#FBE8E8" stroke-width="2.2"/><line x1="306.8" y1="1358.7" x2="288.6" y2="1358.7" stroke="#F6F6FC" stroke-width="2.2"/><line x1="306.8" y1="1375.4" x2="289.9" y2="1375.4" stroke="#F8B8B8" stroke-width="2.2"/><line x1="306.8" y1="1392.1" x2="295" y2="1392.1" stroke="#FDF8F8" stroke-width="2.2"/><line x1="306.8" y1="1408.9" x2="294.4" y2="1408.9" stroke="#9999EE" stroke-width="2.2"/><line x1="306.8" y1="1425.6" x2="295" y2="1425.6" stroke="#DCDCF8" stroke-width="2.2"/><line x1="306.8" y1="1442.4" x2="299.5" y2="1442.4" stroke="#C8C8F5" stroke-width="2.2"/><line x1="306.8" y1="1459.1" x2="302" y2="1459.1" stroke="#A8A8F2" stroke-width="2.2"/><line x1="306.8" y1="1475.8" x2="303" y2="1475.8" stroke="#6666EE" stroke-width="2.2"/><line x1="306.8" y1="1492.6" x2="305.6" y2="1492.6" stroke="#4444EE" stroke-width="2.2"/><line x1="306.8" y1="1509.3" x2="305.8" y2="1509.3" stroke="#2020EE" stroke-width="2.2"/><line x1="306.8" y1="1526.1" x2="307.6" y2="1526.1" stroke="#3535EE" stroke-width="2.2"/><line x1="306.8" y1="1542.8" x2="307.6" y2="1542.8" stroke="#4848EE" stroke-width="2.2"/><line x1="306.8" y1="1559.5" x2="309.6" y2="1559.5" stroke="#8888F0" stroke-width="2.2"/><line x1="306.8" y1="1576.3" x2="310" y2="1576.3" stroke="#7878F0" stroke-width="2.2"/><line x1="306.8" y1="1593.0" x2="310.9" y2="1593.0" stroke="#5555EE" stroke-width="2.2"/><line x1="306.8" y1="1609.8" x2="310.9" y2="1609.8" stroke="#9898F0" stroke-width="2.2"/><line x1="306.8" y1="1626.5" x2="311.4" y2="1626.5" stroke="#AAAAF2" stroke-width="2.2"/><line x1="306.8" y1="1643.2" x2="320.3" y2="1643.2" stroke="#DADAF8" stroke-width="2.2"/><line x1="306.8" y1="1660.0" x2="321" y2="1660.0" stroke="#F8A8A8" stroke-width="2.2"/><line x1="306.8" y1="1676.7" x2="329" y2="1676.7" stroke="#F8A0A0" stroke-width="2.2"/><line x1="306.8" y1="1693.5" x2="336.7" y2="1693.5" stroke="#F04848" stroke-width="2.2"/><line x1="306.8" y1="1710.2" x2="344.8" y2="1710.2" stroke="#F8A0A0" stroke-width="2.2"/><line x1="306.8" y1="1726.9" x2="349.4" y2="1726.9" stroke="#F02020" stroke-width="2.2"/><ellipse cx="187.3" cy="1124.3" rx="2.5" ry="3" fill="#FCE4E4"/><ellipse cx="187.3" cy="1141.0" rx="2.8" ry="3.2" fill="#F06060"/><ellipse cx="225.3" cy="1157.8" rx="3" ry="3.5" fill="#F06060"/><ellipse cx="244.3" cy="1174.5" rx="3.5" ry="4" fill="#F03030"/><ellipse cx="255.2" cy="1191.3" rx="3.5" ry="4" fill="#F04848"/><ellipse cx="266.6" cy="1208.0" rx="3" ry="3.5" fill="#F8B8B8"/><ellipse cx="270.9" cy="1224.7" rx="2.5" ry="3" fill="#F0F0FA"/><ellipse cx="274.7" cy="1241.5" rx="3.5" ry="4.5" fill="#F8A8A8"/><ellipse cx="277.7" cy="1258.2" rx="3.5" ry="4" fill="#F8B8B8"/><ellipse cx="279.2" cy="1275.0" rx="4" ry="4.5" fill="#F8A8A8"/><ellipse cx="281" cy="1291.7" rx="2.5" ry="3" fill="#C8C8F8"/><ellipse cx="283" cy="1308.4" rx="6" ry="8" fill="#F08888"/><ellipse cx="284" cy="1325.2" rx="3" ry="3.5" fill="#EAEAFA"/><ellipse cx="286" cy="1341.9" rx="3.5" ry="4" fill="#FBE8E8"/><ellipse cx="288.6" cy="1358.7" rx="3.5" ry="4" fill="#F6F6FC"/><ellipse cx="289.9" cy="1375.4" rx="6.5" ry="8.5" fill="#F8B8B8"/><ellipse cx="295" cy="1392.1" rx="5.5" ry="7" fill="#FDF8F8"/><ellipse cx="294.4" cy="1408.9" rx="2.5" ry="3" fill="#9999EE"/><ellipse cx="295" cy="1425.6" rx="3.5" ry="4.5" fill="#DCDCF8"/><ellipse cx="299.5" cy="1442.4" rx="5" ry="6.5" fill="#C8C8F5"/><ellipse cx="302" cy="1459.1" rx="5.5" ry="7" fill="#A8A8F2"/><ellipse cx="303" cy="1475.8" rx="3" ry="3.5" fill="#6666EE"/><ellipse cx="305.6" cy="1492.6" rx="4.5" ry="5" fill="#4444EE"/><ellipse cx="305.8" cy="1509.3" rx="2.5" ry="3" fill="#2020EE"/><ellipse cx="307.6" cy="1526.1" rx="5" ry="6" fill="#3535EE"/><ellipse cx="307.6" cy="1542.8" rx="5.5" ry="7" fill="#4848EE"/><ellipse cx="309.6" cy="1559.5" rx="6" ry="7.5" fill="#8888F0"/><ellipse cx="310" cy="1576.3" rx="4" ry="5" fill="#7878F0"/><ellipse cx="310.9" cy="1593.0" rx="3" ry="3.5" fill="#5555EE"/><ellipse cx="310.9" cy="1609.8" rx="4.5" ry="5.5" fill="#9898F0"/><ellipse cx="311.4" cy="1626.5" rx="5" ry="6.5" fill="#AAAAF2"/><ellipse cx="320.3" cy="1643.2" rx="3.5" ry="4" fill="#DADAF8"/><ellipse cx="321" cy="1660.0" rx="9.5" ry="12" fill="#F8A8A8"/><ellipse cx="329" cy="1676.7" rx="5.5" ry="7" fill="#F8A0A0"/><ellipse cx="336.7" cy="1693.5" rx="7" ry="9" fill="#F04848"/><ellipse cx="344.8" cy="1710.2" rx="3.5" ry="4" fill="#F8A0A0"/><ellipse cx="349.4" cy="1726.9" rx="6" ry="7.5" fill="#F02020"/>
<rect x="182.3" y="1107.3" width="253.9" height="635.2" fill="none" stroke="#000" stroke-width="2"/>
<path d="M176.3 1124.3H182.3M176.3 1141.0H182.3M176.3 1157.8H182.3M176.3 1174.5H182.3M176.3 1191.3H182.3M176.3 1208.0H182.3M176.3 1224.7H182.3M176.3 1241.5H182.3M176.3 1258.2H182.3M176.3 1275.0H182.3M176.3 1291.7H182.3M176.3 1308.4H182.3M176.3 1325.2H182.3M176.3 1341.9H182.3M176.3 1358.7H182.3M176.3 1375.4H182.3M176.3 1392.1H182.3M176.3 1408.9H182.3M176.3 1425.6H182.3M176.3 1442.4H182.3M176.3 1459.1H182.3M176.3 1475.8H182.3M176.3 1492.6H182.3M176.3 1509.3H182.3M176.3 1526.1H182.3M176.3 1542.8H182.3M176.3 1559.5H182.3M176.3 1576.3H182.3M176.3 1593.0H182.3M176.3 1609.8H182.3M176.3 1626.5H182.3M176.3 1643.2H182.3M176.3 1660.0H182.3M176.3 1676.7H182.3M176.3 1693.5H182.3M176.3 1710.2H182.3M176.3 1726.9H182.3" stroke="#000" stroke-width="2"/>
<path d="M181.8 1742.5V1748.5M236.7 1742.5V1748.5M306.8 1742.5V1748.5M377.2 1742.5V1748.5M436.2 1742.5V1748.5" stroke="#000" stroke-width="2"/>
<text x="179.2" y="1765.9" font-size="17.5" font-weight="bold" text-anchor="middle" textLength="25.8" lengthAdjust="spacingAndGlyphs">-0.4</text>
<text x="236.1" y="1765.9" font-size="17.5" font-weight="bold" text-anchor="middle" textLength="26.0" lengthAdjust="spacingAndGlyphs">-0.2</text>
<text x="306.3" y="1765.9" font-size="17.5" font-weight="bold" text-anchor="middle" textLength="20.3" lengthAdjust="spacingAndGlyphs">0.0</text>
<text x="376.6" y="1765.9" font-size="17.5" font-weight="bold" text-anchor="middle" textLength="21.5" lengthAdjust="spacingAndGlyphs">0.2</text>
<text x="434.7" y="1765.9" font-size="17.5" font-weight="bold" text-anchor="middle" textLength="21.5" lengthAdjust="spacingAndGlyphs">0.4</text>
<text x="172.2" y="1126.8" font-size="17" font-weight="bold" text-anchor="end">LAML(N=9)</text>
<text x="172.2" y="1143.7" font-size="17" font-weight="bold" text-anchor="end">DLBC(N=27)</text>
<text x="172.2" y="1160.6" font-size="17" font-weight="bold" text-anchor="end">UCS(N=56)</text>
<text x="172.2" y="1177.5" font-size="17" font-weight="bold" text-anchor="end">KIRP(N=142)</text>
<text x="172.2" y="1194.4" font-size="17" font-weight="bold" text-anchor="end">UCEC(N=135)</text>
<text x="172.2" y="1211.3" font-size="17" font-weight="bold" text-anchor="end">SKCM(N=89)</text>
<text x="172.2" y="1228.2" font-size="17" font-weight="bold" text-anchor="end">UVM(N=41)</text>
<text x="172.2" y="1245.1" font-size="17" font-weight="bold" text-anchor="end">ESCA(N=178)</text>
<text x="172.2" y="1262.0" font-size="17" font-weight="bold" text-anchor="end">LIHC(N=161)</text>
<text x="172.2" y="1278.9" font-size="17" font-weight="bold" text-anchor="end">SARC(N=225)</text>
<text x="172.2" y="1295.8" font-size="17" font-weight="bold" text-anchor="end">CHOL(N=35)</text>
<text x="172.2" y="1312.8" font-size="17" font-weight="bold" text-anchor="end">HNSC(N=486)</text>
<text x="172.2" y="1329.7" font-size="17" font-weight="bold" text-anchor="end">MESO(N=82)</text>
<text x="172.2" y="1346.6" font-size="17" font-weight="bold" text-anchor="end">PCPG(N=170)</text>
<text x="172.2" y="1363.5" font-size="17" font-weight="bold" text-anchor="end">PAAD(N=165)</text>
<text x="172.2" y="1380.4" font-size="17" font-weight="bold" text-anchor="end">STES(N=570)</text>
<text x="172.2" y="1397.3" font-size="17" font-weight="bold" text-anchor="end">STAD(N=392)</text>
<text x="172.2" y="1414.2" font-size="17" font-weight="bold" text-anchor="end">ACC(N=46)</text>
<text x="172.2" y="1431.1" font-size="17" font-weight="bold" text-anchor="end">CESC(N=199)</text>
<text x="172.2" y="1448.0" font-size="17" font-weight="bold" text-anchor="end">BLCA(N=360)</text>
<text x="172.2" y="1464.9" font-size="17" font-weight="bold" text-anchor="end">LUAD(N=459)</text>
<text x="172.2" y="1481.8" font-size="17" font-weight="bold" text-anchor="end">THYM(N=87)</text>
<text x="172.2" y="1498.7" font-size="17" font-weight="bold" text-anchor="end">OV(N=271)</text>
<text x="172.2" y="1515.6" font-size="17" font-weight="bold" text-anchor="end">KICH(N=49)</text>
<text x="172.2" y="1532.5" font-size="17" font-weight="bold" text-anchor="end">KIRC(N=330)</text>
<text x="172.2" y="1549.4" font-size="17" font-weight="bold" text-anchor="end">THCA(N=434)</text>
<text x="172.2" y="1566.3" font-size="17" font-weight="bold" text-anchor="end">KIPAN(N=521)</text>
<text x="172.2" y="1583.2" font-size="17" font-weight="bold" text-anchor="end">PRAD(N=254)</text>
<text x="172.2" y="1600.1" font-size="17" font-weight="bold" text-anchor="end">READ(N=87)</text>
<text x="172.2" y="1617.0" font-size="17" font-weight="bold" text-anchor="end">COAD(N=269)</text>
<text x="172.2" y="1634.0" font-size="17" font-weight="bold" text-anchor="end">COADREAD(N=356)</text>
<text x="172.2" y="1650.9" font-size="17" font-weight="bold" text-anchor="end">GBM(N=149)</text>
<text x="172.2" y="1667.8" font-size="17" font-weight="bold" text-anchor="end">BRCA(N=976)</text>
<text x="172.2" y="1684.7" font-size="17" font-weight="bold" text-anchor="end">LUSC(N=422)</text>
<text x="172.2" y="1701.6" font-size="17" font-weight="bold" text-anchor="end">GBMLGG(N=650)</text>
<text x="172.2" y="1718.5" font-size="17" font-weight="bold" text-anchor="end">TGCT(N=137)</text>
<text x="172.2" y="1735.4" font-size="17" font-weight="bold" text-anchor="end">LGG(N=501)</text>
<text x="222.8" y="1802.8" font-size="24.5" font-weight="bold" textLength="138.0" lengthAdjust="spacingAndGlyphs">SOX11-TMB</text>
<text x="440.9" y="1102.0" font-size="17" font-weight="bold">Samplesize</text>
<ellipse cx="446.1" cy="1129.7" rx="2.3" ry="2.3" fill="#000"/>
<ellipse cx="446.1" cy="1156.1" rx="4.2" ry="4.4" fill="#000"/>
<ellipse cx="446.1" cy="1183.4" rx="5.5" ry="6.5" fill="#000"/>
<ellipse cx="446.1" cy="1210.4" rx="6.5" ry="7.5" fill="#000"/>
<ellipse cx="446.1" cy="1252.3" rx="8.2" ry="10.5" fill="#000"/>
<ellipse cx="446.1" cy="1282.3" rx="9.6" ry="12.4" fill="#000"/>
<path d="M469.5 1129.7H463.5V1261.3H469.5M463.5 1156.5H469.5M463.5 1183.1H469.5M463.5 1210.4H469.5M463.5 1237.7H469.5" stroke="#000" stroke-width="1.6" fill="none"/>
<text x="476.5" y="1161.5" font-size="14" font-weight="bold" textLength="22.5" lengthAdjust="spacingAndGlyphs">200</text>
<text x="476.5" y="1188.1" font-size="14" font-weight="bold" textLength="22.5" lengthAdjust="spacingAndGlyphs">400</text>
<text x="476.5" y="1215.4" font-size="14" font-weight="bold" textLength="22.5" lengthAdjust="spacingAndGlyphs">600</text>
<text x="476.5" y="1242.7" font-size="14" font-weight="bold" textLength="22.5" lengthAdjust="spacingAndGlyphs">800</text>
<text x="447.2" y="1306.8" font-size="11.5" font-weight="bold" textLength="36.3" lengthAdjust="spacingAndGlyphs">pValue</text>
<defs><linearGradient id="gc1" x1="0" y1="0" x2="0" y2="1"><stop offset="0" stop-color="#FF0000"/><stop offset="0.045" stop-color="#FF0000"/><stop offset="0.055" stop-color="#F04848"/><stop offset="0.5" stop-color="#FFFFFF"/><stop offset="0.945" stop-color="#5050F0"/><stop offset="0.955" stop-color="#0000FF"/><stop offset="1" stop-color="#0000FF"/></linearGradient></defs>
<rect x="440.1" y="1318.6" width="19.3" height="133.5" fill="url(#gc1)"/>
<path d="M459.4 1315.2V1446.9M459.4 1315.2H464.4M459.4 1341H464.4M459.4 1367.6H464.4M459.4 1394H464.4M459.4 1420.7H464.4M459.4 1446.9H464.4" stroke="#000" stroke-width="1.2" fill="none"/>
<text x="469.8" y="1320.2" font-size="14" font-weight="bold" textLength="14.3" lengthAdjust="spacingAndGlyphs">0.0</text>
<text x="469.8" y="1346.0" font-size="14" font-weight="bold" textLength="14.3" lengthAdjust="spacingAndGlyphs">0.2</text>
<text x="469.8" y="1372.6" font-size="14" font-weight="bold" textLength="14.3" lengthAdjust="spacingAndGlyphs">0.4</text>
<text x="469.8" y="1399.0" font-size="14" font-weight="bold" textLength="14.3" lengthAdjust="spacingAndGlyphs">0.6</text>
<text x="469.8" y="1425.7" font-size="14" font-weight="bold" textLength="14.3" lengthAdjust="spacingAndGlyphs">0.8</text>
<text x="469.8" y="1451.9" font-size="14" font-weight="bold" textLength="14.3" lengthAdjust="spacingAndGlyphs">1.0</text>
<line x1="650.4" y1="1125.1" x2="903.2" y2="1125.1" stroke="#e6e6e6" stroke-width="1"/><line x1="650.4" y1="1141.9" x2="903.2" y2="1141.9" stroke="#e6e6e6" stroke-width="1"/><line x1="650.4" y1="1158.7" x2="903.2" y2="1158.7" stroke="#e6e6e6" stroke-width="1"/><line x1="650.4" y1="1175.5" x2="903.2" y2="1175.5" stroke="#e6e6e6" stroke-width="1"/><line x1="650.4" y1="1192.3" x2="903.2" y2="1192.3" stroke="#e6e6e6" stroke-width="1"/><line x1="650.4" y1="1209.1" x2="903.2" y2="1209.1" stroke="#e6e6e6" stroke-width="1"/><line x1="650.4" y1="1226.0" x2="903.2" y2="1226.0" stroke="#e6e6e6" stroke-width="1"/><line x1="650.4" y1="1242.8" x2="903.2" y2="1242.8" stroke="#e6e6e6" stroke-width="1"/><line x1="650.4" y1="1259.6" x2="903.2" y2="1259.6" stroke="#e6e6e6" stroke-width="1"/><line x1="650.4" y1="1276.4" x2="903.2" y2="1276.4" stroke="#e6e6e6" stroke-width="1"/><line x1="650.4" y1="1293.2" x2="903.2" y2="1293.2" stroke="#e6e6e6" stroke-width="1"/><line x1="650.4" y1="1310.0" x2="903.2" y2="1310.0" stroke="#e6e6e6" stroke-width="1"/><line x1="650.4" y1="1326.8" x2="903.2" y2="1326.8" stroke="#e6e6e6" stroke-width="1"/><line x1="650.4" y1="1343.6" x2="903.2" y2="1343.6" stroke="#e6e6e6" stroke-width="1"/><line x1="650.4" y1="1360.4" x2="903.2" y2="1360.4" stroke="#e6e6e6" stroke-width="1"/><line x1="650.4" y1="1377.2" x2="903.2" y2="1377.2" stroke="#e6e6e6" stroke-width="1"/><line x1="650.4" y1="1394.1" x2="903.2" y2="1394.1" stroke="#e6e6e6" stroke-width="1"/><line x1="650.4" y1="1410.9" x2="903.2" y2="1410.9" stroke="#e6e6e6" stroke-width="1"/><line x1="650.4" y1="1427.7" x2="903.2" y2="1427.7" stroke="#e6e6e6" stroke-width="1"/><line x1="650.4" y1="1444.5" x2="903.2" y2="1444.5" stroke="#e6e6e6" stroke-width="1"/><line x1="650.4" y1="1461.3" x2="903.2" y2="1461.3" stroke="#e6e6e6" stroke-width="1"/><line x1="650.4" y1="1478.1" x2="903.2" y2="1478.1" stroke="#e6e6e6" stroke-width="1"/><line x1="650.4" y1="1494.9" x2="903.2" y2="1494.9" stroke="#e6e6e6" stroke-width="1"/><line x1="650.4" y1="1511.7" x2="903.2" y2="1511.7" stroke="#e6e6e6" stroke-width="1"/><line x1="650.4" y1="1528.5" x2="903.2" y2="1528.5" stroke="#e6e6e6" stroke-width="1"/><line x1="650.4" y1="1545.3" x2="903.2" y2="1545.3" stroke="#e6e6e6" stroke-width="1"/><line x1="650.4" y1="1562.2" x2="903.2" y2="1562.2" stroke="#e6e6e6" stroke-width="1"/><line x1="650.4" y1="1579.0" x2="903.2" y2="1579.0" stroke="#e6e6e6" stroke-width="1"/><line x1="650.4" y1="1595.8" x2="903.2" y2="1595.8" stroke="#e6e6e6" stroke-width="1"/><line x1="650.4" y1="1612.6" x2="903.2" y2="1612.6" stroke="#e6e6e6" stroke-width="1"/><line x1="650.4" y1="1629.4" x2="903.2" y2="1629.4" stroke="#e6e6e6" stroke-width="1"/><line x1="650.4" y1="1646.2" x2="903.2" y2="1646.2" stroke="#e6e6e6" stroke-width="1"/><line x1="650.4" y1="1663.0" x2="903.2" y2="1663.0" stroke="#e6e6e6" stroke-width="1"/><line x1="650.4" y1="1679.8" x2="903.2" y2="1679.8" stroke="#e6e6e6" stroke-width="1"/><line x1="650.4" y1="1696.6" x2="903.2" y2="1696.6" stroke="#e6e6e6" stroke-width="1"/><line x1="650.4" y1="1713.4" x2="903.2" y2="1713.4" stroke="#e6e6e6" stroke-width="1"/><line x1="650.4" y1="1730.3" x2="903.2" y2="1730.3" stroke="#e6e6e6" stroke-width="1"/><line x1="673.8" y1="1108.2" x2="673.8" y2="1747.1" stroke="#dedede" stroke-width="1"/><line x1="724.2" y1="1108.2" x2="724.2" y2="1747.1" stroke="#dedede" stroke-width="1"/><line x1="824.9" y1="1108.2" x2="824.9" y2="1747.1" stroke="#dedede" stroke-width="1"/><line x1="875.3" y1="1108.2" x2="875.3" y2="1747.1" stroke="#dedede" stroke-width="1"/><line x1="774.4" y1="1108.2" x2="774.4" y2="1747.1" stroke="#8a8a8a" stroke-width="1" stroke-dasharray="3,2"/>
<line x1="774.4" y1="1125.1" x2="655" y2="1125.1" stroke="#FF1010" stroke-width="1.6"/><line x1="774.4" y1="1141.9" x2="710" y2="1141.9" stroke="#FF0000" stroke-width="1.6"/><line x1="774.4" y1="1158.7" x2="723.4" y2="1158.7" stroke="#FF0000" stroke-width="1.6"/><line x1="774.4" y1="1175.5" x2="724.2" y2="1175.5" stroke="#F00000" stroke-width="1.6"/><line x1="774.4" y1="1192.3" x2="728.3" y2="1192.3" stroke="#F04040" stroke-width="1.6"/><line x1="774.4" y1="1209.1" x2="729" y2="1209.1" stroke="#F04040" stroke-width="1.6"/><line x1="774.4" y1="1226.0" x2="737.6" y2="1226.0" stroke="#F05050" stroke-width="1.6"/><line x1="774.4" y1="1242.8" x2="739" y2="1242.8" stroke="#F8A0A0" stroke-width="1.6"/><line x1="774.4" y1="1259.6" x2="740.3" y2="1259.6" stroke="#F07070" stroke-width="1.6"/><line x1="774.4" y1="1276.4" x2="741.7" y2="1276.4" stroke="#F08080" stroke-width="1.6"/><line x1="774.4" y1="1293.2" x2="741.7" y2="1293.2" stroke="#F05050" stroke-width="1.6"/><line x1="774.4" y1="1310.0" x2="745.7" y2="1310.0" stroke="#F02020" stroke-width="1.6"/><line x1="774.4" y1="1326.8" x2="749.2" y2="1326.8" stroke="#F06060" stroke-width="1.6"/><line x1="774.4" y1="1343.6" x2="751" y2="1343.6" stroke="#F06060" stroke-width="1.6"/><line x1="774.4" y1="1360.4" x2="752.4" y2="1360.4" stroke="#F03030" stroke-width="1.6"/><line x1="774.4" y1="1377.2" x2="752.4" y2="1377.2" stroke="#F06060" stroke-width="1.6"/><line x1="774.4" y1="1394.1" x2="755.9" y2="1394.1" stroke="#F08080" stroke-width="1.6"/><line x1="774.4" y1="1410.9" x2="756.4" y2="1410.9" stroke="#F05050" stroke-width="1.6"/><line x1="774.4" y1="1427.7" x2="756.4" y2="1427.7" stroke="#F8A0A0" stroke-width="1.6"/><line x1="774.4" y1="1444.5" x2="761.3" y2="1444.5" stroke="#F89090" stroke-width="1.6"/><line x1="774.4" y1="1461.3" x2="763.2" y2="1461.3" stroke="#F8B0B0" stroke-width="1.6"/><line x1="774.4" y1="1478.1" x2="764" y2="1478.1" stroke="#F08080" stroke-width="1.6"/><line x1="774.4" y1="1494.9" x2="769.3" y2="1494.9" stroke="#F8C8C8" stroke-width="1.6"/><line x1="774.4" y1="1511.7" x2="770.7" y2="1511.7" stroke="#FADADA" stroke-width="1.6"/><line x1="774.4" y1="1528.5" x2="772.5" y2="1528.5" stroke="#FBE5E5" stroke-width="1.6"/><line x1="774.4" y1="1545.3" x2="774.4" y2="1545.3" stroke="#FDF0F0" stroke-width="1.6"/><line x1="774.4" y1="1562.2" x2="775.2" y2="1562.2" stroke="#FFF6F6" stroke-width="1.6"/><line x1="774.4" y1="1579.0" x2="776.6" y2="1579.0" stroke="#FCE0E0" stroke-width="1.6"/><line x1="774.4" y1="1595.8" x2="777" y2="1595.8" stroke="#FCE0E0" stroke-width="1.6"/><line x1="774.4" y1="1612.6" x2="777.9" y2="1612.6" stroke="#FAD5D5" stroke-width="1.6"/><line x1="774.4" y1="1629.4" x2="778.7" y2="1629.4" stroke="#FCE0E0" stroke-width="1.6"/><line x1="774.4" y1="1646.2" x2="780.6" y2="1646.2" stroke="#F8C0C0" stroke-width="1.6"/><line x1="774.4" y1="1663.0" x2="783.3" y2="1663.0" stroke="#F8A8A8" stroke-width="1.6"/><line x1="774.4" y1="1679.8" x2="786" y2="1679.8" stroke="#F8A0A0" stroke-width="1.6"/><line x1="774.4" y1="1696.6" x2="790.8" y2="1696.6" stroke="#F07070" stroke-width="1.6"/><line x1="774.4" y1="1713.4" x2="791.3" y2="1713.4" stroke="#F04848" stroke-width="1.6"/><line x1="774.4" y1="1730.3" x2="800.2" y2="1730.3" stroke="#F07070" stroke-width="1.6"/><ellipse cx="655" cy="1125.1" rx="3" ry="3.9" fill="#FF1010"/><ellipse cx="710" cy="1141.9" rx="5" ry="6.5" fill="#FF0000"/><ellipse cx="723.4" cy="1158.7" rx="6.5" ry="8" fill="#FF0000"/><ellipse cx="724.2" cy="1175.5" rx="4.5" ry="5.5" fill="#F00000"/><ellipse cx="728.3" cy="1192.3" rx="3" ry="3.5" fill="#F04040"/><ellipse cx="729" cy="1209.1" rx="3" ry="3.5" fill="#F04040"/><ellipse cx="737.6" cy="1226.0" rx="3.5" ry="4" fill="#F05050"/><ellipse cx="739" cy="1242.8" rx="2.5" ry="3" fill="#F8A0A0"/><ellipse cx="740.3" cy="1259.6" rx="3" ry="3.5" fill="#F07070"/><ellipse cx="741.7" cy="1276.4" rx="3" ry="3.5" fill="#F08080"/><ellipse cx="741.7" cy="1293.2" rx="3.5" ry="4" fill="#F05050"/><ellipse cx="745.7" cy="1310.0" rx="5.5" ry="7" fill="#F02020"/><ellipse cx="749.2" cy="1326.8" rx="3.5" ry="4" fill="#F06060"/><ellipse cx="751" cy="1343.6" rx="3.5" ry="4" fill="#F06060"/><ellipse cx="752.4" cy="1360.4" rx="6" ry="7.5" fill="#F03030"/><ellipse cx="752.4" cy="1377.2" rx="3.5" ry="4" fill="#F06060"/><ellipse cx="755.9" cy="1394.1" rx="3" ry="3.5" fill="#F08080"/><ellipse cx="756.4" cy="1410.9" rx="5.5" ry="7" fill="#F05050"/><ellipse cx="756.4" cy="1427.7" rx="2.5" ry="3" fill="#F8A0A0"/><ellipse cx="761.3" cy="1444.5" rx="4" ry="4.5" fill="#F89090"/><ellipse cx="763.2" cy="1461.3" rx="3" ry="4" fill="#F8B0B0"/><ellipse cx="764" cy="1478.1" rx="6" ry="7.5" fill="#F08080"/><ellipse cx="769.3" cy="1494.9" rx="7" ry="9" fill="#F8C8C8"/><ellipse cx="770.7" cy="1511.7" rx="5" ry="6" fill="#FADADA"/><ellipse cx="772.5" cy="1528.5" rx="4.5" ry="6" fill="#FBE5E5"/><ellipse cx="774.4" cy="1545.3" rx="4.5" ry="5" fill="#FDF0F0"/><ellipse cx="775.2" cy="1562.2" rx="2.5" ry="3" fill="#FFF6F6"/><ellipse cx="776.6" cy="1579.0" rx="9" ry="12" fill="#FCE0E0"/><ellipse cx="777" cy="1595.8" rx="7" ry="9" fill="#FCE0E0"/><ellipse cx="777.9" cy="1612.6" rx="4.5" ry="5.5" fill="#FAD5D5"/><ellipse cx="778.7" cy="1629.4" rx="2.5" ry="3" fill="#FCE0E0"/><ellipse cx="780.6" cy="1646.2" rx="6" ry="7.5" fill="#F8C0C0"/><ellipse cx="783.3" cy="1663.0" rx="6" ry="7.5" fill="#F8A8A8"/><ellipse cx="786" cy="1679.8" rx="5" ry="6" fill="#F8A0A0"/><ellipse cx="790.8" cy="1696.6" rx="4.5" ry="5.5" fill="#F07070"/><ellipse cx="791.3" cy="1713.4" rx="5.5" ry="7" fill="#F04848"/><ellipse cx="800.2" cy="1730.3" rx="3" ry="3.5" fill="#F07070"/>
<rect x="650.4" y="1108.2" width="252.8" height="638.9" fill="none" stroke="#000" stroke-width="1.6"/>
<path d="M644.4 1108.2H650.4" stroke="#000" stroke-width="1.6"/>
<path d="M644.4 1125.1H650.4M644.4 1141.9H650.4M644.4 1158.7H650.4M644.4 1175.5H650.4M644.4 1192.3H650.4M644.4 1209.1H650.4M644.4 1226.0H650.4M644.4 1242.8H650.4M644.4 1259.6H650.4M644.4 1276.4H650.4M644.4 1293.2H650.4M644.4 1310.0H650.4M644.4 1326.8H650.4M644.4 1343.6H650.4M644.4 1360.4H650.4M644.4 1377.2H650.4M644.4 1394.1H650.4M644.4 1410.9H650.4M644.4 1427.7H650.4M644.4 1444.5H650.4M644.4 1461.3H650.4M644.4 1478.1H650.4M644.4 1494.9H650.4M644.4 1511.7H650.4M644.4 1528.5H650.4M644.4 1545.3H650.4M644.4 1562.2H650.4M644.4 1579.0H650.4M644.4 1595.8H650.4M644.4 1612.6H650.4M644.4 1629.4H650.4M644.4 1646.2H650.4M644.4 1663.0H650.4M644.4 1679.8H650.4M644.4 1696.6H650.4M644.4 1713.4H650.4M644.4 1730.3H650.4" stroke="#000" stroke-width="2"/>
<path d="M650.4 1747.1V1753.1M903.2 1747.1V1753.1" stroke="#000" stroke-width="2"/>
<text x="671.0" y="1767.2" font-size="17.5" font-weight="bold" text-anchor="middle" textLength="25.8" lengthAdjust="spacingAndGlyphs">-0.4</text>
<text x="723.4" y="1767.2" font-size="17.5" font-weight="bold" text-anchor="middle" textLength="26.0" lengthAdjust="spacingAndGlyphs">-0.2</text>
<text x="773.0" y="1767.2" font-size="17.5" font-weight="bold" text-anchor="middle" textLength="20.3" lengthAdjust="spacingAndGlyphs">0.0</text>
<text x="824.3" y="1767.2" font-size="17.5" font-weight="bold" text-anchor="middle" textLength="21.5" lengthAdjust="spacingAndGlyphs">0.2</text>
<text x="875.9" y="1767.2" font-size="17.5" font-weight="bold" text-anchor="middle" textLength="21.5" lengthAdjust="spacingAndGlyphs">0.4</text>
<text x="643.7" y="1127.5" font-size="17" font-weight="bold" text-anchor="end">DLBC(N=37)</text>
<text x="643.7" y="1144.4" font-size="17" font-weight="bold" text-anchor="end">STAD(N=409)</text>
<text x="643.7" y="1161.3" font-size="17" font-weight="bold" text-anchor="end">STES(N=589)</text>
<text x="643.7" y="1178.2" font-size="17" font-weight="bold" text-anchor="end">KIRP(N=279)</text>
<text x="643.7" y="1195.1" font-size="17" font-weight="bold" text-anchor="end">MESO(N=82)</text>
<text x="643.7" y="1212.0" font-size="17" font-weight="bold" text-anchor="end">SKCM(N=102)</text>
<text x="643.7" y="1228.8" font-size="17" font-weight="bold" text-anchor="end">LAML(N=116)</text>
<text x="643.7" y="1245.7" font-size="17" font-weight="bold" text-anchor="end">CHOL(N=36)</text>
<text x="643.7" y="1262.6" font-size="17" font-weight="bold" text-anchor="end">UVM(N=79)</text>
<text x="643.7" y="1279.5" font-size="17" font-weight="bold" text-anchor="end">KICH(N=66)</text>
<text x="643.7" y="1296.4" font-size="17" font-weight="bold" text-anchor="end">PAAD(N=171)</text>
<text x="643.7" y="1313.3" font-size="17" font-weight="bold" text-anchor="end">LUAD(N=509)</text>
<text x="643.7" y="1330.2" font-size="17" font-weight="bold" text-anchor="end">ESCA(N=180)</text>
<text x="643.7" y="1347.1" font-size="17" font-weight="bold" text-anchor="end">UCEC(N=175)</text>
<text x="643.7" y="1364.0" font-size="17" font-weight="bold" text-anchor="end">HNSC(N=498)</text>
<text x="643.7" y="1380.8" font-size="17" font-weight="bold" text-anchor="end">PCPG(N=177)</text>
<text x="643.7" y="1397.7" font-size="17" font-weight="bold" text-anchor="end">GBM(N=149)</text>
<text x="643.7" y="1414.6" font-size="17" font-weight="bold" text-anchor="end">BLCA(N=407)</text>
<text x="643.7" y="1431.5" font-size="17" font-weight="bold" text-anchor="end">ACC(N=77)</text>
<text x="643.7" y="1448.4" font-size="17" font-weight="bold" text-anchor="end">SARC(N=234)</text>
<text x="643.7" y="1465.3" font-size="17" font-weight="bold" text-anchor="end">TGCT(N=143)</text>
<text x="643.7" y="1482.2" font-size="17" font-weight="bold" text-anchor="end">PRAD(N=492)</text>
<text x="643.7" y="1499.1" font-size="17" font-weight="bold" text-anchor="end">KIPAN(N=679)</text>
<text x="643.7" y="1516.0" font-size="17" font-weight="bold" text-anchor="end">LIHC(N=357)</text>
<text x="643.7" y="1532.9" font-size="17" font-weight="bold" text-anchor="end">KIRC(N=334)</text>
<text x="643.7" y="1549.8" font-size="17" font-weight="bold" text-anchor="end">OV(N=303)</text>
<text x="643.7" y="1566.6" font-size="17" font-weight="bold" text-anchor="end">READ(N=90)</text>
<text x="643.7" y="1583.5" font-size="17" font-weight="bold" text-anchor="end">BRCA(N=981)</text>
<text x="643.7" y="1600.4" font-size="17" font-weight="bold" text-anchor="end">GBMLGG(N=650)</text>
<text x="643.7" y="1617.3" font-size="17" font-weight="bold" text-anchor="end">CESC(N=286)</text>
<text x="643.7" y="1634.2" font-size="17" font-weight="bold" text-anchor="end">UCS(N=57)</text>
<text x="643.7" y="1651.1" font-size="17" font-weight="bold" text-anchor="end">LGG(N=501)</text>
<text x="643.7" y="1668.0" font-size="17" font-weight="bold" text-anchor="end">THCA(N=489)</text>
<text x="643.7" y="1684.9" font-size="17" font-weight="bold" text-anchor="end">COADREAD(N=372)</text>
<text x="643.7" y="1701.8" font-size="17" font-weight="bold" text-anchor="end">COAD(N=282)</text>
<text x="643.7" y="1718.7" font-size="17" font-weight="bold" text-anchor="end">LUSC(N=486)</text>
<text x="643.7" y="1735.5" font-size="17" font-weight="bold" text-anchor="end">THYM(N=118)</text>
<text x="681.3" y="1804.0" font-size="24.5" font-weight="bold" textLength="140.1" lengthAdjust="spacingAndGlyphs">SOX18-TMB</text>
<text x="909.4" y="1102.8" font-size="17" font-weight="bold">Samplesize</text>
<ellipse cx="914" cy="1130.2" rx="2.5" ry="2.5" fill="#000"/>
<ellipse cx="914" cy="1158.6" rx="4" ry="4.2" fill="#000"/>
<ellipse cx="914" cy="1186.5" rx="5.2" ry="6" fill="#000"/>
<ellipse cx="914" cy="1213.7" rx="6.5" ry="7.5" fill="#000"/>
<ellipse cx="914" cy="1241" rx="8" ry="10" fill="#000"/>
<ellipse cx="914" cy="1286.7" rx="9.4" ry="12.5" fill="#000"/>
<path d="M938.2 1130H932.2V1264H938.2M932.2 1156.5H938.2M932.2 1184.5H938.2M932.2 1213H938.2M932.2 1240H938.2" stroke="#000" stroke-width="1.6" fill="none"/>
<text x="941.6" y="1161.5" font-size="14" font-weight="bold" textLength="22.5" lengthAdjust="spacingAndGlyphs">200</text>
<text x="941.6" y="1189.5" font-size="14" font-weight="bold" textLength="22.5" lengthAdjust="spacingAndGlyphs">400</text>
<text x="941.6" y="1218.0" font-size="14" font-weight="bold" textLength="22.5" lengthAdjust="spacingAndGlyphs">600</text>
<text x="941.6" y="1245.0" font-size="14" font-weight="bold" textLength="22.5" lengthAdjust="spacingAndGlyphs">800</text>
<text x="917.0" y="1311.3" font-size="11.5" font-weight="bold" textLength="36.0" lengthAdjust="spacingAndGlyphs">pValue</text>
<defs><linearGradient id="gc2" x1="0" y1="0" x2="0" y2="1"><stop offset="0" stop-color="#FF0000"/><stop offset="0.045" stop-color="#FF0000"/><stop offset="0.055" stop-color="#F04444"/><stop offset="1" stop-color="#FFFFFF"/></linearGradient></defs>
<rect x="908.6" y="1319.7" width="19.1" height="130.6" fill="url(#gc2)"/>
<path d="M927.7 1319.7V1450M927.7 1319.7H932.7M927.7 1345.5H932.7M927.7 1371.5H932.7M927.7 1397.5H932.7M927.7 1424H932.7M927.7 1450H932.7" stroke="#000" stroke-width="1.2" fill="none"/>
<text x="937.0" y="1324.7" font-size="14" font-weight="bold" textLength="14.3" lengthAdjust="spacingAndGlyphs">0.0</text>
<text x="937.0" y="1350.5" font-size="14" font-weight="bold" textLength="14.3" lengthAdjust="spacingAndGlyphs">0.2</text>
<text x="937.0" y="1376.5" font-size="14" font-weight="bold" textLength="14.3" lengthAdjust="spacingAndGlyphs">0.4</text>
<text x="937.0" y="1402.5" font-size="14" font-weight="bold" textLength="14.3" lengthAdjust="spacingAndGlyphs">0.6</text>
<text x="937.0" y="1429.0" font-size="14" font-weight="bold" textLength="14.3" lengthAdjust="spacingAndGlyphs">0.8</text>
<text x="937.0" y="1455.0" font-size="14" font-weight="bold" textLength="14.3" lengthAdjust="spacingAndGlyphs">1.0</text>
<line x1="1121.6" y1="1163.2" x2="1370.2" y2="1163.2" stroke="#e6e6e6" stroke-width="1"/><line x1="1121.6" y1="1180.0" x2="1370.2" y2="1180.0" stroke="#e6e6e6" stroke-width="1"/><line x1="1121.6" y1="1196.9" x2="1370.2" y2="1196.9" stroke="#e6e6e6" stroke-width="1"/><line x1="1121.6" y1="1213.8" x2="1370.2" y2="1213.8" stroke="#e6e6e6" stroke-width="1"/><line x1="1121.6" y1="1230.6" x2="1370.2" y2="1230.6" stroke="#e6e6e6" stroke-width="1"/><line x1="1121.6" y1="1247.5" x2="1370.2" y2="1247.5" stroke="#e6e6e6" stroke-width="1"/><line x1="1121.6" y1="1264.3" x2="1370.2" y2="1264.3" stroke="#e6e6e6" stroke-width="1"/><line x1="1121.6" y1="1281.2" x2="1370.2" y2="1281.2" stroke="#e6e6e6" stroke-width="1"/><line x1="1121.6" y1="1298.0" x2="1370.2" y2="1298.0" stroke="#e6e6e6" stroke-width="1"/><line x1="1121.6" y1="1314.9" x2="1370.2" y2="1314.9" stroke="#e6e6e6" stroke-width="1"/><line x1="1121.6" y1="1331.7" x2="1370.2" y2="1331.7" stroke="#e6e6e6" stroke-width="1"/><line x1="1121.6" y1="1348.6" x2="1370.2" y2="1348.6" stroke="#e6e6e6" stroke-width="1"/><line x1="1121.6" y1="1365.4" x2="1370.2" y2="1365.4" stroke="#e6e6e6" stroke-width="1"/><line x1="1121.6" y1="1382.2" x2="1370.2" y2="1382.2" stroke="#e6e6e6" stroke-width="1"/><line x1="1121.6" y1="1399.1" x2="1370.2" y2="1399.1" stroke="#e6e6e6" stroke-width="1"/><line x1="1121.6" y1="1416.0" x2="1370.2" y2="1416.0" stroke="#e6e6e6" stroke-width="1"/><line x1="1121.6" y1="1432.8" x2="1370.2" y2="1432.8" stroke="#e6e6e6" stroke-width="1"/><line x1="1121.6" y1="1449.7" x2="1370.2" y2="1449.7" stroke="#e6e6e6" stroke-width="1"/><line x1="1121.6" y1="1466.5" x2="1370.2" y2="1466.5" stroke="#e6e6e6" stroke-width="1"/><line x1="1121.6" y1="1483.4" x2="1370.2" y2="1483.4" stroke="#e6e6e6" stroke-width="1"/><line x1="1121.6" y1="1500.2" x2="1370.2" y2="1500.2" stroke="#e6e6e6" stroke-width="1"/><line x1="1121.6" y1="1517.1" x2="1370.2" y2="1517.1" stroke="#e6e6e6" stroke-width="1"/><line x1="1121.6" y1="1533.9" x2="1370.2" y2="1533.9" stroke="#e6e6e6" stroke-width="1"/><line x1="1121.6" y1="1550.8" x2="1370.2" y2="1550.8" stroke="#e6e6e6" stroke-width="1"/><line x1="1121.6" y1="1567.6" x2="1370.2" y2="1567.6" stroke="#e6e6e6" stroke-width="1"/><line x1="1121.6" y1="1584.5" x2="1370.2" y2="1584.5" stroke="#e6e6e6" stroke-width="1"/><line x1="1121.6" y1="1601.3" x2="1370.2" y2="1601.3" stroke="#e6e6e6" stroke-width="1"/><line x1="1121.6" y1="1618.2" x2="1370.2" y2="1618.2" stroke="#e6e6e6" stroke-width="1"/><line x1="1121.6" y1="1635.0" x2="1370.2" y2="1635.0" stroke="#e6e6e6" stroke-width="1"/><line x1="1121.6" y1="1651.9" x2="1370.2" y2="1651.9" stroke="#e6e6e6" stroke-width="1"/><line x1="1121.6" y1="1668.7" x2="1370.2" y2="1668.7" stroke="#e6e6e6" stroke-width="1"/><line x1="1121.6" y1="1685.6" x2="1370.2" y2="1685.6" stroke="#e6e6e6" stroke-width="1"/><line x1="1178.7" y1="1146.5" x2="1178.7" y2="1702.3" stroke="#dedede" stroke-width="1"/><line x1="1308.4" y1="1146.5" x2="1308.4" y2="1702.3" stroke="#dedede" stroke-width="1"/><line x1="1244.1" y1="1146.5" x2="1244.1" y2="1702.3" stroke="#8a8a8a" stroke-width="1" stroke-dasharray="3,2"/>
<line x1="1244.1" y1="1163.2" x2="1155.3" y2="1163.2" stroke="#9999F5" stroke-width="1.6"/><line x1="1244.1" y1="1180.0" x2="1177.5" y2="1180.0" stroke="#7777F0" stroke-width="1.6"/><line x1="1244.1" y1="1196.9" x2="1180" y2="1196.9" stroke="#2222EE" stroke-width="1.6"/><line x1="1244.1" y1="1213.8" x2="1199.5" y2="1213.8" stroke="#AAAAF5" stroke-width="1.6"/><line x1="1244.1" y1="1230.6" x2="1200.4" y2="1230.6" stroke="#9999F0" stroke-width="1.6"/><line x1="1244.1" y1="1247.5" x2="1206" y2="1247.5" stroke="#7777F0" stroke-width="1.6"/><line x1="1244.1" y1="1264.3" x2="1215.1" y2="1264.3" stroke="#AAAAF5" stroke-width="1.6"/><line x1="1244.1" y1="1281.2" x2="1217" y2="1281.2" stroke="#DDDDF8" stroke-width="1.6"/><line x1="1244.1" y1="1298.0" x2="1218" y2="1298.0" stroke="#AAAAF5" stroke-width="1.6"/><line x1="1244.1" y1="1314.9" x2="1220.7" y2="1314.9" stroke="#7070F0" stroke-width="1.6"/><line x1="1244.1" y1="1331.7" x2="1222.7" y2="1331.7" stroke="#DDDDF8" stroke-width="1.6"/><line x1="1244.1" y1="1348.6" x2="1225.4" y2="1348.6" stroke="#DDDDF8" stroke-width="1.6"/><line x1="1244.1" y1="1365.4" x2="1227.7" y2="1365.4" stroke="#9999F0" stroke-width="1.6"/><line x1="1244.1" y1="1382.2" x2="1231.8" y2="1382.2" stroke="#D0D0F5" stroke-width="1.6"/><line x1="1244.1" y1="1399.1" x2="1236" y2="1399.1" stroke="#DADAF8" stroke-width="1.6"/><line x1="1244.1" y1="1416.0" x2="1236.6" y2="1416.0" stroke="#D5D5F5" stroke-width="1.6"/><line x1="1244.1" y1="1432.8" x2="1239.4" y2="1432.8" stroke="#EEEEF8" stroke-width="1.6"/><line x1="1244.1" y1="1449.7" x2="1239.9" y2="1449.7" stroke="#F5F5FC" stroke-width="1.6"/><line x1="1244.1" y1="1466.5" x2="1240.2" y2="1466.5" stroke="#E8E8FA" stroke-width="1.6"/><line x1="1244.1" y1="1483.4" x2="1243.5" y2="1483.4" stroke="#FAFAFE" stroke-width="1.6"/><line x1="1244.1" y1="1500.2" x2="1249.7" y2="1500.2" stroke="#E0E0F8" stroke-width="1.6"/><line x1="1244.1" y1="1517.1" x2="1251" y2="1517.1" stroke="#E0E0F8" stroke-width="1.6"/><line x1="1244.1" y1="1533.9" x2="1251.3" y2="1533.9" stroke="#DCDCF8" stroke-width="1.6"/><line x1="1244.1" y1="1550.8" x2="1252.7" y2="1550.8" stroke="#DCDCF8" stroke-width="1.6"/><line x1="1244.1" y1="1567.6" x2="1253.8" y2="1567.6" stroke="#EEEEFA" stroke-width="1.6"/><line x1="1244.1" y1="1584.5" x2="1256" y2="1584.5" stroke="#E0E0F8" stroke-width="1.6"/><line x1="1244.1" y1="1601.3" x2="1278.9" y2="1601.3" stroke="#2828EE" stroke-width="1.6"/><line x1="1244.1" y1="1618.2" x2="1281.1" y2="1618.2" stroke="#AAAAF5" stroke-width="1.6"/><line x1="1244.1" y1="1635.0" x2="1285.9" y2="1635.0" stroke="#3030EE" stroke-width="1.6"/><line x1="1244.1" y1="1651.9" x2="1310.4" y2="1651.9" stroke="#AAAAF5" stroke-width="1.6"/><line x1="1244.1" y1="1668.7" x2="1322.3" y2="1668.7" stroke="#1818EE" stroke-width="1.6"/><line x1="1244.1" y1="1685.6" x2="1361" y2="1685.6" stroke="#5555F0" stroke-width="1.6"/><ellipse cx="1155.3" cy="1163.2" rx="2.5" ry="3" fill="#9999F5"/><ellipse cx="1177.5" cy="1180.0" rx="3" ry="3.5" fill="#7777F0"/><ellipse cx="1180" cy="1196.9" rx="3.5" ry="4" fill="#2222EE"/><ellipse cx="1199.5" cy="1213.8" rx="3" ry="3.5" fill="#AAAAF5"/><ellipse cx="1200.4" cy="1230.6" rx="3" ry="3.5" fill="#9999F0"/><ellipse cx="1206" cy="1247.5" rx="3.5" ry="4" fill="#7777F0"/><ellipse cx="1215.1" cy="1264.3" rx="4" ry="4.5" fill="#AAAAF5"/><ellipse cx="1217" cy="1281.2" rx="2.5" ry="3" fill="#DDDDF8"/><ellipse cx="1218" cy="1298.0" rx="3.5" ry="4" fill="#AAAAF5"/><ellipse cx="1220.7" cy="1314.9" rx="6.5" ry="8" fill="#7070F0"/><ellipse cx="1222.7" cy="1331.7" rx="2.5" ry="3" fill="#DDDDF8"/><ellipse cx="1225.4" cy="1348.6" rx="3" ry="3.5" fill="#DDDDF8"/><ellipse cx="1227.7" cy="1365.4" rx="6" ry="8" fill="#9999F0"/><ellipse cx="1231.8" cy="1382.2" rx="4" ry="5" fill="#D0D0F5"/><ellipse cx="1236" cy="1399.1" rx="5.5" ry="6.5" fill="#DADAF8"/><ellipse cx="1236.6" cy="1416.0" rx="6" ry="7.5" fill="#D5D5F5"/><ellipse cx="1239.4" cy="1432.8" rx="3.5" ry="4.5" fill="#EEEEF8"/><ellipse cx="1239.9" cy="1449.7" rx="3" ry="3.5" fill="#F5F5FC"/><ellipse cx="1240.2" cy="1466.5" rx="6.5" ry="8" fill="#E8E8FA"/><ellipse cx="1243.5" cy="1483.4" rx="9" ry="11" fill="#FAFAFE"/><ellipse cx="1249.7" cy="1500.2" rx="5.5" ry="6.5" fill="#E0E0F8"/><ellipse cx="1251" cy="1517.1" rx="3.5" ry="4.5" fill="#E0E0F8"/><ellipse cx="1251.3" cy="1533.9" rx="5.5" ry="6.5" fill="#DCDCF8"/><ellipse cx="1252.7" cy="1550.8" rx="4.5" ry="5.5" fill="#DCDCF8"/><ellipse cx="1253.8" cy="1567.6" rx="3" ry="3.5" fill="#EEEEFA"/><ellipse cx="1256" cy="1584.5" rx="3.5" ry="4" fill="#E0E0F8"/><ellipse cx="1278.9" cy="1601.3" rx="7.5" ry="9" fill="#2828EE"/><ellipse cx="1281.1" cy="1618.2" rx="3" ry="3.5" fill="#AAAAF5"/><ellipse cx="1285.9" cy="1635.0" rx="6.5" ry="7.5" fill="#3030EE"/><ellipse cx="1310.4" cy="1651.9" rx="2.5" ry="3" fill="#AAAAF5"/><ellipse cx="1322.3" cy="1668.7" rx="4.5" ry="5" fill="#1818EE"/><ellipse cx="1361" cy="1685.6" rx="2.5" ry="3" fill="#5555F0"/>
<rect x="1121.6" y="1146.5" width="248.6" height="555.8" fill="none" stroke="#000" stroke-width="2"/>
<path d="M1115.6 1163.2H1121.6M1115.6 1180.0H1121.6M1115.6 1196.9H1121.6M1115.6 1213.8H1121.6M1115.6 1230.6H1121.6M1115.6 1247.5H1121.6M1115.6 1264.3H1121.6M1115.6 1281.2H1121.6M1115.6 1298.0H1121.6M1115.6 1314.9H1121.6M1115.6 1331.7H1121.6M1115.6 1348.6H1121.6M1115.6 1365.4H1121.6M1115.6 1382.2H1121.6M1115.6 1399.1H1121.6M1115.6 1416.0H1121.6M1115.6 1432.8H1121.6M1115.6 1449.7H1121.6M1115.6 1466.5H1121.6M1115.6 1483.4H1121.6M1115.6 1500.2H1121.6M1115.6 1517.1H1121.6M1115.6 1533.9H1121.6M1115.6 1550.8H1121.6M1115.6 1567.6H1121.6M1115.6 1584.5H1121.6M1115.6 1601.3H1121.6M1115.6 1618.2H1121.6M1115.6 1635.0H1121.6M1115.6 1651.9H1121.6M1115.6 1668.7H1121.6M1115.6 1685.6H1121.6" stroke="#000" stroke-width="2"/>
<path d="M1121.6 1702.3V1708.3M1178.7 1702.3V1708.3M1244.1 1702.3V1708.3M1308.4 1702.3V1708.3M1370.2 1702.3V1708.3" stroke="#000" stroke-width="2"/>
<text x="1118.2" y="1721.3" font-size="17.5" font-weight="bold" text-anchor="middle" textLength="25.8" lengthAdjust="spacingAndGlyphs">-0.4</text>
<text x="1174.8" y="1721.3" font-size="17.5" font-weight="bold" text-anchor="middle" textLength="26.0" lengthAdjust="spacingAndGlyphs">-0.2</text>
<text x="1245.5" y="1721.3" font-size="17.5" font-weight="bold" text-anchor="middle" textLength="20.3" lengthAdjust="spacingAndGlyphs">0.0</text>
<text x="1309.5" y="1721.3" font-size="17.5" font-weight="bold" text-anchor="middle" textLength="21.5" lengthAdjust="spacingAndGlyphs">0.2</text>
<text x="1368.9" y="1721.3" font-size="17.5" font-weight="bold" text-anchor="middle" textLength="21.5" lengthAdjust="spacingAndGlyphs">0.4</text>
<text x="1115.4" y="1167.8" font-size="17" font-weight="bold" text-anchor="end">UVM(N=21)</text>
<text x="1115.4" y="1184.7" font-size="17" font-weight="bold" text-anchor="end">UCS(N=49)</text>
<text x="1115.4" y="1201.6" font-size="17" font-weight="bold" text-anchor="end">UCEC(N=128)</text>
<text x="1115.4" y="1218.5" font-size="17" font-weight="bold" text-anchor="end">ACC(N=36)</text>
<text x="1115.4" y="1235.4" font-size="17" font-weight="bold" text-anchor="end">MESO(N=65)</text>
<text x="1115.4" y="1252.3" font-size="17" font-weight="bold" text-anchor="end">KIRP(N=132)</text>
<text x="1115.4" y="1269.2" font-size="17" font-weight="bold" text-anchor="end">THCA(N=149)</text>
<text x="1115.4" y="1286.1" font-size="17" font-weight="bold" text-anchor="end">CHOL(N=29)</text>
<text x="1115.4" y="1303.0" font-size="17" font-weight="bold" text-anchor="end">PAAD(N=111)</text>
<text x="1115.4" y="1319.9" font-size="17" font-weight="bold" text-anchor="end">HNSC(N=434)</text>
<text x="1115.4" y="1336.8" font-size="17" font-weight="bold" text-anchor="end">THYM(N=49)</text>
<text x="1115.4" y="1353.7" font-size="17" font-weight="bold" text-anchor="end">SKCM(N=72)</text>
<text x="1115.4" y="1370.6" font-size="17" font-weight="bold" text-anchor="end">LUAD(N=419)</text>
<text x="1115.4" y="1387.5" font-size="17" font-weight="bold" text-anchor="end">CESC(N=169)</text>
<text x="1115.4" y="1404.4" font-size="17" font-weight="bold" text-anchor="end">BLCA(N=332)</text>
<text x="1115.4" y="1421.3" font-size="17" font-weight="bold" text-anchor="end">LUSC(N=391)</text>
<text x="1115.4" y="1438.2" font-size="17" font-weight="bold" text-anchor="end">SARC(N=171)</text>
<text x="1115.4" y="1455.1" font-size="17" font-weight="bold" text-anchor="end">READ(N=78)</text>
<text x="1115.4" y="1472.0" font-size="17" font-weight="bold" text-anchor="end">KIPAN(N=495)</text>
<text x="1115.4" y="1488.9" font-size="17" font-weight="bold" text-anchor="end">BRCA(N=854)</text>
<text x="1115.4" y="1505.8" font-size="17" font-weight="bold" text-anchor="end">KIRC(N=333)</text>
<text x="1115.4" y="1522.7" font-size="17" font-weight="bold" text-anchor="end">LIHC(N=154)</text>
<text x="1115.4" y="1539.6" font-size="17" font-weight="bold" text-anchor="end">COADREAD(N=322)</text>
<text x="1115.4" y="1556.5" font-size="17" font-weight="bold" text-anchor="end">COAD(N=244)</text>
<text x="1115.4" y="1573.4" font-size="17" font-weight="bold" text-anchor="end">PCPG(N=60)</text>
<text x="1115.4" y="1590.3" font-size="17" font-weight="bold" text-anchor="end">GBM(N=117)</text>
<text x="1115.4" y="1607.2" font-size="17" font-weight="bold" text-anchor="end">GBMLGG(N=520)</text>
<text x="1115.4" y="1624.1" font-size="17" font-weight="bold" text-anchor="end">TGCT(N=89)</text>
<text x="1115.4" y="1641.0" font-size="17" font-weight="bold" text-anchor="end">LGG(N=403)</text>
<text x="1115.4" y="1657.9" font-size="17" font-weight="bold" text-anchor="end">DLBC(N=25)</text>
<text x="1115.4" y="1674.8" font-size="17" font-weight="bold" text-anchor="end">PRAD(N=179)</text>
<text x="1115.4" y="1691.7" font-size="17" font-weight="bold" text-anchor="end">KICH(N=30)</text>
<text x="1147.5" y="1802.0" font-size="24.5" font-weight="bold" textLength="139.2" lengthAdjust="spacingAndGlyphs">SOX11-NEO</text>
<text x="1381.4" y="1147.8" font-size="17" font-weight="bold">Samplesize</text>
<ellipse cx="1380" cy="1165.1" rx="2.5" ry="2.5" fill="#000"/>
<ellipse cx="1380" cy="1189.6" rx="3.9" ry="3.9" fill="#000"/>
<ellipse cx="1380" cy="1214.1" rx="5.3" ry="5.6" fill="#000"/>
<ellipse cx="1380" cy="1238.4" rx="6.6" ry="7" fill="#000"/>
<ellipse cx="1380" cy="1262" rx="8" ry="8.6" fill="#000"/>
<ellipse cx="1380" cy="1286.5" rx="9.5" ry="10" fill="#000"/>
<path d="M1404 1165H1398V1286.5H1404M1398 1183.5H1404M1398 1199.4H1404M1398 1218.9H1404M1398 1234.7H1404M1398 1254.2H1404M1398 1271H1404" stroke="#000" stroke-width="1.6" fill="none"/>
<text x="1403.0" y="1188.5" font-size="14" font-weight="bold" textLength="22.5" lengthAdjust="spacingAndGlyphs">100</text>
<text x="1403.0" y="1204.4" font-size="14" font-weight="bold" textLength="22.5" lengthAdjust="spacingAndGlyphs">200</text>
<text x="1403.0" y="1223.9" font-size="14" font-weight="bold" textLength="22.5" lengthAdjust="spacingAndGlyphs">300</text>
<text x="1403.0" y="1239.7" font-size="14" font-weight="bold" textLength="22.5" lengthAdjust="spacingAndGlyphs">400</text>
<text x="1403.0" y="1259.2" font-size="14" font-weight="bold" textLength="22.5" lengthAdjust="spacingAndGlyphs">500</text>
<text x="1403.0" y="1276.0" font-size="14" font-weight="bold" textLength="22.5" lengthAdjust="spacingAndGlyphs">600</text>
<text x="1382.0" y="1326.0" font-size="11.5" font-weight="bold" textLength="36.0" lengthAdjust="spacingAndGlyphs">pValue</text>
<defs><linearGradient id="gc3" x1="0" y1="0" x2="0" y2="1"><stop offset="0" stop-color="#0000FF"/><stop offset="0.045" stop-color="#0000FF"/><stop offset="0.055" stop-color="#4444F0"/><stop offset="1" stop-color="#FFFFFF"/></linearGradient></defs>
<rect x="1375" y="1335.8" width="19.0" height="115.2" fill="url(#gc3)"/>
<path d="M1394 1335.8V1454.2M1394 1335.8H1399M1394 1359.5H1399M1394 1383.2H1399M1394 1406.9H1399M1394 1430.6H1399M1394 1454.2H1399" stroke="#000" stroke-width="1.2" fill="none"/>
<text x="1403.0" y="1340.8" font-size="14" font-weight="bold" textLength="14.3" lengthAdjust="spacingAndGlyphs">0.0</text>
<text x="1403.0" y="1364.5" font-size="14" font-weight="bold" textLength="14.3" lengthAdjust="spacingAndGlyphs">0.2</text>
<text x="1403.0" y="1388.2" font-size="14" font-weight="bold" textLength="14.3" lengthAdjust="spacingAndGlyphs">0.4</text>
<text x="1403.0" y="1411.9" font-size="14" font-weight="bold" textLength="14.3" lengthAdjust="spacingAndGlyphs">0.6</text>
<text x="1403.0" y="1435.6" font-size="14" font-weight="bold" textLength="14.3" lengthAdjust="spacingAndGlyphs">0.8</text>
<text x="1403.0" y="1459.2" font-size="14" font-weight="bold" textLength="14.3" lengthAdjust="spacingAndGlyphs">1.0</text>
<line x1="1618.8" y1="1169.3" x2="1867.4" y2="1169.3" stroke="#e6e6e6" stroke-width="1"/><line x1="1618.8" y1="1186.1" x2="1867.4" y2="1186.1" stroke="#e6e6e6" stroke-width="1"/><line x1="1618.8" y1="1203.0" x2="1867.4" y2="1203.0" stroke="#e6e6e6" stroke-width="1"/><line x1="1618.8" y1="1219.8" x2="1867.4" y2="1219.8" stroke="#e6e6e6" stroke-width="1"/><line x1="1618.8" y1="1236.6" x2="1867.4" y2="1236.6" stroke="#e6e6e6" stroke-width="1"/><line x1="1618.8" y1="1253.5" x2="1867.4" y2="1253.5" stroke="#e6e6e6" stroke-width="1"/><line x1="1618.8" y1="1270.3" x2="1867.4" y2="1270.3" stroke="#e6e6e6" stroke-width="1"/><line x1="1618.8" y1="1287.1" x2="1867.4" y2="1287.1" stroke="#e6e6e6" stroke-width="1"/><line x1="1618.8" y1="1303.9" x2="1867.4" y2="1303.9" stroke="#e6e6e6" stroke-width="1"/><line x1="1618.8" y1="1320.8" x2="1867.4" y2="1320.8" stroke="#e6e6e6" stroke-width="1"/><line x1="1618.8" y1="1337.6" x2="1867.4" y2="1337.6" stroke="#e6e6e6" stroke-width="1"/><line x1="1618.8" y1="1354.4" x2="1867.4" y2="1354.4" stroke="#e6e6e6" stroke-width="1"/><line x1="1618.8" y1="1371.3" x2="1867.4" y2="1371.3" stroke="#e6e6e6" stroke-width="1"/><line x1="1618.8" y1="1388.1" x2="1867.4" y2="1388.1" stroke="#e6e6e6" stroke-width="1"/><line x1="1618.8" y1="1404.9" x2="1867.4" y2="1404.9" stroke="#e6e6e6" stroke-width="1"/><line x1="1618.8" y1="1421.8" x2="1867.4" y2="1421.8" stroke="#e6e6e6" stroke-width="1"/><line x1="1618.8" y1="1438.6" x2="1867.4" y2="1438.6" stroke="#e6e6e6" stroke-width="1"/><line x1="1618.8" y1="1455.4" x2="1867.4" y2="1455.4" stroke="#e6e6e6" stroke-width="1"/><line x1="1618.8" y1="1472.2" x2="1867.4" y2="1472.2" stroke="#e6e6e6" stroke-width="1"/><line x1="1618.8" y1="1489.1" x2="1867.4" y2="1489.1" stroke="#e6e6e6" stroke-width="1"/><line x1="1618.8" y1="1505.9" x2="1867.4" y2="1505.9" stroke="#e6e6e6" stroke-width="1"/><line x1="1618.8" y1="1522.7" x2="1867.4" y2="1522.7" stroke="#e6e6e6" stroke-width="1"/><line x1="1618.8" y1="1539.6" x2="1867.4" y2="1539.6" stroke="#e6e6e6" stroke-width="1"/><line x1="1618.8" y1="1556.4" x2="1867.4" y2="1556.4" stroke="#e6e6e6" stroke-width="1"/><line x1="1618.8" y1="1573.2" x2="1867.4" y2="1573.2" stroke="#e6e6e6" stroke-width="1"/><line x1="1618.8" y1="1590.0" x2="1867.4" y2="1590.0" stroke="#e6e6e6" stroke-width="1"/><line x1="1618.8" y1="1606.9" x2="1867.4" y2="1606.9" stroke="#e6e6e6" stroke-width="1"/><line x1="1618.8" y1="1623.7" x2="1867.4" y2="1623.7" stroke="#e6e6e6" stroke-width="1"/><line x1="1618.8" y1="1640.5" x2="1867.4" y2="1640.5" stroke="#e6e6e6" stroke-width="1"/><line x1="1618.8" y1="1657.4" x2="1867.4" y2="1657.4" stroke="#e6e6e6" stroke-width="1"/><line x1="1618.8" y1="1674.2" x2="1867.4" y2="1674.2" stroke="#e6e6e6" stroke-width="1"/><line x1="1618.8" y1="1691.0" x2="1867.4" y2="1691.0" stroke="#e6e6e6" stroke-width="1"/><line x1="1660.7" y1="1151.7" x2="1660.7" y2="1707.6" stroke="#dedede" stroke-width="1"/><line x1="1700.8" y1="1151.7" x2="1700.8" y2="1707.6" stroke="#dedede" stroke-width="1"/><line x1="1780.7" y1="1151.7" x2="1780.7" y2="1707.6" stroke="#dedede" stroke-width="1"/><line x1="1820.6" y1="1151.7" x2="1820.6" y2="1707.6" stroke="#dedede" stroke-width="1"/><line x1="1860.6" y1="1151.7" x2="1860.6" y2="1707.6" stroke="#dedede" stroke-width="1"/><line x1="1740.6" y1="1151.7" x2="1740.6" y2="1707.6" stroke="#8a8a8a" stroke-width="1" stroke-dasharray="3,2"/>
<line x1="1740.6" y1="1169.3" x2="1689.7" y2="1169.3" stroke="#7777F0" stroke-width="1.6"/><line x1="1740.6" y1="1186.1" x2="1709.5" y2="1186.1" stroke="#3A3AEE" stroke-width="1.6"/><line x1="1740.6" y1="1203.0" x2="1710.3" y2="1203.0" stroke="#8888F0" stroke-width="1.6"/><line x1="1740.6" y1="1219.8" x2="1715" y2="1219.8" stroke="#7777F0" stroke-width="1.6"/><line x1="1740.6" y1="1236.6" x2="1716.8" y2="1236.6" stroke="#AAAAF5" stroke-width="1.6"/><line x1="1740.6" y1="1253.5" x2="1717" y2="1253.5" stroke="#AAAAF5" stroke-width="1.6"/><line x1="1740.6" y1="1270.3" x2="1722.2" y2="1270.3" stroke="#CCCCF8" stroke-width="1.6"/><line x1="1740.6" y1="1287.1" x2="1726.3" y2="1287.1" stroke="#AAAAF5" stroke-width="1.6"/><line x1="1740.6" y1="1303.9" x2="1726.3" y2="1303.9" stroke="#8080F0" stroke-width="1.6"/><line x1="1740.6" y1="1320.8" x2="1727.9" y2="1320.8" stroke="#5A5AEE" stroke-width="1.6"/><line x1="1740.6" y1="1337.6" x2="1729.3" y2="1337.6" stroke="#5A5AEE" stroke-width="1.6"/><line x1="1740.6" y1="1354.4" x2="1729.8" y2="1354.4" stroke="#8888F0" stroke-width="1.6"/><line x1="1740.6" y1="1371.3" x2="1730.4" y2="1371.3" stroke="#8080F0" stroke-width="1.6"/><line x1="1740.6" y1="1388.1" x2="1735.2" y2="1388.1" stroke="#C8C8F5" stroke-width="1.6"/><line x1="1740.6" y1="1404.9" x2="1736.6" y2="1404.9" stroke="#D0D0F5" stroke-width="1.6"/><line x1="1740.6" y1="1421.8" x2="1738.8" y2="1421.8" stroke="#E0E0F8" stroke-width="1.6"/><line x1="1740.6" y1="1438.6" x2="1741.5" y2="1438.6" stroke="#F8F8FC" stroke-width="1.6"/><line x1="1740.6" y1="1455.4" x2="1743.4" y2="1455.4" stroke="#E8E8FA" stroke-width="1.6"/><line x1="1740.6" y1="1472.2" x2="1745.3" y2="1472.2" stroke="#EEEEFA" stroke-width="1.6"/><line x1="1740.6" y1="1489.1" x2="1746.1" y2="1489.1" stroke="#D5D5F8" stroke-width="1.6"/><line x1="1740.6" y1="1505.9" x2="1746.1" y2="1505.9" stroke="#D8D8F8" stroke-width="1.6"/><line x1="1740.6" y1="1522.7" x2="1746.6" y2="1522.7" stroke="#D5D5F8" stroke-width="1.6"/><line x1="1740.6" y1="1539.6" x2="1753.4" y2="1539.6" stroke="#C8C8F5" stroke-width="1.6"/><line x1="1740.6" y1="1556.4" x2="1754.2" y2="1556.4" stroke="#DDDDF8" stroke-width="1.6"/><line x1="1740.6" y1="1573.2" x2="1754.7" y2="1573.2" stroke="#8080F0" stroke-width="1.6"/><line x1="1740.6" y1="1590.0" x2="1756.1" y2="1590.0" stroke="#8888F0" stroke-width="1.6"/><line x1="1740.6" y1="1606.9" x2="1762.3" y2="1606.9" stroke="#5555F0" stroke-width="1.6"/><line x1="1740.6" y1="1623.7" x2="1769.6" y2="1623.7" stroke="#6060F0" stroke-width="1.6"/><line x1="1740.6" y1="1640.5" x2="1770.4" y2="1640.5" stroke="#9090F0" stroke-width="1.6"/><line x1="1740.6" y1="1657.4" x2="1775.9" y2="1657.4" stroke="#9999F5" stroke-width="1.6"/><line x1="1740.6" y1="1674.2" x2="1811.6" y2="1674.2" stroke="#2222EE" stroke-width="1.6"/><line x1="1740.6" y1="1691.0" x2="1857.9" y2="1691.0" stroke="#1010EE" stroke-width="1.6"/><ellipse cx="1689.7" cy="1169.3" rx="2.5" ry="3" fill="#7777F0"/><ellipse cx="1709.5" cy="1186.1" rx="4" ry="4.5" fill="#3A3AEE"/><ellipse cx="1710.3" cy="1203.0" rx="3" ry="3.5" fill="#8888F0"/><ellipse cx="1715" cy="1219.8" rx="3.5" ry="4" fill="#7777F0"/><ellipse cx="1716.8" cy="1236.6" rx="3" ry="3.5" fill="#AAAAF5"/><ellipse cx="1717" cy="1253.5" rx="2.5" ry="3" fill="#AAAAF5"/><ellipse cx="1722.2" cy="1270.3" rx="2.5" ry="3" fill="#CCCCF8"/><ellipse cx="1726.3" cy="1287.1" rx="3.5" ry="4" fill="#AAAAF5"/><ellipse cx="1726.3" cy="1303.9" rx="4.5" ry="5.5" fill="#8080F0"/><ellipse cx="1727.9" cy="1320.8" rx="8.5" ry="10" fill="#5A5AEE"/><ellipse cx="1729.3" cy="1337.6" rx="9.5" ry="11" fill="#5A5AEE"/><ellipse cx="1729.8" cy="1354.4" rx="6" ry="7" fill="#8888F0"/><ellipse cx="1730.4" cy="1371.3" rx="6.5" ry="7.5" fill="#8080F0"/><ellipse cx="1735.2" cy="1388.1" rx="5.5" ry="6.5" fill="#C8C8F5"/><ellipse cx="1736.6" cy="1404.9" rx="6.5" ry="7.5" fill="#D0D0F5"/><ellipse cx="1738.8" cy="1421.8" rx="6.5" ry="8" fill="#E0E0F8"/><ellipse cx="1741.5" cy="1438.6" rx="4.5" ry="5" fill="#F8F8FC"/><ellipse cx="1743.4" cy="1455.4" rx="7.5" ry="9" fill="#E8E8FA"/><ellipse cx="1745.3" cy="1472.2" rx="3" ry="3.5" fill="#EEEEFA"/><ellipse cx="1746.1" cy="1489.1" rx="6.5" ry="8" fill="#D5D5F8"/><ellipse cx="1746.1" cy="1505.9" rx="5.5" ry="7" fill="#D8D8F8"/><ellipse cx="1746.6" cy="1522.7" rx="5.5" ry="7" fill="#D5D5F8"/><ellipse cx="1753.4" cy="1539.6" rx="3" ry="3.5" fill="#C8C8F5"/><ellipse cx="1754.2" cy="1556.4" rx="2.5" ry="3" fill="#DDDDF8"/><ellipse cx="1754.7" cy="1573.2" rx="5.5" ry="6.5" fill="#8080F0"/><ellipse cx="1756.1" cy="1590.0" rx="5" ry="5.5" fill="#8888F0"/><ellipse cx="1762.3" cy="1606.9" rx="4.5" ry="5.5" fill="#5555F0"/><ellipse cx="1769.6" cy="1623.7" rx="4" ry="4.5" fill="#6060F0"/><ellipse cx="1770.4" cy="1640.5" rx="3.5" ry="3.5" fill="#9090F0"/><ellipse cx="1775.9" cy="1657.4" rx="3" ry="3.5" fill="#9999F5"/><ellipse cx="1811.6" cy="1674.2" rx="3" ry="3" fill="#2222EE"/><ellipse cx="1857.9" cy="1691.0" rx="3" ry="3" fill="#1010EE"/>
<rect x="1618.8" y="1151.7" width="248.6" height="555.9" fill="none" stroke="#000" stroke-width="2"/>
<path d="M1612.8 1169.3H1618.8M1612.8 1186.1H1618.8M1612.8 1203.0H1618.8M1612.8 1219.8H1618.8M1612.8 1236.6H1618.8M1612.8 1253.5H1618.8M1612.8 1270.3H1618.8M1612.8 1287.1H1618.8M1612.8 1303.9H1618.8M1612.8 1320.8H1618.8M1612.8 1337.6H1618.8M1612.8 1354.4H1618.8M1612.8 1371.3H1618.8M1612.8 1388.1H1618.8M1612.8 1404.9H1618.8M1612.8 1421.8H1618.8M1612.8 1438.6H1618.8M1612.8 1455.4H1618.8M1612.8 1472.2H1618.8M1612.8 1489.1H1618.8M1612.8 1505.9H1618.8M1612.8 1522.7H1618.8M1612.8 1539.6H1618.8M1612.8 1556.4H1618.8M1612.8 1573.2H1618.8M1612.8 1590.0H1618.8M1612.8 1606.9H1618.8M1612.8 1623.7H1618.8M1612.8 1640.5H1618.8M1612.8 1657.4H1618.8M1612.8 1674.2H1618.8M1612.8 1691.0H1618.8" stroke="#000" stroke-width="2"/>
<path d="M1618.8 1707.6V1713.6M1660.7 1707.6V1713.6M1700.8 1707.6V1713.6M1740.6 1707.6V1713.6M1780.7 1707.6V1713.6M1820.6 1707.6V1713.6M1860.6 1707.6V1713.6" stroke="#000" stroke-width="2"/>
<text x="1616.4" y="1726.5" font-size="17.5" font-weight="bold" text-anchor="middle" textLength="24.9" lengthAdjust="spacingAndGlyphs">-0.6</text>
<text x="1658.4" y="1726.5" font-size="17.5" font-weight="bold" text-anchor="middle" textLength="24.9" lengthAdjust="spacingAndGlyphs">-0.4</text>
<text x="1697.6" y="1726.5" font-size="17.5" font-weight="bold" text-anchor="middle" textLength="24.9" lengthAdjust="spacingAndGlyphs">-0.2</text>
<text x="1741.3" y="1726.5" font-size="17.5" font-weight="bold" text-anchor="middle" textLength="20.3" lengthAdjust="spacingAndGlyphs">0.0</text>
<text x="1780.2" y="1726.5" font-size="17.5" font-weight="bold" text-anchor="middle" textLength="19.5" lengthAdjust="spacingAndGlyphs">0.2</text>
<text x="1820.1" y="1726.5" font-size="17.5" font-weight="bold" text-anchor="middle" textLength="19.7" lengthAdjust="spacingAndGlyphs">0.4</text>
<text x="1860.1" y="1726.5" font-size="17.5" font-weight="bold" text-anchor="middle" textLength="19.5" lengthAdjust="spacingAndGlyphs">0.6</text>
<text x="1612.5" y="1173.5" font-size="17" font-weight="bold" text-anchor="end">CHOL(N=30)</text>
<text x="1612.5" y="1190.4" font-size="17" font-weight="bold" text-anchor="end">SARC(N=177)</text>
<text x="1612.5" y="1207.3" font-size="17" font-weight="bold" text-anchor="end">MESO(N=65)</text>
<text x="1612.5" y="1224.2" font-size="17" font-weight="bold" text-anchor="end">PAAD(N=113)</text>
<text x="1612.5" y="1241.1" font-size="17" font-weight="bold" text-anchor="end">ACC(N=57)</text>
<text x="1612.5" y="1258.0" font-size="17" font-weight="bold" text-anchor="end">DLBC(N=33)</text>
<text x="1612.5" y="1274.9" font-size="17" font-weight="bold" text-anchor="end">UVM(N=38)</text>
<text x="1612.5" y="1291.8" font-size="17" font-weight="bold" text-anchor="end">GBM(N=117)</text>
<text x="1612.5" y="1308.7" font-size="17" font-weight="bold" text-anchor="end">KIRP(N=260)</text>
<text x="1612.5" y="1325.6" font-size="17" font-weight="bold" text-anchor="end">KIPAN(N=636)</text>
<text x="1612.5" y="1342.5" font-size="17" font-weight="bold" text-anchor="end">BRCA(N=857)</text>
<text x="1612.5" y="1359.4" font-size="17" font-weight="bold" text-anchor="end">BLCA(N=375)</text>
<text x="1612.5" y="1376.3" font-size="17" font-weight="bold" text-anchor="end">HNSC(N=446)</text>
<text x="1612.5" y="1393.2" font-size="17" font-weight="bold" text-anchor="end">KIRC(N=337)</text>
<text x="1612.5" y="1410.1" font-size="17" font-weight="bold" text-anchor="end">LUSC(N=447)</text>
<text x="1612.5" y="1427.0" font-size="17" font-weight="bold" text-anchor="end">LUAD(N=462)</text>
<text x="1612.5" y="1443.9" font-size="17" font-weight="bold" text-anchor="end">UCEC(N=166)</text>
<text x="1612.5" y="1460.8" font-size="17" font-weight="bold" text-anchor="end">GBMLGG(N=520)</text>
<text x="1612.5" y="1477.7" font-size="17" font-weight="bold" text-anchor="end">SKCM(N=83)</text>
<text x="1612.5" y="1494.6" font-size="17" font-weight="bold" text-anchor="end">LGG(N=403)</text>
<text x="1612.5" y="1511.5" font-size="17" font-weight="bold" text-anchor="end">PRAD(N=341)</text>
<text x="1612.5" y="1528.4" font-size="17" font-weight="bold" text-anchor="end">LIHC(N=337)</text>
<text x="1612.5" y="1545.3" font-size="17" font-weight="bold" text-anchor="end">READ(N=81)</text>
<text x="1612.5" y="1562.2" font-size="17" font-weight="bold" text-anchor="end">THYM(N=64)</text>
<text x="1612.5" y="1579.1" font-size="17" font-weight="bold" text-anchor="end">COADREAD(N=336)</text>
<text x="1612.5" y="1596.0" font-size="17" font-weight="bold" text-anchor="end">COAD(N=255)</text>
<text x="1612.5" y="1612.9" font-size="17" font-weight="bold" text-anchor="end">CESC(N=244)</text>
<text x="1612.5" y="1629.8" font-size="17" font-weight="bold" text-anchor="end">THCA(N=175)</text>
<text x="1612.5" y="1646.7" font-size="17" font-weight="bold" text-anchor="end">TGCT(N=94)</text>
<text x="1612.5" y="1663.6" font-size="17" font-weight="bold" text-anchor="end">PCPG(N=60)</text>
<text x="1612.5" y="1680.5" font-size="17" font-weight="bold" text-anchor="end">UCS(N=50)</text>
<text x="1612.5" y="1697.4" font-size="17" font-weight="bold" text-anchor="end">KICH(N=39)</text>
<text x="1649.1" y="1802.4" font-size="24.5" font-weight="bold" textLength="142.2" lengthAdjust="spacingAndGlyphs">SOX18-NEO</text>
<text x="1876.6" y="1157.0" font-size="17" font-weight="bold">Samplesize</text>
<ellipse cx="1882.3" cy="1171.4" rx="2.6" ry="2.6" fill="#000"/>
<ellipse cx="1882.3" cy="1195.5" rx="3.8" ry="3.8" fill="#000"/>
<ellipse cx="1882.3" cy="1219.9" rx="5.4" ry="5.4" fill="#000"/>
<ellipse cx="1882.3" cy="1243.8" rx="6.8" ry="7" fill="#000"/>
<ellipse cx="1882.3" cy="1268.1" rx="8.4" ry="8.8" fill="#000"/>
<ellipse cx="1882.3" cy="1292.5" rx="9.5" ry="10" fill="#000"/>
<path d="M1906.5 1171.4H1900.5V1292H1906.5M1900.5 1188.2H1906.5M1900.5 1205H1906.5M1900.5 1224.8H1906.5M1900.5 1240.5H1906.5M1900.5 1260H1906.5M1900.5 1277.1H1906.5" stroke="#000" stroke-width="1.6" fill="none"/>
<text x="1910.0" y="1193.2" font-size="14" font-weight="bold" textLength="22.5" lengthAdjust="spacingAndGlyphs">100</text>
<text x="1910.0" y="1210.0" font-size="14" font-weight="bold" textLength="22.5" lengthAdjust="spacingAndGlyphs">200</text>
<text x="1910.0" y="1229.8" font-size="14" font-weight="bold" textLength="22.5" lengthAdjust="spacingAndGlyphs">300</text>
<text x="1910.0" y="1245.5" font-size="14" font-weight="bold" textLength="22.5" lengthAdjust="spacingAndGlyphs">400</text>
<text x="1910.0" y="1265.0" font-size="14" font-weight="bold" textLength="22.5" lengthAdjust="spacingAndGlyphs">500</text>
<text x="1910.0" y="1282.1" font-size="14" font-weight="bold" textLength="22.5" lengthAdjust="spacingAndGlyphs">600</text>
<text x="1889.6" y="1329.0" font-size="11.5" font-weight="bold" textLength="36.6" lengthAdjust="spacingAndGlyphs">pValue</text>
<defs><linearGradient id="gc4" x1="0" y1="0" x2="0" y2="1"><stop offset="0" stop-color="#0000FF"/><stop offset="0.045" stop-color="#0000FF"/><stop offset="0.055" stop-color="#4444F0"/><stop offset="1" stop-color="#FFFFFF"/></linearGradient></defs>
<rect x="1876.6" y="1342" width="19.8" height="116.0" fill="url(#gc4)"/>
<path d="M1896.4 1342V1458.5M1896.4 1342H1901.4M1896.4 1365.3H1901.4M1896.4 1388.6H1901.4M1896.4 1411.9H1901.4M1896.4 1435.2H1901.4M1896.4 1458.5H1901.4" stroke="#000" stroke-width="1.2" fill="none"/>
<text x="1906.0" y="1347.0" font-size="14" font-weight="bold" textLength="14.3" lengthAdjust="spacingAndGlyphs">0.0</text>
<text x="1906.0" y="1370.3" font-size="14" font-weight="bold" textLength="14.3" lengthAdjust="spacingAndGlyphs">0.2</text>
<text x="1906.0" y="1393.6" font-size="14" font-weight="bold" textLength="14.3" lengthAdjust="spacingAndGlyphs">0.4</text>
<text x="1906.0" y="1416.9" font-size="14" font-weight="bold" textLength="14.3" lengthAdjust="spacingAndGlyphs">0.6</text>
<text x="1906.0" y="1440.2" font-size="14" font-weight="bold" textLength="14.3" lengthAdjust="spacingAndGlyphs">0.8</text>
<text x="1906.0" y="1463.5" font-size="14" font-weight="bold" textLength="14.3" lengthAdjust="spacingAndGlyphs">1.0</text>
</svg>
</body></html>
